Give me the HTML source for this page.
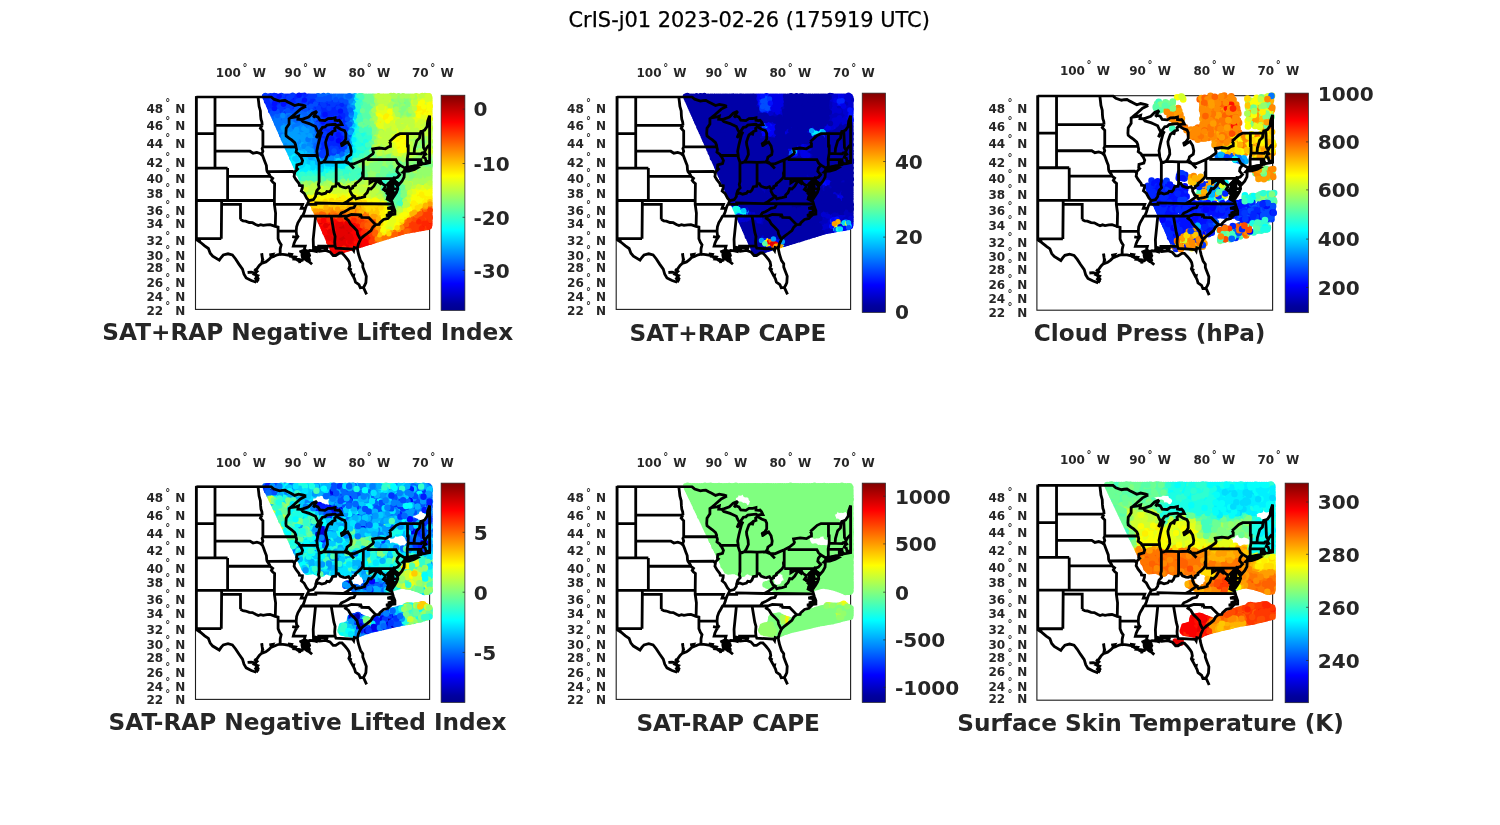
<!DOCTYPE html>
<html lang="en"><head><meta charset="utf-8"><title>CrIS-j01 2023-02-26 (175919 UTC)</title>
<style>html,body{margin:0;padding:0;background:#fff}svg{display:block}text{font-family:"DejaVu Sans","Liberation Sans",sans-serif}.b{font-weight:bold;fill:#262626}.t{font-size:23.2px}.c{font-size:20.1px}.a{font-size:12px}</style></head>
<body>
<svg width="1500" height="825" viewBox="0 0 1500 825">
<defs>
<linearGradient id="jet" x1="0" y1="1" x2="0" y2="0"><stop offset="0%" stop-color="#00008f"/><stop offset="3.1%" stop-color="#00009f"/><stop offset="6.2%" stop-color="#0000bf"/><stop offset="9.4%" stop-color="#0000df"/><stop offset="12.5%" stop-color="#0000ff"/><stop offset="15.6%" stop-color="#0020ff"/><stop offset="18.8%" stop-color="#0040ff"/><stop offset="21.9%" stop-color="#0060ff"/><stop offset="25%" stop-color="#0080ff"/><stop offset="28.1%" stop-color="#009fff"/><stop offset="31.2%" stop-color="#00bfff"/><stop offset="34.4%" stop-color="#00dfff"/><stop offset="37.5%" stop-color="#00ffff"/><stop offset="40.6%" stop-color="#20ffdf"/><stop offset="43.8%" stop-color="#40ffbf"/><stop offset="46.9%" stop-color="#60ff9f"/><stop offset="50%" stop-color="#80ff80"/><stop offset="53.1%" stop-color="#9fff60"/><stop offset="56.2%" stop-color="#bfff40"/><stop offset="59.4%" stop-color="#dfff20"/><stop offset="62.5%" stop-color="#ffff00"/><stop offset="65.6%" stop-color="#ffdf00"/><stop offset="68.8%" stop-color="#ffbf00"/><stop offset="71.9%" stop-color="#ff9f00"/><stop offset="75%" stop-color="#ff8000"/><stop offset="78.1%" stop-color="#ff6000"/><stop offset="81.2%" stop-color="#ff4000"/><stop offset="84.4%" stop-color="#ff2000"/><stop offset="87.5%" stop-color="#ff0000"/><stop offset="90.6%" stop-color="#df0000"/><stop offset="93.8%" stop-color="#bf0000"/><stop offset="96.9%" stop-color="#9f0000"/><stop offset="100%" stop-color="#800000"/></linearGradient>
<g id="map"><path d="M18.6 0L18.6 71.3M0 36.9L18.6 36.9M18.6 28.5L65.8 28.5M18.6 54.4L53.6 54.4L56.7 56.4L60.5 55.6L63.7 56.6L66.2 58.8M0 71.3L31.2 71.3M31.2 71.3L31.2 103.7M31.2 79.6L73.7 79.6M0 103.7L78 103.7M25.2 103.7L25.2 107.6L24.9 141.9M24.9 141.9L2.5 141.9L3 143.5L0 143.5M25.2 107.6L44.1 107.6L44.1 122.6M44.1 122.6L46.6 124L49.2 124.3L52.9 125.7L56.1 125.9L59.2 127.6L61.8 128.8L64.3 127.9L66.8 128.6L70.6 128L73.7 127.8L78.9 129.6M78 103.7L78 107.6L79.2 116.2L78.9 129.6L81.7 130.3L81.7 141.9L83.2 145.6L84.8 147.9L83.8 152.2L83.8 155.8L82.9 158.7M81.7 134.3L99.8 134.4M73.7 79.6L76.3 81.6L75 83.7L76.3 85.3L78.2 86.8L78 103.7M78 107.6L106.2 107.6L104.8 111.5L109 111.5M66.2 58.8L67.1 61.2L68.7 65.5L70 68.8L70.3 73L70.8 74.8L73.1 77.9L73.7 79.6M70.8 74.8L96.2 74.6L98.2 76.5M66.5 50.1L99.5 50.1M65.8 28.5L64 31.5L66.5 34.2L66.5 50.1L65.7 51.8L66.5 54.4L65.5 57L66.2 58.8M61.6 0L62.2 4.8L62.7 9.5L64 14.2L64.2 18.8L64.6 22.5L65.5 25.2L65.8 28.5M93.9 21.1L92.7 21.9L92.7 27.2L89.8 31.5L89.5 36.9L89.8 39.1L92.6 41.3L95.2 43.1L98.3 45.9L99.3 48.3L99.5 50.1L100.2 52.7L99.7 55.3L102.7 57.5L103.1 58.6L104.6 60.4L106.2 63.8L105.3 66.7L100.5 68L100.2 71.3L101.2 72.2L98.3 75.1L98.2 76.5L97.7 79.6L99.6 82.9L102.7 86.9L103 88.6L106 89L105.9 91L104.9 94.2L107.8 96.6L110.3 101.3L112.6 103.9L111.2 106.8L110 108.8L109 111.5L107.8 115.4L106.5 118.5L105.3 119.3L103.7 122.3L101.5 126.1L100.2 129.9L99.8 134.4L100.2 138.2L101.5 139.7L99 143.4L97.7 146.3L96.9 149.3L108.8 149.3L108.1 151.8L109.7 155.1M103.1 58.7L121 58.7M122.7 65.5L122.7 84.9L122 87.7L122.9 91L120.4 93.8L119.4 97.4M166.9 74.3L166.1 76.3L166.4 79.6L164.8 82.1L162 84.7L159.1 86.9L159.1 88.3L156.3 89.8L156.3 91.1L153.8 92.4L152.2 90L149.4 91L147.2 90.7L143.7 89.4L142.1 86.9L139.8 86.9L139.3 89.5L136.1 89.9L134.6 93.4L133 95L130.5 94.6L129.2 96.4L125.4 97.4L122.3 96.2L119.4 97.4L119.1 99.8L116.9 102.9L112.6 103.9M139.8 86.9L139.8 65.5M127.3 65L139.8 65.5L148.4 65.2M110.3 107.6L119.4 107.6L119.4 106.2L147 106.8L159.6 106.8L196.2 107.2M147 106.8L150.6 104.9L153.2 102.9L155.7 101.3L157.8 99.4L155.7 98.2L153.8 94.6L153.8 92.4M157.8 99.4L159.5 102.1L162 101.3L164.8 100.9L168.3 99.8L168.3 98.2L170.8 95.8L172.4 91.8L174.6 92.2L177.4 89.4L180.6 84.1L183.8 86.6L184.5 85.1L183.7 82.9L181.5 82.1L179.6 83.5L176.8 84.1L173.5 86.1L173.5 81.9M166.9 81.9L196.7 81.9M166.9 81.9L166.9 63.1M184.5 85.1L185.9 86.9L188.5 88.6L188.8 90.2L187.2 92.6L189.1 93.4L193.5 96.2M159.6 106.8L157.6 110.8L153.8 111.5L151.3 113.1L148.1 114.9L145 116.2L142.9 119.3M105.3 119.3L150.6 119.3M150.6 119.3L155 117.7L163.6 118.1L163.6 118.9L164.5 118.5L165.3 120.6L172.3 120.8L179.3 127.9M150.6 119.3L149.1 121.6L151.9 123.5L154.1 127.3L157.6 130.7L160.7 134.1L161.3 137.4L163.2 141.1L164.7 141.7M134.8 119.4L137.5 135.4L138.7 139.7L138.3 145.2L138.7 149.3L139.5 151.4L156.3 152.4L157.3 153.9L157.9 150.7L161 151.5M138.7 149.3L122.3 149.3L122.3 150.4L123.5 151.8L122.9 154.4M118.5 119.3L119.1 120L116.8 142.6L117.2 155.1M171.7 60.6L171.7 62.9L199.5 62.9L201.2 66.3L203.6 68.3L200.9 71.6L200.4 74.6L203.3 77.9L201.1 80.4L198.9 81.2L198.2 82.9L198.5 84.1M203.6 68.3L208.6 71.3M198.9 81.1L197.6 81L196.7 81.9L196.7 92.1L201.4 92.1M195.7 96.2L200.1 95.5M210.1 71.3L209.7 70.5L211 69.7L210.8 62.5L211.8 56.5L211.8 49.2L211.1 49.2L211.1 44L211.1 36.9M192.9 44.9L195.4 42.7L199.8 38.7L203.6 36.9L223.7 36.9L224.4 34.7L226.4 34.2L228.2 33.3L230.7 29.7L231.3 24.3L233.2 18.8L233.2 66.3M210.8 62.5L221.9 62.8L224.5 62.8L224.5 63.8L224.8 64.8L226.1 67.1M221.9 62.8L221.9 68.6M217.7 56.7L218.1 51.8L219.3 47.5L220.3 44L223.1 41.3L223.7 36.9M211.8 56.5L225 57L225.6 56.1L228.2 55.5M228.8 53.8L227.1 50.9L226.7 41.3L226.4 34.2M3 143.5L3 143.5M101.5 163.4L105.9 163.1L107.5 161.6L110.9 164.1L112.8 163.1L110.9 160.2L109.7 157.3L111.6 156.2L109.7 155.1L113.4 153.6L117.2 154L119.8 154.7L119.8 151.5L120.4 153.6L122.9 154.4L129.2 153.6L133.6 155.1L136.8 158.7L139.3 158.7L143.1 156.2L145.6 156.2L148.7 159.5L151.3 162.7L152.8 165.2L153.5 168.8L152.5 171.7L154.1 174.5L156.3 178.7L158.2 182.3L159.1 185.4L162.6 187.9L163.9 191L167 190.6L168.3 188.5L169.5 185.8L169.9 179.4L168 174.5L166.4 170.2L166.4 167L164.2 163.8L162.3 158L161.3 153.6L161 151.5L162 147.1L163.9 143L164.7 141.7L167.3 139.3L170.8 136.7L174.6 133.7L176.5 130.3L179.3 127.9L182.8 127.6L183.4 126.1L187.2 122.7L191.6 121.6L193.5 119.6L195.4 117.7L198.5 117.3L198.5 113.9L197 110L196.2 107.2L195.4 104.5L193.5 103.7L192.9 101.3L193.5 99L193.5 96.2L192.9 93.4L192.2 89.4L192.9 86.1L195.1 83.7L194.8 85.3L193.8 88.6L193.5 92.6L196 94.6L195.7 96.2L195.7 102.1L197.9 99L200.1 95.5L201.4 92.1L201.1 89.4L199.2 86.9L198.5 84.1L201.1 86.1L202.3 88.1L205.5 84.5L207.7 80.4L208 75.9L206.4 75.5L208 73.8L208.6 71.3M208 74.6L212.4 74.4L218.1 72.6L221.2 70.9L218.7 70.1L216.8 71.7L212.4 72L209.6 73L208 74.6M210.1 71.3L213.7 70.1L218.1 69.1L221.5 68.6L224.1 68L224.4 65.5L225.6 67.4L226.1 67.1L229.1 66.7L233.2 65.9L233.2 64.6L229.7 64.6L228.8 61.2L226.9 60.4L227.8 58.3L229.4 57.4L228.2 55.5L228.8 53.8L230 51.4L231.9 49.2L233.2 47.9M148.4 65.2L153.2 67.1L157.6 67.1L161.3 65.5L166.9 63.1L171.7 60.6L176.5 57L177.1 55.7L176.5 53.5L176.2 52.2L182.8 51.2L189.1 52L192.2 50.1L194.1 49.6L194.1 46.6L192.9 44.9M148.4 65.2L150 62.9L150.6 60.4L154.4 57.8L154.9 54.4L153.8 49.2L151.3 45.3L148.7 46.6L145.6 48.8L147.5 45.3L149.4 42.2L149.4 36.5L148.1 33.8L144.3 32.4L140.2 29.9L138.3 31.5L138.7 33.8L136.1 34.7L134.9 38.7L135.5 36.9L134.6 36L131.7 38.2L130.8 40.5L129.2 45.3L129.5 48.3L130.8 53.5L131.1 57.8L129.2 62.1L127.3 65L124.8 66L122.7 65.5L121 60.4L121 58.7L120.4 54.4L121.6 48.3L122.9 43.1L124.2 38.2L125.7 35.1L122.3 38.2L119.8 40.9L121.3 37.4L122.3 36L126.1 30.6L128.6 30.2L130.5 28.4L134.2 27.9L138.7 27.5L140.6 28.8L143.7 27.9L145.6 27.9L144.3 25.2L142.8 23.4L141.2 23.8L138.7 23.4L138.7 20.9L135.5 21.7L131.7 21.8L128.6 23.8L123.5 23.4L121.6 20.2L118.5 19.3L116.9 20.6L120.4 14.6L116 16.5L112.2 20.2L107.1 22L104.6 22.7L101.5 22.5L102.1 19.3L99.6 20.2L93.9 21.1L97.7 17.9L104 12.3L109.7 9.5M122.3 36L120.7 33.3L119.1 29.7L114.7 27.7L112.8 26.8L106.5 24.8L104.6 22.7M0 0L74.7 0L77.5 2.4L83.2 4.3L85.7 3.8L88.6 3.6L91.4 5.2L94.5 6.7L98.3 8.8L102.1 7.6L107.1 8.6L109.7 9.5M150.6 64.6L157.6 71.7M195.1 84.5L196.3 87.3L193.5 88.1L195.7 90.6L193.2 91.8L196.3 93.4L195.1 95.8L197.6 96.6L195.4 99.4L196.6 101.3M192.5 93.4L190.7 90.6L192.2 92.6L192.2 89.4L191 87.7L192.5 86.1M167 190.6L170.2 197.6M153.2 173.8L154.7 171.3L153.8 173.1M156.3 178.7L157.3 178.4L156.9 180.8M193.5 103.7L189.7 101.7L193.2 102.5L193.5 101.3L190.3 99.4L193.2 100.2L193.5 99L189.7 95.8L193.2 97.8M196.3 110L191 111.5L195.4 111.9L196.6 114.6L191.6 116.2L195.4 116.9L189.7 118.5L193.5 119.3M0 0L0 143.5M108.1 161.2L112.3 164.6L115.7 167.5M103 155.2L108.1 153.1L111.5 154.4L113.2 158.6L111.5 162L114 162.9M118.2 150.2L122.5 151.4L126.7 150.6L131.8 152.3M95.8 139.8L98.7 140.3L102.1 140.2M-0.4 142.6L4 145.5L8.3 149.1L12 151.7L13.8 156.4L16.3 159.3L22.9 163.3L24.7 160.7L26.9 158.2L31.6 157L36 158.2L39.2 162.2L42.5 167.3L46.1 172.4L47.6 177.5L49.8 181.1L54.9 183.7L60 185.5M60 185.5L61.8 181.8L59.6 178.9L59.2 176L60.3 172.4L62.9 168.7L65.1 166.6L69.4 165.1L72.3 162.9L74.5 160.7L78.1 159.3M51.2 175.7L54.9 175.4L58.5 176.2M65.4 156.7L66.1 162.9L65.4 166.2M57.8 172.4L60.7 174.6L57.8 177.5L61.4 178.9L59.2 181.8L62.1 184.7M78.1 159.3L80.9 158L84.3 157.4L88.6 157.8L92.8 158.6L97.9 161.6L103 164.4L106.8 163.1M65.2 156.5L65.8 160.3L66.7 163.9M72.9 158.2L76.3 157.6L75 159.7L78 158.6M91.5 157.1L95.3 157.6L94.5 159.5L99.2 160.2L97.9 162.2L103 162.7L103.4 166.4" fill="none" stroke="#000" stroke-width="2.8" stroke-linejoin="miter" stroke-miterlimit="3"/><path d="M193.5 96.2L189.1 93.4L187.2 92.6L189.1 94.6L192.9 96.6ZM145.3 49.2L148.4 46.6L147.8 44.9L144.6 46.6ZM193.5 103.7L192.5 101.3L193.2 99L192.9 96.2L189.1 93.4L192.5 93.4L191.9 89.4L192.5 86.1L195.1 83.3L195.4 85.3L194.4 88.6L194.1 92.6L196.3 94.6L196.3 96.2L196 102.1ZM198.2 82.9L198.5 84.1L201.1 86.1L202 88.1L201.1 89.4L199.2 86.9ZM105.3 154.7L109 154.4L110.9 156.2L110.3 159.5L112.8 162.7L110.9 163.8L108.4 160.9L105.9 161.3L105.3 158.7ZM209.6 72.6L212.4 71.7L216.8 71.3L218.7 70.1L218.1 69.1L213.7 70.1L210.1 71.3Z" fill="#000" stroke="#000" stroke-width="2.2" stroke-linejoin="round"/></g>
<clipPath id="fc"><rect x="-1.4" y="-1.4" width="236" height="215.4"/></clipPath>
</defs>
<rect width="1500" height="825" fill="#fff"/>
<text x="749.2" y="27.3" text-anchor="middle" font-size="20.9" fill="#000" stroke="#000" stroke-width="0.25">CrIS-j01 2023-02-26 (175919 UTC)</text>
<g transform="translate(196.4 96.8) scale(1.0000 1.0000)">
<rect x="-0.9" y="-0.2" width="234.1" height="212.79999999999998" fill="none" stroke="#1c1c1c" stroke-width="1.1"/><g fill="none" stroke-linecap="round" stroke-width="5.4"><path stroke="#faff05" d="M220.5 105.3h0M212.0 113.3h0M219.5 13.2h0M224.9 6.7h0M114.6 102.3h0M219.6 99.9h0M223.2 92.0h0M198.8 51.5h0M229.0 13.0h0M233.5 11.2h0M207.4 42.5h0M202.6 40.0h0M167.8 101.7h0M184.1 24.5h0M184.3 119.1h0M133.2 100.2h0M230.4 16.7h0M151.8 99.4h0M123.6 99.3h0M229.9 100.9h0M224.8 106.5h0M212.0 111.1h0M190.3 23.3h0M151.4 94.9h0M140.4 101.0h0M191.2 123.5h0M222.9 96.4h0M191.1 126.2h0M230.7 6.5h0M187.5 13.7h0M164.5 100.2h0M209.2 50.3h0M212.8 114.7h0M231.6 13.3h0M205.4 40.8h0M231.4 11.1h0M185.7 121.3h0M141.7 100.1h0M228.3 102.3h0M221.8 107.7h0M233.5 5.0h0M228.5 4.0h0M221.5 100.2h0M188.3 121.9h0M214.4 105.9h0M228.9 94.4h0"/><path stroke="#57ffa8" d="M174.0 25.1h0M167.3 8.5h0M190.3 91.2h0M204.1 99.2h0M174.0 18.8h0M173.1 2.6h0M169.9 22.5h0M195.0 102.1h0M165.5 -1.2h0M171.7 7.5h0M134.6 82.8h0M173.5 29.0h0M165.5 74.7h0M169.3 13.0h0M154.7 66.0h0M192.7 76.3h0M171.6 54.5h0M187.3 94.5h0M111.1 83.4h0M202.8 86.1h0M187.1 82.9h0M157.8 65.4h0M131.8 82.9h0"/><path stroke="#000fff" d="M126.2 41.5h0M133.7 36.0h0M132.3 26.7h0M142.9 33.7h0M136.4 20.5h0M84.5 4.7h0M132.4 7.4h0M136.6 39.0h0M124.4 15.8h0M131.8 34.4h0M143.5 32.0h0M70.2 4.4h0M128.5 15.7h0M141.5 16.9h0M124.5 39.0h0M68.2 -0.7h0M133.8 33.3h0M137.3 25.9h0"/><path stroke="#42ffbd" d="M171.4 34.3h0M187.7 81.3h0M190.7 94.1h0M196.4 86.5h0M159.0 72.7h0M154.8 79.8h0M116.6 83.0h0M164.2 18.7h0M166.8 77.6h0M200.4 91.8h0M195.7 99.6h0M193.2 99.2h0M164.7 72.7h0M129.8 80.9h0M199.6 97.8h0M169.5 19.0h0M202.6 106.0h0M191.6 97.8h0M166.4 -0.3h0M170.9 29.7h0M199.2 88.6h0M161.4 19.9h0M169.1 57.6h0M158.8 81.1h0M165.9 57.5h0M200.9 99.3h0M199.0 101.1h0"/><path stroke="#d1ff2e" d="M232.7 0.3h0M144.9 92.5h0M113.2 96.9h0M203.9 24.4h0M225.9 -1.4h0M141.8 90.9h0M127.2 91.1h0M223.4 4.8h0M152.8 97.3h0M193.6 45.4h0M171.0 88.7h0M178.0 89.9h0M112.8 90.3h0M161.0 97.7h0M145.4 95.7h0M185.7 43.4h0M174.9 90.0h0M232.4 25.1h0M119.3 96.8h0M149.7 93.3h0M184.1 16.5h0M146.7 88.6h0M202.7 120.2h0M211.7 34.7h0M206.7 115.3h0M179.5 13.4h0M140.5 93.6h0M181.6 47.4h0M209.4 111.0h0M216.9 29.6h0M197.8 15.3h0M223.4 91.2h0M132.3 97.0h0M186.9 -0.7h0M215.1 92.6h0M188.0 40.2h0M205.3 28.9h0M224.1 99.3h0M200.0 36.9h0M197.6 45.8h0M212.6 38.8h0M219.1 18.3h0M204.0 28.0h0M189.9 50.8h0M210.0 38.5h0M227.3 88.3h0M192.5 43.5h0M212.7 102.0h0M198.3 23.4h0M148.2 90.9h0M221.7 23.1h0M222.3 -0.7h0M220.8 7.3h0M233.5 32.1h0M198.5 49.7h0M224.5 22.3h0M200.4 30.2h0M163.3 96.7h0M193.2 125.7h0M126.5 93.5h0M194.8 114.8h0M194.7 11.3h0M187.7 10.0h0M220.3 -0.7h0M224.2 27.2h0M198.8 126.3h0M165.1 96.5h0M173.9 88.3h0M133.9 95.4h0M204.9 114.8h0M209.4 56.6h0M195.4 121.2h0M219.7 26.6h0M192.3 131.3h0M201.7 32.6h0M212.0 97.2h0M216.8 23.7h0"/><path stroke="#ff4c00" d="M133.3 117.7h0M161.0 120.2h0M178.8 143.8h0M216.6 131.8h0M121.1 117.8h0M169.2 130.7h0M128.9 120.0h0M153.2 119.5h0M216.9 133.1h0M178.0 126.2h0M208.7 134.6h0M167.5 130.7h0M221.0 132.4h0M175.1 127.2h0"/><path stroke="#ff0f00" d="M125.5 122.6h0M140.6 123.4h0M127.9 127.3h0M168.5 137.7h0M159.6 127.3h0M140.5 143.6h0M159.8 137.9h0M155.2 124.7h0M168.9 146.8h0M165.1 143.7h0M159.5 134.6h0M164.9 138.6h0M173.0 145.0h0M142.1 124.1h0M167.7 146.2h0M136.7 138.5h0"/><path stroke="#00dbff" d="M137.8 65.6h0M157.2 36.2h0M110.7 65.1h0M94.4 58.3h0M153.5 57.0h0M157.8 33.5h0M146.6 63.3h0M115.8 67.5h0M126.3 67.7h0M113.3 68.1h0M158.4 13.0h0M124.8 69.6h0M102.4 67.9h0M109.0 61.9h0M127.6 68.8h0M132.5 70.5h0M101.5 65.6h0M106.6 64.0h0M103.3 61.1h0"/><path stroke="#d10000" d="M147.8 133.8h0M142.5 141.8h0M143.2 135.4h0M148.5 139.5h0"/><path stroke="#ff8a00" d="M209.4 126.2h0M148.0 115.3h0M215.9 118.9h0M126.1 114.3h0M156.3 116.7h0"/><path stroke="#008aff" d="M108.1 26.6h0M109.0 39.2h0M114.5 36.1h0M96.0 21.4h0M107.5 40.4h0M153.0 24.6h0M104.7 36.0h0M154.4 22.8h0M115.8 56.6h0M109.0 27.3h0M154.8 20.0h0M91.7 26.8h0M111.9 28.8h0M112.2 50.5h0M103.9 43.2h0M117.4 46.0h0M152.9 -1.1h0M106.6 53.0h0M104.5 54.1h0M111.5 31.5h0M104.1 49.7h0M116.2 52.8h0M110.0 36.8h0M88.2 31.7h0M153.5 45.4h0M86.5 26.5h0M83.4 33.5h0M125.0 62.0h0M108.6 29.8h0M107.8 47.6h0M98.6 36.5h0M84.4 33.4h0M109.1 49.5h0"/><path stroke="#ff2400" d="M174.3 145.3h0M171.5 142.1h0M222.3 129.1h0M173.9 136.9h0M233.5 121.6h0M219.9 124.4h0M165.8 133.5h0M137.5 155.4h0M216.0 126.0h0M233.5 125.8h0M218.9 132.8h0M164.7 131.1h0M162.9 129.0h0"/><path stroke="#0038ff" d="M107.8 -0.7h0M86.9 -0.7h0M95.3 3.1h0M129.6 56.7h0M87.8 11.8h0M74.2 -1.0h0M125.6 54.9h0M143.7 5.0h0M139.1 20.7h0M148.0 47.7h0M103.0 2.5h0M121.7 42.6h0M74.9 14.5h0M104.3 9.9h0M95.3 -0.7h0M124.3 33.7h0M131.4 4.6h0M139.2 33.6h0M82.8 12.2h0M124.8 25.5h0M147.2 51.8h0M124.7 9.8h0M145.4 52.0h0M90.5 10.9h0M125.0 51.3h0M99.4 -0.7h0M122.3 46.9h0M134.0 40.3h0M132.4 52.2h0M141.4 6.9h0M148.7 18.5h0M129.9 45.8h0M137.6 47.3h0M114.2 7.5h0M148.4 34.6h0M108.0 9.6h0M128.8 45.1h0M126.1 13.9h0M139.1 55.9h0M135.5 53.6h0M148.2 43.5h0M74.1 2.9h0"/><path stroke="#05fffa" d="M157.3 45.3h0M156.4 59.1h0M165.1 48.4h0M107.3 72.5h0M158.4 49.1h0M120.9 74.8h0M101.0 70.8h0M168.3 47.5h0M154.9 61.4h0M148.0 70.4h0M161.4 38.8h0M109.1 73.9h0"/><path stroke="#00b2ff" d="M157.8 -0.7h0M93.0 51.6h0M123.7 64.3h0M155.3 39.0h0M90.1 48.8h0M119.2 61.8h0M91.8 52.6h0M107.7 51.4h0M154.4 47.3h0M141.6 61.9h0M103.8 34.2h0M107.5 58.7h0M154.9 41.4h0M131.5 63.0h0M158.5 -1.2h0M107.6 45.6h0M113.1 56.6h0"/><path stroke="#fff000" d="M173.0 106.0h0M221.9 95.8h0M188.7 18.3h0M134.1 101.9h0M146.4 98.6h0M114.7 104.0h0M231.7 95.4h0M203.0 43.2h0M205.3 47.9h0M186.3 20.0h0M227.7 103.5h0M226.2 15.3h0M190.9 20.6h0M142.4 101.8h0M128.1 109.0h0M119.5 106.3h0M188.7 23.5h0M224.2 17.7h0M175.2 103.8h0M145.5 103.6h0M189.8 20.4h0M158.7 106.7h0M216.1 108.6h0M184.8 117.1h0M148.6 104.7h0M184.6 134.9h0"/><path stroke="#1affe5" d="M118.1 77.0h0M119.8 75.1h0M161.7 50.3h0M167.5 51.9h0M144.6 75.1h0M148.9 68.0h0M159.6 73.8h0M119.1 79.9h0M159.5 31.8h0M168.0 43.6h0M159.2 59.1h0M139.2 75.5h0M102.3 77.2h0M166.3 37.8h0M159.5 36.9h0M166.8 54.3h0M128.8 78.5h0M152.1 66.4h0M102.5 72.6h0M169.8 50.2h0M122.6 76.1h0M140.9 72.4h0M149.1 77.6h0M164.3 50.5h0"/><path stroke="#6bff94" d="M201.3 83.7h0M168.2 -0.7h0M206.2 77.1h0M165.5 69.4h0M190.0 96.3h0M192.9 72.9h0M159.5 68.8h0M106.2 85.0h0M184.5 67.7h0M196.5 108.6h0M174.4 -0.7h0M166.4 3.1h0M206.9 82.1h0M203.5 72.3h0M209.4 5.1h0M194.6 61.4h0M188.5 93.4h0M164.0 69.3h0M204.9 74.0h0M162.1 68.3h0M186.2 79.4h0M166.1 -0.7h0M197.7 74.6h0M163.9 63.5h0M195.1 103.7h0M106.0 84.5h0M139.7 83.9h0M164.9 11.7h0M173.3 20.0h0M209.2 80.7h0M170.8 15.4h0M189.1 88.4h0M189.9 69.4h0M166.3 4.6h0M208.2 72.7h0M175.2 5.2h0"/><path stroke="#bdff42" d="M140.4 94.3h0M193.6 49.7h0M233.9 44.6h0M216.8 31.3h0M197.3 -1.3h0M190.2 35.5h0M122.1 90.0h0M208.1 34.6h0M196.0 41.7h0M233.5 57.1h0M186.0 45.3h0M162.4 93.5h0M175.6 84.1h0M204.2 111.3h0M213.3 92.6h0M203.3 22.0h0M176.2 92.0h0M179.3 54.6h0M233.7 56.6h0M205.2 27.6h0M122.4 95.2h0M191.2 56.1h0M179.5 88.5h0M186.0 28.1h0M210.4 97.3h0M192.4 5.5h0M151.8 90.3h0M189.4 52.5h0M139.0 89.8h0M225.6 87.6h0M196.8 56.3h0M178.3 47.0h0M159.9 89.9h0M118.2 93.2h0M167.2 90.0h0M202.4 114.6h0M129.2 88.9h0M137.2 91.9h0M189.8 8.7h0M201.0 59.2h0M229.0 25.7h0M232.4 58.6h0M217.3 27.7h0M196.1 11.5h0M219.8 40.0h0M183.7 7.2h0M183.4 2.7h0M179.9 17.8h0M188.5 50.2h0M188.4 5.5h0M188.7 31.5h0M200.3 19.7h0M214.6 50.3h0M190.8 8.0h0M215.5 21.5h0M231.5 36.6h0M204.1 59.5h0M217.7 33.9h0M219.5 90.2h0M217.9 25.8h0M213.1 89.5h0M205.8 113.5h0M224.9 34.6h0M181.7 43.4h0M107.9 88.8h0M193.2 -0.7h0M208.6 26.8h0M188.3 34.5h0M180.7 90.0h0M233.5 38.3h0M217.3 37.0h0M167.7 97.0h0M225.6 2.8h0M178.9 92.2h0M207.9 111.4h0M191.0 41.4h0M219.8 -1.2h0M194.8 9.4h0M216.0 45.0h0M183.3 50.5h0M219.1 85.7h0M232.0 85.7h0M194.0 6.7h0"/><path stroke="#80ff80" d="M215.9 65.6h0M166.2 25.9h0M217.6 65.6h0M206.9 83.0h0M173.0 70.5h0M198.9 64.1h0M201.6 73.2h0M161.4 65.7h0M206.6 103.5h0M186.6 69.6h0M129.6 84.5h0M177.5 8.8h0M183.4 72.4h0M206.5 106.4h0M211.0 5.0h0M171.1 74.7h0M191.4 70.9h0M163.9 65.2h0M208.0 99.2h0M216.4 73.2h0M175.6 11.1h0M206.7 15.3h0M207.5 69.8h0M211.8 67.8h0M175.9 51.8h0M227.3 51.7h0M176.8 68.5h0M167.3 68.8h0M126.9 84.4h0M203.2 67.6h0M189.7 63.7h0M173.0 -0.2h0M205.6 108.0h0M212.0 9.5h0M206.1 85.4h0M199.7 70.1h0M189.8 66.0h0M209.7 6.9h0M150.4 84.1h0M200.7 68.1h0M214.0 77.5h0M176.5 -0.7h0M173.6 65.6h0M208.1 102.0h0M191.3 61.7h0M201.1 76.0h0M187.6 98.8h0M165.8 65.2h0M177.0 30.1h0M198.0 72.0h0M176.9 70.1h0M199.2 110.7h0M228.0 66.0h0M173.0 16.6h0M190.8 58.7h0M202.6 70.1h0M210.2 11.8h0M213.4 78.4h0M175.5 75.0h0M208.2 13.6h0M181.6 57.3h0M203.0 2.9h0M207.3 66.3h0"/><path stroke="#2effd1" d="M102.8 77.3h0M104.2 78.3h0M110.1 76.7h0M173.2 42.7h0M162.0 77.1h0M198.0 85.2h0M194.5 97.3h0M167.2 45.3h0M195.4 94.7h0M103.7 79.2h0M157.7 73.9h0M160.0 78.4h0M190.3 81.5h0M162.6 72.9h0M124.6 76.7h0M162.5 53.7h0M169.9 35.9h0M195.2 88.6h0M126.2 80.0h0M145.3 78.6h0M161.0 27.1h0M199.0 99.1h0M199.8 84.2h0M152.8 70.9h0M124.3 79.3h0M153.6 73.1h0M171.4 52.7h0M162.2 32.5h0"/><path stroke="#ffc700" d="M134.0 109.0h0M122.6 112.1h0M182.5 135.7h0M177.0 112.9h0M179.0 115.7h0M174.3 114.3h0M155.7 108.4h0M167.8 115.6h0M181.9 117.6h0M184.5 112.4h0M164.3 109.0h0M136.9 109.8h0M197.3 133.9h0M167.9 103.3h0"/><path stroke="#e50000" d="M148.2 126.0h0M146.2 139.9h0M157.5 146.6h0M153.6 136.4h0M149.7 142.2h0M147.1 126.5h0M141.4 152.1h0M157.5 127.9h0M159.8 149.4h0M149.1 149.7h0M140.5 130.1h0M143.3 145.2h0M147.2 137.4h0M156.9 144.1h0M143.7 130.4h0M142.6 133.8h0M140.5 138.4h0M137.5 129.1h0M135.8 151.6h0M140.4 147.6h0"/><path stroke="#94ff6b" d="M178.0 22.5h0M204.0 10.0h0M214.6 9.3h0M226.9 85.6h0M189.9 103.4h0M223.0 60.3h0M198.8 0.8h0M222.6 42.7h0M201.9 62.0h0M194.4 110.1h0M179.6 65.7h0M214.2 0.9h0M180.5 75.5h0M215.1 12.2h0M128.2 86.4h0M228.8 49.7h0M223.8 41.6h0M225.0 80.1h0M232.2 63.3h0M221.1 77.8h0M121.2 87.6h0M195.1 112.3h0M226.7 82.2h0M118.4 85.1h0M181.5 84.0h0M173.1 74.6h0M200.4 5.2h0M130.8 85.1h0M232.6 81.2h0M199.1 68.0h0M221.1 62.8h0M231.5 66.1h0M210.4 19.9h0M213.1 71.1h0M178.3 29.4h0M177.8 57.4h0M226.3 49.4h0M224.9 67.7h0M202.9 12.2h0M227.4 72.9h0M229.1 59.0h0M214.5 4.8h0M171.0 70.3h0M230.3 82.0h0M220.4 60.6h0M233.5 80.0h0M181.5 38.1h0M205.4 73.3h0M228.5 79.8h0M220.7 42.6h0M183.3 74.2h0M179.0 11.3h0M228.2 42.5h0M206.7 18.3h0M181.5 61.1h0M227.5 60.8h0M201.8 7.2h0M202.4 -1.0h0M135.0 85.7h0M209.6 16.6h0M207.9 74.9h0M225.1 59.4h0M212.0 0.9h0M179.6 26.6h0M204.2 17.9h0M233.5 65.4h0M221.1 70.8h0M176.6 24.7h0M197.5 5.1h0M224.9 76.2h0M203.6 -0.7h0M175.6 76.7h0"/><path stroke="#0061ff" d="M151.9 50.3h0M87.8 20.1h0M131.0 58.2h0M115.2 23.6h0M92.4 16.4h0M116.6 20.0h0M80.9 27.8h0M132.8 -0.7h0M85.1 20.4h0M102.2 14.1h0M133.2 59.4h0M120.7 54.7h0M89.8 18.9h0M122.3 55.2h0M153.2 32.5h0M150.7 41.4h0M84.5 16.1h0M83.2 16.5h0M94.9 16.8h0M83.0 18.4h0M80.0 25.9h0M107.0 13.4h0M120.3 35.5h0M113.2 15.9h0M149.8 3.4h0M93.3 18.5h0M125.1 0.8h0M119.1 30.0h0M144.2 1.1h0M153.3 9.5h0M150.5 11.1h0M147.3 -0.7h0M148.1 0.4h0M117.4 22.2h0M126.5 -0.7h0M122.1 58.2h0M149.9 6.2h0M120.6 44.9h0"/><path stroke="#004dff" d="M133.7 2.2h0M101.2 10.0h0M118.2 19.2h0M149.7 25.4h0M120.3 -0.7h0M150.8 45.6h0M143.1 56.5h0M151.0 51.4h0M92.3 12.4h0M97.5 13.1h0M122.6 10.1h0M113.4 12.4h0M137.1 3.4h0M117.3 13.9h0M123.6 42.4h0M97.1 0.3h0M119.5 23.6h0M148.7 9.0h0M101.2 18.8h0M139.0 -0.7h0M76.4 15.5h0M147.6 2.7h0M117.0 11.0h0M150.7 10.0h0M151.0 29.5h0M123.1 4.4h0M94.3 13.8h0"/><path stroke="#ff6100" d="M217.8 119.4h0M120.6 117.3h0M146.3 118.3h0M202.7 136.4h0M152.3 117.5h0M122.7 117.7h0M161.6 122.6h0M164.7 122.8h0M172.1 126.1h0M176.0 129.2h0"/><path stroke="#ff7500" d="M200.9 135.6h0M180.5 127.8h0M194.7 138.8h0M144.2 116.6h0M188.8 140.7h0M176.9 125.0h0M172.7 129.4h0M172.9 120.3h0M190.8 140.1h0M211.9 122.7h0M153.9 117.0h0"/><path stroke="#0024ff" d="M134.2 46.9h0M146.0 44.8h0M137.2 52.9h0M130.6 54.3h0M135.1 6.7h0M81.8 1.0h0M142.7 27.0h0M138.8 29.7h0M72.6 0.2h0M120.5 13.0h0M136.1 31.5h0M137.2 43.7h0M127.7 14.1h0M125.0 45.4h0M128.3 49.2h0M144.1 12.5h0M80.0 2.4h0M129.7 28.8h0M85.4 7.8h0M71.4 -0.4h0M140.4 19.1h0M124.6 21.3h0M83.5 0.2h0M135.4 29.2h0M75.3 12.5h0M145.9 23.7h0M143.6 10.0h0M139.9 10.9h0M129.5 11.9h0M126.3 26.5h0M68.3 -0.4h0M103.6 -0.7h0M132.1 17.0h0M116.8 0.9h0M138.0 9.6h0M115.8 7.0h0M88.7 0.1h0M97.3 -0.7h0M137.7 15.8h0M94.6 7.9h0M145.1 26.0h0M109.2 0.1h0M145.3 15.2h0M134.9 13.5h0M72.7 4.9h0M132.1 24.6h0M138.2 37.2h0M80.3 7.4h0M134.7 37.9h0M116.3 3.1h0M139.6 25.2h0M130.8 13.5h0M146.7 50.2h0M84.2 13.3h0M143.2 23.8h0M130.3 32.2h0M147.4 20.7h0M93.2 -0.7h0M114.7 0.5h0M136.4 5.1h0M128.5 6.6h0M127.8 40.1h0M134.1 19.3h0M143.4 36.3h0M144.4 49.9h0M141.1 26.8h0M135.6 22.1h0M139.5 39.0h0M141.0 14.6h0M123.8 12.1h0M143.8 18.0h0M134.9 26.7h0M136.2 45.2h0"/><path stroke="#a8ff57" d="M225.2 83.6h0M217.3 52.4h0M214.9 6.5h0M201.5 -0.7h0M132.7 86.6h0M118.7 87.9h0M207.8 -0.7h0M203.9 61.3h0M184.5 95.8h0M149.6 88.3h0M182.8 -0.7h0M213.7 36.6h0M191.6 107.0h0M215.9 57.0h0M186.1 34.9h0M180.6 7.4h0M211.1 59.4h0M196.8 7.3h0M214.6 18.3h0M180.8 58.5h0M215.6 60.5h0M174.5 81.2h0M178.1 15.9h0M187.4 58.7h0M202.5 19.8h0M110.6 93.4h0M161.9 86.0h0M233.5 75.8h0M229.9 56.2h0M183.1 86.6h0M194.4 2.1h0M231.6 40.9h0M151.3 85.3h0M233.5 59.1h0M123.8 88.5h0M179.0 42.6h0M233.5 50.8h0M155.2 87.9h0M177.8 86.4h0M232.5 73.9h0M181.1 3.4h0M233.9 50.7h0M188.6 102.4h0M191.1 -0.7h0M199.2 16.1h0M194.4 43.3h0M222.0 80.7h0M195.4 4.8h0M220.9 84.0h0M172.7 79.6h0M182.0 32.0h0M127.0 87.9h0M215.3 16.8h0M177.9 82.3h0M194.7 0.1h0M178.8 83.5h0M107.0 86.9h0M183.3 43.3h0M170.6 92.8h0M180.2 32.5h0M213.2 11.5h0M183.1 95.8h0"/><path stroke="#00c7ff" d="M104.8 67.3h0M139.2 68.3h0M109.3 58.6h0M144.6 65.4h0M152.0 58.2h0M94.8 56.4h0M154.2 54.8h0M157.1 18.0h0M134.6 69.8h0M156.8 22.3h0M143.2 64.0h0M113.0 70.1h0M157.5 11.7h0M114.8 63.2h0M156.5 32.2h0M139.2 65.1h0M110.6 61.3h0M111.6 62.8h0M137.9 62.9h0M157.4 14.8h0M122.0 69.7h0M98.0 56.5h0M128.9 65.1h0"/><path stroke="#00f0ff" d="M132.3 72.6h0M149.9 65.0h0M157.5 25.7h0M102.8 70.4h0M159.6 12.1h0M159.8 -0.7h0M156.8 40.2h0M128.9 72.0h0M160.1 2.2h0M156.0 57.5h0"/><path stroke="#fa0000" d="M133.9 130.4h0M136.3 139.8h0M134.9 149.7h0M130.7 140.2h0M138.5 148.9h0M128.6 135.8h0M157.4 133.8h0M144.4 151.6h0M154.7 151.3h0M158.7 138.3h0M165.0 142.6h0M133.2 145.9h0M130.0 137.1h0M166.7 145.2h0M158.4 142.9h0M158.7 143.9h0M134.0 139.7h0M131.6 129.3h0M131.9 141.6h0M137.2 155.6h0M137.9 139.2h0M124.8 126.9h0M161.6 144.3h0M152.2 148.9h0M134.8 124.7h0M145.0 154.2h0M135.2 131.0h0M154.5 138.3h0"/><path stroke="#ff3800" d="M214.5 128.1h0M233.5 115.4h0M228.6 116.1h0M215.8 124.6h0M233.4 119.5h0M227.2 131.4h0M161.9 125.8h0M162.3 124.4h0M214.5 122.4h0M177.1 139.8h0M229.2 131.0h0M167.7 133.9h0"/><path stroke="#009eff" d="M97.4 35.0h0M121.1 61.4h0M111.1 48.2h0M96.1 51.3h0M115.7 48.4h0M89.9 33.8h0M106.3 38.9h0M102.9 36.1h0M101.2 54.2h0M103.7 27.9h0M110.4 54.6h0M117.2 53.9h0M156.5 8.6h0M94.7 38.2h0M103.0 37.7h0M125.4 63.7h0M114.0 33.7h0M96.0 34.1h0M154.5 43.5h0M108.3 34.5h0M96.7 32.5h0M150.6 56.6h0M111.8 53.8h0M93.2 29.1h0M117.8 59.7h0M92.8 42.9h0M109.3 45.0h0M106.4 42.4h0M101.2 29.6h0M97.8 51.5h0M106.2 30.3h0M100.8 47.1h0M110.2 55.9h0M111.9 38.5h0M100.6 52.1h0M89.8 46.2h0M91.0 32.6h0M104.1 52.2h0"/><path stroke="#bd0000" d="M146.9 130.9h0"/><path stroke="#0075ff" d="M130.7 -0.7h0M78.3 22.1h0M127.3 61.0h0M116.8 25.1h0M116.0 29.7h0M84.6 25.9h0M116.3 38.1h0M148.1 56.3h0M83.6 31.9h0M147.0 0.9h0M113.5 24.3h0M107.6 18.7h0M119.4 55.9h0M131.6 -1.3h0M111.7 25.5h0M96.9 18.8h0M128.6 -0.7h0M112.9 18.1h0M117.0 40.4h0M117.5 36.8h0M153.3 29.8h0M143.3 58.4h0M95.4 42.8h0M82.5 31.6h0M120.0 58.6h0M94.1 22.8h0M151.5 4.1h0M124.4 -0.7h0M102.4 24.8h0"/><path stroke="#e5ff1a" d="M150.7 97.9h0M138.9 97.1h0M233.5 9.1h0M192.9 121.4h0M194.2 124.9h0M205.3 52.8h0M191.1 110.7h0M214.0 99.8h0M187.2 15.4h0M184.5 23.8h0M120.5 99.5h0M180.6 23.4h0M206.5 24.8h0M203.0 121.9h0M184.6 101.9h0M180.5 15.9h0M186.3 29.7h0M141.8 97.5h0M180.6 20.7h0M124.8 97.9h0M194.9 16.4h0M160.1 93.3h0M186.9 27.5h0M153.1 94.9h0M112.1 98.3h0M226.0 92.8h0M166.8 98.6h0M187.0 26.0h0M219.7 88.3h0M143.1 98.9h0M228.9 90.6h0M124.9 91.3h0M195.8 17.8h0M222.1 0.4h0M233.5 90.4h0M233.5 2.9h0M189.3 11.9h0M202.6 38.8h0M207.4 38.1h0M198.0 122.3h0M232.6 17.9h0M185.3 13.8h0M128.5 94.9h0M220.4 93.1h0M232.6 6.7h0M216.3 104.4h0M226.2 19.2h0M203.5 116.6h0M226.0 22.2h0M228.6 -0.7h0M227.5 2.5h0M234.0 22.3h0M197.8 38.7h0M232.8 -0.7h0M189.1 25.8h0"/><path stroke="#ffdb00" d="M172.1 109.0h0M144.9 101.8h0M120.5 103.7h0M169.6 104.5h0M226.4 13.7h0M175.8 106.0h0M183.0 139.3h0M179.3 113.5h0M123.6 105.9h0M215.4 115.5h0M150.1 106.3h0M225.2 11.8h0M176.9 114.9h0M233.5 102.9h0M178.3 109.8h0M231.5 106.2h0M117.2 106.0h0M159.4 104.4h0M132.0 110.5h0M214.4 108.2h0M122.1 108.7h0M165.0 103.7h0M206.7 121.7h0"/><path stroke="#ffb300" d="M213.3 119.5h0M220.0 114.6h0M168.7 116.8h0M199.3 133.0h0M166.4 110.6h0M161.2 109.2h0M170.2 115.6h0M189.4 138.1h0M159.2 109.3h0M181.0 138.5h0M233.4 106.4h0M117.8 112.3h0M232.2 108.5h0"/><path stroke="#ff9e00" d="M133.9 114.4h0M180.8 126.0h0M131.1 114.3h0M180.7 122.6h0M135.1 113.8h0M180.9 139.9h0M167.6 113.8h0M127.4 113.2h0M162.8 111.5h0M119.7 115.4h0M164.3 113.5h0M183.5 141.4h0M230.5 110.1h0M124.3 111.4h0"/><path stroke="#d1ff2e" d="M220.6 20.0h0M201.5 118.3h0M208.0 56.7h0M221.3 27.3h0M154.5 92.2h0M219.8 2.7h0M233.4 88.3h0M130.6 95.4h0M227.8 6.7h0M194.6 29.2h0M223.1 35.0h0M188.6 106.0h0M188.5 47.5h0M196.4 44.9h0M233.5 30.0h0M112.9 95.7h0M175.4 94.2h0M184.4 10.1h0M129.1 97.1h0M200.4 123.5h0M166.5 95.8h0M136.8 96.5h0M217.8 16.1h0M144.4 89.7h0M210.3 95.5h0M218.7 8.7h0M182.9 54.3h0M213.5 53.6h0M212.4 42.4h0M211.5 53.5h0M183.5 9.9h0M233.5 88.3h0M158.4 91.9h0M179.2 96.7h0M197.0 119.9h0M196.3 47.8h0M227.5 0.9h0M125.4 95.1h0M214.5 41.7h0M195.3 50.5h0M188.4 130.9h0M219.3 31.5h0M184.3 51.5h0M233.5 0.8h0M233.5 23.7h0M219.9 25.3h0M211.9 49.6h0M184.7 47.2h0M232.8 27.1h0M173.4 92.6h0M186.8 7.1h0M226.5 -0.7h0M197.4 28.0h0M213.3 45.6h0M217.8 20.9h0M187.2 104.3h0M117.0 95.1h0M233.5 25.8h0M196.1 118.0h0M230.3 -1.0h0M195.4 35.7h0M157.3 96.3h0M161.6 99.0h0M191.1 0.6h0M218.2 37.2h0M134.1 91.9h0M199.2 33.8h0M190.7 108.0h0M191.7 3.3h0"/><path stroke="#00c7ff" d="M126.9 69.4h0M95.1 53.7h0M118.4 63.9h0M106.6 65.1h0M97.5 54.0h0M122.7 67.9h0M158.2 1.9h0M101.0 56.6h0M117.3 67.6h0M103.1 55.8h0M126.3 66.4h0M109.5 68.5h0M90.9 50.6h0M120.0 67.1h0M108.2 56.2h0M102.7 63.6h0M99.0 53.8h0M110.4 62.9h0M131.5 65.7h0M113.7 66.1h0"/><path stroke="#05fffa" d="M148.0 71.7h0M130.6 72.1h0M159.2 23.2h0M159.3 55.0h0M160.3 42.8h0M157.7 56.4h0M138.3 72.4h0M158.2 47.0h0M158.7 26.5h0M114.3 73.3h0M113.9 74.3h0M115.5 74.6h0M164.3 45.7h0M146.7 72.6h0"/><path stroke="#e5ff1a" d="M175.5 100.9h0M231.7 23.4h0M116.3 97.2h0M198.9 119.5h0M191.6 129.0h0M203.7 36.7h0M188.8 120.4h0M185.6 32.0h0M197.6 36.8h0M179.7 99.8h0M210.8 43.2h0M202.8 125.7h0M177.9 101.7h0M224.2 0.2h0M220.2 15.4h0M214.9 97.4h0M172.0 99.9h0M111.3 96.4h0M183.2 103.8h0M227.5 93.5h0M190.7 130.2h0M196.5 43.1h0M226.0 20.5h0M201.6 50.8h0M212.0 105.5h0M233.5 15.4h0M188.5 128.3h0M229.3 10.3h0M215.6 102.3h0M233.5 21.6h0M232.8 19.8h0M200.2 128.0h0M197.5 51.9h0M191.4 133.4h0M144.6 97.5h0M217.5 92.9h0M189.4 15.6h0M229.6 -0.5h0M201.7 124.9h0M154.9 98.0h0M197.7 40.6h0M206.1 36.8h0M191.0 122.1h0M184.4 17.8h0M215.9 99.1h0M223.4 105.8h0M228.6 23.0h0M202.7 33.9h0"/><path stroke="#6bff94" d="M171.9 31.7h0M201.5 79.9h0M176.9 1.9h0M174.3 13.5h0M203.7 108.8h0M192.3 67.6h0M173.9 7.5h0M161.9 63.1h0M163.6 81.2h0M121.4 84.4h0M163.2 61.9h0M172.3 5.5h0M170.6 20.0h0M176.6 -0.4h0M207.2 6.5h0M194.7 73.8h0M170.3 68.4h0M175.6 20.6h0M206.9 2.7h0M190.9 76.4h0M185.4 76.5h0M209.8 79.7h0M169.9 5.0h0M144.0 82.2h0M184.7 85.6h0M203.0 76.3h0M173.3 11.9h0M108.5 83.3h0M165.0 20.3h0M158.2 70.2h0M169.5 9.3h0M193.4 104.5h0M166.8 72.0h0M170.3 60.3h0"/><path stroke="#57ffa8" d="M203.7 94.6h0M191.1 101.3h0M191.9 73.8h0M172.1 19.0h0M167.8 32.4h0M165.9 60.3h0M193.9 90.2h0M165.9 16.1h0M174.3 9.4h0M151.5 82.0h0M166.2 29.0h0M197.5 77.5h0M161.2 61.8h0M165.9 7.2h0M173.0 9.6h0M163.0 16.8h0M168.3 15.9h0M105.4 83.1h0M123.3 82.2h0M165.3 31.0h0M200.5 108.4h0M167.2 22.8h0M174.0 32.7h0M165.2 8.6h0M165.1 13.1h0M190.9 85.1h0M172.9 26.6h0M171.3 13.4h0M170.9 11.4h0M168.8 21.0h0M201.7 90.1h0M195.4 80.9h0M201.6 87.7h0M164.4 4.7h0M174.4 35.6h0M203.1 82.0h0M162.5 25.5h0M204.1 83.9h0M205.0 88.9h0M168.2 7.7h0M204.7 96.3h0M185.2 82.0h0M189.6 98.9h0"/><path stroke="#80ff80" d="M204.8 11.7h0M177.3 27.2h0M225.4 48.0h0M208.9 0.5h0M169.1 61.5h0M208.9 63.9h0M205.4 13.1h0M213.1 2.1h0M218.4 77.2h0M153.5 85.2h0M185.1 90.2h0M228.3 70.1h0M169.9 72.2h0M176.7 37.9h0M175.5 59.0h0M212.9 74.1h0M212.0 7.7h0M175.7 40.3h0M206.7 0.2h0M184.0 88.8h0M214.7 80.6h0M196.6 65.6h0M208.6 94.3h0M221.0 47.7h0M205.1 5.7h0M178.0 46.3h0M210.1 83.1h0M209.4 9.3h0M204.6 7.1h0M229.4 54.2h0M186.6 65.4h0M190.0 61.6h0M193.3 63.0h0M186.0 88.2h0M175.4 15.6h0M197.4 2.3h0M181.3 65.0h0M204.0 5.1h0M183.2 70.8h0M204.1 64.9h0M185.9 63.6h0M171.4 67.1h0M214.3 70.8h0M183.1 63.8h0M124.8 85.2h0M181.8 81.3h0M179.6 74.9h0M177.6 36.9h0M195.0 71.9h0M209.8 3.1h0M180.6 77.1h0M183.2 79.0h0M178.2 39.1h0M205.6 67.7h0M210.1 65.9h0M208.7 76.2h0M175.8 43.5h0M144.7 84.5h0M170.1 79.4h0M211.5 76.4h0"/><path stroke="#ffb300" d="M137.8 109.2h0M157.0 110.0h0M118.9 113.5h0M149.6 111.5h0M161.6 112.2h0M185.5 139.9h0M172.0 118.3h0M225.9 111.2h0M159.9 110.2h0"/><path stroke="#ff2400" d="M233.0 129.8h0M125.0 120.3h0M140.8 122.0h0M227.6 118.9h0M233.5 119.6h0M138.0 122.3h0M221.0 130.2h0M122.3 121.1h0M127.6 121.6h0M228.2 129.2h0M233.5 127.9h0M231.4 123.8h0M162.0 130.2h0M229.0 116.6h0M153.7 122.5h0M232.9 128.3h0M231.9 126.7h0"/><path stroke="#fa0000" d="M136.4 147.4h0M143.0 154.8h0M152.7 129.5h0M139.0 129.6h0M135.0 145.0h0M156.3 149.7h0M137.7 131.6h0M147.0 153.6h0M146.8 124.9h0M136.2 142.0h0M139.0 156.1h0M125.2 126.9h0M129.4 133.9h0M152.9 151.8h0M168.3 141.7h0M155.5 134.0h0M165.0 146.1h0M134.8 133.8h0M144.3 149.2h0M136.2 127.4h0M159.9 141.6h0M136.0 122.8h0M158.5 140.4h0M136.3 149.6h0M170.3 144.3h0M138.6 143.9h0M148.2 128.3h0M156.3 126.8h0M126.5 130.7h0M125.6 128.8h0M136.6 153.5h0M123.5 121.4h0M171.6 138.4h0M143.7 139.3h0M148.9 153.0h0M135.3 137.1h0M157.1 130.7h0M132.5 132.9h0M141.9 153.7h0M153.6 149.2h0"/><path stroke="#ff9e00" d="M147.1 113.2h0M150.3 114.7h0M153.2 113.2h0M223.9 113.4h0M134.1 112.8h0M159.1 112.4h0M140.5 115.1h0M144.4 112.9h0M133.8 110.9h0M184.8 141.9h0M233.5 109.1h0M141.5 110.8h0"/><path stroke="#ff4c00" d="M171.8 131.5h0M132.1 119.5h0M158.7 120.0h0M200.7 137.0h0M229.1 122.7h0M205.7 135.2h0M208.9 131.8h0M219.6 132.7h0M174.3 132.9h0M231.2 128.9h0M164.1 126.0h0M131.4 118.0h0M176.3 133.0h0M210.8 133.1h0M221.1 122.1h0M164.9 128.9h0M150.0 120.6h0M231.1 116.0h0M145.6 120.1h0M173.9 134.7h0M138.0 120.3h0M207.0 133.6h0"/><path stroke="#000fff" d="M76.5 -0.7h0M124.7 31.7h0M98.1 2.3h0M134.4 21.2h0M74.5 6.8h0M109.0 7.1h0M109.8 -0.7h0M133.7 9.2h0M81.0 10.0h0M139.9 46.9h0M108.0 -1.5h0M145.4 20.0h0M129.0 42.5h0M136.4 11.0h0M76.4 0.0h0M90.3 6.8h0M99.4 4.0h0M144.8 47.4h0M132.5 43.3h0"/><path stroke="#ff8a00" d="M169.8 121.4h0M168.2 118.9h0M187.3 140.3h0M193.8 137.5h0M148.3 113.6h0M138.3 112.5h0M151.3 112.8h0M160.9 115.0h0M204.2 130.4h0M125.7 113.0h0"/><path stroke="#ffc700" d="M150.9 108.3h0M144.6 110.0h0M232.1 104.8h0M118.3 111.0h0M134.9 107.9h0M185.8 137.8h0M147.7 110.1h0M207.6 123.4h0M118.5 103.7h0M137.8 105.4h0M170.1 113.1h0M184.1 124.5h0M135.1 107.1h0M204.0 128.4h0M118.0 111.6h0M170.5 110.4h0M205.6 127.1h0M227.7 108.9h0M127.5 110.5h0"/><path stroke="#d10000" d="M146.9 143.8h0M147.9 143.1h0M149.1 131.0h0M145.3 141.3h0"/><path stroke="#fff000" d="M204.5 37.9h0M189.2 110.8h0M131.7 106.6h0M229.1 104.5h0M189.7 117.8h0M208.1 121.2h0M182.2 24.3h0M133.1 104.1h0M222.7 111.0h0M222.1 16.4h0M150.8 101.8h0M217.9 110.6h0M227.5 15.8h0M219.7 103.6h0M186.0 111.6h0M219.2 108.0h0M183.8 107.0h0M173.0 110.4h0M205.2 43.9h0M218.5 113.2h0M190.6 136.0h0M151.7 103.3h0M122.2 101.2h0M233.5 100.8h0M131.8 101.8h0M223.8 10.0h0M122.3 104.8h0M201.7 127.9h0M221.8 10.0h0M189.6 113.7h0M187.2 114.6h0M129.4 101.5h0M227.7 106.8h0M183.1 112.3h0M202.4 52.1h0M220.1 97.1h0M181.8 105.3h0M124.1 101.9h0M205.5 123.3h0M186.9 135.9h0"/><path stroke="#00f0ff" d="M112.3 72.5h0M109.3 69.5h0M158.6 16.2h0M140.0 69.8h0M103.8 72.6h0M122.1 72.3h0M157.2 50.8h0M149.6 63.8h0M158.4 38.0h0M141.7 70.2h0M120.0 71.9h0M158.1 52.8h0M112.0 70.4h0"/><path stroke="#ff7500" d="M178.0 121.4h0M199.0 135.0h0M186.8 141.3h0M211.0 125.9h0M210.7 124.5h0M141.9 116.6h0M198.9 137.2h0M138.7 116.9h0M171.8 119.4h0M227.0 113.0h0M180.6 131.2h0M175.6 121.1h0M166.9 121.2h0M204.0 133.1h0"/><path stroke="#ff0f00" d="M161.6 135.5h0M145.0 124.1h0M160.5 132.5h0M154.9 151.1h0M134.4 129.2h0M166.8 139.6h0M160.2 146.1h0M223.8 121.7h0M133.3 126.6h0M146.3 121.4h0M165.1 140.9h0M171.9 140.0h0M131.4 122.3h0M164.9 148.1h0M224.9 128.3h0M160.9 128.8h0M132.4 144.0h0M130.5 131.4h0M126.6 127.8h0"/><path stroke="#bd0000" d="M150.7 137.4h0"/><path stroke="#004dff" d="M150.8 18.6h0M123.5 6.9h0M116.1 -0.7h0M76.6 18.3h0M86.9 13.9h0M142.9 1.9h0M146.3 4.7h0M114.6 2.2h0M150.7 13.9h0M146.9 24.5h0M119.6 24.5h0M87.9 15.5h0M149.5 34.6h0M128.0 0.4h0M122.4 0.1h0M119.3 2.5h0M139.1 4.7h0M146.8 15.5h0M135.0 1.2h0M151.8 32.4h0M149.5 40.4h0M149.5 27.4h0M122.4 20.8h0M78.1 18.8h0M149.9 39.5h0"/><path stroke="#00dbff" d="M99.9 67.1h0M95.3 60.9h0M159.3 4.4h0M119.6 64.1h0M103.8 65.5h0M98.6 67.8h0M158.7 10.0h0M147.3 64.8h0M136.1 72.2h0M158.8 20.0h0M119.5 70.4h0M104.5 63.2h0"/><path stroke="#42ffbd" d="M164.0 -0.7h0M127.5 81.7h0M167.5 58.4h0M141.4 76.5h0M187.7 86.3h0M173.9 52.6h0M196.7 100.9h0M134.9 80.6h0M192.0 83.6h0M114.6 81.9h0M151.9 78.5h0M198.4 80.6h0M203.8 101.5h0M113.1 83.0h0M192.7 95.6h0M191.9 88.8h0M192.3 81.4h0M198.4 95.3h0M197.1 91.9h0M149.5 81.9h0M164.3 23.2h0M198.6 105.7h0M169.8 28.0h0M162.3 30.2h0M203.7 104.8h0M146.7 79.5h0M165.6 79.3h0M109.2 80.8h0M153.5 68.2h0M200.5 85.8h0M201.0 103.3h0M156.6 63.3h0M193.5 84.1h0M164.0 6.5h0M194.7 93.0h0"/><path stroke="#94ff6b" d="M172.5 77.1h0M229.0 76.0h0M197.0 70.3h0M227.0 77.7h0M214.7 3.0h0M205.3 20.1h0M200.1 61.3h0M179.5 63.5h0M218.6 81.1h0M215.1 74.6h0M222.1 72.2h0M224.4 49.1h0M109.5 85.9h0M200.4 1.1h0M221.3 68.4h0M228.4 47.4h0M174.9 71.6h0M177.6 77.0h0M164.9 84.1h0M193.4 107.8h0M183.5 59.4h0M198.7 66.3h0M233.5 69.6h0M232.5 70.5h0M227.8 55.8h0M195.9 67.9h0M182.1 76.7h0M223.9 64.1h0M174.0 60.9h0M218.9 50.5h0M211.9 -0.7h0M183.3 84.0h0M215.6 83.2h0M225.0 75.3h0M175.8 66.5h0M217.7 79.1h0M230.2 70.2h0M225.9 52.1h0M216.7 81.3h0M170.1 64.2h0M185.0 58.3h0M113.2 87.3h0M207.2 93.1h0M138.0 85.8h0M219.8 74.9h0M200.4 7.5h0M188.3 63.7h0M187.1 101.4h0M225.8 71.0h0M199.5 1.7h0M153.3 83.7h0M209.1 87.7h0M182.1 70.2h0M229.3 72.1h0M218.1 70.2h0M229.9 39.4h0M177.2 63.5h0M111.3 87.6h0M197.7 113.6h0M172.2 63.6h0M222.2 51.7h0M229.7 63.6h0M221.2 45.7h0M175.4 61.5h0M123.5 86.2h0M176.7 18.2h0M211.9 81.0h0M230.4 80.0h0M221.3 59.7h0M222.2 65.3h0M180.4 36.0h0M220.7 79.5h0M232.3 67.1h0M191.1 68.0h0M167.5 82.8h0"/><path stroke="#bdff42" d="M187.0 -0.4h0M187.3 35.6h0M185.0 41.5h0M233.5 55.0h0M233.8 31.1h0M161.3 90.4h0M194.9 27.4h0M223.1 28.9h0M209.6 25.2h0M110.4 94.5h0M110.7 89.8h0M223.6 35.7h0M212.8 46.9h0M218.2 -0.7h0M208.2 108.5h0M179.3 86.4h0M226.2 30.3h0M115.6 91.1h0M160.3 88.9h0M121.7 92.9h0M233.5 44.6h0M175.4 85.9h0M227.4 27.5h0M191.6 52.3h0M228.5 -1.4h0M215.6 88.7h0M233.5 34.1h0M181.7 30.3h0M218.1 54.5h0M198.9 59.7h0M185.5 0.4h0M206.0 32.2h0M214.2 32.4h0M210.6 102.3h0M209.3 28.9h0M182.2 35.6h0M211.8 27.5h0M232.8 51.9h0M206.4 59.4h0M194.9 33.6h0M196.4 58.1h0M185.8 52.1h0M173.0 91.2h0M119.9 89.7h0M192.0 38.2h0M228.4 39.6h0M113.6 93.1h0M116.3 91.9h0M197.8 116.0h0M190.1 5.6h0M211.6 99.4h0M156.0 90.3h0M230.1 85.2h0M216.9 89.6h0M200.2 24.4h0M222.4 87.4h0M220.6 56.2h0M134.9 88.2h0M179.3 40.7h0M133.6 90.1h0M201.7 28.8h0M195.5 31.3h0M217.3 87.9h0M179.3 25.0h0M216.8 40.4h0M192.8 32.7h0M216.3 54.6h0M212.7 25.8h0M185.0 99.3h0M221.4 36.2h0M198.7 18.5h0M190.0 6.7h0M197.8 34.9h0M215.7 13.3h0M194.6 -1.4h0M217.6 2.0h0"/><path stroke="#ff3800" d="M217.8 129.4h0M217.6 123.9h0M232.4 122.1h0M231.0 119.3h0M126.3 120.2h0M175.7 140.2h0M224.7 119.4h0M233.5 117.5h0M212.8 133.9h0M213.0 129.3h0M225.8 124.9h0M176.8 144.4h0M214.8 133.5h0M214.7 130.7h0M224.0 131.2h0M160.8 124.1h0M223.0 132.1h0M142.8 119.2h0M221.1 126.9h0M225.0 125.8h0M213.8 125.9h0M221.1 128.5h0M231.3 130.7h0"/><path stroke="#e50000" d="M123.9 124.9h0M134.7 147.4h0M143.1 138.1h0M144.7 133.2h0M153.3 147.0h0M149.4 133.7h0M139.9 150.7h0M147.7 146.9h0M141.6 146.5h0M138.0 135.6h0M132.1 138.4h0M129.9 138.3h0M135.6 135.6h0M131.3 126.4h0M141.6 148.5h0M139.3 132.5h0M128.2 134.5h0M150.0 147.6h0M153.2 138.2h0M148.6 144.8h0M150.8 130.9h0M141.3 136.2h0M139.7 142.2h0"/><path stroke="#a8ff57" d="M216.9 50.5h0M217.8 42.6h0M186.4 3.3h0M181.0 52.9h0M183.2 92.4h0M148.7 86.6h0M178.5 52.0h0M171.1 84.6h0M181.7 40.4h0M142.2 88.8h0M201.3 15.3h0M178.3 7.6h0M184.5 34.5h0M233.3 44.0h0M179.8 10.1h0M195.8 54.6h0M115.4 86.7h0M217.3 -0.1h0M232.6 78.5h0M199.2 114.9h0M221.2 85.7h0M214.0 -0.7h0M193.7 112.9h0M177.5 13.4h0M184.9 50.5h0M180.1 -0.1h0M212.3 19.9h0M216.7 85.7h0M230.6 61.8h0M197.3 -0.7h0M218.4 83.8h0M233.5 77.9h0M216.4 17.8h0M224.7 81.0h0M110.5 95.7h0M131.3 88.9h0M209.2 90.4h0M200.6 113.3h0M225.3 56.1h0M217.8 38.0h0M188.3 56.0h0M222.2 83.2h0M141.8 86.6h0M216.9 46.9h0M206.7 62.7h0M218.4 58.3h0M193.5 56.0h0M182.0 89.6h0M199.4 -0.7h0M203.0 62.9h0M225.6 43.4h0M188.4 55.0h0M233.5 48.7h0M222.5 40.7h0M171.4 82.3h0M216.3 9.5h0M108.7 90.7h0M180.5 97.6h0M233.5 46.6h0M221.2 31.4h0"/><path stroke="#ffdb00" d="M157.0 103.7h0M178.7 106.4h0M140.6 104.0h0M220.9 110.8h0M126.8 106.6h0M152.5 106.7h0M181.9 108.1h0M184.5 129.3h0M167.4 108.6h0M148.3 107.6h0M128.6 106.3h0M126.2 102.6h0M177.0 110.3h0M224.2 109.3h0M115.9 107.6h0M213.3 117.2h0M155.0 102.4h0M185.2 130.9h0M160.2 106.5h0"/><path stroke="#0061ff" d="M145.3 -0.7h0M86.0 22.8h0M109.5 17.6h0M152.1 15.6h0M120.2 41.3h0M153.6 21.4h0M121.7 -1.2h0M153.6 1.9h0M89.1 13.6h0M112.0 16.5h0M151.5 27.0h0M130.0 1.1h0M96.4 25.2h0M105.2 18.3h0M120.5 0.0h0M131.9 60.9h0M109.2 14.8h0M77.5 20.2h0M82.9 22.2h0M121.7 57.1h0M138.0 58.3h0M151.4 35.9h0M149.5 54.4h0M153.3 8.0h0"/><path stroke="#009eff" d="M156.1 4.8h0M88.4 36.2h0M97.3 49.3h0M103.8 46.3h0M110.4 40.1h0M89.3 46.9h0M148.7 58.2h0M96.0 29.0h0M144.8 60.4h0M94.8 36.4h0M115.6 40.3h0M106.6 34.9h0M101.3 50.7h0M153.6 43.0h0M157.1 0.1h0M104.8 41.7h0M88.5 45.0h0M91.6 40.9h0M85.9 39.3h0M94.5 49.4h0M92.7 47.7h0M107.1 35.7h0M132.9 62.9h0M109.4 42.2h0M113.2 46.3h0"/><path stroke="#0038ff" d="M148.6 13.4h0M150.4 21.0h0M143.3 55.1h0M148.3 7.2h0M143.1 52.8h0M79.5 14.1h0M145.4 54.0h0M131.6 48.3h0M127.4 42.8h0M123.9 47.8h0M102.6 0.7h0M128.0 4.6h0M97.7 12.0h0M95.1 10.9h0M89.0 -0.7h0M89.5 16.3h0M144.6 34.8h0M96.3 -1.5h0M126.4 30.3h0M149.9 16.8h0M118.8 11.4h0M138.6 22.5h0M121.9 36.3h0M100.6 1.9h0M122.1 23.2h0M138.2 49.4h0M140.3 7.9h0M123.6 30.5h0M111.9 -0.7h0M134.0 43.7h0M146.8 40.4h0M139.3 18.1h0M147.1 13.5h0M130.0 47.1h0M72.2 3.5h0M127.7 58.1h0M122.2 37.9h0M147.2 12.5h0M147.1 9.9h0M116.9 10.1h0M84.7 12.5h0M86.0 0.5h0M112.7 8.9h0"/><path stroke="#1affe5" d="M114.6 77.0h0M102.0 75.4h0M167.5 41.3h0M163.1 43.3h0M160.3 52.2h0M124.7 75.0h0M128.4 76.9h0M161.6 0.3h0M160.0 45.0h0M161.1 45.8h0M159.6 57.3h0M160.2 30.4h0M153.8 63.9h0M161.2 16.2h0M168.0 39.0h0M137.6 74.5h0M120.1 76.7h0M159.3 40.3h0M126.7 75.1h0M160.8 34.7h0M163.8 55.1h0"/><path stroke="#0024ff" d="M79.1 10.8h0M141.9 50.0h0M142.5 29.0h0M70.3 -0.7h0M135.4 49.9h0M77.9 0.9h0M129.8 51.5h0M131.5 49.7h0M128.6 34.5h0M142.4 48.2h0M104.2 5.4h0M69.0 1.2h0M107.5 4.0h0M132.6 37.8h0M128.8 22.4h0M146.3 18.3h0M126.8 51.6h0M85.8 2.9h0M133.5 44.7h0M130.8 35.9h0M78.6 -0.7h0M137.7 13.9h0M122.3 7.7h0M136.7 34.2h0M94.5 5.8h0M129.5 20.4h0M134.0 15.7h0M74.4 -0.7h0M132.4 32.3h0M132.3 20.3h0M140.1 43.0h0M82.3 3.4h0M75.3 14.2h0M77.7 -1.3h0M71.6 6.9h0M80.7 5.0h0M131.2 28.2h0M138.1 41.3h0M128.6 24.7h0M148.8 23.0h0M74.1 12.6h0M134.3 25.4h0M132.7 56.8h0M144.6 38.7h0M107.8 -0.0h0M72.3 -0.7h0M138.3 46.2h0M105.7 -1.4h0M141.3 36.7h0M100.1 7.5h0M129.7 38.0h0M126.0 16.9h0M97.9 7.7h0M129.9 8.8h0M124.8 37.0h0M97.0 9.6h0M134.1 49.0h0M127.5 32.3h0M148.0 45.4h0M82.5 6.3h0M72.4 8.8h0"/><path stroke="#0075ff" d="M106.2 20.5h0M82.5 29.4h0M115.7 26.8h0M109.2 31.0h0M154.5 0.7h0M89.8 20.1h0M136.4 59.6h0M106.4 25.5h0M112.9 14.6h0M129.7 61.1h0M153.5 10.7h0M149.4 -0.7h0M83.4 25.7h0M137.2 60.3h0M108.0 22.9h0M88.2 22.1h0M82.7 20.6h0M87.5 25.8h0M115.3 46.2h0M92.2 23.8h0M118.4 34.9h0M118.8 38.5h0M145.5 58.8h0M101.3 32.1h0M99.0 27.1h0M116.7 44.0h0M109.4 25.9h0M117.7 31.5h0M104.1 16.8h0"/><path stroke="#00b2ff" d="M105.1 61.3h0M111.8 58.5h0M139.4 61.8h0M90.0 42.5h0M118.3 64.8h0M115.9 61.0h0"/><path stroke="#008aff" d="M92.5 25.5h0M101.4 37.8h0M93.7 26.9h0M111.7 35.5h0M97.6 41.1h0M94.1 32.1h0M151.4 53.6h0M140.3 58.6h0M156.1 7.4h0M84.2 35.4h0M101.4 25.7h0M155.4 2.5h0M93.7 35.0h0M102.4 47.6h0M97.4 25.5h0M113.5 21.0h0M87.0 36.1h0M98.7 47.6h0M153.0 48.3h0M95.0 47.8h0M115.4 31.7h0M90.4 46.8h0"/><path stroke="#ff6100" d="M234.0 113.2h0M177.8 128.6h0M232.3 112.3h0M171.0 132.8h0M168.2 124.6h0M233.5 111.2h0M206.7 135.2h0M171.3 123.6h0M178.9 142.6h0M208.2 129.6h0M230.3 112.1h0M180.8 143.1h0M216.9 121.8h0M154.6 119.8h0M174.1 130.4h0"/><path stroke="#2effd1" d="M161.4 4.9h0M143.2 72.9h0M169.0 41.7h0M202.4 92.6h0M162.4 12.2h0M163.3 78.6h0M170.0 53.9h0M197.8 90.1h0M162.7 17.7h0M116.5 79.4h0M142.1 75.5h0M163.1 3.2h0M162.2 58.2h0M170.2 39.0h0M196.3 96.5h0M136.9 78.9h0M170.6 42.5h0M142.2 79.1h0M197.3 88.2h0M130.6 76.1h0M163.4 34.7h0M146.9 77.1h0M164.9 43.9h0M163.6 51.6h0M165.3 36.4h0M173.1 44.9h0"/><path stroke="#faff05" d="M138.1 99.5h0M225.2 101.1h0M198.7 43.1h0M206.5 118.3h0M118.2 101.5h0M210.2 52.3h0M204.6 119.5h0M155.8 99.2h0M207.7 46.9h0M233.5 7.1h0M193.8 23.0h0M158.2 102.1h0M209.1 53.8h0M218.1 98.0h0M226.9 95.8h0M231.3 4.2h0M200.3 127.1h0M182.5 19.0h0M223.5 101.5h0M233.5 96.6h0M188.1 126.0h0M188.5 107.9h0M196.9 128.1h0M195.9 130.8h0M214.7 103.4h0M173.9 102.3h0M232.5 9.5h0M219.4 95.8h0M233.5 98.7h0M186.7 120.0h0M224.0 95.7h0M218.4 100.9h0M210.5 117.4h0M230.2 19.8h0M223.7 13.5h0M193.5 17.8h0M171.5 101.5h0M200.5 41.8h0M189.0 115.1h0M208.1 36.2h0M198.8 130.1h0M230.2 93.1h0M227.7 96.5h0M187.2 124.1h0M200.5 121.9h0M229.6 17.9h0M220.1 102.5h0M194.9 23.8h0M207.4 119.9h0M222.4 14.4h0M201.4 45.2h0M184.0 20.0h0"/><path stroke="#1affe5" d="M166.2 36.7h0M161.0 14.3h0M129.0 74.1h0M159.8 25.7h0M158.0 60.5h0M163.3 56.1h0M161.3 37.2h0M161.2 47.0h0M167.7 50.1h0M161.9 40.7h0M151.9 74.8h0M107.9 78.6h0M151.2 76.2h0M169.4 44.9h0M101.1 73.5h0M162.6 47.6h0M110.9 75.3h0M134.9 75.3h0"/><path stroke="#0024ff" d="M127.3 33.9h0M120.6 10.0h0M111.7 4.5h0M125.7 4.5h0M105.0 2.0h0M141.8 41.5h0M141.2 22.8h0M135.8 9.6h0M96.5 5.1h0M142.2 25.6h0M122.2 25.4h0M116.8 4.2h0M135.2 35.6h0M84.8 -0.7h0M125.9 49.8h0M111.1 7.1h0M72.6 8.9h0M135.4 11.1h0M78.2 3.1h0M136.9 29.1h0M69.9 3.1h0M141.3 10.1h0M127.5 38.8h0M126.2 19.8h0M124.5 17.9h0M145.2 7.6h0M141.8 32.2h0M145.8 27.5h0M90.9 2.4h0M105.7 -0.7h0M126.4 47.9h0M139.2 26.6h0M70.7 5.0h0M75.8 9.0h0M73.2 10.7h0M101.5 -0.7h0M133.3 13.5h0M114.6 4.1h0M127.4 10.8h0M80.7 -0.7h0M144.3 42.4h0M91.1 -0.7h0M130.9 18.4h0M93.3 8.0h0M145.5 29.1h0M88.3 10.0h0M141.6 46.3h0M106.8 7.4h0M148.1 39.3h0M79.1 -1.2h0M138.9 32.6h0M90.9 4.4h0M147.0 37.3h0M78.9 10.3h0M100.3 0.8h0M144.0 45.2h0M112.5 -0.4h0M133.3 23.0h0M130.3 23.1h0M88.4 3.4h0M130.4 41.7h0M92.8 3.2h0M135.1 18.0h0M139.5 15.9h0"/><path stroke="#e5ff1a" d="M147.5 96.7h0M217.3 95.3h0M197.2 123.9h0M233.0 93.1h0M189.5 13.3h0M230.4 24.8h0M211.0 31.7h0M221.4 5.1h0M202.5 56.8h0M222.7 20.4h0M182.1 27.8h0M184.0 29.3h0M199.8 48.4h0M218.9 23.1h0M193.4 117.5h0M163.7 101.7h0M210.5 47.5h0M209.0 113.6h0M182.7 22.5h0M127.4 98.6h0M227.9 20.7h0M226.3 90.9h0M233.5 13.3h0M196.2 25.5h0M209.5 114.7h0M183.3 13.4h0M233.2 29.4h0M191.4 16.3h0M201.5 54.1h0M189.0 133.8h0M182.1 11.5h0M211.0 45.9h0M233.5 92.5h0M195.7 125.9h0M194.9 129.2h0M114.7 103.4h0M148.2 99.4h0M193.6 119.0h0M233.5 19.6h0"/><path stroke="#57ffa8" d="M200.2 82.3h0M174.7 46.1h0M197.0 106.4h0M171.4 22.2h0M202.4 101.2h0M154.4 76.8h0M133.5 81.3h0M172.6 56.0h0M188.2 91.1h0M138.8 81.6h0M202.5 96.6h0M156.0 68.3h0M118.4 83.3h0M158.7 63.4h0M188.6 80.0h0M175.6 49.5h0M167.8 11.2h0M198.6 103.7h0M145.6 81.2h0M197.5 83.5h0M167.4 18.6h0M160.4 70.3h0M199.0 74.4h0M137.9 83.3h0M173.6 47.9h0M173.7 38.2h0M125.9 81.9h0M205.3 92.7h0M186.7 91.8h0M167.7 27.8h0"/><path stroke="#05fffa" d="M117.3 72.8h0M100.3 71.6h0M132.2 74.7h0M151.0 68.0h0M103.5 74.2h0"/><path stroke="#ff0f00" d="M164.7 134.9h0M134.1 147.8h0M123.1 123.0h0M129.9 125.0h0M137.0 151.6h0M150.9 152.4h0M162.6 146.9h0M123.4 123.6h0M132.3 124.2h0M232.7 125.0h0M137.7 124.0h0M172.8 145.6h0M162.0 148.3h0M156.9 150.5h0M173.6 142.9h0M150.5 123.3h0M168.9 139.4h0M132.3 145.3h0"/><path stroke="#fa0000" d="M154.2 126.7h0M130.8 136.3h0M154.5 146.4h0M138.9 126.0h0M127.2 123.6h0M131.6 142.1h0M136.9 132.6h0M144.3 153.9h0M166.9 147.5h0M153.1 124.3h0M137.7 153.1h0M141.6 126.5h0M154.4 128.4h0M162.9 133.4h0M162.5 139.8h0M145.4 153.4h0M162.4 136.9h0M127.1 131.1h0M160.9 149.3h0M162.4 143.0h0M136.5 153.9h0M170.8 146.2h0M158.9 149.9h0M158.9 130.4h0M129.0 136.4h0M152.3 145.2h0M157.5 135.7h0M127.3 132.6h0M157.2 139.8h0"/><path stroke="#00dbff" d="M147.0 67.4h0M153.1 61.0h0M116.6 71.0h0M116.4 66.4h0M95.2 60.2h0M106.4 68.0h0M104.9 58.8h0M105.9 70.5h0M124.7 72.9h0M141.9 64.0h0M97.8 65.9h0M132.8 67.5h0M99.5 58.9h0M158.6 17.5h0M101.5 61.0h0M107.7 65.1h0M96.1 62.1h0"/><path stroke="#94ff6b" d="M218.5 63.0h0M202.6 111.1h0M225.7 61.3h0M233.5 67.5h0M218.4 68.7h0M206.3 9.2h0M221.4 55.1h0M201.4 14.6h0M187.3 60.4h0M222.1 48.6h0M180.0 81.9h0M185.9 98.0h0M224.6 45.5h0M200.6 10.3h0M178.6 -0.7h0M211.2 63.0h0M233.9 65.3h0M232.0 46.0h0M145.7 85.1h0M233.5 73.7h0M209.1 93.1h0M143.5 85.1h0M207.7 79.3h0M180.4 34.9h0M205.5 3.5h0M200.7 64.0h0M169.2 81.8h0M210.6 61.2h0M203.6 1.0h0M230.8 74.1h0M176.7 54.7h0M228.7 45.9h0M209.3 17.7h0M197.6 60.8h0M213.0 63.2h0M166.9 63.5h0M229.1 40.8h0M212.7 83.6h0M112.8 85.8h0M188.4 68.1h0M221.0 52.1h0M224.6 72.4h0M210.4 18.3h0M170.1 76.4h0M218.4 45.8h0M179.4 1.9h0M227.5 63.5h0M213.9 72.0h0M211.4 13.8h0M223.3 70.6h0M232.3 77.3h0M233.5 61.2h0M232.7 72.1h0M175.9 79.9h0M212.6 60.8h0M227.9 74.7h0M225.0 65.0h0M181.2 87.3h0M196.2 63.2h0M230.2 42.6h0M178.9 33.3h0M168.9 64.9h0M202.8 14.5h0M175.7 23.6h0M222.3 74.2h0M216.2 63.4h0M217.7 60.9h0M213.7 68.7h0M232.2 50.8h0M223.5 79.3h0M178.8 61.8h0M233.5 71.6h0M179.2 79.5h0"/><path stroke="#00b2ff" d="M155.7 29.5h0M157.6 6.7h0M106.3 55.1h0M147.5 61.7h0M154.0 49.1h0M141.5 65.9h0M91.0 50.7h0M136.2 63.8h0M99.3 41.7h0M121.2 66.0h0M105.5 47.9h0"/><path stroke="#00f0ff" d="M153.8 58.7h0M157.9 29.2h0M151.0 64.2h0M96.9 64.0h0M141.7 68.6h0M160.0 0.6h0M137.4 70.3h0M99.4 69.7h0M130.0 69.4h0M109.3 72.4h0M145.3 69.6h0M97.0 59.8h0M157.2 53.7h0M149.2 69.4h0M106.4 74.1h0M143.9 68.0h0M156.0 53.0h0M98.9 66.5h0M157.5 43.0h0"/><path stroke="#80ff80" d="M176.4 7.2h0M209.5 70.8h0M157.6 82.9h0M234.0 68.3h0M159.8 83.7h0M206.7 98.8h0M175.0 55.2h0M163.5 82.9h0M209.5 67.7h0M177.5 59.3h0M227.1 45.7h0M199.1 10.0h0M175.3 68.6h0M222.3 50.8h0M207.3 11.6h0M207.9 98.0h0M179.1 67.8h0M211.4 86.1h0M206.7 87.8h0M146.9 84.3h0M204.5 16.2h0M192.3 66.0h0M183.8 65.1h0M220.2 65.5h0M171.3 72.7h0M177.2 71.7h0M178.0 31.9h0M192.2 58.2h0M233.5 63.3h0M106.5 86.6h0M215.0 79.3h0M211.7 64.8h0M193.8 65.6h0M176.9 34.9h0M205.2 70.2h0M182.2 68.7h0M178.4 70.8h0M216.8 67.6h0M185.0 72.3h0M175.2 26.7h0M226.6 67.2h0M216.8 77.1h0M190.9 72.4h0M177.2 41.5h0M206.5 94.1h0M164.6 68.4h0M180.5 73.2h0M212.6 17.0h0"/><path stroke="#d1ff2e" d="M232.9 2.1h0M192.5 11.5h0M225.9 24.8h0M191.2 28.8h0M193.6 132.4h0M229.9 89.1h0M176.8 99.8h0M190.4 46.0h0M201.0 22.1h0M120.9 97.0h0M193.7 38.9h0M227.1 32.4h0M153.1 88.8h0M156.2 95.4h0M205.6 57.5h0M183.9 10.8h0M213.7 86.8h0M152.1 92.3h0M185.6 10.9h0M231.5 90.5h0M168.8 95.8h0M230.3 3.0h0M189.8 30.0h0M216.9 5.1h0M197.3 20.1h0M168.2 87.4h0M233.5 52.9h0M223.1 3.5h0M180.6 101.4h0M183.7 39.3h0M127.3 96.7h0M109.6 92.6h0M199.4 56.7h0M148.9 94.1h0M166.4 87.3h0M220.8 29.1h0M169.3 90.8h0M159.2 95.6h0M163.9 87.8h0M234.0 54.5h0M223.8 25.4h0M222.4 89.6h0M190.7 32.4h0M197.6 29.0h0M212.5 56.7h0M173.7 97.8h0M189.9 27.4h0M193.1 26.8h0M136.4 95.3h0M217.8 7.8h0M211.9 103.2h0M139.3 94.5h0M144.0 94.2h0M131.3 93.1h0M209.5 33.9h0M171.1 96.3h0M211.8 40.9h0M195.1 13.3h0M228.9 29.4h0M230.1 36.7h0M185.0 54.3h0M170.1 98.9h0M230.7 -0.7h0M124.9 93.3h0M198.1 54.4h0M181.9 -0.1h0M204.9 34.5h0M197.6 31.7h0M129.3 92.9h0M133.6 96.6h0M148.2 93.2h0M142.8 92.1h0M194.9 25.0h0M165.1 95.7h0M120.4 94.9h0M212.6 29.9h0M208.8 32.7h0M213.4 95.4h0M174.4 99.8h0M198.7 116.9h0M161.5 95.2h0M223.3 31.2h0M194.0 47.2h0M185.0 103.2h0M232.7 -1.1h0"/><path stroke="#ff3800" d="M219.6 131.6h0M121.4 119.2h0M165.7 125.0h0M176.5 142.2h0M169.7 134.6h0M219.0 126.6h0M175.8 138.5h0M227.5 124.8h0M211.5 131.7h0M217.8 133.0h0M222.8 119.4h0M225.9 122.2h0M231.7 117.4h0M233.8 121.2h0M227.6 117.7h0M174.8 145.0h0M133.7 120.4h0M155.8 121.2h0M233.5 113.3h0M149.5 122.8h0M233.5 123.7h0M172.9 135.8h0M122.0 120.1h0"/><path stroke="#fff000" d="M232.7 98.5h0M187.0 117.8h0M142.8 104.0h0M192.3 134.7h0M187.8 112.8h0M152.9 102.6h0M232.9 15.8h0M233.2 101.5h0M223.1 11.2h0M215.6 112.4h0M228.7 98.6h0M227.3 11.6h0M226.0 98.9h0M220.4 12.2h0M120.9 106.1h0M210.2 120.1h0M217.3 106.2h0M129.9 103.4h0M153.6 103.5h0M125.1 104.0h0M190.2 19.1h0M146.9 100.8h0M113.8 102.1h0M225.2 97.5h0M161.4 101.1h0M208.0 45.6h0M202.6 45.3h0M215.2 111.4h0M138.3 104.5h0M203.7 50.5h0M183.8 133.0h0M206.8 52.7h0M183.6 115.6h0"/><path stroke="#ff8a00" d="M205.3 130.6h0M182.8 142.5h0M180.8 142.0h0M153.2 115.0h0M181.8 126.9h0M161.7 116.6h0M159.1 117.7h0M136.3 115.2h0M145.5 115.9h0M119.8 114.6h0M141.9 115.2h0M129.6 116.0h0M154.4 115.7h0"/><path stroke="#ff4c00" d="M152.0 121.4h0M177.7 135.6h0M169.5 126.5h0M204.7 135.8h0M177.7 130.7h0M219.6 119.7h0M166.8 127.3h0M178.4 132.3h0M212.7 133.6h0M168.5 127.8h0M158.8 121.4h0M224.6 115.4h0M218.6 122.7h0M178.0 124.0h0M163.9 120.5h0"/><path stroke="#2effd1" d="M104.5 81.1h0M195.0 89.7h0M156.1 74.7h0M104.8 77.6h0M202.8 91.3h0M105.6 79.8h0M150.4 75.0h0M135.5 77.7h0M188.3 84.5h0M114.0 78.3h0M162.2 38.3h0M121.8 79.2h0M161.9 -0.7h0M140.5 78.9h0M151.2 71.7h0M106.3 77.5h0M161.0 7.9h0M164.4 76.2h0M163.8 41.0h0M168.9 33.8h0M134.1 76.4h0M172.0 49.4h0M110.5 79.7h0M113.0 76.9h0M161.9 10.2h0M173.0 40.6h0M147.3 75.0h0M166.1 52.0h0"/><path stroke="#00c7ff" d="M93.5 56.4h0M92.7 54.5h0M100.0 63.0h0M101.8 58.2h0M105.1 56.6h0M156.4 28.1h0M149.3 61.2h0M131.1 67.1h0M98.4 61.8h0M136.3 67.5h0M135.1 66.0h0"/><path stroke="#6bff94" d="M183.6 62.1h0M176.4 47.5h0M170.7 2.9h0M229.9 67.3h0M187.0 72.0h0M170.0 0.5h0M196.3 110.8h0M172.3 -0.7h0M163.9 27.2h0M194.6 106.8h0M168.6 1.9h0M168.2 30.3h0M187.2 77.8h0M194.5 70.3h0M169.0 24.3h0M168.1 74.6h0M186.1 75.3h0M175.7 56.9h0M181.9 78.9h0M156.2 83.8h0M171.9 59.0h0M167.5 69.6h0M206.2 90.7h0M209.6 74.5h0M170.3 -0.7h0M123.7 83.9h0M204.8 79.5h0M196.5 76.5h0M141.6 83.4h0M189.9 73.9h0M166.1 14.0h0M174.7 0.8h0M169.6 59.4h0M171.2 25.9h0M197.4 108.6h0M169.0 78.3h0M166.3 81.4h0M203.0 66.5h0M201.5 74.4h0M176.6 4.5h0M219.5 72.9h0M211.4 71.6h0"/><path stroke="#008aff" d="M99.8 44.9h0M155.7 -0.7h0M135.4 61.6h0M115.1 50.7h0M105.1 32.7h0M156.2 10.8h0M103.1 20.8h0M89.8 27.3h0M113.0 40.2h0M86.8 41.2h0M112.8 28.8h0M154.9 33.6h0M117.0 50.5h0M128.8 62.8h0M113.6 52.4h0M90.3 38.0h0M114.1 43.7h0M154.8 18.6h0M86.8 41.7h0M98.8 18.5h0M87.6 43.1h0M89.6 29.9h0M86.0 29.2h0M107.5 49.5h0M101.9 44.6h0M103.9 29.6h0M152.1 52.4h0M87.3 28.8h0M112.9 48.4h0M97.0 28.1h0M154.9 25.3h0M154.0 4.3h0M86.5 18.7h0M116.1 34.6h0M85.1 37.3h0"/><path stroke="#0075ff" d="M112.1 26.9h0M91.7 18.4h0M98.6 20.3h0M80.3 20.3h0M90.0 24.6h0M118.1 51.7h0M81.1 22.2h0M117.1 28.1h0M114.4 18.3h0M85.3 38.3h0M97.0 22.2h0M141.8 1.2h0M81.7 29.7h0M102.8 23.1h0M151.6 1.3h0M80.4 26.9h0M141.1 -0.7h0M97.9 29.9h0M118.4 43.8h0M79.2 24.0h0M155.0 16.2h0M83.9 27.8h0M111.6 42.7h0M101.6 26.5h0M152.0 34.7h0M109.8 23.3h0"/><path stroke="#0061ff" d="M153.6 -0.7h0M107.9 16.2h0M80.8 18.8h0M127.1 -1.3h0M120.7 51.7h0M101.5 20.4h0M134.8 -0.7h0M145.5 57.2h0M99.5 23.2h0M151.5 -0.7h0M102.9 11.6h0M106.3 15.3h0M104.9 13.4h0M104.7 22.7h0M110.7 20.1h0M112.3 22.1h0M118.7 21.4h0M138.4 1.1h0M122.3 -0.7h0M109.0 21.3h0M152.8 38.1h0M114.1 14.3h0M79.3 16.3h0M153.4 27.4h0M143.2 -0.7h0M154.0 13.2h0M93.1 20.2h0M136.9 -0.7h0M100.8 16.8h0M119.5 48.4h0"/><path stroke="#ff7500" d="M172.2 121.3h0M158.3 115.1h0M167.7 117.5h0M192.7 139.5h0M219.8 118.3h0M120.7 115.9h0M191.2 139.6h0M136.5 117.1h0M165.6 118.8h0M148.2 117.8h0"/><path stroke="#0038ff" d="M126.2 58.9h0M99.9 8.9h0M92.1 1.2h0M68.9 -1.4h0M127.5 27.3h0M111.3 2.2h0M118.2 -0.7h0M104.7 1.1h0M101.7 4.2h0M127.6 8.5h0M148.5 36.6h0M124.9 57.6h0M120.6 30.3h0M137.1 56.1h0M85.0 -1.4h0M120.0 5.7h0M94.4 -0.3h0M91.1 9.3h0M141.9 11.1h0M149.5 32.4h0M74.3 14.1h0M83.3 9.8h0M86.1 9.4h0M122.2 18.4h0M126.0 6.3h0M133.8 5.1h0M135.1 55.8h0M102.6 6.8h0M122.0 10.8h0M135.4 51.4h0M121.1 32.7h0M93.8 9.9h0M124.7 22.9h0M106.3 11.3h0M126.1 55.8h0M109.0 5.3h0M119.6 16.8h0M131.9 29.4h0M141.3 5.1h0M128.5 37.0h0M111.7 10.9h0M114.0 -0.7h0M76.4 5.0h0M122.8 40.1h0M139.8 52.0h0M122.6 14.0h0M141.4 54.4h0M148.2 50.3h0M148.3 30.0h0M132.6 11.5h0M146.7 31.6h0M136.5 8.0h0M128.3 54.3h0M132.4 55.2h0M123.1 26.5h0M123.6 44.5h0"/><path stroke="#004dff" d="M122.0 2.6h0M151.0 22.3h0M145.1 3.5h0M122.4 49.2h0M150.9 43.4h0M137.7 54.2h0M97.8 16.0h0M117.2 16.1h0M149.5 5.1h0M114.5 9.4h0M109.1 10.0h0M132.8 2.1h0M119.0 7.3h0M139.5 3.0h0M98.9 14.7h0M124.5 2.6h0M85.5 4.0h0M75.8 16.4h0M150.1 47.1h0M122.4 31.7h0M132.9 0.1h0M120.4 27.7h0M128.6 1.9h0M91.2 13.7h0M80.7 14.7h0M122.0 16.4h0M120.9 33.6h0M120.3 19.2h0M100.3 11.1h0M109.2 12.5h0M127.6 3.0h0M121.1 50.8h0"/><path stroke="#d10000" d="M150.8 136.0h0M144.9 129.3h0"/><path stroke="#e50000" d="M129.4 128.6h0M144.8 146.7h0M154.0 139.4h0M131.5 140.5h0M152.2 141.5h0M144.1 137.9h0M153.6 132.8h0M153.6 145.1h0M150.3 128.8h0M141.5 127.9h0M150.9 126.2h0M154.9 141.7h0M162.9 148.7h0M133.3 134.9h0M148.8 135.9h0M141.0 155.4h0M133.9 141.3h0M144.2 127.2h0M149.9 151.1h0M140.6 140.1h0M150.7 139.7h0M154.1 130.9h0M147.1 148.9h0M145.6 134.9h0"/><path stroke="#ffc700" d="M179.9 117.3h0M233.5 105.0h0M154.9 105.4h0M184.4 109.1h0M183.1 138.0h0M181.6 120.2h0M143.1 106.0h0M167.7 111.0h0M145.9 108.6h0M177.2 108.4h0M117.2 109.7h0M140.3 108.2h0M165.4 105.7h0M180.6 115.4h0M170.5 105.3h0M181.1 110.7h0M139.2 111.2h0M175.2 117.1h0M143.9 108.7h0M174.0 113.4h0M120.6 110.1h0M177.3 117.2h0"/><path stroke="#a8ff57" d="M222.7 38.5h0M214.3 14.2h0M217.3 58.1h0M180.3 4.2h0M224.8 85.3h0M213.3 87.4h0M226.8 40.7h0M166.8 85.1h0M206.5 -1.1h0M187.3 56.0h0M233.5 82.1h0M207.9 21.2h0M170.4 66.5h0M218.4 73.9h0M205.7 -0.7h0M227.8 84.2h0M181.3 92.5h0M226.7 59.7h0M211.7 90.6h0M224.0 53.6h0M193.8 9.0h0M157.0 85.7h0M199.0 13.1h0M178.7 21.4h0M120.7 86.8h0M163.5 85.5h0M199.9 12.2h0M208.2 104.5h0M187.0 47.5h0M222.0 55.8h0M231.3 48.5h0M174.1 62.9h0M209.8 -0.7h0M201.4 17.6h0M218.5 0.8h0M228.6 34.2h0M180.2 45.0h0M209.5 85.6h0M226.3 55.1h0M108.8 87.6h0M215.0 52.0h0M231.1 82.8h0M172.0 86.2h0M233.5 84.1h0M195.3 -0.7h0M178.0 49.9h0M225.6 38.5h0M233.2 47.4h0M215.5 43.8h0M207.9 60.4h0M230.8 51.8h0M183.8 97.9h0"/><path stroke="#42ffbd" d="M170.6 56.2h0M155.9 72.1h0M144.0 76.3h0M201.3 94.9h0M111.9 81.3h0M154.5 70.8h0M194.6 79.3h0M158.7 76.3h0M172.7 36.0h0M121.0 81.1h0M165.1 33.7h0M165.3 59.0h0M107.3 81.7h0M158.1 79.1h0M156.5 77.5h0M199.5 78.6h0M156.2 81.4h0M192.3 85.6h0M203.9 106.6h0M141.6 81.3h0M196.6 78.8h0M165.3 0.4h0M172.9 33.6h0M169.8 32.4h0M154.9 81.5h0M131.6 78.6h0M135.3 79.2h0M138.0 77.7h0M117.0 81.5h0M161.9 80.6h0M162.5 74.0h0M192.6 79.5h0M149.8 79.3h0M163.3 -1.1h0M191.6 91.8h0M162.3 23.2h0M171.1 48.1h0M163.3 20.0h0"/><path stroke="#ff9e00" d="M155.3 110.5h0M181.9 130.5h0M141.2 112.3h0M202.2 132.6h0M195.0 136.1h0M178.7 120.0h0M233.5 107.1h0M181.0 133.4h0M222.7 114.3h0M228.9 110.1h0M162.5 114.6h0M124.5 114.4h0M156.0 113.6h0M130.6 113.8h0M176.6 119.7h0M119.3 113.2h0"/><path stroke="#000fff" d="M78.0 11.8h0M142.7 21.5h0M144.2 41.1h0M79.0 4.4h0M77.9 7.0h0M144.1 14.3h0M135.3 41.8h0M128.7 17.6h0M87.1 7.4h0M102.7 -1.5h0M126.6 25.2h0M82.8 -0.7h0M88.7 5.1h0M108.1 3.3h0M141.8 37.9h0"/><path stroke="#faff05" d="M202.1 47.3h0M171.4 103.7h0M206.2 49.6h0M186.5 128.3h0M233.2 12.0h0M135.3 99.3h0M178.1 103.2h0M193.3 14.4h0M223.3 6.8h0M205.5 44.6h0M233.5 94.6h0M191.2 24.3h0M125.6 100.2h0M230.5 96.7h0M115.5 101.9h0M191.4 119.2h0M131.4 98.9h0M158.7 99.3h0M186.4 106.7h0M206.9 53.6h0M180.6 103.8h0M137.1 102.3h0M213.0 112.5h0M191.1 115.0h0M233.9 9.5h0M226.0 5.2h0M209.5 40.1h0M233.5 17.5h0M233.0 97.0h0M223.5 103.4h0M166.6 101.2h0M200.4 39.5h0M189.4 123.6h0M113.0 100.2h0M203.6 53.8h0M194.4 21.3h0M227.3 9.9h0M118.3 99.5h0M153.6 98.8h0M222.4 103.8h0M187.0 132.7h0M114.7 100.3h0M208.7 117.5h0M222.3 18.8h0"/><path stroke="#bdff42" d="M210.5 23.2h0M233.5 86.2h0M189.0 -0.7h0M211.0 108.0h0M188.1 46.1h0M172.6 94.6h0M206.7 29.4h0M215.2 39.4h0M183.5 56.7h0M194.5 51.8h0M209.2 107.0h0M192.1 33.9h0M180.7 -0.7h0M205.6 23.7h0M201.5 26.5h0M154.3 90.0h0M224.4 -0.7h0M117.6 90.6h0M139.1 88.4h0M210.3 35.5h0M214.0 23.1h0M218.9 5.7h0M203.8 113.2h0M184.6 36.0h0M209.0 23.0h0M218.5 56.0h0M183.3 44.6h0M183.4 4.2h0M233.5 36.2h0M231.3 34.0h0M226.7 36.5h0M185.9 37.9h0M204.1 32.2h0M233.5 33.4h0M116.5 89.1h0M219.9 33.3h0M136.0 90.9h0M233.5 27.9h0M232.0 32.4h0M144.2 88.2h0M114.9 95.6h0M233.5 40.4h0M215.8 24.5h0M228.7 32.7h0M230.0 30.2h0M158.7 88.9h0M216.1 -0.7h0M230.0 27.3h0M214.2 46.8h0M188.7 43.3h0M221.0 39.1h0M175.3 87.6h0M179.8 94.3h0M189.1 38.1h0M185.9 4.4h0M183.5 99.6h0M190.0 2.2h0M137.9 88.8h0M233.5 42.5h0M215.7 33.6h0M184.8 -0.7h0M193.0 35.5h0M215.6 28.8h0M192.7 40.3h0M168.1 92.6h0M129.8 91.3h0M202.3 24.9h0M214.1 58.7h0M180.5 50.4h0M165.2 93.2h0M231.7 54.0h0M147.0 90.9h0M218.0 11.7h0M170.5 85.8h0M209.4 58.4h0M160.0 86.3h0M177.9 94.3h0M192.4 1.0h0M213.4 51.6h0M192.9 54.3h0M164.6 91.2h0M190.3 54.9h0M176.7 98.0h0M173.7 84.5h0M214.4 28.2h0M191.9 48.0h0M181.9 -1.1h0"/><path stroke="#ff6100" d="M223.7 117.0h0M147.8 119.4h0M196.7 138.2h0M198.7 137.6h0M164.6 118.3h0M127.3 118.0h0M221.0 118.3h0M212.6 123.5h0M125.1 117.1h0M179.1 135.5h0M210.7 134.2h0M173.6 123.5h0M139.3 118.9h0M178.5 137.2h0M210.1 127.8h0M170.7 128.1h0"/><path stroke="#ffdb00" d="M169.8 108.7h0M161.5 104.0h0M179.1 108.1h0M153.5 107.8h0M171.8 112.4h0M118.2 109.0h0M124.5 109.2h0M200.8 130.9h0M121.0 109.1h0M184.4 110.9h0M175.6 108.9h0M184.4 126.8h0M162.3 106.4h0M140.1 105.4h0M192.5 136.9h0M115.5 105.9h0M135.3 103.6h0M168.2 105.7h0M144.1 106.1h0M221.1 112.1h0M130.8 108.0h0M147.9 106.1h0M116.3 107.8h0M128.8 104.8h0"/><path stroke="#0000fa" d="M142.1 43.9h0"/><path stroke="#009eff" d="M154.0 35.6h0M123.5 64.8h0M102.0 40.0h0M89.8 40.0h0M94.3 40.8h0M87.3 39.3h0M114.3 60.6h0M111.7 51.8h0M93.1 38.0h0M96.2 37.1h0M92.5 44.9h0M86.8 31.0h0M113.5 38.8h0M98.1 44.0h0M115.8 58.4h0M91.9 37.2h0M98.6 38.1h0M100.2 32.6h0M93.8 46.1h0M99.8 42.7h0M110.4 34.0h0M107.3 31.8h0M100.2 34.4h0M99.6 49.8h0M88.1 43.5h0M88.4 33.3h0M115.0 53.8h0M96.8 45.5h0"/><path stroke="#ff2400" d="M166.7 135.9h0M229.9 126.7h0M225.1 131.7h0M132.7 122.8h0M222.4 125.0h0M143.6 122.5h0M147.5 151.5h0M227.6 126.6h0M157.7 123.4h0M232.5 130.2h0"/><path stroke="#ffb300" d="M229.2 108.5h0M182.1 122.2h0M165.1 114.9h0M182.0 123.8h0M218.0 115.5h0M152.8 110.6h0M129.7 110.4h0M215.7 117.0h0"/></g>
<g clip-path="url(#fc)"><use href="#map"/></g>
</g>
<text class="b a" x="146.4" y="112.7">48<tspan dx="2.2" dy="-6.4" font-size="10">°</tspan><tspan dx="0.7" dy="6.4"> N</tspan></text><text class="b a" x="146.4" y="130.4">46<tspan dx="2.2" dy="-6.4" font-size="10">°</tspan><tspan dx="0.7" dy="6.4"> N</tspan></text><text class="b a" x="146.4" y="147.6">44<tspan dx="2.2" dy="-6.4" font-size="10">°</tspan><tspan dx="0.7" dy="6.4"> N</tspan></text><text class="b a" x="146.4" y="166.7">42<tspan dx="2.2" dy="-6.4" font-size="10">°</tspan><tspan dx="0.7" dy="6.4"> N</tspan></text><text class="b a" x="146.4" y="182.7">40<tspan dx="2.2" dy="-6.4" font-size="10">°</tspan><tspan dx="0.7" dy="6.4"> N</tspan></text><text class="b a" x="146.4" y="197.7">38<tspan dx="2.2" dy="-6.4" font-size="10">°</tspan><tspan dx="0.7" dy="6.4"> N</tspan></text><text class="b a" x="146.4" y="214.5">36<tspan dx="2.2" dy="-6.4" font-size="10">°</tspan><tspan dx="0.7" dy="6.4"> N</tspan></text><text class="b a" x="146.4" y="228.4">34<tspan dx="2.2" dy="-6.4" font-size="10">°</tspan><tspan dx="0.7" dy="6.4"> N</tspan></text><text class="b a" x="146.4" y="245.4">32<tspan dx="2.2" dy="-6.4" font-size="10">°</tspan><tspan dx="0.7" dy="6.4"> N</tspan></text><text class="b a" x="146.4" y="259.6">30<tspan dx="2.2" dy="-6.4" font-size="10">°</tspan><tspan dx="0.7" dy="6.4"> N</tspan></text><text class="b a" x="146.4" y="272.4">28<tspan dx="2.2" dy="-6.4" font-size="10">°</tspan><tspan dx="0.7" dy="6.4"> N</tspan></text><text class="b a" x="146.4" y="287.3">26<tspan dx="2.2" dy="-6.4" font-size="10">°</tspan><tspan dx="0.7" dy="6.4"> N</tspan></text><text class="b a" x="146.4" y="301.4">24<tspan dx="2.2" dy="-6.4" font-size="10">°</tspan><tspan dx="0.7" dy="6.4"> N</tspan></text><text class="b a" x="146.4" y="314.9">22<tspan dx="2.2" dy="-6.4" font-size="10">°</tspan><tspan dx="0.7" dy="6.4"> N</tspan></text><text class="b a" x="215.8" y="77">100<tspan dx="1.6" dy="-6.4" font-size="10">°</tspan><tspan dx="1" dy="6.4"> W</tspan></text><text class="b a" x="284.6" y="77">90<tspan dx="1.6" dy="-6.4" font-size="10">°</tspan><tspan dx="1" dy="6.4"> W</tspan></text><text class="b a" x="348.5" y="77">80<tspan dx="1.6" dy="-6.4" font-size="10">°</tspan><tspan dx="1" dy="6.4"> W</tspan></text><text class="b a" x="412" y="77">70<tspan dx="1.6" dy="-6.4" font-size="10">°</tspan><tspan dx="1" dy="6.4"> W</tspan></text>
<text class="b t" x="307.8" y="340.4" text-anchor="middle">SAT+RAP Negative Lifted Index</text>
<rect x="441.1" y="95.2" width="23.8" height="215.3" fill="url(#jet)" stroke="#262626" stroke-width="0.7"/><path d="M462.6 109.1H464.9" stroke="#262626" stroke-width="0.7"/><text class="b c" x="473.4" y="116.4">0</text><path d="M462.6 163.5H464.9" stroke="#262626" stroke-width="0.7"/><text class="b c" x="473.4" y="170.8">-10</text><path d="M462.6 217.3H464.9" stroke="#262626" stroke-width="0.7"/><text class="b c" x="473.4" y="224.6">-20</text><path d="M462.6 270.3H464.9" stroke="#262626" stroke-width="0.7"/><text class="b c" x="473.4" y="277.6">-30</text>
<g transform="translate(617.1 96.8) scale(1.0013 1.0000)">
<rect x="-0.9" y="-0.2" width="234.1" height="212.79999999999998" fill="none" stroke="#1c1c1c" stroke-width="1.1"/><g fill="none" stroke-linecap="round" stroke-width="5.4"><path stroke="#e5ff1a" d="M164.9 148.1h0"/><path stroke="#fff000" d="M160.9 149.3h0"/><path stroke="#0024ff" d="M223.8 126.8h0M207.8 84.2h0M219.4 99.5h0M149.1 14.2h0M223.7 3.0h0M206.6 87.8h0"/><path stroke="#80ff80" d="M225.7 128.9h0M218.8 130.3h0"/><path stroke="#ff0f00" d="M150.7 145.8h0"/><path stroke="#ff7500" d="M218.1 126.9h0"/><path stroke="#0000d1" d="M207.5 119.2h0M210.0 29.4h0M157.8 29.1h0M234.0 3.1h0M185.8 47.8h0M227.4 19.8h0M214.8 133.5h0M231.3 121.5h0M138.4 0.4h0M232.5 6.4h0M204.1 83.5h0M206.0 121.7h0M217.3 18.2h0M215.0 133.6h0M191.7 34.2h0M209.1 31.4h0M140.4 7.9h0M122.3 121.1h0M144.6 16.0h0M230.7 -0.7h0M208.5 130.6h0M139.0 -0.7h0M135.6 122.2h0M137.7 120.0h0M157.4 39.4h0M233.2 124.1h0M226.3 26.0h0M217.8 19.8h0M218.3 9.3h0M163.6 13.1h0M183.5 47.5h0M214.0 -0.7h0M218.5 119.7h0M214.3 11.5h0M182.0 52.6h0M151.0 25.3h0M166.1 -0.7h0M128.9 121.3h0M163.8 11.1h0M216.1 -0.7h0M123.3 123.6h0M165.2 6.5h0M217.0 4.2h0M225.1 23.4h0M210.8 126.6h0M157.3 31.3h0M226.9 5.6h0M226.3 11.5h0M191.7 55.9h0M215.1 16.2h0"/><path stroke="#0000bd" d="M124.9 42.3h0M214.2 18.3h0M224.7 116.8h0M232.9 117.0h0M228.1 6.8h0M203.8 39.4h0M151.2 41.3h0M214.5 6.6h0M206.6 125.7h0M153.7 17.8h0M224.4 122.1h0M129.0 124.6h0M194.8 39.5h0M219.8 38.1h0M192.6 60.8h0M159.8 21.0h0M181.9 61.0h0M228.7 8.8h0M124.0 110.2h0M215.0 120.5h0M213.4 116.6h0M213.0 130.9h0M206.8 29.3h0M229.5 4.5h0M138.7 108.9h0M225.7 119.2h0M167.1 36.9h0M209.4 133.4h0M115.5 105.9h0M221.9 17.9h0M225.8 20.8h0M152.9 24.7h0M142.3 16.7h0M209.3 127.1h0M211.1 18.5h0M157.4 140.5h0M205.3 81.9h0M220.9 20.2h0M218.3 116.9h0M213.2 4.1h0M229.9 117.0h0M158.5 34.6h0M188.2 60.9h0M132.3 114.7h0M208.2 90.4h0M233.5 119.6h0M212.4 11.5h0"/><path stroke="#ff3800" d="M161.1 147.1h0"/><path stroke="#1affe5" d="M121.0 116.0h0M123.7 115.9h0M119.7 115.4h0"/><path stroke="#0000e6" d="M145.3 34.3h0M161.9 -0.7h0M155.7 -0.7h0M218.9 1.2h0M128.6 119.7h0M158.6 14.2h0M233.5 125.8h0M158.6 0.5h0M154.5 10.1h0M182.7 58.8h0M130.0 121.9h0M157.2 0.6h0M183.7 57.5h0M186.2 57.1h0M189.0 51.7h0M204.1 85.9h0M171.2 57.3h0M230.2 22.0h0M133.8 122.3h0M181.0 56.3h0M142.5 3.2h0M157.5 9.8h0M133.8 119.9h0M139.7 119.4h0M141.1 -0.7h0M220.9 27.0h0M144.1 119.6h0M140.5 3.2h0M140.8 1.1h0M147.4 15.8h0M132.4 119.7h0M208.2 34.5h0M141.6 9.2h0M184.6 49.9h0M166.9 147.5h0M160.2 2.8h0M157.0 11.6h0M143.7 121.2h0M159.8 -0.7h0M197.7 32.1h0M141.8 5.5h0M231.1 20.7h0M168.9 34.2h0"/><path stroke="#d1ff2e" d="M147.1 143.0h0M228.4 129.3h0"/><path stroke="#0061ff" d="M192.9 36.1h0M130.3 116.9h0M232.6 128.9h0"/><path stroke="#00dbff" d="M199.3 34.5h0"/><path stroke="#0000a8" d="M128.7 78.7h0M88.5 28.2h0M73.2 10.7h0M215.6 53.9h0M129.2 34.0h0M111.7 97.0h0M199.9 88.5h0M226.2 112.9h0M201.6 65.6h0M218.8 71.8h0M151.0 18.9h0M205.0 105.3h0M201.6 61.1h0M168.9 128.4h0M230.4 115.9h0M232.1 31.3h0M133.9 76.1h0M179.3 119.2h0M218.6 32.5h0M100.0 55.1h0M192.9 112.8h0M130.6 53.9h0M195.6 126.5h0M141.5 18.3h0M100.3 12.1h0M159.0 32.2h0M86.0 25.8h0M228.9 75.4h0M189.8 79.3h0M139.2 105.6h0M202.6 127.2h0M146.8 136.1h0M187.1 105.6h0M85.9 39.3h0M88.1 1.8h0M165.6 143.1h0M120.9 84.5h0M126.2 65.6h0M102.1 63.1h0M218.8 82.1h0M213.0 39.3h0M153.8 89.7h0M152.7 128.7h0M120.7 37.0h0M202.2 93.1h0M231.1 105.3h0M175.4 63.4h0M111.8 67.9h0M233.1 74.8h0M136.3 70.6h0M208.3 13.0h0M218.1 50.1h0M117.0 99.5h0M103.8 25.9h0M119.0 15.3h0M153.5 49.1h0M183.5 31.6h0M137.9 104.0h0M197.9 71.7h0M233.5 80.0h0M84.2 35.4h0M141.4 63.2h0M194.9 49.9h0M157.4 117.8h0M142.8 106.4h0M164.1 54.5h0M76.9 11.2h0M147.1 93.1h0M211.8 65.5h0M210.8 63.3h0M185.9 22.6h0M119.5 7.6h0M209.7 52.9h0M190.9 130.7h0M160.5 65.0h0M153.3 63.7h0M101.6 29.9h0M128.1 23.4h0M173.8 39.3h0M121.3 56.9h0M130.3 9.9h0M103.6 20.9h0M123.6 79.6h0M143.2 31.1h0M125.8 7.3h0M206.9 105.8h0M193.6 129.4h0M138.4 37.1h0M136.6 20.2h0M162.7 126.0h0M185.5 89.9h0M156.2 67.9h0M184.5 138.3h0M165.6 92.4h0M199.6 74.3h0M168.8 115.7h0M219.9 63.2h0M152.7 115.7h0M204.9 56.4h0M183.5 15.5h0M220.1 110.5h0M147.4 151.1h0M204.3 61.5h0M201.7 127.2h0M142.2 66.2h0M137.4 66.6h0M98.7 13.5h0M149.2 94.2h0M171.1 79.7h0M153.5 20.8h0M127.4 2.8h0M95.3 -0.7h0M118.6 69.7h0M115.7 10.3h0M178.3 126.8h0M111.4 93.4h0M194.9 29.9h0M93.3 12.4h0M101.7 8.6h0M130.0 74.0h0M184.4 8.0h0M166.0 88.1h0M177.9 29.4h0M181.0 87.8h0M182.2 9.9h0M233.5 115.4h0M147.5 128.5h0M81.6 16.0h0M151.7 50.3h0M133.8 35.0h0M101.3 49.7h0M121.3 19.7h0M223.7 107.7h0M181.6 6.7h0M210.4 54.8h0M88.5 45.0h0M215.5 65.2h0M193.8 27.3h0M164.1 72.3h0M218.5 52.7h0M233.7 36.6h0M201.0 112.9h0M213.4 69.9h0M171.7 137.6h0M120.9 51.8h0M231.3 68.0h0M193.3 134.6h0M135.3 55.0h0M176.5 101.8h0M142.2 151.9h0M175.2 41.3h0M232.3 99.0h0M184.6 9.4h0M134.7 91.8h0M128.2 134.5h0M198.9 110.6h0M135.1 67.9h0M126.7 21.4h0M169.1 117.9h0M169.0 144.1h0M172.3 -0.7h0M195.6 80.9h0M72.3 -0.7h0M69.7 3.0h0M169.7 -0.1h0M125.3 31.7h0M87.1 25.9h0M134.3 2.0h0M150.6 121.6h0M159.1 63.8h0M176.1 1.8h0M88.4 37.9h0M179.8 72.1h0M230.5 83.7h0M98.2 34.9h0M221.0 66.5h0M182.8 -0.7h0M163.9 98.7h0M201.4 10.2h0M123.6 63.4h0M174.7 107.8h0M96.8 28.2h0M103.9 76.2h0M153.6 77.2h0M136.9 -0.7h0M139.0 156.1h0M226.0 92.1h0M200.3 136.0h0M147.1 106.4h0M132.8 40.3h0M96.7 53.8h0M167.7 45.7h0M131.5 103.9h0M148.8 68.5h0M231.8 76.4h0M233.4 83.8h0M197.3 94.7h0M100.7 65.8h0M188.2 77.3h0M99.8 57.3h0M122.1 15.7h0M233.5 32.1h0M233.5 111.2h0M203.7 59.8h0M196.0 40.3h0M115.4 27.5h0M179.2 110.6h0M107.2 59.3h0M172.8 83.6h0M191.6 2.1h0M184.3 86.0h0M180.8 78.3h0M99.5 0.6h0M222.2 88.4h0M145.0 128.5h0M136.4 57.0h0M114.1 40.6h0M106.0 3.0h0M178.0 95.7h0M180.6 10.1h0M184.0 124.1h0M197.3 43.2h0M202.9 9.3h0M193.0 121.6h0M201.2 50.7h0M185.3 44.7h0M158.5 104.3h0M185.8 27.5h0M139.2 77.7h0M193.7 8.7h0M215.3 92.1h0M165.9 65.8h0M169.5 98.9h0M150.8 124.5h0M125.5 23.5h0M132.6 74.0h0M210.8 70.5h0M93.1 51.8h0M104.7 81.8h0M137.5 147.5h0M159.1 95.4h0M111.8 30.3h0M144.4 57.1h0M201.5 -0.7h0M162.7 110.2h0M132.7 89.1h0M139.7 43.3h0M107.7 77.7h0M161.7 27.2h0M171.5 109.2h0M122.7 89.9h0M137.7 51.4h0M210.4 110.8h0M150.1 65.2h0M201.7 123.6h0M93.5 37.2h0M190.8 77.6h0M167.0 91.0h0M172.7 110.5h0M230.3 54.0h0M169.7 140.3h0M191.3 124.5h0M135.3 43.2h0M78.6 -0.7h0M134.1 89.5h0M82.9 12.0h0M159.9 138.0h0M118.1 105.6h0M233.9 107.8h0M81.8 1.7h0M101.3 72.5h0M90.1 48.8h0M170.8 64.9h0M168.9 81.0h0M122.1 76.4h0M129.7 0.2h0M184.6 110.4h0M198.9 76.6h0M195.2 43.1h0M132.8 38.6h0M216.3 109.2h0M172.4 23.2h0M105.7 -0.7h0M147.5 70.2h0M178.2 105.6h0M166.3 30.4h0M204.9 21.5h0M208.0 55.2h0M142.9 113.7h0M187.0 4.0h0M114.3 87.4h0M170.1 26.5h0M74.1 12.6h0M171.5 121.3h0M146.0 113.7h0M161.4 113.2h0M89.3 46.9h0M111.9 75.0h0M175.1 68.0h0M194.2 21.5h0M228.6 72.3h0M103.1 34.1h0M233.7 48.0h0M145.1 91.8h0M139.8 132.4h0M100.9 51.9h0M207.3 69.5h0M125.5 95.2h0M141.0 80.9h0M132.2 133.8h0M192.9 22.3h0M173.5 119.7h0M100.2 58.3h0M127.4 128.4h0M124.5 21.4h0M107.2 64.1h0M115.8 25.0h0M184.3 66.3h0M86.7 8.5h0M224.6 91.2h0M229.8 111.4h0M106.4 64.9h0M121.9 2.1h0M188.4 16.1h0M136.2 140.2h0M176.6 135.1h0M216.8 45.1h0M183.1 92.9h0M172.0 13.7h0M168.8 131.9h0M183.7 83.4h0M176.9 77.3h0M137.1 79.4h0M98.8 22.0h0M151.1 98.9h0M185.9 113.6h0M119.4 30.4h0M201.7 70.1h0M103.8 43.6h0M156.9 50.4h0M185.8 139.5h0M76.5 -0.7h0M142.9 107.8h0M97.0 10.0h0M229.4 32.3h0M194.6 47.7h0M129.3 97.8h0M164.7 58.1h0M120.7 90.7h0M91.6 50.0h0M188.2 19.1h0M207.8 -0.7h0M133.1 112.8h0M153.6 54.1h0M227.5 99.3h0M120.2 40.5h0M125.1 53.7h0M156.4 126.9h0M169.6 121.7h0M189.0 102.2h0M203.8 101.8h0M123.7 51.7h0M175.4 15.3h0M110.4 88.6h0M135.4 24.6h0M201.5 132.4h0M184.3 119.3h0M137.9 40.9h0M94.9 47.5h0M149.2 118.0h0M173.3 106.6h0M153.2 133.4h0M185.7 41.3h0M161.1 81.9h0M233.5 75.8h0M233.5 50.8h0M102.9 73.8h0M233.5 40.4h0M166.6 40.8h0M139.8 15.5h0M154.6 101.4h0M117.0 98.0h0M230.3 113.4h0M154.6 55.9h0M205.3 96.9h0M185.3 62.7h0M136.9 128.4h0M201.3 80.8h0M131.9 96.4h0M109.6 92.6h0M70.9 4.1h0M165.8 69.5h0M127.6 105.6h0M233.5 67.5h0M221.6 90.0h0M90.9 12.1h0M224.9 103.1h0M209.1 48.4h0M192.3 70.1h0M171.8 92.0h0M230.0 34.6h0M121.5 42.7h0M114.7 44.9h0M232.5 73.0h0M189.6 139.3h0M79.3 -1.0h0M202.4 6.4h0M110.1 13.9h0M131.6 66.2h0M114.0 100.8h0M117.2 2.0h0M102.0 75.4h0M111.3 48.4h0M211.8 3.1h0M166.0 37.9h0M233.2 29.3h0M117.7 14.4h0M174.2 9.6h0M209.2 56.3h0M184.4 81.0h0M146.6 64.9h0M148.1 24.2h0M192.8 45.2h0M179.3 2.7h0M168.1 16.4h0M233.5 84.1h0M166.3 116.9h0M130.5 82.0h0M214.5 84.5h0M129.0 87.9h0M154.4 133.5h0M147.5 132.4h0M134.2 55.9h0M163.4 82.8h0M229.2 64.2h0M95.1 18.9h0M201.4 11.5h0M119.2 47.1h0M172.5 104.7h0M159.2 27.5h0M224.7 95.1h0M110.9 52.1h0M176.0 114.4h0M146.5 99.9h0M192.5 25.6h0M209.4 27.5h0M69.9 3.1h0M193.4 74.2h0M160.1 101.6h0M123.2 98.9h0M152.9 137.6h0M98.9 60.4h0M154.2 103.9h0M188.8 6.4h0M167.6 49.1h0M183.4 64.0h0M136.6 3.0h0M177.7 68.5h0M161.1 114.7h0M140.5 54.7h0M187.4 32.5h0M147.9 97.4h0M176.7 60.7h0M199.7 10.8h0M167.9 0.6h0M173.7 137.2h0M163.3 133.4h0M173.1 86.3h0M141.4 67.8h0M117.8 46.0h0M196.1 23.5h0M121.6 88.4h0M206.5 45.0h0M212.7 93.4h0M145.5 67.7h0M149.9 92.3h0M106.1 51.3h0M131.0 27.6h0M134.9 149.7h0M163.2 52.8h0M157.7 65.8h0M158.6 79.5h0M92.2 22.0h0M134.1 106.5h0M233.5 57.1h0M96.4 33.9h0M223.0 65.2h0M199.1 52.9h0M179.0 24.6h0M148.8 100.2h0M83.7 5.2h0M171.1 105.9h0M175.7 34.1h0M97.3 16.6h0M182.1 137.9h0M187.5 8.6h0M180.9 119.9h0M99.4 -0.7h0M214.0 103.2h0M147.1 121.8h0M159.9 120.1h0M203.5 134.8h0M103.6 -0.7h0M117.1 11.3h0M170.4 146.0h0M184.9 1.0h0M119.0 61.6h0M165.9 73.9h0M105.7 79.8h0M230.0 66.1h0M134.7 114.7h0M155.8 53.5h0M209.0 44.8h0M174.8 121.1h0M180.8 33.4h0M115.9 71.0h0M90.0 2.6h0M226.6 89.7h0M163.9 49.1h0M177.0 79.9h0M132.0 128.0h0M78.4 1.2h0M169.7 94.7h0M128.1 76.5h0M227.6 61.8h0M146.1 85.7h0M96.0 5.2h0M141.9 153.6h0M134.0 83.0h0M120.2 4.4h0M117.2 18.6h0M216.9 38.4h0M159.7 77.3h0M158.6 114.9h0M201.6 79.3h0M217.8 106.5h0M127.7 36.2h0M152.4 92.5h0M216.0 76.4h0M141.0 155.4h0M233.1 33.8h0M77.5 20.2h0M107.3 19.2h0M214.6 57.3h0M215.7 32.4h0M122.2 101.1h0M136.7 64.2h0M222.4 58.3h0M113.0 6.2h0M104.4 72.9h0M183.8 79.2h0M176.8 144.4h0M197.3 81.1h0M122.9 104.4h0M134.8 7.4h0M140.5 93.4h0M178.2 61.3h0M187.2 101.2h0M92.3 7.7h0M129.8 11.2h0M129.7 47.0h0M196.8 105.3h0M191.2 5.6h0M211.2 5.6h0M175.9 91.9h0M180.6 29.6h0M164.4 46.3h0M165.0 79.3h0M188.4 75.5h0M100.3 10.0h0M118.5 33.3h0M170.2 70.0h0M178.2 65.6h0M102.8 76.1h0M205.4 42.4h0M168.8 145.9h0M142.6 34.2h0M123.6 106.9h0M150.1 61.8h0M153.0 60.6h0M221.0 46.9h0M130.7 112.6h0M140.3 129.4h0M164.8 18.2h0M91.3 4.3h0M181.9 2.2h0M76.6 18.3h0M149.8 70.8h0M196.4 78.7h0M150.4 74.3h0M148.1 44.0h0M161.5 135.3h0M219.1 76.2h0M122.2 82.3h0M183.9 105.7h0M132.1 110.8h0M105.4 55.9h0M233.5 86.2h0M177.2 130.5h0M78.3 4.1h0M131.5 108.7h0M155.8 90.6h0M140.0 70.6h0M146.7 52.1h0M198.9 90.7h0M186.1 110.0h0M176.7 27.4h0M166.6 9.7h0M167.7 140.0h0M145.6 45.2h0M127.3 44.0h0M189.5 110.9h0M205.5 72.8h0M174.0 25.9h0M170.2 59.8h0M182.0 98.8h0M129.0 42.3h0M223.6 71.0h0M119.3 67.4h0M181.7 27.7h0M168.9 11.2h0M177.8 23.7h0M134.0 95.4h0M178.7 124.6h0M149.5 73.3h0M186.1 12.3h0M172.9 123.4h0M183.0 61.3h0M170.2 4.5h0M197.5 89.0h0M175.4 112.3h0M222.1 79.2h0M181.4 129.5h0M211.8 94.0h0M126.1 9.3h0M115.4 32.0h0M169.6 63.0h0M121.1 94.6h0M206.7 3.4h0M143.2 86.2h0M132.3 59.1h0M233.5 88.3h0M131.4 105.4h0M224.9 105.5h0M108.7 79.9h0M120.9 0.2h0M153.8 44.9h0M222.3 92.6h0M180.6 109.0h0M137.3 74.1h0M175.2 134.0h0M198.9 18.6h0M80.0 25.9h0M179.3 48.0h0M168.8 6.7h0M226.3 42.3h0M209.2 65.4h0M128.8 40.6h0M214.4 111.1h0M224.4 32.2h0M127.3 86.7h0M231.8 113.0h0M95.4 20.5h0M162.9 142.6h0M109.0 31.8h0M98.3 2.1h0M143.9 90.1h0M101.9 0.2h0M84.5 16.6h0M190.5 0.7h0M101.2 16.2h0M200.0 122.0h0M162.5 50.4h0M180.8 131.2h0M74.2 5.0h0M139.0 39.3h0M170.7 25.7h0M204.0 54.1h0M233.5 98.7h0M158.2 51.4h0M206.5 99.1h0M213.4 45.0h0M187.7 117.0h0M94.9 51.4h0M151.4 103.8h0M178.4 92.8h0M195.2 8.5h0M140.2 108.2h0M105.1 -0.2h0M109.2 90.2h0M198.4 58.7h0M144.3 74.5h0M73.8 9.4h0M233.5 102.9h0M175.6 45.2h0M102.8 31.5h0M213.3 48.0h0M99.2 4.7h0M94.9 14.1h0M163.9 131.8h0M171.6 129.2h0M206.8 60.4h0M174.4 29.5h0M225.8 84.4h0M147.0 115.0h0M186.9 80.0h0M111.4 61.6h0M156.4 76.7h0M211.5 109.2h0M77.6 7.8h0M163.7 140.4h0M214.3 49.9h0M125.5 36.0h0M132.4 103.8h0M215.6 50.2h0M137.7 141.9h0M149.3 130.4h0M233.5 105.0h0M207.1 42.5h0M179.6 116.8h0M218.1 54.9h0M146.8 20.7h0M198.1 108.2h0M197.9 62.9h0M135.0 101.1h0M195.7 103.3h0M202.7 104.4h0M182.4 14.3h0M101.4 39.1h0M123.1 86.3h0M125.9 104.0h0M173.1 88.6h0M131.3 102.3h0M108.9 83.5h0M127.4 55.2h0M196.2 115.1h0M139.0 112.1h0M125.3 63.9h0M222.3 37.1h0M124.7 68.4h0M80.6 4.8h0M98.1 56.2h0M105.2 17.7h0M164.0 126.7h0M78.3 13.9h0M186.0 99.0h0M143.0 153.7h0M228.4 82.9h0M120.5 104.8h0M106.4 75.0h0M105.2 38.1h0M109.6 62.9h0M194.8 46.2h0M151.0 53.6h0M141.6 90.3h0M99.0 51.6h0M127.7 4.7h0M180.9 43.5h0M197.7 70.9h0M80.7 -0.7h0M169.1 60.9h0M149.6 43.7h0M153.7 112.8h0M105.3 9.0h0M166.3 10.7h0M126.7 11.7h0M141.7 27.3h0M124.4 -0.7h0M151.9 47.1h0M70.1 -1.3h0M203.3 99.8h0M202.2 115.6h0M142.4 61.5h0M219.5 107.8h0M232.6 104.0h0M205.9 13.2h0M171.6 117.9h0M129.2 110.4h0M209.8 -0.7h0M221.3 108.7h0M129.8 59.4h0M160.4 124.7h0M163.4 87.9h0M173.0 142.2h0M214.5 34.6h0M96.2 25.2h0M208.5 41.4h0M133.7 129.2h0M135.1 145.2h0M143.0 154.8h0M162.8 119.0h0M184.8 141.9h0M176.6 41.8h0M178.8 143.8h0M186.0 76.5h0M163.6 57.4h0M95.3 11.5h0M126.5 30.4h0M225.3 111.6h0M155.8 92.6h0M232.0 95.2h0M170.3 83.9h0M197.4 2.0h0M165.8 114.5h0M179.7 127.3h0M200.9 0.4h0M191.2 108.1h0M125.9 76.1h0M185.7 15.9h0M104.2 4.9h0M191.4 96.6h0M111.8 77.7h0M232.9 82.3h0M157.3 88.1h0M222.5 63.9h0M209.5 108.7h0M118.4 102.3h0M221.9 73.3h0M108.0 4.1h0M221.2 56.4h0M113.6 16.2h0M114.1 86.4h0M134.9 74.8h0M209.0 59.1h0M214.3 107.7h0M157.1 94.3h0M142.9 94.8h0M112.7 45.3h0M111.8 40.2h0M82.4 6.6h0M223.3 81.1h0M135.0 70.2h0M81.7 17.5h0M156.2 103.4h0M199.1 115.7h0M189.0 -0.7h0M133.2 145.9h0M158.4 140.7h0M176.6 82.1h0M129.0 102.5h0M186.9 43.8h0M141.2 130.1h0M149.3 54.8h0M209.3 106.3h0M210.5 79.3h0M182.1 108.6h0M94.7 15.7h0M119.5 27.4h0M124.7 11.2h0M214.5 77.1h0M217.4 114.9h0M164.4 67.9h0M120.5 14.4h0M147.6 88.1h0M222.1 39.2h0M191.8 120.2h0M149.5 45.0h0M69.0 1.2h0M88.1 19.0h0M157.5 43.2h0M210.7 98.1h0M83.3 32.0h0M167.8 44.0h0M126.5 130.7h0M147.9 57.4h0M127.1 13.9h0M133.6 63.9h0M139.9 87.5h0M99.5 18.9h0M70.7 5.0h0M107.9 36.4h0M83.7 27.9h0M82.8 -0.7h0M88.5 29.9h0M194.9 55.3h0M142.4 132.7h0M168.5 39.5h0M166.1 128.7h0M214.6 86.4h0M97.3 -0.7h0M160.0 136.4h0M191.1 -0.7h0M225.5 35.0h0M106.1 83.6h0M145.5 150.8h0M135.8 151.6h0M165.2 16.9h0M91.0 50.7h0M167.0 81.7h0M95.0 5.2h0M196.4 58.6h0M207.0 74.7h0M197.8 57.2h0M163.8 112.8h0M92.1 39.1h0M136.5 152.7h0M129.3 106.9h0M128.8 62.8h0M182.5 134.7h0M112.6 53.6h0M195.8 77.3h0M105.4 21.1h0M186.0 2.5h0M232.1 108.6h0M101.0 24.8h0M163.8 109.1h0M108.6 17.0h0M213.4 102.6h0M202.9 13.7h0M195.6 86.3h0M170.0 45.1h0M119.1 65.7h0M215.5 86.6h0M130.6 41.2h0M85.8 38.3h0M170.9 141.5h0M227.9 101.0h0M128.4 89.9h0M223.4 110.9h0M154.6 128.1h0M137.5 155.4h0M126.4 74.9h0M189.5 124.3h0M167.1 77.5h0M206.9 12.5h0M201.5 118.3h0M120.6 29.2h0M74.9 14.5h0M154.1 131.4h0M223.5 37.2h0M216.0 97.9h0M156.9 22.5h0M217.0 60.6h0M166.6 13.1h0M225.4 52.9h0M149.7 89.1h0M118.4 3.2h0M163.3 25.7h0M86.7 31.9h0M173.4 48.4h0M119.6 25.2h0M89.8 5.2h0M136.6 85.3h0M113.2 98.9h0M164.5 35.6h0M144.4 47.1h0M129.9 136.9h0M161.9 77.7h0M164.7 23.2h0M205.8 40.8h0M160.8 61.0h0M87.3 -0.5h0M135.5 4.4h0M135.1 149.0h0M185.3 18.5h0M127.5 51.4h0M181.0 84.2h0M128.2 58.8h0M203.6 -0.7h0M132.8 142.9h0M233.5 94.6h0M84.8 -0.7h0M85.1 37.3h0M169.0 124.7h0M198.6 85.2h0M96.3 22.5h0M191.3 133.7h0M141.4 36.6h0M135.3 13.0h0"/><path stroke="#004dff" d="M151.3 5.2h0M176.0 52.1h0M147.0 6.7h0M149.4 3.1h0M148.7 4.0h0M179.6 55.1h0M221.5 99.3h0"/><path stroke="#6bff94" d="M165.3 146.7h0"/><path stroke="#ff6100" d="M158.4 144.7h0"/><path stroke="#05fffa" d="M149.1 148.7h0"/><path stroke="#000094" d="M181.3 110.9h0M191.3 81.0h0M115.0 58.4h0"/><path stroke="#000fff" d="M233.6 15.3h0M222.6 6.8h0M225.0 2.7h0M219.7 97.4h0M222.5 0.2h0M147.3 -0.7h0M233.5 15.4h0M224.4 0.9h0M233.5 19.6h0M196.4 32.6h0M222.2 8.8h0M220.5 2.4h0M204.1 32.3h0M232.4 17.8h0"/><path stroke="#0075ff" d="M129.1 114.6h0"/><path stroke="#a8ff57" d="M149.6 142.5h0"/><path stroke="#0038ff" d="M224.4 131.6h0M229.2 131.0h0M196.2 37.8h0M149.7 0.5h0M200.2 37.8h0"/><path stroke="#2effd1" d="M221.6 127.1h0"/><path stroke="#e50000" d="M152.2 146.2h0"/><path stroke="#00f0ff" d="M204.0 36.2h0M202.0 34.5h0"/><path stroke="#faff05" d="M146.8 144.6h0M158.9 149.9h0"/><path stroke="#00c7ff" d="M117.2 109.7h0M121.1 111.2h0"/><path stroke="#0000fa" d="M152.4 38.4h0M154.5 38.0h0M224.0 99.0h0M233.6 12.3h0M201.4 38.4h0M233.5 127.9h0M153.9 1.2h0M155.5 33.7h0M233.0 129.8h0M144.1 14.5h0M150.4 38.5h0M142.7 7.2h0M227.2 131.4h0M232.4 20.7h0M153.3 11.2h0M209.9 88.4h0M155.5 30.5h0M224.9 7.3h0M223.6 9.6h0"/><path stroke="#00c7ff" d="M148.4 31.7h0M196.0 36.6h0"/><path stroke="#0061ff" d="M173.8 52.7h0"/><path stroke="#0000e6" d="M183.5 51.7h0M187.6 49.1h0M157.1 13.3h0M139.3 122.0h0M190.6 49.5h0M206.7 32.0h0M155.7 5.4h0M147.9 140.1h0M230.2 18.6h0M213.8 127.0h0M156.0 40.0h0M157.0 16.7h0M163.1 1.9h0M187.2 51.7h0M188.1 54.7h0M210.4 83.4h0M227.2 24.8h0M153.1 141.3h0M155.0 15.3h0M157.8 -0.7h0M233.5 11.2h0M156.5 36.9h0M231.6 23.6h0M164.0 -0.7h0M230.3 15.7h0M161.1 0.1h0M136.2 117.5h0M220.3 -0.7h0M160.6 11.9h0M142.4 10.9h0M159.9 10.0h0M141.7 120.3h0M190.7 54.2h0M161.7 13.6h0M170.4 35.7h0M150.3 15.8h0M148.3 39.1h0M160.8 6.7h0M183.4 49.5h0M216.9 133.1h0M217.0 30.0h0M190.0 55.9h0M154.6 13.0h0"/><path stroke="#ff0f00" d="M157.2 144.7h0"/><path stroke="#0000d1" d="M137.6 124.1h0M212.8 119.8h0M141.2 121.8h0M233.5 9.1h0M213.8 122.8h0M233.5 5.0h0M123.6 122.0h0M230.0 25.8h0M229.2 14.4h0M226.5 -0.7h0M220.2 25.9h0M212.6 125.0h0M227.0 118.0h0M153.7 40.6h0M149.4 151.7h0M133.2 117.6h0M139.9 124.6h0M233.5 0.8h0M213.1 128.1h0M212.0 117.4h0M151.2 140.7h0M128.8 112.8h0M207.7 128.6h0M215.1 3.4h0M189.1 48.0h0M216.5 10.0h0M158.8 141.4h0M223.6 25.7h0M146.2 149.3h0M227.2 0.1h0M222.9 96.4h0M190.9 48.4h0M225.7 15.9h0M227.2 1.7h0M227.5 18.3h0M232.8 -0.7h0M232.9 5.3h0M208.1 82.1h0M210.6 130.4h0M210.5 122.5h0M226.7 122.7h0M213.1 32.4h0M228.2 119.3h0M140.5 118.1h0M220.1 118.8h0M222.1 22.4h0M209.7 123.5h0M231.5 123.8h0"/><path stroke="#000094" d="M117.5 26.9h0M154.8 83.5h0M204.2 93.4h0"/><path stroke="#05fffa" d="M123.3 116.9h0M122.7 112.9h0M197.0 35.0h0M220.9 128.0h0"/><path stroke="#ff9e00" d="M162.9 148.7h0M163.5 146.3h0"/><path stroke="#00b2ff" d="M175.3 53.7h0M150.3 30.0h0"/><path stroke="#fff000" d="M149.0 143.6h0"/><path stroke="#bdff42" d="M145.6 146.2h0"/><path stroke="#1affe5" d="M120.0 113.4h0M156.9 150.5h0M118.9 113.5h0M145.1 142.7h0"/><path stroke="#009eff" d="M151.9 151.2h0M154.9 151.1h0"/><path stroke="#008aff" d="M172.6 53.7h0M222.3 123.8h0"/><path stroke="#0038ff" d="M127.7 118.2h0M175.3 57.1h0"/><path stroke="#ffdb00" d="M153.4 149.5h0M151.5 149.7h0"/><path stroke="#00dbff" d="M204.5 34.7h0"/><path stroke="#0000fa" d="M153.4 27.1h0M151.8 34.5h0M145.5 28.0h0M233.5 23.7h0M149.2 -1.2h0M161.0 144.0h0M221.9 122.8h0M171.4 52.3h0M233.5 13.3h0M156.4 28.2h0M143.2 -0.7h0M143.0 4.2h0M153.8 35.8h0M219.4 101.5h0M152.9 151.8h0M222.3 -0.7h0M125.9 111.6h0"/><path stroke="#000fff" d="M220.2 6.6h0M233.5 21.6h0M222.1 130.5h0M149.4 -0.7h0M159.8 142.5h0M143.9 10.0h0M208.7 86.5h0M151.5 -0.7h0M233.5 17.5h0M146.7 140.6h0"/><path stroke="#0000bd" d="M123.9 124.9h0M223.3 12.2h0M204.4 124.9h0M212.6 -1.3h0M163.1 100.9h0M176.6 11.4h0M143.3 149.6h0M224.7 17.8h0M206.7 135.2h0M169.1 32.0h0M224.4 13.0h0M220.9 11.4h0M126.8 124.7h0M210.4 80.9h0M187.2 61.4h0M212.9 34.5h0M209.2 36.5h0M212.0 83.6h0M174.9 50.3h0M209.4 117.9h0M228.6 122.3h0M119.5 107.9h0M204.6 116.1h0M191.6 79.9h0M231.7 9.9h0M212.7 7.1h0M145.4 94.5h0M214.4 -1.1h0M210.7 134.2h0M138.8 10.1h0M233.5 123.7h0M166.5 2.0h0M136.5 115.9h0M224.8 27.8h0M212.4 20.0h0M192.8 54.7h0M143.6 125.6h0M204.9 118.9h0M146.9 117.0h0M229.8 7.9h0M142.3 115.9h0M226.1 123.5h0M217.8 24.8h0M165.1 9.8h0M216.1 14.7h0M203.9 128.3h0M230.7 119.4h0M207.0 133.2h0M136.4 109.2h0M230.0 0.1h0M140.8 14.1h0M220.8 30.6h0M158.9 18.0h0"/><path stroke="#00f0ff" d="M126.5 114.7h0M120.6 117.3h0M217.0 123.7h0M201.2 35.9h0M126.1 117.0h0M216.7 131.5h0M147.7 29.6h0M231.6 129.2h0"/><path stroke="#0024ff" d="M121.4 119.2h0M206.5 37.9h0M152.2 29.8h0M116.3 107.8h0M151.8 31.9h0M146.1 0.1h0M215.1 124.0h0M151.4 0.3h0M144.2 2.1h0M151.6 13.8h0M145.9 14.0h0"/><path stroke="#ff7500" d="M156.6 149.1h0"/><path stroke="#e5ff1a" d="M218.1 129.4h0"/><path stroke="#0000a8" d="M140.5 127.2h0M205.9 49.9h0M188.2 72.6h0M198.6 112.2h0M171.4 144.1h0M124.8 126.9h0M228.6 88.4h0M198.8 121.4h0M203.2 27.7h0M189.7 121.6h0M176.0 97.0h0M145.5 76.8h0M198.2 54.1h0M132.0 11.7h0M176.9 72.0h0M188.1 68.4h0M193.5 2.3h0M194.7 70.5h0M233.8 70.8h0M108.1 38.7h0M189.6 44.0h0M198.9 106.1h0M219.3 113.0h0M233.5 36.2h0M98.3 12.3h0M171.1 74.4h0M165.0 136.0h0M130.3 90.4h0M180.8 39.2h0M205.3 27.1h0M158.6 59.2h0M169.5 49.6h0M125.7 44.6h0M123.5 25.1h0M134.7 138.1h0M227.6 36.1h0M109.4 68.6h0M226.7 95.2h0M111.8 5.2h0M156.0 69.8h0M87.2 21.3h0M178.1 129.5h0M162.7 93.2h0M116.8 35.6h0M212.0 67.1h0M121.6 33.7h0M109.6 86.8h0M109.3 19.1h0M205.8 54.4h0M146.7 110.7h0M203.0 77.0h0M120.9 38.3h0M204.4 65.0h0M133.1 9.3h0M183.0 112.8h0M137.8 53.7h0M108.5 74.6h0M153.3 56.4h0M139.4 136.9h0M91.8 52.6h0M191.4 20.4h0M93.5 56.4h0M201.2 30.4h0M105.0 11.0h0M102.5 4.4h0M133.3 35.7h0M192.4 95.3h0M190.0 70.7h0M204.2 18.8h0M186.0 115.1h0M131.7 53.1h0M164.4 103.6h0M182.4 122.4h0M193.6 56.2h0M145.7 126.4h0M180.9 18.7h0M107.8 -0.7h0M136.2 9.7h0M116.9 20.4h0M147.4 138.4h0M186.4 119.9h0M180.7 140.4h0M200.3 59.8h0M222.5 81.3h0M129.9 98.8h0M162.2 103.9h0M233.5 69.6h0M187.6 121.5h0M188.2 83.9h0M139.5 12.5h0M221.2 51.8h0M143.2 36.6h0M157.3 74.9h0M206.3 108.8h0M114.3 23.8h0M141.9 56.9h0M106.5 62.0h0M140.3 64.8h0M195.2 66.4h0M121.0 66.0h0M134.3 97.9h0M221.1 115.3h0M234.0 65.5h0M169.4 9.3h0M167.5 79.3h0M183.0 81.4h0M185.5 104.5h0M187.0 74.6h0M227.6 110.9h0M182.6 17.7h0M210.4 9.2h0M188.5 86.1h0M214.4 67.9h0M219.6 35.5h0M199.4 -0.7h0M164.9 32.1h0M185.1 71.6h0M106.8 86.0h0M144.4 71.8h0M136.4 29.2h0M233.5 63.3h0M198.3 13.6h0M173.4 128.9h0M68.2 -0.7h0M178.3 4.3h0M177.2 121.8h0M227.5 64.1h0M88.7 1.0h0M131.8 30.5h0M91.1 45.6h0M233.5 73.7h0M142.8 77.8h0M226.5 54.7h0M206.5 113.5h0M203.3 1.2h0M214.3 62.0h0M170.2 7.1h0M177.0 108.4h0M136.3 87.4h0M176.9 104.6h0M114.4 11.4h0M80.5 22.0h0M176.9 21.4h0M112.2 23.5h0M136.5 72.8h0M201.5 64.0h0M135.4 147.4h0M123.6 72.7h0M179.1 45.5h0M213.3 87.7h0M161.9 59.7h0M161.4 63.8h0M179.8 90.8h0M165.4 123.9h0M128.0 9.7h0M167.1 18.0h0M144.3 41.5h0M167.0 26.9h0M167.7 53.9h0M141.3 94.2h0M199.8 92.3h0M179.3 -1.1h0M117.6 104.8h0M81.2 14.1h0M188.8 33.6h0M207.7 25.6h0M209.3 63.2h0M125.4 126.5h0M162.8 34.4h0M180.9 40.9h0M133.2 14.6h0M113.4 75.3h0M203.9 108.5h0M196.0 67.6h0M160.1 80.9h0M143.9 81.1h0M231.6 59.7h0M138.6 86.2h0M173.7 -1.1h0M185.4 4.6h0M233.5 34.1h0M174.8 95.6h0M153.4 51.3h0M89.0 40.5h0M106.9 27.9h0M210.8 11.9h0M153.3 96.9h0M89.5 37.2h0M177.6 59.4h0M112.4 18.8h0M212.3 79.1h0M136.0 23.6h0M135.1 36.8h0M120.7 25.7h0M172.9 6.6h0M142.2 128.7h0M99.8 6.9h0M201.7 75.5h0M146.6 107.9h0M163.6 85.6h0M199.8 21.1h0M109.4 27.8h0M130.2 94.2h0M163.6 27.7h0M148.0 123.8h0M141.8 111.5h0M168.0 84.1h0M117.9 95.7h0M134.8 -0.7h0M184.8 129.0h0M184.7 37.9h0M108.0 65.1h0M114.6 92.5h0M91.9 10.3h0M146.7 101.1h0M226.2 67.2h0M211.6 49.9h0M96.3 42.9h0M132.4 92.4h0M90.8 47.5h0M178.4 74.4h0M74.2 0.6h0M75.3 0.9h0M149.9 97.5h0M118.0 73.2h0M88.8 31.1h0M136.2 126.4h0M200.9 98.6h0M220.6 79.4h0M233.5 77.9h0M222.4 33.3h0M233.5 42.5h0M166.5 4.9h0M147.1 89.7h0M182.3 86.2h0M118.2 57.3h0M141.5 112.4h0M169.2 74.0h0M227.3 72.8h0M194.1 24.5h0M142.9 83.2h0M233.5 30.0h0M104.9 13.0h0M86.8 41.2h0M159.3 86.5h0M103.7 79.2h0M228.9 108.6h0M200.2 4.4h0M173.0 114.4h0M197.7 65.5h0M182.2 22.7h0M139.9 97.7h0M118.4 77.4h0M197.5 30.3h0M124.1 96.7h0M196.4 83.7h0M119.0 20.8h0M123.4 107.8h0M117.1 50.0h0M174.0 144.3h0M119.9 100.1h0M188.2 10.8h0M132.2 84.3h0M145.0 154.2h0M202.8 24.6h0M83.4 -1.2h0M208.0 97.2h0M158.8 131.3h0M228.0 79.5h0M117.1 87.4h0M198.7 50.7h0M206.8 58.9h0M229.3 37.0h0M156.2 82.3h0M167.9 103.3h0M112.9 49.9h0M193.5 83.5h0M112.3 10.0h0M121.6 93.4h0M118.0 58.6h0M137.9 34.0h0M93.0 55.8h0M158.8 21.5h0M130.7 -0.7h0M116.8 63.6h0M193.0 77.3h0M111.3 7.3h0M201.1 89.7h0M202.9 71.6h0M122.2 6.3h0M154.2 85.4h0M112.1 98.3h0M149.6 76.7h0M101.1 73.5h0M155.2 119.1h0M131.4 77.0h0M103.5 70.2h0M229.3 76.8h0M103.8 31.0h0M147.9 82.2h0M196.2 26.9h0M220.2 33.6h0M164.8 41.1h0M126.8 39.4h0M173.0 133.4h0M178.8 17.0h0M170.7 47.1h0M124.8 37.8h0M183.7 11.2h0M156.1 52.1h0M128.4 131.8h0M151.1 72.0h0M226.0 102.0h0M102.8 55.1h0M141.9 31.7h0M157.5 97.9h0M197.9 135.1h0M190.0 104.8h0M157.2 71.1h0M195.2 99.9h0M217.3 89.7h0M80.5 11.3h0M115.2 13.8h0M213.1 43.6h0M216.7 68.5h0M193.4 100.9h0M193.1 107.6h0M126.1 96.7h0M161.3 130.6h0M224.3 77.6h0M91.7 18.8h0M157.2 56.5h0M179.4 62.9h0M214.4 54.9h0M199.9 16.5h0M89.9 7.4h0M226.0 79.3h0M98.2 46.7h0M100.3 71.6h0M173.1 20.1h0M79.2 18.6h0M116.9 74.6h0M151.6 108.2h0M183.5 118.0h0M205.7 94.8h0M166.2 21.3h0M103.8 40.4h0M167.3 85.4h0M216.4 95.0h0M175.7 6.4h0M124.5 41.0h0M152.2 112.4h0M193.7 68.3h0M205.7 23.7h0M211.9 -0.7h0M227.4 77.4h0M92.9 30.4h0M225.2 74.0h0M134.1 31.5h0M158.6 93.1h0M107.9 88.8h0M217.1 83.8h0M203.5 67.4h0M186.6 30.4h0M213.8 81.6h0M172.2 59.4h0M92.7 54.5h0M183.3 33.9h0M95.4 29.2h0M177.4 45.0h0M176.5 -0.7h0M198.1 0.7h0M203.7 112.5h0M117.2 54.2h0M107.0 86.9h0M112.7 64.3h0M175.0 31.8h0M197.8 7.4h0M228.8 38.5h0M200.2 45.7h0M154.1 94.1h0M95.2 61.2h0M173.8 61.0h0M136.4 101.1h0M202.6 121.8h0M120.2 85.2h0M204.7 29.7h0M141.6 87.9h0M156.4 45.2h0M140.6 34.7h0M218.3 34.9h0M213.9 91.3h0M113.2 31.5h0M231.5 26.9h0M163.8 115.3h0M144.5 100.8h0M209.2 7.1h0M133.0 136.1h0M196.6 48.1h0M157.4 136.1h0M164.4 122.7h0M188.7 0.5h0M190.4 90.9h0M211.5 36.1h0M151.9 85.7h0M172.7 95.5h0M122.4 41.3h0M114.4 17.6h0M136.7 137.3h0M225.7 30.4h0M202.8 97.4h0M168.9 146.8h0M118.1 81.0h0M162.7 70.7h0M150.6 56.7h0M129.8 66.4h0M191.4 102.4h0M204.1 40.8h0M230.0 104.4h0M230.1 58.9h0M197.4 129.6h0M126.4 70.8h0M121.7 47.9h0M203.7 63.0h0M149.2 63.3h0M77.9 15.5h0M132.9 107.9h0M194.1 78.5h0M142.5 102.4h0M184.8 136.3h0M172.9 27.5h0M87.2 -1.3h0M152.1 101.1h0M163.5 97.4h0M178.2 115.7h0M219.9 90.5h0M207.1 101.7h0M159.5 35.5h0M191.2 112.7h0M181.0 114.8h0M109.0 58.4h0M175.6 126.2h0M160.0 49.0h0M106.4 7.1h0M117.2 0.9h0M147.7 120.2h0M159.9 126.2h0M76.7 13.4h0M111.7 34.3h0M183.1 67.2h0M187.3 44.6h0M88.8 22.1h0M157.4 100.0h0M146.3 103.7h0M123.1 45.1h0M116.5 39.2h0M202.1 118.9h0M136.3 104.7h0M139.9 47.7h0M229.2 40.1h0M99.8 63.4h0M111.4 24.8h0M103.7 64.1h0M156.6 113.3h0M132.0 79.5h0M188.5 104.3h0M190.2 28.2h0M187.1 21.0h0M233.1 37.9h0M119.4 97.2h0M174.6 82.1h0M189.8 94.6h0M127.3 132.6h0M185.8 67.4h0M176.6 8.8h0M134.0 55.1h0M126.3 86.7h0M194.0 51.4h0M162.3 85.3h0M220.4 93.4h0M164.7 117.8h0M119.5 55.3h0M149.2 121.4h0M177.9 70.7h0M113.1 14.7h0M137.0 6.6h0M101.5 73.9h0M189.9 138.6h0M203.8 117.8h0M233.5 55.0h0M211.8 22.4h0M224.2 63.4h0M222.6 84.0h0M190.1 72.6h0M81.7 9.0h0M131.1 46.1h0M168.4 56.5h0M170.6 16.4h0M211.2 14.1h0M108.8 11.1h0M112.0 27.9h0M137.0 11.4h0M174.0 96.5h0M200.2 96.4h0M110.6 72.5h0M175.9 120.5h0M161.1 132.9h0M211.2 27.7h0M139.8 146.2h0M151.0 82.8h0M141.3 85.1h0M81.5 0.9h0M175.0 91.1h0M95.0 23.7h0M89.0 -0.7h0M146.5 49.3h0M115.8 7.5h0M139.4 51.4h0M199.6 123.8h0M90.4 19.8h0M225.6 71.1h0M222.7 75.4h0M222.4 67.3h0M116.1 16.5h0M216.4 35.8h0M129.7 60.9h0M231.6 61.6h0M127.6 94.2h0M114.0 -0.7h0M117.0 29.7h0M140.2 45.7h0M172.7 90.8h0M117.5 85.7h0M144.5 96.4h0M154.6 78.5h0M147.1 83.3h0M154.0 81.7h0M165.1 55.8h0M127.3 108.4h0M180.6 4.5h0M193.6 132.7h0M169.7 76.9h0M169.7 127.0h0M176.0 66.1h0M204.0 11.3h0M131.2 7.4h0M145.5 52.3h0M130.1 72.2h0M123.9 74.1h0M173.0 140.0h0M168.0 110.4h0M150.6 116.8h0M204.0 5.3h0M210.4 71.9h0M74.4 11.7h0M233.0 105.6h0M145.9 130.2h0M193.6 117.6h0M156.2 130.7h0M172.8 145.6h0M153.2 100.1h0M198.0 46.3h0M185.8 117.5h0M160.5 96.5h0M163.8 61.2h0M223.3 30.1h0M202.7 110.5h0M163.3 47.7h0M207.9 92.4h0M158.9 107.7h0M146.9 74.1h0M214.2 39.5h0M165.2 101.9h0M141.7 93.3h0M127.7 27.5h0M168.9 108.9h0M172.3 49.3h0M89.4 29.2h0M131.0 49.5h0M155.1 97.0h0M95.2 56.3h0M182.0 77.0h0M155.5 138.4h0M132.1 16.1h0M194.7 60.5h0M223.8 86.6h0M199.0 99.7h0M137.7 125.9h0M125.4 49.1h0M170.8 3.5h0M228.4 43.6h0M108.2 34.5h0M228.4 51.8h0M97.8 65.9h0M93.9 41.5h0M142.2 96.8h0M131.3 136.9h0M205.1 70.6h0M137.2 110.6h0M206.5 67.2h0M197.2 52.4h0M123.9 71.0h0M195.0 16.3h0M124.4 92.6h0M212.5 24.7h0M209.9 24.7h0M146.2 63.5h0M212.6 74.0h0M106.6 22.8h0M89.9 25.8h0M161.9 107.7h0M100.4 34.9h0M110.4 94.5h0M80.1 20.9h0M214.5 71.7h0M104.8 35.9h0M87.2 35.0h0M206.8 7.4h0M192.1 128.7h0M136.7 47.3h0M180.7 121.5h0M230.1 38.0h0M188.4 128.1h0M131.8 34.8h0M97.5 -0.4h0M179.3 7.2h0M198.6 57.4h0M150.0 119.7h0M206.6 62.8h0M152.1 22.6h0M148.8 112.6h0M177.6 140.5h0M124.8 59.6h0M100.8 20.5h0M109.2 22.0h0M111.8 57.2h0M196.9 118.9h0M155.1 123.9h0M93.5 34.4h0M233.5 59.1h0M111.1 2.8h0M133.5 130.4h0M109.4 49.2h0M102.8 77.3h0M191.3 125.7h0M96.9 13.5h0M197.7 9.0h0M131.7 20.9h0M169.0 19.0h0M223.5 55.0h0M172.4 31.3h0M100.0 71.0h0M165.8 25.2h0M84.3 13.6h0M110.7 1.0h0M190.4 32.2h0M201.7 73.0h0M126.8 47.5h0M211.4 103.8h0M106.8 47.0h0M95.1 0.8h0M172.1 4.8h0M93.4 21.3h0M148.1 58.3h0M214.9 80.0h0M128.4 67.6h0M163.7 29.3h0M219.7 69.3h0M103.2 56.5h0M183.1 3.3h0M123.3 29.1h0M172.7 2.0h0M98.6 30.1h0M121.9 59.4h0M205.0 3.3h0M170.0 13.3h0M131.7 2.6h0M110.6 16.5h0M190.9 75.2h0M95.4 7.7h0M122.1 31.2h0M83.2 17.5h0M187.3 40.1h0M133.9 67.0h0M196.7 73.9h0M149.1 90.9h0M187.3 108.2h0M150.6 77.7h0M112.9 34.3h0M168.4 120.5h0M118.2 -0.7h0M101.2 67.0h0M202.1 102.3h0M174.7 -0.0h0M194.6 105.4h0M198.0 127.4h0M170.9 101.8h0M200.9 86.4h0M203.0 81.6h0M104.3 54.2h0M166.3 110.4h0M84.3 2.6h0M170.5 85.8h0M158.8 113.1h0M106.0 25.8h0M143.0 103.4h0M141.5 74.2h0M176.6 90.3h0M181.4 97.4h0M229.5 81.7h0M112.4 95.2h0M199.1 78.8h0M233.8 76.4h0M130.0 23.5h0M100.9 44.0h0M99.0 7.3h0M111.6 64.8h0M199.9 27.7h0M136.7 106.3h0M117.8 67.5h0M92.4 25.8h0M148.2 135.2h0M116.7 43.7h0M196.2 135.5h0M230.4 96.4h0M194.7 138.8h0M152.3 75.4h0M158.6 117.5h0M206.6 77.0h0M101.7 36.4h0M91.3 27.1h0M201.0 104.3h0M160.8 46.9h0M109.4 69.9h0M185.2 130.6h0M130.1 139.7h0M146.3 41.7h0M184.0 101.1h0M129.3 2.0h0M132.8 5.0h0M125.2 72.6h0M147.0 18.1h0M230.9 69.8h0M219.9 82.8h0M175.2 124.9h0M137.8 5.7h0M94.2 9.6h0M227.9 34.2h0M194.0 92.7h0M161.4 140.1h0M128.0 126.0h0M222.5 31.1h0M138.8 57.6h0M194.8 115.3h0M96.2 2.9h0M185.7 108.0h0M201.1 108.9h0M144.1 132.8h0M206.7 20.5h0M71.5 3.2h0M217.1 62.5h0M135.2 99.2h0M182.8 4.9h0M91.7 13.3h0M104.7 26.7h0M101.5 -0.7h0M169.1 70.9h0M103.0 3.2h0M109.3 7.9h0M112.1 59.4h0M180.7 -0.7h0M157.5 101.7h0M108.4 20.5h0M230.5 74.6h0M85.1 12.1h0M232.5 90.7h0M134.3 87.9h0M138.5 100.2h0M157.4 60.7h0M218.4 69.4h0M93.1 42.5h0M198.7 137.6h0M195.4 1.0h0M196.2 4.9h0M215.6 42.6h0M106.5 41.2h0M115.8 77.2h0M97.5 38.2h0M177.0 99.1h0M183.5 20.7h0M174.8 145.0h0M198.2 5.1h0M113.5 78.5h0M207.7 94.7h0M118.9 38.9h0M223.0 42.8h0M191.1 12.1h0M225.0 40.5h0M150.6 133.9h0M126.9 88.9h0M230.7 47.5h0M233.8 112.1h0M215.8 73.3h0M84.7 22.9h0M200.3 54.8h0M202.4 3.2h0M176.6 85.5h0M128.8 128.2h0M233.2 79.3h0M105.4 28.8h0M114.4 61.5h0M188.4 2.8h0M209.5 114.7h0M180.2 49.6h0M207.5 57.5h0M145.7 136.9h0M155.3 106.5h0M187.3 63.6h0M165.3 34.2h0M204.3 52.6h0M233.8 54.2h0M160.4 57.4h0M152.9 111.0h0M150.6 21.0h0M128.1 72.4h0M167.6 31.8h0M199.7 133.8h0M162.5 73.8h0M86.9 -0.7h0M133.4 99.6h0M233.5 82.1h0M197.4 15.7h0M217.6 44.0h0M161.0 95.4h0M151.8 95.3h0M186.4 39.0h0M222.2 47.4h0M138.4 148.7h0M99.2 44.7h0M170.1 12.2h0M196.0 107.7h0M208.8 22.8h0M221.9 55.3h0M206.8 79.9h0M233.5 52.9h0M180.6 124.1h0M160.0 100.3h0M191.7 7.4h0M233.5 27.9h0M143.3 45.4h0M167.6 142.0h0M125.8 56.5h0M189.9 105.5h0M233.5 48.7h0M190.9 63.8h0M215.0 114.7h0M170.6 61.8h0M148.9 153.0h0M116.6 105.6h0M128.2 103.3h0M154.6 111.3h0M159.8 41.4h0M197.1 138.0h0M154.0 72.3h0M180.2 135.6h0M230.0 92.5h0M215.8 40.6h0M113.8 46.9h0M181.8 21.0h0M166.0 105.5h0M211.7 115.7h0M83.4 33.5h0M172.6 126.5h0M102.6 37.9h0M226.2 96.4h0M120.6 76.9h0M86.3 18.4h0M87.4 10.7h0M99.5 50.5h0M140.2 98.6h0M79.2 24.0h0M117.0 52.1h0M200.8 77.4h0M74.4 1.9h0M123.3 22.2h0M200.4 7.0h0M89.8 45.0h0M119.2 83.9h0M190.5 136.3h0M153.4 58.9h0M180.5 113.2h0M88.1 8.7h0M161.1 83.9h0M166.5 133.4h0M233.3 109.9h0M209.6 16.9h0M86.7 22.2h0M94.3 55.3h0M188.3 24.5h0M119.4 51.8h0M179.8 31.6h0M100.3 60.3h0M139.2 152.6h0M181.8 25.7h0M120.1 63.2h0M99.8 35.6h0M152.2 90.2h0M133.7 50.7h0M138.4 18.3h0M138.9 84.4h0M110.8 39.5h0M190.8 23.7h0M75.6 7.0h0M217.2 74.8h0M79.1 6.8h0M124.9 14.0h0M170.1 97.6h0M116.1 -0.7h0M115.2 95.2h0M102.9 47.9h0M84.2 8.6h0M218.0 87.5h0M198.0 22.8h0M166.3 95.8h0M120.8 44.9h0M225.5 47.1h0M115.2 35.7h0M122.9 18.2h0M149.8 102.4h0M182.8 142.5h0M152.5 42.6h0M183.1 103.4h0M157.8 124.9h0M190.2 41.4h0M192.2 65.5h0M142.9 136.3h0M101.4 41.7h0M209.5 72.1h0M231.9 45.6h0M116.6 34.4h0M124.3 101.9h0M106.8 55.0h0M193.2 64.2h0M100.9 2.0h0M123.0 8.9h0M138.0 136.1h0M117.0 91.0h0M114.3 80.7h0M227.3 64.9h0M166.6 23.6h0M222.3 50.0h0M105.4 83.1h0M138.3 139.5h0M225.3 115.7h0M197.7 133.1h0M172.1 68.8h0M206.8 47.8h0M87.0 4.6h0M181.9 133.1h0M169.5 104.1h0M233.6 57.2h0M178.0 34.7h0"/><path stroke="#004dff" d="M149.6 7.4h0M147.9 1.7h0M150.7 9.0h0M148.9 9.2h0M150.0 11.5h0M149.0 27.7h0M218.9 132.8h0M147.8 10.9h0"/><path stroke="#000094" d="M162.1 67.4h0M177.0 110.7h0M224.9 45.4h0M102.5 64.9h0M222.8 61.7h0"/><path stroke="#0000bd" d="M217.3 118.1h0M233.5 2.9h0M214.9 20.9h0M211.6 90.5h0M144.3 39.1h0M233.5 117.5h0M226.2 86.1h0M208.2 115.8h0M176.1 29.6h0M213.1 133.4h0M214.6 -0.3h0M144.7 124.9h0M226.6 13.9h0M180.6 58.0h0M134.4 47.2h0M218.1 18.4h0M222.9 15.5h0M207.9 124.3h0M192.5 59.3h0M222.4 117.3h0M218.0 16.4h0M143.5 27.6h0M205.6 133.2h0M135.0 31.9h0M162.7 18.4h0M213.9 23.6h0M220.1 16.6h0M228.6 115.5h0M216.0 25.1h0M213.9 9.7h0M181.3 47.2h0M144.1 115.9h0M233.3 120.3h0M172.6 35.7h0M212.8 133.9h0M208.7 134.6h0M217.6 100.9h0M219.5 95.6h0M208.8 121.6h0M156.7 18.5h0M229.7 26.7h0M166.9 145.3h0M206.2 91.2h0"/><path stroke="#0000fa" d="M219.0 5.3h0M210.6 85.6h0M117.2 108.1h0M148.4 37.3h0M150.6 27.0h0M216.4 122.6h0M146.2 36.8h0M225.1 131.7h0M175.3 58.1h0M142.9 0.2h0M152.2 37.3h0M153.3 31.1h0"/><path stroke="#0000d1" d="M233.5 25.8h0M156.0 24.9h0M228.2 15.5h0M162.3 16.6h0M219.0 27.5h0M211.6 29.4h0M214.5 30.5h0M181.8 53.8h0M141.8 124.1h0M227.6 12.3h0M231.0 3.0h0M218.4 96.7h0M150.9 152.4h0M144.0 140.5h0M217.1 11.7h0M222.1 20.9h0M218.3 13.2h0M143.2 117.6h0M230.7 11.2h0M217.5 7.4h0M219.1 23.2h0M228.6 -0.7h0M222.8 120.4h0M210.4 119.3h0M123.1 123.0h0M206.1 117.8h0M126.2 122.8h0M137.8 117.0h0M214.7 14.7h0M206.0 130.6h0M227.1 26.6h0M233.5 7.1h0M199.9 32.1h0M216.6 0.6h0M127.4 120.4h0M153.5 16.7h0M231.4 0.7h0M226.8 23.1h0M233.5 121.6h0M232.7 25.7h0M217.0 23.5h0M134.0 124.3h0M191.1 36.9h0M171.6 34.7h0M221.7 14.2h0M193.8 32.2h0M209.8 129.3h0M231.1 -1.5h0M191.7 51.5h0M210.4 33.3h0M204.7 88.8h0M144.1 29.0h0M131.2 124.4h0M218.2 -0.7h0M216.2 27.1h0"/><path stroke="#0000e6" d="M163.5 0.7h0M218.6 3.4h0M226.2 9.5h0M161.2 4.5h0M224.4 -0.7h0M156.0 6.2h0M124.0 120.2h0M223.7 101.4h0M160.4 15.4h0M210.8 31.1h0M222.7 129.4h0M158.7 7.3h0M153.6 -0.7h0M185.5 55.3h0M159.0 4.5h0M154.6 4.3h0M163.5 7.8h0M157.0 3.3h0M164.0 4.4h0M187.5 58.8h0M156.1 12.2h0M190.5 58.5h0M155.1 3.2h0M186.0 58.1h0M161.2 9.7h0"/><path stroke="#00f0ff" d="M198.5 36.4h0"/><path stroke="#05fffa" d="M119.3 111.3h0"/><path stroke="#0038ff" d="M228.4 125.0h0M145.8 32.0h0M144.7 12.1h0M152.2 2.1h0"/><path stroke="#fa0000" d="M158.2 147.3h0M152.2 145.1h0"/><path stroke="#1affe5" d="M221.0 132.4h0M118.0 111.6h0"/><path stroke="#ff7500" d="M153.9 143.7h0"/><path stroke="#000fff" d="M214.3 129.5h0M150.0 33.7h0M232.5 13.1h0M148.0 33.7h0M219.5 122.4h0M178.7 51.7h0M153.0 6.5h0M205.2 85.7h0M233.8 23.2h0M145.3 -0.7h0M177.9 57.3h0"/><path stroke="#00dbff" d="M223.0 132.1h0M226.8 125.9h0"/><path stroke="#ffb300" d="M220.6 125.0h0"/><path stroke="#e50000" d="M155.2 147.1h0"/><path stroke="#0024ff" d="M224.7 4.0h0M144.1 6.7h0M221.9 4.4h0"/><path stroke="#ff9e00" d="M158.7 149.3h0M161.8 148.9h0M217.0 127.0h0"/><path stroke="#bdff42" d="M230.0 126.7h0"/><path stroke="#00c7ff" d="M126.3 113.7h0"/><path stroke="#004dff" d="M231.3 130.7h0M145.5 4.5h0M145.4 9.7h0M173.9 57.0h0"/><path stroke="#0000a8" d="M184.2 115.8h0M190.8 140.1h0M214.4 63.8h0M141.7 77.0h0M107.7 14.2h0M126.3 102.2h0M148.7 18.9h0M177.2 31.9h0M102.0 22.9h0M185.6 95.6h0M143.5 54.2h0M76.5 4.4h0M222.4 40.5h0M187.6 13.5h0M152.9 79.2h0M176.6 18.6h0M166.3 125.7h0M114.8 104.6h0M96.1 62.1h0M201.3 42.4h0M165.0 119.7h0M198.0 117.2h0M189.7 98.0h0M202.2 55.8h0M200.1 128.9h0M120.4 22.5h0M82.5 20.5h0M118.5 92.8h0M123.8 16.1h0M176.6 116.6h0M161.0 79.2h0M145.1 61.6h0M128.6 56.6h0M183.0 91.2h0M194.5 6.9h0M192.7 139.5h0M85.7 21.2h0M175.6 76.4h0M128.7 18.1h0M93.3 15.4h0M116.7 48.5h0M112.9 38.6h0M153.9 135.5h0M222.4 45.6h0M130.9 18.1h0M121.0 98.1h0M233.5 61.2h0M193.0 131.2h0M166.5 72.8h0M202.5 87.5h0M234.0 82.3h0M195.1 88.4h0M166.3 67.1h0M141.5 78.3h0M183.5 131.6h0M138.5 145.1h0M159.6 53.5h0M175.5 23.8h0M233.5 113.3h0M137.2 61.5h0M210.5 102.2h0M174.4 131.8h0M213.8 59.6h0M80.9 27.1h0M167.5 92.4h0M150.7 53.0h0M176.7 112.9h0M231.6 29.8h0M182.0 102.1h0M146.3 58.1h0M175.7 128.0h0M210.9 40.0h0M168.7 106.5h0M102.6 52.5h0M200.3 14.5h0M133.1 126.1h0M122.5 28.0h0M187.5 27.7h0M180.4 16.8h0M124.7 26.6h0M142.4 25.8h0M79.9 25.3h0M202.6 90.5h0M228.7 29.7h0M154.9 60.5h0M187.9 113.0h0M186.6 129.2h0M143.2 131.4h0M204.8 7.4h0M171.6 88.4h0M184.7 42.5h0M212.4 110.9h0M180.2 94.3h0M159.4 121.6h0M149.7 128.1h0M142.8 137.2h0M198.3 104.0h0M90.4 43.0h0M158.2 136.9h0M121.3 70.7h0M151.9 62.5h0M168.8 71.7h0M132.8 26.6h0M136.4 135.6h0M136.1 26.7h0M144.9 78.5h0M111.8 85.3h0M141.7 47.6h0M110.5 54.2h0M184.4 75.5h0M164.0 94.1h0M198.7 62.1h0M223.7 58.5h0M187.7 36.6h0M106.2 85.0h0M161.3 37.2h0M159.8 67.6h0M209.7 21.3h0M99.4 69.7h0M150.4 80.1h0M71.6 6.9h0M128.5 45.3h0M217.1 92.6h0M165.3 47.8h0M175.6 135.3h0M215.5 69.8h0M120.4 73.1h0M98.8 68.1h0M144.3 69.8h0M184.6 87.8h0M199.8 30.4h0M165.1 84.1h0M175.4 43.4h0M218.1 79.5h0M183.5 36.0h0M134.1 147.8h0M195.3 -0.7h0M145.2 106.7h0M226.0 56.4h0M175.6 137.8h0M184.8 -1.1h0M197.8 21.2h0M162.4 40.7h0M209.5 10.2h0M126.9 16.6h0M228.8 70.0h0M176.8 106.2h0M132.6 60.8h0M181.4 69.3h0M152.5 70.7h0M159.8 90.9h0M125.9 90.3h0M233.5 96.6h0M138.0 16.4h0M134.7 11.7h0M72.4 8.8h0M197.6 124.0h0M197.6 92.9h0M120.9 18.5h0M133.9 72.0h0M104.1 11.2h0M190.5 85.9h0M133.2 -0.0h0M141.5 22.4h0M197.2 61.2h0M141.3 135.0h0M196.2 13.0h0M191.3 42.6h0M115.1 50.0h0M128.6 84.4h0M108.5 2.2h0M196.9 110.1h0M192.9 71.5h0M91.1 -0.7h0M233.5 42.8h0M181.9 95.3h0M211.6 77.2h0M209.1 49.1h0M175.0 73.2h0M93.6 3.5h0M162.6 91.2h0M130.1 38.1h0M176.1 73.9h0M233.5 100.8h0M141.8 44.0h0M170.0 110.9h0M140.2 115.1h0M182.4 40.0h0M99.3 31.5h0M146.7 53.9h0M175.4 5.4h0M124.7 34.8h0M81.6 30.0h0M134.6 60.9h0M179.9 22.6h0M194.9 137.7h0M107.9 49.1h0M114.0 64.9h0M109.8 -0.7h0M186.7 96.6h0M93.2 -0.7h0M111.9 10.9h0M169.6 23.7h0M138.9 27.6h0M162.5 106.6h0M191.4 38.6h0M225.9 41.5h0M110.4 83.8h0M133.8 39.2h0M196.2 101.4h0M172.6 64.3h0M114.7 104.0h0M172.4 76.4h0M214.1 40.3h0M168.2 -0.7h0M161.6 99.4h0M98.4 25.6h0M193.5 123.5h0M175.9 87.9h0M151.3 44.7h0M168.9 41.5h0M80.9 27.8h0M136.5 40.0h0M218.3 104.6h0M180.0 99.9h0M188.8 140.7h0M155.1 21.3h0M225.2 38.4h0M210.2 43.5h0M157.5 72.8h0M211.5 112.3h0M172.1 98.6h0M233.5 44.6h0M121.1 12.4h0M178.3 101.2h0M113.0 70.0h0M133.4 144.9h0M131.8 42.4h0M184.4 121.7h0M147.0 153.6h0M138.5 68.0h0M196.2 117.4h0M201.7 107.0h0M141.6 71.0h0M130.2 69.5h0M192.2 90.6h0M193.7 96.4h0M161.3 38.2h0M143.6 100.3h0M111.8 79.0h0M145.1 24.3h0M196.3 95.8h0M206.4 66.3h0M192.7 41.1h0M114.6 44.0h0M192.7 126.7h0M207.9 68.2h0M162.0 44.5h0M205.4 75.2h0M209.5 5.6h0M186.2 34.4h0M232.4 53.7h0M216.0 80.6h0M118.2 11.9h0M135.0 81.6h0M155.7 43.2h0M170.3 123.9h0M181.1 65.7h0M207.8 100.0h0M137.6 93.4h0M201.8 129.0h0M202.7 20.1h0M157.1 109.0h0M97.3 18.6h0M231.5 51.3h0M233.5 109.1h0M170.3 -0.7h0M190.3 9.5h0M201.2 94.4h0M188.6 115.3h0M134.0 80.7h0M196.3 18.6h0M122.6 36.3h0M141.1 143.6h0M170.8 132.8h0M128.6 15.9h0M127.8 81.1h0M180.8 1.0h0M226.0 80.5h0M139.2 78.7h0M149.0 104.2h0M200.2 24.4h0M194.4 12.1h0M92.0 36.5h0M168.5 133.1h0M196.3 91.0h0M120.4 50.5h0M181.2 106.1h0M164.7 63.4h0M172.1 0.3h0M139.1 31.4h0M185.2 31.0h0M189.9 19.8h0M109.1 29.9h0M179.4 14.0h0M221.0 103.8h0M115.8 -0.5h0M87.6 43.1h0M127.3 100.2h0M137.9 90.1h0M199.7 42.3h0M192.9 4.1h0M130.1 7.9h0M176.1 39.4h0M130.8 67.5h0M217.1 112.8h0M123.3 6.7h0M147.6 79.9h0M188.6 94.6h0M111.3 96.4h0M161.3 105.4h0M137.7 151.2h0M133.8 80.1h0M203.7 23.7h0M215.7 74.0h0M97.8 43.9h0M94.8 44.9h0M201.9 84.4h0M212.0 61.9h0M136.5 25.5h0M110.5 20.8h0M229.7 85.1h0M191.8 109.9h0M157.4 47.3h0M193.0 14.0h0M167.6 108.9h0M222.4 52.7h0M135.8 90.3h0M152.1 127.3h0M128.6 -0.7h0M140.3 151.6h0M136.6 96.3h0M160.2 88.1h0M204.2 110.8h0M205.5 16.1h0M183.1 132.7h0M140.9 103.8h0M126.1 81.7h0M159.5 73.1h0M167.8 58.7h0M137.2 39.5h0M156.2 64.1h0M166.6 134.7h0M131.5 24.4h0M162.5 20.2h0M191.2 105.6h0M128.5 20.8h0M112.0 80.9h0M192.2 85.4h0M186.0 93.5h0M125.4 18.8h0M187.4 6.3h0M92.3 47.0h0M160.8 25.8h0M138.7 46.1h0M178.6 -0.7h0M132.4 144.0h0M101.6 47.8h0M173.3 92.8h0M193.9 98.7h0M226.4 61.7h0M158.3 22.5h0M90.5 34.2h0M125.6 -0.4h0M174.5 85.7h0M79.1 9.9h0M198.8 131.2h0M99.8 41.1h0M87.2 40.8h0M106.8 43.5h0M87.2 13.8h0M122.3 -0.7h0M157.0 118.9h0M178.6 97.0h0M127.4 25.6h0M89.9 39.2h0M115.4 78.6h0M188.1 81.6h0M158.1 106.8h0M182.8 -0.5h0M219.7 74.9h0M233.5 71.6h0M178.3 11.9h0M124.3 2.1h0M124.9 61.4h0M196.0 24.5h0M122.5 14.1h0M87.3 15.5h0M138.9 81.3h0M153.4 139.7h0M223.5 115.6h0M111.4 70.1h0M129.0 136.4h0M83.1 24.6h0M76.1 9.0h0M127.0 61.0h0M123.6 56.5h0M214.9 102.5h0M151.3 134.8h0M232.9 63.7h0M109.9 80.6h0M109.0 77.2h0M138.6 62.9h0M143.9 63.3h0M104.8 59.1h0M101.5 58.7h0M115.7 65.5h0M195.2 119.3h0M190.0 17.7h0M216.3 104.7h0M124.4 47.3h0M136.3 132.8h0M153.3 83.2h0M181.4 143.1h0M185.8 126.9h0M206.5 0.2h0M129.8 24.3h0M98.7 28.2h0M96.9 58.1h0M142.2 21.4h0M164.4 76.9h0M223.6 73.2h0M150.0 47.2h0M140.5 139.7h0M220.7 94.2h0M87.1 28.0h0M123.6 68.4h0M175.1 36.5h0M226.9 46.0h0M222.0 113.3h0M154.3 126.9h0M212.3 97.2h0M194.5 110.5h0M159.9 110.0h0M141.9 29.1h0M141.4 149.5h0M107.7 47.2h0M162.3 123.5h0M202.7 130.6h0M114.0 21.2h0M155.6 87.8h0M144.1 87.9h0M166.4 112.9h0M155.9 58.4h0M95.3 38.8h0M172.9 15.7h0M192.6 84.3h0M179.0 42.6h0M172.7 112.7h0M153.2 23.3h0M108.0 60.5h0M197.3 12.3h0M188.4 135.0h0M171.7 131.8h0M147.3 48.0h0M118.2 40.6h0M107.6 87.4h0M170.9 20.3h0M234.0 63.2h0M97.9 65.1h0M139.3 61.1h0M171.3 39.0h0M112.7 -0.0h0M161.4 52.6h0M147.0 80.9h0M135.2 133.0h0M129.9 130.1h0M172.2 134.9h0M125.9 34.6h0M178.1 21.3h0M182.4 72.6h0M162.9 136.9h0M156.6 85.4h0M225.0 112.7h0M174.6 18.5h0M136.6 44.9h0M171.7 114.8h0M202.8 94.1h0M102.3 14.2h0M127.5 -0.2h0M233.5 90.4h0M200.3 67.2h0M155.0 115.0h0M97.7 20.1h0M178.4 79.0h0M145.4 66.2h0M123.4 55.1h0M78.3 22.1h0M189.8 45.0h0M175.4 27.4h0M208.1 17.8h0M170.8 146.2h0M123.6 -0.3h0M138.8 95.2h0M98.6 67.8h0M220.4 88.8h0M224.5 67.7h0M153.0 66.0h0M84.4 30.0h0M119.3 31.8h0M200.6 23.0h0M112.0 35.8h0M154.6 108.4h0M84.5 33.5h0M80.7 2.5h0M96.4 50.6h0M154.7 116.8h0M209.2 77.0h0M108.7 90.7h0M174.3 73.9h0M176.9 141.5h0M134.0 16.7h0M125.8 92.6h0M130.0 64.3h0M221.3 85.8h0M140.9 58.1h0M104.2 7.4h0M226.7 31.0h0M140.6 49.7h0M227.5 93.1h0M149.4 41.3h0M167.6 62.9h0M130.8 135.8h0M202.7 136.4h0M189.8 14.3h0M116.4 56.4h0M129.8 51.8h0M118.2 23.8h0M169.7 89.6h0M120.7 78.5h0M134.3 21.0h0M198.4 40.3h0M136.2 112.7h0M176.5 25.5h0M231.1 56.7h0M158.1 24.3h0M133.7 111.1h0M114.9 68.0h0M216.2 58.1h0M209.1 1.9h0M181.9 46.0h0M229.1 90.4h0M186.8 87.5h0M219.2 45.2h0M107.7 10.0h0M233.6 92.2h0M228.6 50.6h0M148.6 23.8h0M88.2 13.7h0M132.8 -0.7h0M204.6 79.1h0M144.0 18.5h0M84.9 7.5h0M132.6 22.6h0M111.1 43.2h0M116.8 100.9h0M201.4 40.9h0M160.5 93.6h0M166.5 138.2h0M172.1 80.8h0M102.5 18.0h0M168.0 138.2h0M168.8 135.0h0M227.9 97.5h0M70.6 0.1h0M208.2 110.3h0M199.3 119.6h0M192.6 0.8h0M94.4 58.3h0M163.2 79.4h0M195.1 73.3h0M178.2 133.2h0M213.1 26.7h0M130.2 36.8h0M103.6 61.8h0M191.7 92.6h0M171.8 42.7h0M204.3 48.5h0M174.9 104.4h0M139.3 130.4h0M136.5 43.5h0M230.6 89.0h0M208.7 112.6h0M143.4 22.3h0M111.9 -0.7h0M232.2 41.4h0M216.7 100.0h0M201.2 130.3h0M137.3 84.2h0M191.6 15.5h0M122.7 4.7h0M141.7 141.7h0M183.8 70.7h0M105.3 22.9h0M126.5 -0.7h0M94.3 31.8h0M166.8 130.9h0M182.5 140.4h0M173.1 66.3h0M220.7 61.3h0M184.7 14.2h0M136.3 131.0h0M230.0 102.4h0M127.4 31.3h0M120.9 9.2h0M70.3 -0.7h0M106.5 45.2h0M135.5 59.2h0M142.1 146.8h0M174.2 98.6h0M171.5 119.4h0M199.0 2.8h0M176.9 0.8h0M148.8 49.1h0M186.4 25.6h0M233.5 101.2h0M212.0 15.4h0M105.7 33.5h0M188.5 99.8h0M210.3 75.4h0M148.7 85.7h0M124.1 66.6h0M184.1 97.3h0M105.4 67.6h0M233.0 97.4h0M162.3 116.8h0M229.1 99.2h0M191.1 68.4h0M149.3 108.2h0M96.8 41.3h0M117.0 31.8h0M172.6 40.1h0M209.9 38.5h0M179.2 82.1h0M226.8 109.0h0M158.4 129.5h0M218.8 59.1h0M225.4 65.6h0M166.0 97.6h0M140.2 40.1h0M124.7 4.4h0M87.0 7.5h0M139.6 20.5h0M115.9 91.1h0M167.3 122.3h0M135.6 18.6h0M195.6 62.6h0M113.1 96.9h0M205.3 24.6h0M113.1 90.6h0M221.0 77.7h0M179.5 138.4h0M197.7 67.8h0M102.6 44.6h0M150.1 106.3h0M166.3 61.5h0M149.3 110.3h0M108.1 71.7h0M155.7 122.3h0M91.5 31.1h0M217.9 109.9h0M115.2 5.3h0M148.6 125.6h0M172.5 18.0h0M117.2 9.6h0M152.6 123.8h0M114.4 63.5h0M225.7 88.1h0M206.4 103.6h0M96.0 45.3h0M177.2 49.1h0M186.8 138.4h0M219.0 86.8h0M224.0 50.3h0M187.4 22.1h0M192.3 29.5h0M160.0 30.0h0M142.7 58.4h0M213.5 100.2h0M175.2 14.5h0M233.5 92.5h0M168.9 24.6h0M192.1 104.1h0M91.9 41.6h0M125.0 108.8h0M110.2 37.1h0M214.4 52.2h0M217.5 55.8h0M77.5 2.4h0M215.0 105.4h0M122.3 49.9h0M96.0 31.6h0M94.9 50.4h0M229.1 95.4h0M134.8 29.5h0M179.7 86.3h0M144.3 110.9h0M190.1 99.8h0M160.3 43.3h0M233.5 107.1h0M149.5 115.9h0M109.6 45.1h0M196.7 138.2h0M120.6 82.0h0M233.5 46.6h0M174.6 139.6h0M167.9 66.3h0M82.5 31.6h0M149.8 138.4h0M103.8 30.3h0M168.1 28.9h0M143.0 52.5h0M179.5 27.5h0M116.2 83.7h0M160.2 73.8h0M84.5 0.4h0M128.5 49.4h0M204.7 135.8h0M230.1 45.9h0M227.7 56.9h0M174.4 -0.7h0M193.8 49.2h0M201.2 18.6h0M212.9 105.8h0M231.2 37.0h0M183.2 29.8h0M132.5 86.1h0M214.4 47.3h0M162.6 72.3h0M118.1 89.0h0M124.6 82.9h0M189.2 91.9h0M176.5 35.8h0M114.2 25.7h0M168.9 3.3h0M220.7 106.4h0M90.7 0.7h0M94.2 26.7h0M189.8 66.4h0M162.7 31.9h0M229.2 67.8h0M165.5 51.9h0M168.5 88.3h0M193.0 82.0h0M159.3 45.6h0M137.8 72.5h0M131.6 142.1h0M151.5 81.1h0M96.9 64.0h0M144.4 84.4h0M179.1 39.0h0M174.0 101.8h0M186.3 84.6h0M106.4 0.5h0M199.0 27.7h0M140.9 72.6h0M187.1 90.7h0M151.6 59.7h0M163.4 65.7h0M202.6 15.6h0M173.0 72.7h0M153.3 121.2h0M206.9 4.8h0M187.8 125.8h0M120.8 58.3h0M183.4 24.9h0M113.0 100.2h0M139.0 30.5h0M211.7 0.7h0M172.6 9.7h0M126.7 78.7h0M108.0 57.2h0M103.0 15.3h0M106.5 81.0h0M109.2 8.8h0M208.1 104.3h0M137.7 22.5h0M213.0 36.5h0M197.2 96.5h0M139.1 75.1h0M206.9 18.2h0M134.1 65.1h0M125.2 99.0h0M188.8 119.3h0M106.3 15.7h0M186.9 -0.7h0M231.3 42.4h0M171.4 44.9h0M155.4 75.5h0M201.5 47.6h0M194.9 131.0h0M104.5 81.1h0M169.3 112.1h0M219.0 40.4h0M173.3 43.2h0M113.9 83.8h0M179.9 36.8h0M186.8 70.5h0M174.4 11.9h0M151.4 130.5h0M129.9 138.3h0M157.8 133.2h0M155.2 64.8h0M81.7 29.7h0M158.4 110.9h0M227.0 103.2h0M134.7 52.4h0M89.6 15.6h0M176.5 62.9h0M186.8 141.3h0M130.7 140.2h0M212.1 58.1h0M218.3 67.1h0M118.7 74.9h0M119.7 79.9h0M152.2 119.3h0M126.4 84.1h0M185.9 123.9h0M121.2 106.2h0M115.9 91.9h0M168.9 96.6h0M74.4 -0.7h0M178.5 87.3h0M132.5 46.0h0M114.1 99.4h0M180.1 77.3h0M204.1 45.2h0M199.1 84.2h0M161.0 34.3h0M177.7 13.4h0M192.3 138.1h0M163.6 43.6h0M113.2 3.3h0M200.7 137.0h0M122.1 61.9h0M117.7 4.5h0M109.7 41.8h0M217.1 47.5h0M174.4 79.2h0M132.8 57.0h0M155.5 47.9h0M212.7 51.3h0M129.9 133.6h0M115.7 61.0h0M158.7 84.3h0M168.5 20.3h0M133.7 142.9h0M182.1 75.2h0M226.3 50.6h0M105.3 70.5h0M86.4 35.9h0M154.0 67.1h0M215.0 87.3h0M160.4 129.4h0M180.8 67.1h0M132.1 70.2h0M171.7 29.2h0M210.6 62.0h0M168.9 101.4h0M233.5 62.1h0M189.7 29.9h0M180.8 143.1h0M203.0 53.0h0M146.8 61.1h0M110.4 5.3h0M181.8 126.2h0M211.8 46.2h0M130.7 5.3h0M191.4 114.3h0M208.6 1.1h0M120.3 -0.7h0M181.6 92.9h0M222.3 56.8h0M186.4 64.8h0M143.3 68.7h0M136.6 153.5h0M145.6 43.9h0M139.3 102.3h0M179.6 142.6h0M106.4 31.8h0M140.4 155.6h0M174.4 118.0h0M135.0 49.5h0M95.2 60.2h0M164.1 90.2h0M188.6 88.8h0M139.4 110.2h0M200.1 69.7h0M212.6 57.1h0M173.4 33.9h0M184.8 36.7h0M113.0 29.2h0M132.8 140.6h0M178.7 84.1h0M214.4 112.3h0M160.8 70.1h0M147.1 23.4h0M140.2 25.5h0M136.1 -0.4h0M163.9 129.2h0M179.2 103.5h0M132.3 48.4h0M130.4 85.7h0M114.2 54.6h0M147.1 73.3h0M161.2 121.9h0M136.5 94.9h0M121.6 74.5h0M206.6 16.9h0M217.7 64.8h0M220.2 43.7h0M227.7 106.0h0M199.4 101.7h0M233.8 88.0h0M231.2 50.6h0M142.0 37.8h0M128.9 93.3h0M113.8 102.1h0M176.8 70.0h0M185.7 133.1h0M233.5 38.3h0M199.0 48.5h0M137.7 58.9h0M125.6 128.8h0M184.8 -0.7h0M122.2 95.7h0M107.5 67.2h0M203.4 50.4h0M228.0 48.2h0M176.7 47.7h0M150.6 68.8h0M176.2 84.3h0M168.8 67.2h0M139.9 142.6h0M131.2 127.2h0M187.4 139.5h0M124.2 88.5h0M193.9 18.4h0M163.9 38.0h0M75.8 16.4h0M194.7 113.8h0M79.7 16.6h0M189.7 39.2h0M114.5 52.6h0M104.3 49.9h0M187.2 130.2h0M144.9 20.7h0M181.9 11.2h0M104.9 45.0h0M205.7 -0.7h0M213.6 94.1h0M165.3 42.9h0M189.7 132.4h0M132.8 17.6h0M108.8 52.9h0M167.6 47.6h0M233.5 65.4h0M167.9 51.5h0M103.1 78.4h0M169.1 55.3h0M207.7 51.5h0M199.7 65.1h0M97.5 37.0h0M108.3 25.0h0M166.7 99.2h0M197.3 -0.7h0M162.7 53.5h0M206.1 9.4h0M152.4 88.8h0M114.5 73.1h0M193.2 -0.7h0M164.6 80.8h0M230.2 79.4h0M107.7 43.3h0M101.8 26.9h0M131.0 14.6h0M152.6 106.4h0M226.2 58.8h0M191.2 87.4h0M114.4 57.4h0M189.7 118.4h0M135.0 76.1h0M128.8 29.6h0M232.8 86.4h0M173.8 70.7h0M144.0 50.5h0M210.4 100.1h0M196.2 121.9h0M138.8 49.5h0M130.2 32.7h0M162.6 23.2h0M138.5 13.6h0M112.8 71.9h0M222.8 107.0h0M209.5 92.0h0M118.0 43.1h0"/><path stroke="#009eff" d="M156.1 142.1h0M194.3 33.9h0M165.0 145.0h0M144.2 143.7h0"/><path stroke="#57ffa8" d="M147.6 147.0h0"/><path stroke="#00b2ff" d="M177.3 54.8h0M205.9 35.6h0M231.1 125.8h0"/></g>
<g clip-path="url(#fc)"><use href="#map"/></g>
</g>
<text class="b a" x="567.1" y="112.7">48<tspan dx="2.2" dy="-6.4" font-size="10">°</tspan><tspan dx="0.7" dy="6.4"> N</tspan></text><text class="b a" x="567.1" y="130.4">46<tspan dx="2.2" dy="-6.4" font-size="10">°</tspan><tspan dx="0.7" dy="6.4"> N</tspan></text><text class="b a" x="567.1" y="147.6">44<tspan dx="2.2" dy="-6.4" font-size="10">°</tspan><tspan dx="0.7" dy="6.4"> N</tspan></text><text class="b a" x="567.1" y="166.7">42<tspan dx="2.2" dy="-6.4" font-size="10">°</tspan><tspan dx="0.7" dy="6.4"> N</tspan></text><text class="b a" x="567.1" y="182.7">40<tspan dx="2.2" dy="-6.4" font-size="10">°</tspan><tspan dx="0.7" dy="6.4"> N</tspan></text><text class="b a" x="567.1" y="197.7">38<tspan dx="2.2" dy="-6.4" font-size="10">°</tspan><tspan dx="0.7" dy="6.4"> N</tspan></text><text class="b a" x="567.1" y="214.5">36<tspan dx="2.2" dy="-6.4" font-size="10">°</tspan><tspan dx="0.7" dy="6.4"> N</tspan></text><text class="b a" x="567.1" y="228.4">34<tspan dx="2.2" dy="-6.4" font-size="10">°</tspan><tspan dx="0.7" dy="6.4"> N</tspan></text><text class="b a" x="567.1" y="245.4">32<tspan dx="2.2" dy="-6.4" font-size="10">°</tspan><tspan dx="0.7" dy="6.4"> N</tspan></text><text class="b a" x="567.1" y="259.6">30<tspan dx="2.2" dy="-6.4" font-size="10">°</tspan><tspan dx="0.7" dy="6.4"> N</tspan></text><text class="b a" x="567.1" y="272.4">28<tspan dx="2.2" dy="-6.4" font-size="10">°</tspan><tspan dx="0.7" dy="6.4"> N</tspan></text><text class="b a" x="567.1" y="287.3">26<tspan dx="2.2" dy="-6.4" font-size="10">°</tspan><tspan dx="0.7" dy="6.4"> N</tspan></text><text class="b a" x="567.1" y="301.4">24<tspan dx="2.2" dy="-6.4" font-size="10">°</tspan><tspan dx="0.7" dy="6.4"> N</tspan></text><text class="b a" x="567.1" y="314.9">22<tspan dx="2.2" dy="-6.4" font-size="10">°</tspan><tspan dx="0.7" dy="6.4"> N</tspan></text><text class="b a" x="636.5" y="77">100<tspan dx="1.6" dy="-6.4" font-size="10">°</tspan><tspan dx="1" dy="6.4"> W</tspan></text><text class="b a" x="705.4" y="77">90<tspan dx="1.6" dy="-6.4" font-size="10">°</tspan><tspan dx="1" dy="6.4"> W</tspan></text><text class="b a" x="769.4" y="77">80<tspan dx="1.6" dy="-6.4" font-size="10">°</tspan><tspan dx="1" dy="6.4"> W</tspan></text><text class="b a" x="833" y="77">70<tspan dx="1.6" dy="-6.4" font-size="10">°</tspan><tspan dx="1" dy="6.4"> W</tspan></text>
<text class="b t" x="728.0" y="340.8" text-anchor="middle">SAT+RAP CAPE</text>
<rect x="862.2" y="93.1" width="23.3" height="219.4" fill="url(#jet)" stroke="#262626" stroke-width="0.7"/><path d="M883.2 161.5H885.5" stroke="#262626" stroke-width="0.7"/><text class="b c" x="894.9" y="168.8">40</text><path d="M883.2 237.1H885.5" stroke="#262626" stroke-width="0.7"/><text class="b c" x="894.9" y="244.4">20</text><text class="b c" x="894.9" y="319.2">0</text>
<g transform="translate(1037.8 95.9) scale(1.0069 1.0080)">
<rect x="-0.9" y="-0.2" width="234.1" height="212.79999999999998" fill="none" stroke="#1c1c1c" stroke-width="1.1"/><g fill="none" stroke-linecap="round" stroke-width="6.6"><path stroke="#42ffbd" d="M191.7 134.6h0"/><path stroke="#fff000" d="M222.3 40.0h0M226.6 52.3h0M219.4 55.7h0"/><path stroke="#000fff" d="M143.8 127.2h0M192.4 109.6h0M138.8 134.5h0M130.5 93.3h0M182.0 102.3h0M123.2 114.8h0M122.8 118.4h0M160.8 134.7h0M154.3 114.4h0M185.7 90.0h0M137.1 107.9h0M197.6 117.8h0M122.6 102.3h0M165.7 133.4h0M119.6 99.1h0M134.2 96.3h0M131.0 130.1h0M114.6 99.2h0M162.7 130.7h0M171.5 111.4h0M164.0 124.8h0M145.1 110.0h0M165.9 133.2h0M151.7 126.6h0M155.9 106.8h0M128.7 103.6h0M185.3 133.3h0"/><path stroke="#ff9e00" d="M162.1 142.0h0M186.8 5.5h0M171.8 12.0h0M163.7 149.7h0M172.9 5.0h0M138.2 24.8h0M192.8 41.4h0M185.1 33.3h0M232.5 14.1h0"/><path stroke="#004dff" d="M158.8 122.9h0M192.0 59.8h0"/><path stroke="#ff3800" d="M190.4 141.1h0"/><path stroke="#ffdb00" d="M201.0 42.2h0M214.7 55.7h0M228.2 38.0h0"/><path stroke="#0061ff" d="M210.2 115.7h0"/><path stroke="#ff4c00" d="M191.2 27.8h0M186.4 10.3h0"/><path stroke="#0000fa" d="M127.3 113.3h0M130.0 131.5h0M218.8 111.7h0M128.8 125.1h0"/><path stroke="#ff6100" d="M187.1 37.2h0M160.8 3.5h0"/><path stroke="#faff05" d="M221.0 26.3h0M219.5 17.8h0M217.4 1.9h0M226.0 1.6h0M153.0 151.1h0"/><path stroke="#ff7500" d="M154.9 140.3h0M184.6 3.3h0M192.2 0.3h0M176.0 39.7h0"/><path stroke="#00f0ff" d="M182.2 89.1h0"/><path stroke="#009eff" d="M163.3 101.9h0"/><path stroke="#ffb300" d="M150.2 142.3h0M216.3 42.6h0M230.7 6.5h0"/><path stroke="#0038ff" d="M232.1 122.4h0M200.7 114.0h0M207.7 105.7h0M205.8 114.4h0M123.2 107.2h0M185.0 130.4h0M220.9 121.9h0M122.8 85.9h0M139.4 101.8h0"/><path stroke="#a8ff57" d="M208.9 11.5h0"/><path stroke="#80ff80" d="M222.1 1.3h0M215.1 21.1h0M213.9 19.7h0M223.2 80.4h0M182.5 91.8h0"/><path stroke="#2effd1" d="M217.3 132.9h0"/><path stroke="#fa0000" d="M191.3 13.2h0"/><path stroke="#ffc700" d="M223.7 45.7h0M177.5 101.1h0"/><path stroke="#6bff94" d="M176.3 100.2h0M126.9 12.8h0"/><path stroke="#00dbff" d="M179.3 85.8h0M174.6 123.8h0M174.3 88.4h0"/><path stroke="#e5ff1a" d="M210.1 16.0h0M142.1 0.8h0M222.7 18.2h0"/><path stroke="#ff8a00" d="M175.6 11.2h0M167.4 15.3h0M168.7 23.8h0M142.5 140.9h0M152.1 33.5h0M150.7 37.0h0M152.2 133.3h0M170.6 5.8h0M182.9 15.8h0M153.7 142.4h0M191.4 5.5h0M174.6 33.1h0M167.9 9.1h0"/><path stroke="#57ffa8" d="M200.9 139.5h0M228.1 97.2h0"/><path stroke="#0024ff" d="M135.6 106.0h0M158.3 113.9h0M124.5 113.7h0M220.2 116.0h0M196.4 141.0h0M208.6 109.8h0M206.3 108.2h0M134.0 98.0h0M223.8 115.5h0M135.5 147.6h0M155.9 145.9h0M156.3 108.5h0M141.2 76.5h0M119.8 112.6h0M136.4 149.7h0M126.9 128.5h0M128.1 90.4h0M144.0 95.7h0M167.3 125.1h0M193.6 133.5h0M200.3 111.7h0M115.0 102.0h0M120.8 114.7h0M114.9 85.9h0M168.8 134.9h0M201.3 110.6h0M109.8 90.3h0"/><path stroke="#a8ff57" d="M211.7 9.6h0"/><path stroke="#80ff80" d="M180.1 86.1h0M234.8 104.9h0M226.1 100.6h0M181.2 143.8h0M129.2 7.6h0M127.3 9.1h0M163.8 92.7h0"/><path stroke="#fff000" d="M210.7 43.0h0M216.7 41.8h0M224.0 59.1h0M232.6 -0.1h0M217.8 25.4h0M226.1 54.6h0"/><path stroke="#0000fa" d="M165.5 129.0h0M172.5 128.2h0"/><path stroke="#008aff" d="M181.2 60.6h0"/><path stroke="#0024ff" d="M115.5 91.0h0M132.1 123.3h0M116.8 95.0h0M123.6 121.0h0M129.3 133.8h0M125.5 125.3h0M133.1 142.3h0M136.9 150.7h0M113.6 98.8h0M135.6 104.4h0M168.3 95.6h0M117.9 108.3h0M168.6 99.4h0M199.2 107.1h0M142.2 104.5h0M210.6 111.8h0M130.9 110.1h0M134.1 90.6h0M124.1 122.1h0M140.3 79.4h0M225.6 121.1h0M231.2 109.4h0M138.3 142.2h0M111.2 93.5h0M130.7 137.0h0M122.7 118.9h0M222.9 111.2h0M165.1 136.4h0"/><path stroke="#ffc700" d="M231.3 16.9h0M205.4 45.9h0"/><path stroke="#ffdb00" d="M226.7 48.6h0M225.7 40.8h0M205.6 41.3h0M229.2 45.0h0"/><path stroke="#bdff42" d="M230.4 15.0h0"/><path stroke="#00f0ff" d="M166.6 92.8h0M162.9 126.8h0"/><path stroke="#ff3800" d="M186.3 18.5h0"/><path stroke="#2effd1" d="M216.5 125.4h0"/><path stroke="#00c7ff" d="M170.2 125.8h0"/><path stroke="#0061ff" d="M207.6 132.9h0"/><path stroke="#faff05" d="M144.4 3.5h0M221.0 38.3h0M220.5 22.7h0"/><path stroke="#00dbff" d="M171.0 125.8h0"/><path stroke="#ff6100" d="M182.1 12.7h0M180.2 41.8h0M198.6 15.8h0"/><path stroke="#ff8a00" d="M193.9 17.7h0M187.3 10.3h0M163.2 14.1h0M156.9 39.3h0M220.9 81.4h0M206.3 56.3h0M166.6 36.4h0M196.3 34.9h0M228.6 74.5h0M156.5 84.8h0M190.6 26.0h0M219.8 40.4h0M233.6 97.6h0"/><path stroke="#ff2400" d="M184.0 7.2h0M191.1 15.6h0"/><path stroke="#ff9e00" d="M204.5 54.4h0M191.7 40.9h0M143.1 22.5h0M185.6 10.5h0M164.1 137.6h0M197.2 37.6h0"/><path stroke="#42ffbd" d="M224.2 103.9h0"/><path stroke="#004dff" d="M219.2 109.4h0"/><path stroke="#ff7500" d="M204.1 46.8h0M161.8 32.4h0M197.8 33.3h0M165.0 25.7h0M199.9 26.8h0M157.4 134.6h0M185.7 54.1h0M186.0 15.6h0M192.1 38.7h0"/><path stroke="#00b2ff" d="M204.5 61.9h0"/><path stroke="#000fff" d="M142.8 90.8h0M163.6 95.7h0M133.6 133.2h0M120.1 89.0h0M197.1 106.4h0M141.5 124.0h0M122.1 110.1h0M119.1 84.8h0M157.3 124.0h0M118.6 94.2h0M136.4 96.0h0M133.1 105.9h0M208.6 111.8h0M155.9 131.4h0M123.4 109.3h0M126.8 88.4h0M175.5 124.7h0M114.8 88.4h0M127.5 87.8h0M134.8 137.1h0M128.3 104.9h0M117.2 102.8h0M181.6 110.5h0M155.0 128.9h0"/><path stroke="#94ff6b" d="M210.6 19.0h0"/><path stroke="#0038ff" d="M170.2 123.1h0M142.8 79.6h0M208.7 116.5h0"/><path stroke="#6bff94" d="M232.9 96.8h0M223.1 6.6h0"/><path stroke="#e5ff1a" d="M156.5 148.6h0M143.9 2.1h0"/><path stroke="#009eff" d="M198.6 137.7h0"/><path stroke="#ffb300" d="M227.9 54.0h0M170.3 86.8h0M229.3 13.6h0"/><path stroke="#05fffa" d="M186.9 59.0h0M209.6 103.2h0"/><path stroke="#57ffa8" d="M183.3 135.3h0M185.3 133.6h0"/><path stroke="#e5ff1a" d="M214.6 24.3h0M148.4 140.9h0"/><path stroke="#0000fa" d="M131.7 120.2h0M155.8 111.5h0M148.3 131.2h0M146.4 92.8h0M163.3 137.2h0"/><path stroke="#0000e6" d="M180.8 109.9h0"/><path stroke="#ffb300" d="M192.4 4.1h0M226.5 43.2h0M230.1 6.3h0"/><path stroke="#fff000" d="M159.1 140.3h0M213.2 28.0h0M164.6 145.5h0"/><path stroke="#0038ff" d="M215.1 110.8h0M203.0 108.7h0M181.5 109.8h0M229.3 112.0h0M149.3 121.1h0"/><path stroke="#000fff" d="M137.4 140.2h0M127.8 95.0h0M186.8 113.5h0M167.8 131.2h0M149.9 129.2h0M222.3 112.7h0M198.3 119.8h0M131.4 140.3h0M158.6 133.5h0M134.4 144.1h0"/><path stroke="#ff6100" d="M209.5 129.9h0M182.4 47.2h0M131.3 17.6h0"/><path stroke="#00b2ff" d="M160.8 98.2h0M175.4 96.9h0"/><path stroke="#ff7500" d="M176.1 22.0h0M131.0 20.4h0M198.8 24.6h0M181.7 23.0h0M138.0 148.3h0M192.0 10.4h0M171.9 0.9h0M187.2 35.4h0M190.8 22.5h0M202.8 127.9h0M192.9 32.4h0M199.9 36.3h0M188.0 29.3h0M206.9 138.5h0M178.4 32.1h0M195.6 11.3h0M190.8 136.7h0"/><path stroke="#ff2400" d="M189.7 32.4h0"/><path stroke="#2effd1" d="M211.5 100.8h0M215.8 99.9h0M227.6 124.2h0"/><path stroke="#57ffa8" d="M184.1 99.6h0M123.6 8.5h0"/><path stroke="#004dff" d="M198.7 61.9h0M215.9 109.9h0M212.9 107.5h0M209.6 119.7h0"/><path stroke="#05fffa" d="M222.6 124.9h0M213.3 101.5h0"/><path stroke="#94ff6b" d="M213.2 24.1h0"/><path stroke="#faff05" d="M229.5 36.0h0"/><path stroke="#6bff94" d="M216.2 76.8h0M223.7 127.2h0M231.7 1.4h0"/><path stroke="#ffc700" d="M219.9 58.6h0M151.5 80.9h0"/><path stroke="#ffdb00" d="M161.9 145.7h0"/><path stroke="#ff3800" d="M189.5 26.4h0"/><path stroke="#42ffbd" d="M214.5 103.1h0"/><path stroke="#ff8a00" d="M179.1 42.5h0M179.7 17.8h0M196.7 46.5h0M148.6 148.7h0M186.7 24.7h0M163.5 8.1h0M176.6 41.4h0M171.3 34.2h0M181.3 3.2h0M176.7 34.9h0M144.0 138.4h0M146.8 143.9h0M190.2 44.8h0M196.4 31.5h0M168.6 28.9h0M184.4 31.8h0M177.2 45.7h0M195.7 40.4h0M171.4 19.0h0M219.5 51.9h0M190.2 46.7h0"/><path stroke="#80ff80" d="M220.2 101.7h0M206.9 127.6h0M124.5 13.3h0M226.1 8.2h0M217.2 16.3h0M205.8 130.9h0"/><path stroke="#0024ff" d="M138.7 92.5h0M150.8 115.9h0M114.1 99.8h0M141.3 110.6h0M142.5 108.7h0M146.3 116.2h0M117.4 107.3h0M121.2 115.7h0M113.2 92.1h0M130.3 135.9h0M161.8 112.4h0M118.9 107.6h0M113.0 84.1h0M170.9 134.0h0M146.3 78.2h0M184.2 96.4h0M190.9 112.4h0M142.7 114.7h0M131.5 97.1h0M166.8 110.3h0M139.2 105.5h0M135.0 146.5h0M201.7 111.6h0M130.8 99.5h0M139.3 143.6h0"/><path stroke="#bdff42" d="M223.7 25.6h0"/><path stroke="#ff9e00" d="M226.4 46.3h0M211.6 25.6h0M219.1 79.2h0M233.2 78.5h0M177.8 50.7h0M130.7 14.1h0M226.2 76.0h0M163.5 22.8h0M140.7 148.7h0M164.3 140.8h0M158.3 144.7h0M175.7 44.4h0"/><path stroke="#fff000" d="M197.7 43.8h0M210.3 55.2h0M200.1 49.5h0M204.1 50.6h0M201.2 46.2h0"/><path stroke="#42ffbd" d="M228.5 130.5h0M123.5 11.1h0M180.6 133.5h0M225.9 126.1h0"/><path stroke="#ff9e00" d="M191.9 29.1h0M134.8 15.9h0M173.1 36.6h0M165.5 146.5h0M164.6 42.3h0M192.0 16.8h0"/><path stroke="#ff8a00" d="M188.1 21.9h0M190.9 36.5h0M196.0 43.8h0M188.9 29.3h0M173.0 28.0h0M177.8 30.5h0M192.6 13.6h0M176.9 39.8h0M198.5 32.0h0M195.9 43.0h0M145.4 148.0h0M178.3 49.0h0M229.9 10.6h0M157.3 82.4h0M199.2 17.6h0M195.1 45.4h0M178.2 25.6h0M195.5 33.7h0M190.2 21.5h0M174.7 1.6h0"/><path stroke="#000fff" d="M160.5 128.0h0M144.2 93.2h0M129.2 108.0h0M191.0 112.5h0M175.6 117.5h0M155.3 127.2h0M133.7 100.6h0M130.8 90.7h0M189.9 116.9h0M232.7 111.0h0M164.3 122.1h0M133.8 120.4h0M135.4 139.5h0"/><path stroke="#ffc700" d="M234.0 48.9h0"/><path stroke="#0024ff" d="M166.1 106.8h0M227.8 122.4h0M119.1 111.0h0M110.3 91.3h0M152.0 109.7h0M153.7 124.8h0M153.0 121.0h0M193.8 112.7h0M126.8 110.7h0M182.7 118.5h0M134.5 145.4h0M214.3 121.3h0M213.0 105.8h0M230.2 115.8h0M137.4 151.8h0M132.1 135.8h0M161.8 122.9h0M201.4 119.3h0M125.2 101.7h0M170.0 112.4h0M149.4 135.2h0M160.8 130.4h0M148.2 136.5h0M144.2 106.4h0M166.0 115.6h0M179.0 117.3h0"/><path stroke="#ff7500" d="M165.1 12.2h0M178.6 14.1h0M178.5 23.1h0M171.8 25.4h0M177.2 14.2h0M189.5 19.5h0M136.3 19.9h0M182.3 34.9h0M144.1 146.0h0"/><path stroke="#0038ff" d="M171.8 112.8h0M142.1 122.8h0M215.8 123.1h0M163.8 148.1h0M123.1 88.3h0M159.1 126.4h0M127.9 84.3h0M211.9 121.6h0M133.6 142.3h0"/><path stroke="#d1ff2e" d="M231.1 24.7h0"/><path stroke="#94ff6b" d="M179.4 87.9h0M232.9 74.4h0M158.6 88.6h0M118.5 9.7h0"/><path stroke="#e5ff1a" d="M160.2 135.0h0M231.3 27.1h0"/><path stroke="#0075ff" d="M199.4 63.0h0"/><path stroke="#faff05" d="M198.8 40.2h0"/><path stroke="#fa0000" d="M195.2 41.7h0"/><path stroke="#008aff" d="M183.8 59.4h0"/><path stroke="#004dff" d="M230.8 120.3h0M205.6 119.8h0M208.6 123.5h0"/><path stroke="#ffdb00" d="M215.8 47.0h0M198.4 50.6h0M224.3 13.1h0M208.6 4.0h0M224.4 5.9h0M192.4 43.2h0M216.5 6.6h0"/><path stroke="#6bff94" d="M196.6 136.1h0M219.9 102.1h0M212.7 99.4h0"/><path stroke="#00dbff" d="M162.3 92.7h0M175.3 128.4h0"/><path stroke="#ff6100" d="M194.1 10.2h0M191.1 6.9h0M192.0 19.0h0"/><path stroke="#2effd1" d="M223.2 101.7h0M219.4 129.3h0"/><path stroke="#ff2400" d="M188.7 38.2h0"/><path stroke="#0061ff" d="M215.8 111.1h0"/><path stroke="#bdff42" d="M209.2 7.2h0M231.4 23.6h0M225.3 11.7h0"/><path stroke="#ffb300" d="M174.3 89.5h0M221.2 27.4h0M180.7 36.9h0"/><path stroke="#00b2ff" d="M163.4 98.6h0"/><path stroke="#ff0f00" d="M188.4 10.1h0"/><path stroke="#80ff80" d="M193.5 132.6h0M226.7 72.3h0M220.5 14.0h0M208.7 136.0h0"/><path stroke="#00b2ff" d="M164.2 91.3h0"/><path stroke="#57ffa8" d="M195.7 130.8h0"/><path stroke="#009eff" d="M187.7 134.3h0"/><path stroke="#0024ff" d="M131.7 139.1h0M200.9 112.9h0M153.4 119.8h0M116.8 105.4h0M112.7 96.7h0M220.6 107.2h0M145.4 113.0h0M202.3 133.7h0M160.6 132.3h0M217.9 116.3h0M152.8 128.2h0M141.6 133.5h0M187.8 116.1h0M177.2 112.4h0M113.1 97.7h0M142.0 126.4h0M193.3 106.5h0M132.6 141.2h0M123.1 120.0h0M118.9 110.4h0M140.8 120.2h0M128.8 132.7h0M156.8 142.4h0M122.2 117.9h0M233.1 112.5h0M165.0 91.0h0M162.1 123.7h0M148.4 116.6h0M192.8 115.8h0M120.7 95.9h0M185.5 118.8h0M128.4 131.6h0"/><path stroke="#ff0f00" d="M191.2 18.9h0"/><path stroke="#004dff" d="M162.8 130.5h0M223.9 113.0h0M200.5 128.5h0M157.3 127.1h0"/><path stroke="#ffb300" d="M231.6 4.3h0M167.8 100.3h0M152.6 81.5h0M217.5 29.2h0M211.6 7.4h0"/><path stroke="#ff6100" d="M197.4 129.7h0"/><path stroke="#ff9e00" d="M196.6 56.1h0M230.2 21.2h0M184.5 12.6h0M229.3 77.3h0M152.2 36.2h0M162.6 36.5h0M162.5 2.2h0M164.0 5.7h0"/><path stroke="#0075ff" d="M199.0 59.9h0"/><path stroke="#80ff80" d="M228.5 100.3h0M228.8 81.3h0M172.9 90.1h0"/><path stroke="#d1ff2e" d="M228.7 0.5h0"/><path stroke="#e5ff1a" d="M146.9 149.7h0M226.8 15.7h0M211.8 12.7h0M209.3 29.2h0M151.9 136.8h0M217.8 19.2h0"/><path stroke="#0038ff" d="M199.3 120.8h0M202.3 119.5h0"/><path stroke="#42ffbd" d="M184.2 142.8h0M181.9 97.7h0"/><path stroke="#ff8a00" d="M138.9 16.7h0M135.2 149.1h0M218.1 76.2h0M194.1 15.0h0M139.4 12.2h0M201.8 55.0h0M190.5 1.8h0M217.3 45.6h0M154.9 79.6h0M192.1 29.5h0M231.6 78.7h0M167.7 31.9h0M182.2 7.5h0M215.0 73.5h0M194.0 8.1h0M133.6 20.0h0"/><path stroke="#bdff42" d="M221.9 28.9h0M217.9 5.9h0"/><path stroke="#2effd1" d="M234.7 96.4h0M214.4 135.4h0"/><path stroke="#a8ff57" d="M212.1 4.8h0"/><path stroke="#ff7500" d="M179.7 10.6h0M203.6 128.4h0M216.0 48.0h0M171.7 35.1h0M184.0 17.4h0M175.3 10.6h0M195.5 20.0h0M160.8 146.3h0M189.1 33.0h0M153.9 38.6h0M146.3 31.1h0M162.8 42.2h0M172.4 16.3h0M229.4 31.4h0"/><path stroke="#000fff" d="M137.2 97.8h0M130.6 96.3h0M195.9 110.9h0M148.3 149.4h0M144.4 123.7h0M136.0 125.5h0M147.5 134.0h0M200.8 109.9h0M129.3 118.1h0M131.4 113.0h0M125.2 92.7h0M140.8 109.4h0M194.1 118.7h0M166.8 128.9h0M203.3 122.9h0M153.3 105.8h0M206.3 122.9h0M115.9 86.7h0M126.5 127.3h0M135.6 99.5h0"/><path stroke="#fff000" d="M216.3 59.6h0M229.9 56.7h0"/><path stroke="#ff2400" d="M192.4 24.6h0"/><path stroke="#00dbff" d="M181.4 101.7h0"/><path stroke="#94ff6b" d="M222.0 21.1h0M201.6 136.5h0"/><path stroke="#ffc700" d="M179.3 96.8h0M154.1 86.0h0"/><path stroke="#ffdb00" d="M221.7 48.2h0M146.9 141.1h0M220.4 49.2h0M194.5 52.2h0M222.1 4.3h0"/><path stroke="#0061ff" d="M197.1 135.0h0"/><path stroke="#0024ff" d="M135.8 107.6h0M191.8 118.8h0M120.3 113.6h0M173.3 113.0h0M189.3 107.4h0M160.7 111.1h0M140.5 98.3h0M176.5 114.1h0M157.6 129.3h0M132.3 127.6h0M146.1 96.9h0M138.8 111.1h0M168.1 87.9h0M110.8 92.4h0M160.9 116.0h0M126.5 127.4h0M175.2 126.8h0M148.2 106.7h0M141.3 105.7h0M158.0 127.7h0M193.6 129.2h0M198.8 109.8h0M230.8 114.0h0M199.5 111.1h0M179.6 99.5h0M195.2 118.0h0M140.9 93.6h0M119.1 89.7h0"/><path stroke="#ff6100" d="M181.1 133.2h0M170.4 9.1h0M196.7 36.0h0M205.7 136.2h0"/><path stroke="#000fff" d="M198.9 117.1h0M152.9 110.2h0M138.9 136.4h0M164.6 108.4h0M138.9 148.9h0M144.8 119.4h0M141.2 95.3h0M193.4 108.0h0M208.4 122.9h0M169.3 128.5h0M144.5 120.7h0M135.2 91.8h0M162.5 115.2h0M150.0 122.7h0M170.9 124.8h0M162.3 121.7h0M201.9 106.1h0M166.2 107.8h0"/><path stroke="#05fffa" d="M186.4 86.6h0M205.7 98.7h0M227.8 104.1h0"/><path stroke="#6bff94" d="M122.2 12.6h0M218.3 8.8h0M118.5 7.9h0"/><path stroke="#0038ff" d="M226.0 111.3h0M206.1 122.0h0M149.8 113.7h0M136.7 114.5h0M215.7 112.7h0"/><path stroke="#ffdb00" d="M189.2 51.5h0M154.2 148.6h0M232.5 48.3h0M225.0 21.7h0M213.3 48.7h0"/><path stroke="#ffb300" d="M220.9 72.6h0"/><path stroke="#42ffbd" d="M218.1 133.8h0M205.4 101.3h0"/><path stroke="#ff2400" d="M195.7 35.4h0"/><path stroke="#e5ff1a" d="M215.7 29.9h0"/><path stroke="#a8ff57" d="M212.7 15.1h0"/><path stroke="#ff8a00" d="M176.8 2.0h0M167.2 27.8h0M169.8 15.7h0M233.8 72.6h0M171.5 0.0h0M197.1 8.7h0M192.3 23.9h0M137.8 14.8h0M194.0 36.9h0M164.4 19.8h0M230.8 44.3h0M183.6 49.2h0M142.3 150.4h0M132.5 22.7h0M187.6 18.3h0"/><path stroke="#fff000" d="M226.3 27.4h0M231.2 37.4h0"/><path stroke="#004dff" d="M199.7 135.9h0M204.9 112.5h0"/><path stroke="#80ff80" d="M211.1 27.8h0M158.3 98.9h0M222.3 103.2h0"/><path stroke="#ff3800" d="M189.9 131.9h0M185.7 8.0h0M193.9 28.9h0"/><path stroke="#0000fa" d="M162.5 108.8h0"/><path stroke="#ffc700" d="M206.2 52.1h0M214.8 51.4h0M149.6 146.2h0M208.7 9.6h0"/><path stroke="#faff05" d="M202.5 55.5h0M229.2 17.8h0M201.8 45.0h0M138.4 1.3h0M224.4 21.6h0M208.5 24.9h0M228.2 49.0h0"/><path stroke="#00b2ff" d="M196.4 63.5h0M185.1 94.3h0"/><path stroke="#1affe5" d="M218.7 123.0h0"/><path stroke="#57ffa8" d="M180.5 93.1h0M117.4 11.9h0"/><path stroke="#0075ff" d="M232.1 -0.0h0"/><path stroke="#ff7500" d="M169.8 41.6h0M169.9 34.6h0M177.4 19.3h0M180.6 3.4h0M192.4 45.8h0M159.0 31.4h0M155.2 41.0h0M193.8 21.4h0"/><path stroke="#94ff6b" d="M133.9 7.6h0"/><path stroke="#ff0f00" d="M191.9 36.3h0"/><path stroke="#ff4c00" d="M187.3 139.0h0"/><path stroke="#ff9e00" d="M137.1 22.2h0M170.2 38.5h0M140.2 21.1h0M233.2 56.6h0M171.0 17.1h0M224.6 82.6h0M179.3 18.7h0M182.2 8.9h0M161.7 84.6h0M184.3 47.1h0M187.1 13.7h0"/><path stroke="#d1ff2e" d="M209.8 22.4h0"/><path stroke="#ff6100" d="M165.7 2.0h0M187.0 26.9h0M162.7 31.3h0M167.3 5.7h0M189.1 6.0h0M187.2 19.1h0M181.6 42.9h0"/><path stroke="#6bff94" d="M229.4 103.0h0M131.2 10.2h0M224.9 96.9h0"/><path stroke="#ff8a00" d="M178.5 46.7h0M176.7 4.1h0M170.1 12.9h0M187.0 2.3h0M187.8 43.9h0M220.3 77.7h0M217.8 12.4h0M184.0 22.8h0M174.9 6.5h0M183.7 4.8h0M167.3 24.8h0M163.7 28.2h0M187.6 48.8h0M220.7 11.5h0M128.3 13.7h0M217.6 77.3h0M139.1 22.2h0M141.6 18.5h0M148.8 141.7h0M187.5 26.2h0M194.6 24.3h0"/><path stroke="#fff000" d="M209.4 52.0h0M226.8 55.9h0M211.3 47.5h0"/><path stroke="#004dff" d="M200.2 117.5h0M228.5 119.9h0M232.2 118.8h0M228.8 114.1h0"/><path stroke="#000fff" d="M156.8 123.1h0M209.6 114.5h0M168.7 129.9h0M227.1 109.2h0M126.1 122.9h0M137.1 141.6h0M202.4 108.4h0M147.8 100.0h0M159.2 121.8h0M115.3 94.3h0M142.6 97.5h0M168.7 117.1h0M233.2 115.6h0M164.0 126.8h0M158.2 115.7h0M202.5 116.0h0M140.0 122.4h0"/><path stroke="#00dbff" d="M176.8 86.8h0"/><path stroke="#e5ff1a" d="M215.3 10.0h0M185.9 98.8h0"/><path stroke="#ff7500" d="M174.5 20.9h0M188.8 14.4h0M200.2 133.3h0M186.7 20.3h0M153.4 137.7h0M169.4 6.9h0M188.8 17.9h0M195.8 37.1h0M188.8 31.1h0"/><path stroke="#ff9e00" d="M223.3 56.6h0M227.0 59.6h0M175.5 48.6h0M179.2 28.7h0M213.3 50.3h0M183.0 20.9h0M219.2 82.4h0M161.6 139.2h0M135.5 19.0h0M150.3 148.3h0"/><path stroke="#2effd1" d="M221.8 133.8h0"/><path stroke="#57ffa8" d="M234.3 103.4h0M184.5 139.7h0M130.7 12.3h0M221.6 129.8h0"/><path stroke="#80ff80" d="M227.2 17.5h0"/><path stroke="#0024ff" d="M178.9 114.0h0M169.7 137.1h0M138.3 127.1h0M114.6 100.9h0M132.2 140.1h0M196.4 114.9h0M115.5 103.0h0M165.2 126.8h0M136.5 146.3h0M111.7 94.5h0M148.9 124.0h0M188.7 115.1h0M125.0 124.2h0M126.0 126.3h0M124.3 98.7h0M127.9 130.6h0M186.2 96.8h0M112.2 95.6h0M165.1 127.0h0M153.5 113.3h0M155.3 132.3h0M129.7 128.4h0M176.8 108.9h0M153.6 115.3h0M114.2 95.0h0M217.8 113.6h0M160.7 115.0h0M127.4 129.5h0M116.0 104.1h0M124.1 111.5h0"/><path stroke="#42ffbd" d="M192.9 137.2h0M160.8 95.0h0"/><path stroke="#0000fa" d="M152.3 111.8h0"/><path stroke="#0061ff" d="M199.6 64.1h0"/><path stroke="#0038ff" d="M127.9 93.2h0M216.1 119.1h0M220.8 120.1h0"/><path stroke="#faff05" d="M201.0 50.7h0M227.8 41.2h0M214.0 7.0h0"/><path stroke="#ffb300" d="M194.1 49.0h0M172.3 86.4h0M225.2 38.8h0M162.7 88.9h0M188.8 55.3h0"/><path stroke="#ff0f00" d="M187.8 12.1h0"/><path stroke="#ffc700" d="M135.2 147.5h0M223.2 22.8h0M152.2 85.1h0M232.7 35.9h0M204.5 41.1h0"/><path stroke="#ffdb00" d="M190.9 49.2h0M231.6 41.6h0M186.7 48.9h0"/><path stroke="#d1ff2e" d="M145.2 142.9h0"/><path stroke="#faff05" d="M228.4 59.9h0"/><path stroke="#00dbff" d="M168.2 122.1h0"/><path stroke="#ff4c00" d="M186.5 21.7h0"/><path stroke="#80ff80" d="M190.8 142.3h0M187.2 136.9h0M134.2 12.5h0M184.8 90.5h0M170.2 98.0h0"/><path stroke="#05fffa" d="M214.3 99.5h0M195.7 62.8h0M225.7 129.9h0"/><path stroke="#004dff" d="M225.9 117.4h0M198.8 108.5h0M166.5 122.9h0M233.7 109.4h0"/><path stroke="#ff8a00" d="M207.5 135.2h0M166.3 16.4h0M198.1 23.8h0M181.8 27.2h0M153.2 145.4h0M156.4 32.8h0M173.6 40.9h0M142.1 152.1h0M132.2 19.0h0M231.5 73.1h0M197.0 28.8h0M163.6 30.3h0M197.9 38.2h0M168.5 3.3h0M187.9 41.7h0M159.5 34.0h0M128.2 15.9h0M177.9 13.0h0M233.8 80.5h0M171.0 23.9h0M204.7 39.2h0M159.5 137.1h0"/><path stroke="#ffdb00" d="M214.5 53.1h0M220.8 52.8h0"/><path stroke="#0024ff" d="M130.7 121.2h0M124.6 123.2h0M234.3 116.1h0M116.5 105.1h0M172.8 135.7h0M117.6 97.5h0M178.1 90.1h0M133.6 143.3h0M141.9 101.8h0M160.9 137.0h0M145.7 82.0h0M166.0 122.6h0M136.2 118.3h0M190.1 106.3h0M223.7 120.5h0M120.7 104.3h0M134.7 125.1h0M121.7 116.8h0M204.3 113.6h0M171.1 129.1h0M179.8 118.5h0M192.5 110.6h0"/><path stroke="#000fff" d="M143.8 129.0h0M121.5 85.8h0M155.8 135.9h0M200.2 109.2h0M204.9 107.3h0M176.7 118.9h0M150.3 132.0h0M139.9 129.4h0M123.1 92.6h0M172.4 92.9h0M173.2 115.2h0M227.2 106.4h0M135.6 118.9h0M116.2 106.4h0M184.7 110.2h0M132.1 103.0h0M218.5 119.1h0M142.2 133.5h0M120.3 106.1h0"/><path stroke="#42ffbd" d="M226.1 132.8h0M221.2 97.7h0M133.6 32.5h0"/><path stroke="#ff9e00" d="M184.3 35.9h0M179.1 21.2h0M140.5 15.0h0M227.8 77.2h0M173.1 29.4h0M216.8 18.9h0M168.2 89.4h0M216.8 22.9h0M228.0 24.2h0M227.4 80.8h0M163.5 11.1h0M195.6 15.9h0M154.4 134.2h0"/><path stroke="#fff000" d="M199.1 55.1h0M226.8 5.2h0M195.6 42.4h0M196.3 53.1h0M223.0 37.2h0"/><path stroke="#57ffa8" d="M219.6 130.7h0M219.3 98.7h0M184.6 136.8h0"/><path stroke="#1affe5" d="M230.0 97.2h0M209.2 101.4h0M213.4 126.4h0"/><path stroke="#0038ff" d="M216.7 120.3h0M175.0 122.9h0M187.6 61.0h0M165.1 117.8h0"/><path stroke="#ffb300" d="M228.4 27.8h0M211.1 17.4h0M224.0 31.4h0M177.0 97.1h0M186.6 50.8h0M213.3 57.0h0M165.1 95.4h0"/><path stroke="#ff6100" d="M165.6 34.4h0M165.2 6.9h0"/><path stroke="#00b2ff" d="M159.2 128.7h0M171.1 91.8h0"/><path stroke="#ff7500" d="M173.9 17.7h0M151.2 38.7h0M189.0 6.6h0M188.8 37.1h0M160.9 39.5h0M185.7 131.0h0M204.2 49.0h0M211.8 41.9h0"/><path stroke="#94ff6b" d="M224.2 98.9h0"/><path stroke="#00f0ff" d="M171.7 102.0h0"/><path stroke="#6bff94" d="M224.4 77.0h0M228.2 8.6h0M126.8 6.3h0M134.1 5.7h0"/><path stroke="#0000fa" d="M210.7 134.4h0M132.0 137.5h0"/><path stroke="#0000fa" d="M132.2 107.9h0M146.0 89.7h0"/><path stroke="#faff05" d="M233.2 46.0h0M190.2 51.0h0M220.7 6.3h0M214.5 18.9h0"/><path stroke="#ffc700" d="M221.9 57.2h0"/><path stroke="#000fff" d="M170.3 122.6h0M133.5 114.6h0M138.0 103.4h0M165.3 113.1h0M172.8 95.2h0M185.8 111.0h0M145.9 132.6h0M172.3 132.5h0M161.0 122.5h0M181.8 116.4h0M171.1 135.9h0M166.3 122.7h0M147.7 108.3h0M173.1 130.0h0M128.1 97.3h0M150.1 109.2h0M137.1 123.7h0M175.2 107.0h0M174.7 108.4h0M201.9 105.7h0M224.1 106.6h0M169.3 109.7h0M144.2 100.4h0M154.6 137.1h0"/><path stroke="#6bff94" d="M232.2 20.7h0"/><path stroke="#ffb300" d="M229.4 45.7h0M223.5 50.1h0M159.8 100.4h0M220.5 51.5h0"/><path stroke="#0024ff" d="M134.1 144.4h0M130.9 105.8h0M163.7 87.2h0M136.0 148.6h0M171.6 122.8h0M202.9 132.2h0M140.8 133.2h0M116.9 106.2h0M126.8 99.6h0M151.4 106.4h0M118.4 109.4h0M133.9 112.3h0M129.8 134.8h0M138.7 96.7h0M126.7 119.2h0M135.1 128.7h0M135.7 133.7h0M129.8 134.2h0M169.5 127.4h0M125.8 121.2h0M109.3 89.2h0M201.6 116.2h0M213.7 119.4h0"/><path stroke="#42ffbd" d="M120.1 5.9h0M193.9 139.9h0M231.5 101.9h0"/><path stroke="#80ff80" d="M121.9 8.6h0M226.3 20.7h0M232.5 97.6h0"/><path stroke="#ff6100" d="M186.0 19.9h0M183.1 8.4h0M175.8 0.8h0"/><path stroke="#ff9e00" d="M153.3 139.1h0M172.2 6.5h0M223.7 54.4h0M180.9 39.1h0M161.8 83.5h0M143.1 141.8h0M166.5 38.1h0M194.1 32.0h0"/><path stroke="#2effd1" d="M220.2 126.4h0M223.8 96.6h0"/><path stroke="#004dff" d="M223.8 119.0h0M211.2 113.9h0M228.4 106.3h0"/><path stroke="#0038ff" d="M144.7 79.4h0M172.5 127.3h0"/><path stroke="#e5ff1a" d="M139.4 145.8h0"/><path stroke="#00b2ff" d="M172.9 97.7h0M206.2 64.8h0M176.6 92.1h0"/><path stroke="#d1ff2e" d="M142.8 0.7h0"/><path stroke="#a8ff57" d="M208.1 17.5h0M222.2 11.1h0"/><path stroke="#57ffa8" d="M216.8 129.7h0M126.2 9.5h0"/><path stroke="#ff7500" d="M186.2 39.9h0M185.2 -0.3h0M217.1 39.5h0M182.9 24.4h0M198.0 12.3h0M185.1 24.9h0M171.6 30.8h0M183.7 44.0h0"/><path stroke="#ff8a00" d="M207.8 48.9h0M188.0 34.4h0M190.9 37.6h0M180.4 49.2h0M157.3 40.2h0M154.3 36.8h0M150.0 134.7h0M166.3 42.2h0M194.0 32.8h0M154.7 150.3h0M156.0 39.0h0M220.4 74.2h0M192.0 2.2h0M187.5 46.5h0M163.3 12.6h0M192.1 15.6h0M228.1 3.2h0M194.4 4.0h0M179.2 7.3h0M189.8 16.2h0M135.7 25.1h0M158.9 43.5h0M232.9 11.7h0M195.2 16.4h0M182.5 29.6h0"/><path stroke="#fff000" d="M223.3 16.0h0M233.1 54.4h0M222.6 46.8h0"/><path stroke="#ff4c00" d="M193.0 37.4h0M205.2 128.7h0M209.7 133.0h0M186.2 142.3h0M192.5 22.6h0"/><path stroke="#ffdb00" d="M208.2 2.7h0M218.2 54.4h0M207.5 43.0h0M147.9 138.3h0M208.8 45.6h0"/><path stroke="#42ffbd" d="M205.6 104.4h0M181.2 142.1h0M218.2 125.6h0"/><path stroke="#ff7500" d="M161.9 39.8h0M171.8 38.1h0M176.9 25.6h0M196.3 21.3h0M183.2 38.8h0M138.3 143.9h0M185.3 27.2h0M178.8 31.7h0M192.7 29.5h0"/><path stroke="#0000fa" d="M173.7 110.8h0M167.1 112.8h0M156.3 120.6h0M124.0 122.9h0M134.8 131.1h0"/><path stroke="#ffb300" d="M200.8 48.5h0M161.8 80.4h0M156.1 81.5h0"/><path stroke="#1affe5" d="M228.0 132.4h0M224.1 132.4h0M211.4 103.4h0"/><path stroke="#2effd1" d="M225.6 123.3h0"/><path stroke="#ffc700" d="M156.5 137.8h0M207.8 53.8h0"/><path stroke="#bdff42" d="M221.3 3.3h0"/><path stroke="#0075ff" d="M178.7 59.6h0"/><path stroke="#e5ff1a" d="M220.5 30.8h0M182.6 88.4h0"/><path stroke="#6bff94" d="M227.3 29.8h0M214.3 11.7h0"/><path stroke="#ff0f00" d="M192.0 8.9h0M194.9 29.4h0"/><path stroke="#57ffa8" d="M121.2 14.3h0M179.9 95.6h0M117.2 10.8h0"/><path stroke="#faff05" d="M212.2 38.2h0M184.9 53.1h0M208.8 30.4h0M215.3 5.0h0M224.1 44.4h0"/><path stroke="#004dff" d="M221.1 107.7h0"/><path stroke="#0061ff" d="M176.9 125.6h0M192.6 141.8h0"/><path stroke="#94ff6b" d="M224.2 9.7h0M222.9 74.4h0"/><path stroke="#0038ff" d="M141.7 103.4h0M145.4 103.1h0M123.5 99.2h0M143.1 76.7h0M205.4 116.2h0M151.8 134.0h0"/><path stroke="#ff8a00" d="M194.5 25.4h0M164.1 17.1h0M169.2 17.5h0M165.9 22.7h0M165.4 35.3h0M181.8 139.5h0M181.4 32.8h0M147.7 34.0h0M159.9 142.2h0M186.8 6.9h0M141.2 25.9h0M206.3 43.1h0M191.1 12.4h0M215.7 73.4h0M193.5 44.7h0M173.6 25.6h0M182.2 0.3h0M196.4 21.8h0M196.9 32.3h0M155.6 35.5h0M158.4 36.6h0M152.2 39.9h0"/><path stroke="#ffdb00" d="M231.1 52.7h0M215.3 44.1h0M192.3 53.0h0"/><path stroke="#008aff" d="M202.2 65.2h0"/><path stroke="#000fff" d="M149.2 127.4h0M195.4 117.6h0M134.5 92.2h0M125.0 107.5h0M196.5 114.2h0M169.0 106.3h0M131.2 88.0h0M120.0 90.6h0M147.4 128.2h0M136.9 111.6h0M147.2 125.0h0M129.3 117.7h0M129.6 127.0h0M182.8 115.6h0M157.7 107.6h0M140.0 81.8h0M143.9 81.7h0M183.5 106.5h0M119.3 100.4h0M164.0 125.1h0"/><path stroke="#00b2ff" d="M181.8 58.4h0"/><path stroke="#a8ff57" d="M214.9 15.1h0"/><path stroke="#fff000" d="M209.3 40.4h0M210.5 48.3h0M219.2 43.6h0M194.8 48.0h0"/><path stroke="#ff6100" d="M166.5 20.0h0"/><path stroke="#0024ff" d="M138.7 132.2h0M161.1 106.5h0M137.6 129.1h0M172.4 123.0h0M183.0 113.1h0M120.0 99.9h0M160.2 90.3h0M123.3 91.7h0M214.4 117.1h0M146.7 111.7h0M131.2 138.0h0M185.8 108.2h0M119.3 111.5h0M123.5 95.7h0M124.9 102.1h0M136.6 120.4h0M223.2 107.4h0M165.4 130.1h0M139.5 112.9h0"/><path stroke="#ff9e00" d="M182.7 41.0h0M219.5 73.6h0M227.4 26.1h0M189.3 24.1h0M188.1 31.5h0M164.8 100.3h0M231.3 59.6h0M220.5 60.5h0M172.6 9.4h0M174.3 27.4h0M140.5 149.0h0"/><path stroke="#ff2400" d="M193.9 12.6h0"/></g>
<g clip-path="url(#fc)"><use href="#map"/></g>
</g>
<text class="b a" x="988.5" y="112.8">48<tspan dx="2.2" dy="-6.4" font-size="10">°</tspan><tspan dx="0.7" dy="6.4"> N</tspan></text><text class="b a" x="988.5" y="130.7">46<tspan dx="2.2" dy="-6.4" font-size="10">°</tspan><tspan dx="0.7" dy="6.4"> N</tspan></text><text class="b a" x="988.5" y="148">44<tspan dx="2.2" dy="-6.4" font-size="10">°</tspan><tspan dx="0.7" dy="6.4"> N</tspan></text><text class="b a" x="988.5" y="167.3">42<tspan dx="2.2" dy="-6.4" font-size="10">°</tspan><tspan dx="0.7" dy="6.4"> N</tspan></text><text class="b a" x="988.5" y="183.4">40<tspan dx="2.2" dy="-6.4" font-size="10">°</tspan><tspan dx="0.7" dy="6.4"> N</tspan></text><text class="b a" x="988.5" y="198.5">38<tspan dx="2.2" dy="-6.4" font-size="10">°</tspan><tspan dx="0.7" dy="6.4"> N</tspan></text><text class="b a" x="988.5" y="215.4">36<tspan dx="2.2" dy="-6.4" font-size="10">°</tspan><tspan dx="0.7" dy="6.4"> N</tspan></text><text class="b a" x="988.5" y="229.5">34<tspan dx="2.2" dy="-6.4" font-size="10">°</tspan><tspan dx="0.7" dy="6.4"> N</tspan></text><text class="b a" x="988.5" y="246.6">32<tspan dx="2.2" dy="-6.4" font-size="10">°</tspan><tspan dx="0.7" dy="6.4"> N</tspan></text><text class="b a" x="988.5" y="260.9">30<tspan dx="2.2" dy="-6.4" font-size="10">°</tspan><tspan dx="0.7" dy="6.4"> N</tspan></text><text class="b a" x="988.5" y="273.8">28<tspan dx="2.2" dy="-6.4" font-size="10">°</tspan><tspan dx="0.7" dy="6.4"> N</tspan></text><text class="b a" x="988.5" y="288.8">26<tspan dx="2.2" dy="-6.4" font-size="10">°</tspan><tspan dx="0.7" dy="6.4"> N</tspan></text><text class="b a" x="988.5" y="303">24<tspan dx="2.2" dy="-6.4" font-size="10">°</tspan><tspan dx="0.7" dy="6.4"> N</tspan></text><text class="b a" x="988.5" y="316.6">22<tspan dx="2.2" dy="-6.4" font-size="10">°</tspan><tspan dx="0.7" dy="6.4"> N</tspan></text><text class="b a" x="1059.9" y="74.8">100<tspan dx="1.6" dy="-6.4" font-size="10">°</tspan><tspan dx="1" dy="6.4"> W</tspan></text><text class="b a" x="1129.2" y="74.8">90<tspan dx="1.6" dy="-6.4" font-size="10">°</tspan><tspan dx="1" dy="6.4"> W</tspan></text><text class="b a" x="1193.5" y="74.8">80<tspan dx="1.6" dy="-6.4" font-size="10">°</tspan><tspan dx="1" dy="6.4"> W</tspan></text><text class="b a" x="1257.5" y="74.8">70<tspan dx="1.6" dy="-6.4" font-size="10">°</tspan><tspan dx="1" dy="6.4"> W</tspan></text>
<text class="b t" x="1149.6" y="341.3" text-anchor="middle">Cloud Press (hPa)</text>
<rect x="1285.1" y="93.1" width="23.3" height="219.6" fill="url(#jet)" stroke="#262626" stroke-width="0.7"/><text class="b c" x="1317.8" y="100.9">1000</text><path d="M1306.1 141.9H1308.4" stroke="#262626" stroke-width="0.7"/><text class="b c" x="1317.8" y="149.2">800</text><path d="M1306.1 189.9H1308.4" stroke="#262626" stroke-width="0.7"/><text class="b c" x="1317.8" y="197.2">600</text><path d="M1306.1 239.1H1308.4" stroke="#262626" stroke-width="0.7"/><text class="b c" x="1317.8" y="246.4">400</text><path d="M1306.1 287.4H1308.4" stroke="#262626" stroke-width="0.7"/><text class="b c" x="1317.8" y="294.7">200</text>
<g transform="translate(196.4 486.6) scale(1.0000 1.0009)">
<rect x="-0.9" y="-0.2" width="234.1" height="212.79999999999998" fill="none" stroke="#1c1c1c" stroke-width="1.1"/><g fill="none" stroke-linecap="round" stroke-width="6.4"><path stroke="#99ff66" d="M94.2 23.4h0M86.0 35.4h0M164.5 51.3h0M87.8 16.9h0M209.6 99.6h0M220.3 133.1h0M203.9 90.4h0"/><path stroke="#004dff" d="M233.1 31.0h0M233.1 49.6h0M134.1 -0.3h0M189.3 6.1h0M113.8 9.9h0M215.0 13.7h0M173.2 11.9h0M201.8 18.8h0M169.0 142.8h0"/><path stroke="#0080ff" d="M214.5 26.1h0M171.3 6.5h0M152.9 17.4h0M146.0 19.4h0M104.7 10.8h0M132.7 51.0h0M150.2 56.3h0M152.6 24.1h0M199.3 21.3h0M190.2 39.4h0M203.8 32.7h0M202.9 122.1h0M227.3 60.2h0M152.4 9.4h0M232.5 33.9h0M138.6 17.1h0M120.2 54.8h0M144.1 -0.4h0"/><path stroke="#33ffcc" d="M179.9 87.0h0M201.0 92.3h0M211.6 126.8h0M124.4 81.9h0M174.6 57.4h0M114.5 70.4h0M152.3 147.1h0M192.9 65.0h0M195.7 84.6h0M100.7 13.5h0M228.1 101.8h0M176.4 70.0h0M114.9 80.4h0M229.0 122.1h0M108.0 63.7h0M209.4 124.9h0M174.5 53.6h0M96.4 32.3h0M230.7 88.6h0M118.3 63.8h0M165.8 67.2h0"/><path stroke="#00b2ff" d="M131.0 57.3h0M139.7 38.9h0M233.0 0.8h0M185.4 2.1h0M159.3 147.8h0M157.4 -0.3h0M188.1 56.1h0M212.0 67.1h0M119.4 78.6h0M109.5 22.3h0M154.1 72.5h0M158.8 140.6h0M165.9 76.3h0M179.2 2.6h0M130.9 41.6h0M104.8 61.2h0M198.4 29.0h0M198.4 3.6h0M113.7 48.8h0M104.7 41.3h0M114.2 59.0h0M152.4 58.6h0M119.4 1.7h0M158.5 65.1h0M206.0 37.5h0M99.2 51.9h0M141.3 44.6h0M158.6 44.4h0M214.8 62.7h0M150.0 72.5h0"/><path stroke="#00ccff" d="M212.1 24.6h0M230.9 59.6h0M206.2 136.0h0M171.6 79.5h0M176.7 61.3h0M175.3 43.5h0M123.7 4.8h0M166.0 64.2h0M175.0 77.5h0M150.0 4.9h0M155.0 -0.3h0M115.1 5.1h0M90.2 11.4h0M153.9 137.0h0M113.7 76.1h0M166.2 87.7h0M121.2 27.0h0M106.4 21.1h0M194.2 47.6h0M117.4 8.8h0M209.3 34.5h0M193.8 60.4h0M141.5 69.5h0M201.5 -0.3h0M126.0 79.2h0M138.6 77.7h0M200.7 72.3h0M117.9 74.1h0M157.5 70.1h0M186.4 84.1h0M191.5 41.9h0M179.2 54.0h0M151.4 39.8h0"/><path stroke="#0000b2" d="M197.7 131.7h0"/><path stroke="#0066ff" d="M193.6 36.3h0M166.3 75.5h0M221.1 54.5h0M221.2 46.1h0M178.3 99.2h0M233.1 35.7h0M192.4 33.9h0M212.6 16.7h0M120.7 50.2h0M225.3 37.1h0M183.7 130.1h0M222.9 42.7h0M216.5 36.2h0M214.5 12.5h0M211.9 12.3h0M69.0 -0.3h0M144.6 1.3h0M171.7 103.2h0M210.4 28.8h0M186.0 102.5h0"/><path stroke="#00ffff" d="M144.0 59.8h0M161.3 44.2h0M212.4 42.6h0M213.4 65.3h0M113.6 13.7h0M148.1 77.3h0M150.4 32.6h0M197.2 62.5h0M154.3 69.2h0M158.7 82.8h0M95.8 26.6h0M116.7 54.7h0M178.1 74.8h0M102.2 41.9h0M134.6 -0.9h0M145.9 139.1h0M175.4 28.5h0M93.8 44.5h0M157.8 75.5h0"/><path stroke="#ccff33" d="M215.7 100.1h0M223.9 88.9h0M207.4 94.5h0"/><path stroke="#1affe5" d="M208.6 22.0h0M121.5 61.9h0M192.6 79.7h0M191.4 72.6h0M141.6 78.8h0M206.6 127.8h0M197.9 87.2h0M119.1 78.0h0M148.3 71.5h0M120.9 66.5h0M179.2 66.0h0M82.0 27.0h0M112.2 83.0h0M177.8 65.3h0M108.1 66.5h0"/><path stroke="#00e5ff" d="M211.0 49.7h0M233.1 68.2h0M181.6 59.7h0M156.2 62.9h0M147.4 46.3h0M201.4 14.4h0M126.1 60.0h0M101.7 12.6h0M167.8 82.6h0M199.2 74.6h0M137.3 74.9h0M163.2 67.9h0M128.4 64.0h0M229.3 77.7h0M150.8 81.6h0M199.1 70.5h0M96.5 5.7h0M207.5 9.2h0M127.3 57.5h0M106.1 53.6h0M233.0 5.5h0M147.1 35.3h0M167.2 84.7h0M181.7 86.6h0M187.2 40.0h0M134.4 83.9h0M170.8 26.5h0M94.9 -0.3h0"/><path stroke="#0033ff" d="M180.5 97.0h0M136.4 26.0h0M228.1 40.3h0M141.5 20.8h0M122.9 23.5h0M205.1 134.0h0M159.1 36.0h0"/><path stroke="#e5ff1a" d="M212.0 92.3h0M210.3 85.4h0"/><path stroke="#4dffb2" d="M208.0 129.8h0M175.5 134.2h0M110.7 32.6h0M213.6 127.5h0M105.7 50.1h0M94.0 52.2h0M233.1 72.9h0M149.0 140.3h0"/><path stroke="#b3ff4c" d="M216.8 134.3h0M209.4 86.5h0M225.7 91.2h0M202.5 92.0h0M220.4 118.8h0M116.7 31.7h0M187.6 -0.3h0"/><path stroke="#ffff00" d="M217.7 81.9h0M100.9 52.9h0"/><path stroke="#0099ff" d="M195.8 19.5h0M204.3 34.5h0M114.2 0.1h0M129.2 34.5h0M219.8 24.9h0M206.2 -0.3h0M201.3 65.4h0M160.1 103.0h0M192.8 23.4h0M132.1 69.0h0M208.3 36.2h0M102.5 10.0h0M180.6 -0.3h0M151.0 96.9h0M188.5 32.4h0M142.0 1.3h0M159.9 27.2h0M193.7 28.4h0M121.3 56.0h0M142.6 4.8h0M170.7 36.1h0M233.0 17.1h0M188.0 11.3h0M82.6 4.9h0M175.8 34.5h0"/><path stroke="#0000ff" d="M149.0 8.6h0M124.0 46.3h0M197.7 136.3h0M129.7 44.2h0"/><path stroke="#0000e6" d="M202.5 12.5h0"/><path stroke="#66ff99" d="M223.2 72.1h0M166.3 54.5h0M87.8 19.4h0M195.6 73.9h0M221.4 99.2h0M94.9 15.0h0M109.3 9.2h0M81.0 24.9h0M145.5 145.8h0"/><path stroke="#000099" d="M148.9 17.3h0"/><path stroke="#80ff80" d="M160.6 59.3h0M217.9 84.8h0M165.5 57.2h0M210.4 99.6h0M215.0 100.4h0M216.6 129.6h0M78.0 18.6h0M230.5 98.9h0M94.5 48.9h0M194.4 81.6h0"/><path stroke="#0019ff" d="M183.6 140.7h0M192.5 129.8h0M129.9 24.4h0M218.1 57.5h0M204.4 24.3h0M129.8 51.1h0"/><path stroke="#0000e6" d="M128.0 50.2h0M126.7 54.3h0M129.9 46.8h0M121.5 21.0h0"/><path stroke="#00ccff" d="M117.8 -0.3h0M201.2 28.7h0M233.1 56.6h0M115.8 77.9h0M173.6 -0.3h0M169.0 -0.3h0M183.3 103.3h0M85.2 4.0h0M151.3 83.7h0M144.3 81.6h0M228.3 6.9h0M204.8 63.7h0M154.0 130.9h0M213.1 43.4h0M160.0 69.5h0M229.7 16.2h0M165.9 13.9h0M164.4 3.3h0M183.4 16.3h0M161.0 35.0h0M167.5 41.6h0M191.2 67.4h0M106.4 2.6h0M142.6 74.2h0M205.6 6.4h0M199.3 43.5h0M105.1 9.0h0M194.6 102.0h0M162.3 11.1h0M158.8 48.5h0M111.0 73.9h0M120.3 29.1h0M94.2 40.1h0M145.7 26.4h0M187.7 87.2h0M87.9 9.0h0M124.1 79.4h0M162.7 26.0h0"/><path stroke="#0000ff" d="M196.7 135.0h0M182.1 139.2h0M152.4 3.7h0M201.3 129.9h0M194.8 127.9h0"/><path stroke="#0019ff" d="M119.8 18.8h0M182.2 137.8h0M171.5 141.5h0M175.0 141.6h0M218.7 49.8h0M158.7 131.7h0"/><path stroke="#4dffb2" d="M222.1 132.8h0M108.0 52.0h0M128.0 74.4h0M106.6 56.9h0M121.0 71.7h0M167.6 69.4h0M105.0 75.3h0M189.6 -0.8h0M108.0 70.3h0M230.2 80.3h0M107.7 37.5h0"/><path stroke="#0066ff" d="M187.9 18.8h0M199.3 5.8h0M201.0 4.2h0M119.7 24.5h0M231.1 57.6h0M164.6 0.9h0M216.8 33.9h0M88.5 -0.8h0M155.8 101.4h0M186.2 27.1h0M156.9 1.3h0M176.5 17.7h0M174.5 143.1h0M115.3 19.2h0M181.7 131.2h0M173.3 94.4h0"/><path stroke="#ccff33" d="M207.5 90.2h0M208.1 99.2h0M232.7 97.1h0M168.7 54.1h0"/><path stroke="#ffb300" d="M228.6 119.3h0"/><path stroke="#00e5ff" d="M87.6 -0.3h0M119.6 62.9h0M149.9 69.7h0M114.5 23.4h0M95.8 22.0h0M125.0 66.1h0M202.3 -0.6h0M231.2 3.9h0M137.6 54.1h0M167.7 23.5h0M77.1 8.7h0M102.9 20.2h0M101.6 57.0h0M180.7 53.9h0"/><path stroke="#00ffff" d="M177.5 84.0h0M166.0 50.4h0M199.4 59.7h0M137.5 65.1h0M221.7 69.2h0M104.0 73.2h0M130.0 32.6h0M156.9 147.8h0M190.8 30.8h0M179.3 61.8h0M225.9 104.3h0M186.2 77.8h0M147.1 85.9h0M156.6 137.4h0M170.3 136.3h0M155.3 64.9h0M94.1 29.2h0M102.2 55.3h0M187.7 67.3h0M129.8 76.0h0M189.1 77.8h0M138.4 44.7h0"/><path stroke="#b3ff4c" d="M232.3 101.3h0M212.3 82.5h0M74.6 10.0h0M211.2 118.4h0"/><path stroke="#00b2ff" d="M191.9 11.8h0M153.2 96.2h0M185.9 5.8h0M200.7 122.7h0M140.0 29.5h0M186.1 31.0h0M182.9 37.6h0M194.4 16.7h0M132.2 3.5h0M131.8 58.9h0M226.3 66.6h0M116.5 78.8h0M140.9 58.9h0M162.0 -0.3h0M142.6 46.2h0M190.5 56.0h0M188.2 52.1h0M233.0 12.4h0M173.0 2.0h0M191.1 81.6h0M209.8 44.3h0M126.3 85.5h0M211.0 4.9h0"/><path stroke="#ff8000" d="M224.9 117.8h0"/><path stroke="#0080ff" d="M161.7 6.7h0M216.5 46.7h0M155.7 17.2h0M197.7 19.4h0M176.3 100.3h0M190.8 8.3h0M174.6 27.1h0M137.1 19.9h0M212.5 61.1h0M97.6 4.1h0M163.2 13.7h0M232.9 20.0h0M150.1 54.9h0M146.2 49.6h0M224.0 4.1h0M171.8 100.3h0M73.0 8.1h0M149.9 13.5h0M106.3 12.7h0M78.3 -0.3h0M158.2 13.7h0M194.9 12.5h0M129.9 30.1h0M137.6 13.9h0M166.9 3.5h0M189.7 44.3h0"/><path stroke="#99ff66" d="M212.7 100.0h0M92.0 48.0h0M74.0 10.2h0M221.1 81.9h0M218.1 119.1h0M80.4 23.5h0M75.9 12.4h0M209.3 77.0h0"/><path stroke="#1affe5" d="M148.5 73.5h0M161.4 147.8h0M178.5 60.0h0M212.2 1.8h0M90.3 42.6h0M96.3 9.4h0M155.7 143.0h0M204.2 69.8h0M115.3 71.6h0M89.7 17.7h0M112.5 40.3h0M227.2 125.4h0M121.8 86.3h0M91.9 30.0h0M172.3 48.9h0M200.8 84.6h0M189.5 70.5h0M217.6 133.8h0M151.5 139.7h0M103.8 56.6h0M99.1 19.0h0"/><path stroke="#33ffcc" d="M225.9 88.0h0M191.0 87.5h0M123.4 59.8h0M110.6 26.9h0M159.9 72.0h0M222.9 126.3h0M187.3 68.9h0M155.7 80.0h0M224.3 124.1h0M154.5 73.7h0M213.1 125.1h0M194.0 72.3h0M194.2 77.3h0M113.3 37.3h0M193.5 3.9h0M130.4 61.9h0M175.4 134.4h0"/><path stroke="#ffff00" d="M208.3 84.2h0M219.5 79.5h0M216.5 91.6h0"/><path stroke="#66ff99" d="M106.8 41.0h0M95.8 41.7h0M211.8 123.2h0M123.3 83.6h0M82.0 21.8h0M197.7 94.4h0M97.4 49.0h0M177.4 67.4h0M193.4 0.7h0M113.9 54.1h0"/><path stroke="#ffe500" d="M222.7 118.6h0"/><path stroke="#0099ff" d="M148.4 20.9h0M177.6 133.5h0M233.1 54.3h0M140.5 14.7h0M164.8 22.3h0M119.0 36.0h0M217.8 -0.3h0M181.6 38.5h0M216.3 59.4h0M192.4 90.1h0M179.3 6.6h0M121.0 64.9h0M183.1 5.8h0M182.4 97.3h0M92.9 6.2h0M89.9 -0.3h0M207.6 35.0h0M164.7 103.1h0M141.6 12.5h0M216.4 4.0h0M179.9 35.9h0M162.5 136.4h0"/><path stroke="#e5ff1a" d="M205.4 97.0h0M93.2 17.5h0M205.7 81.5h0M215.4 82.0h0"/><path stroke="#004dff" d="M224.8 18.9h0M177.3 96.4h0M136.1 17.3h0M122.8 54.3h0M217.6 26.0h0M231.0 42.3h0M233.1 28.7h0M223.2 12.2h0M185.7 129.0h0M160.0 100.4h0"/><path stroke="#80ff80" d="M227.7 75.0h0M216.8 72.7h0M203.5 99.3h0M219.4 130.0h0M232.7 124.7h0M223.3 87.0h0"/><path stroke="#0033ff" d="M173.0 16.1h0M207.9 11.6h0M141.6 5.9h0M219.2 34.9h0M187.4 100.3h0M80.6 -0.3h0M127.5 27.2h0M167.7 36.4h0M227.7 55.3h0"/><path stroke="#99ff66" d="M216.5 131.9h0M215.7 93.9h0M155.8 53.4h0M86.1 22.4h0M214.4 121.3h0M91.8 48.8h0M207.7 75.2h0"/><path stroke="#ccff33" d="M87.1 26.5h0M154.6 56.6h0"/><path stroke="#80ff80" d="M228.3 97.7h0M164.8 60.0h0M213.9 92.3h0M201.0 82.8h0M204.9 80.5h0M173.2 133.6h0M220.2 71.4h0"/><path stroke="#0000cc" d="M190.8 126.8h0M194.8 138.3h0M158.9 129.4h0"/><path stroke="#b3ff4c" d="M215.2 84.3h0M209.5 97.5h0M228.9 131.1h0"/><path stroke="#0000ff" d="M201.0 24.9h0M221.2 42.5h0M194.8 130.0h0M177.5 134.3h0M136.4 20.7h0"/><path stroke="#ffff00" d="M80.0 22.8h0"/><path stroke="#0019ff" d="M73.0 4.9h0M203.1 128.0h0M181.9 92.9h0M164.5 130.5h0M162.6 132.0h0"/><path stroke="#66ff99" d="M227.7 105.0h0M233.2 93.8h0M166.3 58.7h0M209.3 128.8h0M175.2 74.5h0M80.4 12.7h0M223.8 103.4h0M213.7 75.0h0M84.9 14.7h0M207.4 120.9h0M159.3 55.9h0M91.5 24.8h0"/><path stroke="#00ffff" d="M132.1 75.4h0M207.4 124.6h0M136.1 61.9h0M84.5 8.9h0M150.0 138.2h0M185.1 12.2h0M229.7 85.2h0M98.6 22.4h0M96.2 33.9h0M153.8 52.5h0M115.5 61.1h0M233.1 52.0h0M124.2 62.0h0M169.0 43.4h0M85.8 25.1h0M88.2 4.9h0M135.2 49.8h0M157.2 60.0h0M135.3 44.3h0"/><path stroke="#4dffb2" d="M181.1 84.2h0M201.7 88.8h0M196.4 77.2h0M128.0 71.1h0M146.7 59.5h0M153.2 65.0h0M194.6 -0.3h0M208.7 81.2h0M164.6 50.4h0M163.7 63.6h0M186.0 71.7h0M95.0 12.5h0M129.4 84.3h0M227.0 82.7h0M103.2 43.4h0M106.6 31.4h0M89.0 37.0h0"/><path stroke="#00e5ff" d="M188.6 71.9h0M153.3 67.6h0M89.2 7.3h0M208.5 135.6h0M148.1 -0.3h0M101.6 -0.3h0M206.6 65.0h0M149.6 85.3h0M169.6 30.0h0M199.2 99.1h0M174.7 136.6h0M159.7 141.7h0M176.4 90.4h0M108.2 81.7h0M162.0 2.4h0M142.7 81.9h0M164.6 62.8h0M138.2 86.9h0M145.7 63.5h0M228.0 105.3h0M135.6 41.3h0M149.7 29.4h0M106.7 65.3h0M179.8 45.9h0M224.4 64.3h0M98.6 12.7h0M128.0 61.0h0M145.3 37.3h0M195.2 80.2h0M122.5 -0.3h0M145.4 76.5h0"/><path stroke="#004dff" d="M133.0 7.5h0M170.0 144.4h0M80.1 -0.1h0M228.3 1.6h0M190.2 25.1h0M224.0 13.3h0M214.3 52.0h0M222.5 9.5h0M182.0 50.2h0M153.3 21.2h0M225.6 53.9h0M198.3 8.9h0"/><path stroke="#1affe5" d="M133.8 85.7h0M160.3 79.9h0M107.7 6.1h0M202.6 46.5h0M118.3 31.3h0M160.3 74.6h0M199.4 78.8h0M131.5 9.5h0M152.8 80.2h0M101.0 59.1h0M105.3 4.6h0M115.3 84.5h0M102.8 49.3h0M223.9 70.1h0M129.5 84.2h0M106.7 77.6h0M122.3 28.9h0M230.1 -0.5h0"/><path stroke="#33ffcc" d="M189.9 -0.3h0M94.8 37.0h0M154.0 32.5h0M91.0 45.9h0M219.1 -0.8h0M115.0 37.3h0M120.3 73.7h0M127.1 76.3h0M215.8 119.2h0M166.7 78.7h0M134.3 71.9h0M144.8 141.7h0M186.4 81.8h0M101.0 1.8h0M89.0 41.7h0M209.7 70.4h0M227.2 69.1h0M111.4 24.3h0M144.1 143.9h0M213.1 134.9h0"/><path stroke="#0066ff" d="M145.7 -0.3h0M151.5 16.8h0M206.8 18.6h0M179.1 94.3h0M226.6 21.7h0M227.9 49.3h0M167.5 20.0h0M128.6 -0.4h0M184.6 94.6h0M164.6 75.3h0M171.9 138.9h0M165.7 26.3h0M155.6 19.6h0M199.5 33.7h0M75.4 5.8h0M178.7 103.3h0M214.5 17.1h0M183.3 11.0h0M125.7 36.4h0"/><path stroke="#0080ff" d="M99.0 62.7h0M105.0 74.2h0M90.2 0.8h0M138.5 67.0h0M133.5 1.0h0M155.7 32.4h0M139.0 35.9h0M188.5 101.1h0M110.5 81.9h0M202.1 42.4h0M162.9 37.0h0M232.5 15.8h0M183.4 25.2h0M233.1 26.4h0M139.6 2.6h0M185.3 56.2h0M126.2 38.6h0M190.5 48.6h0M207.6 24.0h0M126.3 23.3h0M191.7 46.3h0M184.3 8.5h0M161.3 28.6h0"/><path stroke="#00b2ff" d="M222.5 -0.3h0M124.8 -0.3h0M229.5 21.4h0M225.5 11.7h0M141.4 3.8h0M172.0 13.5h0M111.3 28.4h0M166.6 -0.2h0M169.9 33.8h0M145.3 7.2h0M126.9 4.7h0M208.0 4.5h0M117.8 69.8h0M134.8 54.6h0M173.3 8.7h0M179.8 81.2h0M121.7 6.8h0M97.8 41.1h0M160.2 137.4h0M225.7 51.8h0M194.1 124.8h0M186.0 61.6h0M233.1 61.3h0"/><path stroke="#00ccff" d="M135.8 33.5h0M201.6 136.8h0M196.9 22.0h0M145.8 51.0h0M173.1 45.9h0M191.3 98.1h0M164.7 43.8h0M133.0 67.8h0M208.5 17.1h0M100.5 3.7h0M187.2 93.9h0M206.9 46.2h0M128.1 32.5h0M142.5 85.3h0M126.2 74.4h0M196.4 26.6h0M189.8 85.4h0M214.7 67.1h0M102.5 21.4h0M121.8 1.2h0M143.3 69.5h0M183.3 34.1h0M171.9 78.0h0M221.4 38.5h0M173.5 86.2h0M187.6 16.9h0M101.4 61.6h0M133.6 30.9h0M184.2 19.4h0M115.6 5.7h0M154.2 46.4h0M202.7 21.7h0"/><path stroke="#0099ff" d="M170.2 11.7h0M159.7 6.9h0M218.1 45.4h0M219.5 13.8h0M164.0 9.0h0M225.2 39.6h0M143.2 9.5h0M164.9 131.8h0M154.6 36.8h0M194.9 86.9h0M184.3 44.3h0M205.6 12.6h0M132.7 43.5h0M153.2 135.4h0M129.5 -0.3h0M149.9 47.8h0M141.1 -0.3h0"/><path stroke="#0000e6" d="M162.5 129.4h0"/><path stroke="#0000b2" d="M137.5 9.3h0"/><path stroke="#0033ff" d="M135.1 3.5h0M149.0 99.0h0M165.8 102.1h0M157.0 11.2h0M168.3 101.9h0M181.2 141.5h0M156.1 10.1h0M162.7 16.8h0"/><path stroke="#99ff66" d="M209.7 73.9h0M156.8 52.1h0M212.8 135.0h0M159.1 51.2h0"/><path stroke="#e5ff1a" d="M223.7 84.0h0"/><path stroke="#00ffff" d="M223.1 66.7h0M149.1 39.5h0M124.9 57.1h0M209.5 66.9h0M168.5 137.2h0M125.7 86.9h0M196.2 69.4h0M170.3 60.2h0M102.1 15.0h0M209.3 119.5h0M145.8 56.2h0M119.3 67.7h0M174.1 67.8h0M176.4 56.1h0M197.7 7.2h0M192.5 100.3h0M105.2 18.5h0M113.0 84.7h0M117.6 84.3h0M185.3 -0.3h0M115.6 1.4h0M189.1 75.2h0M112.3 57.7h0M105.0 30.3h0"/><path stroke="#0099ff" d="M196.7 37.2h0M136.1 31.5h0M173.1 3.6h0M232.7 8.3h0M219.4 17.4h0M223.3 51.4h0M139.3 11.5h0M144.2 67.5h0M219.6 5.0h0M215.8 65.4h0M167.8 145.1h0M157.4 46.5h0M209.9 63.7h0M225.4 7.2h0M179.3 52.8h0M196.6 44.9h0M136.4 -0.3h0M213.2 -0.3h0M153.6 133.1h0M121.5 52.5h0M170.6 85.4h0M170.4 19.0h0M220.1 -0.3h0M137.9 85.1h0M182.1 21.7h0M232.6 38.6h0M222.8 62.9h0M161.2 3.6h0M155.3 139.2h0M163.1 34.4h0M138.8 -0.3h0M135.6 46.4h0M142.5 61.0h0M210.7 24.7h0"/><path stroke="#0033ff" d="M154.6 130.6h0M191.9 136.8h0M203.6 19.5h0M163.6 29.7h0M228.4 4.2h0M215.6 56.9h0"/><path stroke="#0000ff" d="M179.0 142.1h0M164.3 136.3h0"/><path stroke="#00b2ff" d="M211.1 60.3h0M148.8 86.3h0M160.1 139.8h0M102.0 69.0h0M120.0 39.8h0M112.6 79.6h0M176.1 42.5h0M207.7 -0.6h0M169.2 16.9h0M119.0 56.5h0M233.1 58.9h0M127.4 85.2h0M163.4 18.6h0M140.2 19.6h0M215.3 9.3h0M185.7 37.3h0M181.4 4.6h0M108.1 17.1h0M150.2 1.6h0M125.6 30.0h0M186.6 28.5h0M180.1 32.1h0M70.4 2.5h0M203.9 1.4h0M141.1 55.3h0M199.5 37.6h0M132.4 35.9h0M162.4 103.1h0M157.2 29.1h0M139.7 49.4h0M197.6 32.3h0M143.4 49.5h0M107.8 49.8h0M125.6 71.6h0M225.5 60.9h0M194.8 39.7h0M134.9 79.2h0M184.1 64.0h0"/><path stroke="#b3ff4c" d="M160.4 53.5h0M202.7 87.6h0"/><path stroke="#66ff99" d="M218.7 75.4h0M123.9 87.4h0M106.7 26.1h0M93.2 20.1h0M149.2 144.7h0M139.3 57.2h0M105.5 38.4h0M135.0 74.8h0M88.1 30.0h0M213.5 118.8h0M210.9 72.9h0M162.6 51.5h0M187.6 35.9h0M214.1 80.2h0"/><path stroke="#0066ff" d="M185.3 41.7h0M206.7 26.0h0M124.9 1.0h0M152.8 28.5h0M198.1 123.9h0M169.2 0.7h0M214.3 46.0h0M163.4 146.8h0M160.2 18.6h0M179.3 90.3h0M135.7 18.9h0M164.6 6.5h0M229.8 19.2h0M144.4 18.7h0M216.8 61.1h0M219.5 21.5h0"/><path stroke="#ccff33" d="M205.8 98.9h0M221.7 84.5h0M212.7 76.9h0M224.4 132.2h0"/><path stroke="#4dffb2" d="M233.2 125.2h0M233.2 96.1h0M111.0 13.9h0M138.8 72.3h0M231.4 69.2h0M173.1 51.7h0M121.2 32.5h0M116.5 28.5h0M84.1 6.2h0M189.6 79.7h0M83.5 27.4h0"/><path stroke="#ffe500" d="M228.6 119.2h0M213.7 89.7h0"/><path stroke="#00e5ff" d="M147.1 23.6h0M135.3 70.0h0M182.1 64.4h0M200.6 46.8h0M167.5 67.3h0M155.7 41.2h0M149.2 45.2h0M232.0 67.3h0M106.7 72.6h0M113.8 11.4h0M173.3 6.6h0M88.6 13.8h0M98.9 17.3h0M195.7 90.5h0M146.5 54.2h0M106.3 24.5h0M111.1 60.4h0M100.0 64.8h0M180.9 -0.5h0M123.7 0.0h0M193.6 42.7h0"/><path stroke="#ffff00" d="M213.4 95.6h0"/><path stroke="#33ffcc" d="M77.4 11.0h0M176.6 87.9h0M199.1 90.0h0M78.0 17.5h0M99.1 38.5h0M198.2 96.8h0M103.9 -0.3h0M161.4 82.4h0M223.8 78.7h0M99.6 49.2h0M108.2 54.2h0M172.7 69.2h0M200.4 86.9h0M206.2 76.2h0M149.8 41.8h0M209.3 -0.2h0"/><path stroke="#80ff80" d="M93.0 50.1h0M197.7 71.8h0M114.5 39.1h0M158.0 53.5h0M167.5 52.4h0M225.1 94.2h0"/><path stroke="#1affe5" d="M215.1 118.9h0M192.2 -0.3h0M105.0 59.2h0M228.6 79.0h0M112.6 4.7h0M134.4 81.8h0M181.5 79.5h0M151.7 26.4h0M121.1 36.4h0M182.8 62.8h0M113.6 34.8h0M90.3 31.5h0M125.7 33.5h0M147.5 1.3h0"/><path stroke="#0000b2" d="M126.8 50.0h0"/><path stroke="#0000e6" d="M152.9 99.2h0M132.5 21.4h0"/><path stroke="#0019ff" d="M179.4 132.1h0M175.4 140.0h0M212.2 21.4h0M223.0 56.1h0M223.8 47.8h0M202.6 27.7h0"/><path stroke="#0080ff" d="M210.0 38.5h0M157.9 4.6h0M153.7 100.5h0M213.5 39.5h0M161.1 -0.6h0M166.5 131.6h0M183.6 132.2h0M155.9 25.9h0M173.5 92.3h0M188.0 23.3h0M127.3 6.7h0M165.6 145.9h0M231.9 47.6h0M199.2 -0.3h0"/><path stroke="#004dff" d="M138.2 27.0h0M192.5 138.9h0M180.9 95.5h0M128.6 38.7h0M219.7 11.1h0M164.6 144.2h0M179.9 11.0h0M161.6 128.2h0M149.4 98.7h0M169.7 93.8h0M128.2 42.5h0M224.8 -0.3h0M169.1 140.1h0M158.9 12.2h0M169.5 38.8h0M120.2 -0.3h0M213.9 36.8h0"/><path stroke="#0000cc" d="M197.1 137.8h0M170.4 144.0h0M135.0 23.3h0M127.5 47.3h0M201.1 133.9h0M155.8 129.9h0"/><path stroke="#00ccff" d="M195.5 48.8h0M168.2 27.1h0M170.1 2.4h0M172.4 89.9h0M141.4 66.0h0M209.0 41.8h0M92.3 -0.3h0M148.8 37.6h0M171.3 96.9h0M220.3 66.2h0M119.7 85.3h0M137.7 60.1h0M105.1 6.4h0M233.3 65.4h0M87.6 7.2h0M77.0 16.5h0M166.0 32.1h0M109.7 77.0h0M130.3 36.8h0M137.7 34.3h0M164.0 84.9h0M231.6 82.7h0M160.6 14.3h0M218.0 7.1h0"/><path stroke="#b3ff4c" d="M223.1 101.3h0M209.3 120.0h0M233.2 100.8h0M225.5 128.2h0"/><path stroke="#33ffcc" d="M155.9 71.6h0M164.5 71.4h0M109.9 66.9h0M151.6 86.6h0M177.4 80.0h0M103.6 36.2h0M113.2 -0.3h0M161.9 61.9h0M179.0 71.9h0M97.3 39.9h0M143.8 39.7h0M139.6 81.0h0M118.2 60.2h0M215.3 125.4h0M173.5 59.3h0"/><path stroke="#00b2ff" d="M135.4 67.7h0M171.8 86.7h0M193.7 69.0h0M108.3 59.0h0M176.2 31.6h0M149.8 62.9h0M221.0 37.7h0M151.4 69.7h0M164.7 82.3h0M183.8 54.7h0M153.0 -0.9h0M205.1 42.6h0M152.0 34.8h0M174.3 36.6h0M81.1 5.9h0M165.9 39.9h0M100.9 55.3h0M112.2 32.4h0M141.2 85.0h0M180.5 92.2h0M207.9 31.2h0M131.6 84.9h0M117.0 39.3h0M147.7 67.8h0M139.0 46.1h0"/><path stroke="#0080ff" d="M203.5 36.4h0M161.8 101.3h0M189.2 127.5h0M158.0 38.8h0M202.3 133.0h0M184.0 38.5h0M193.4 39.5h0M221.0 3.5h0M167.5 6.3h0M158.2 19.9h0M198.3 23.4h0M177.7 14.9h0M176.3 8.6h0M79.2 3.5h0M185.4 96.2h0M130.6 1.8h0M228.9 12.7h0M166.1 28.9h0M135.2 10.0h0M188.0 139.9h0M209.6 27.6h0M141.1 8.9h0M148.4 42.6h0M194.8 64.2h0M187.7 43.5h0"/><path stroke="#0099ff" d="M216.5 20.9h0M211.9 26.2h0M163.7 38.4h0M140.2 85.9h0M195.3 28.3h0M206.4 66.6h0M180.9 18.8h0M169.1 98.0h0M199.4 137.1h0M188.0 47.7h0M233.2 59.0h0M134.8 59.4h0M188.2 92.8h0M186.2 14.7h0M168.0 87.0h0M231.9 12.3h0M193.5 94.5h0M90.4 9.4h0M183.6 101.6h0M189.7 28.9h0M233.1 45.0h0M172.8 33.6h0M148.5 35.0h0M159.2 148.2h0M161.5 147.3h0M132.7 40.9h0M233.5 3.7h0"/><path stroke="#0019ff" d="M138.2 23.4h0M128.1 22.1h0M122.7 40.2h0M183.9 134.3h0"/><path stroke="#0066ff" d="M156.3 6.8h0M231.0 52.1h0M134.3 29.6h0M161.7 21.4h0M221.2 6.6h0M233.0 10.1h0M171.9 42.6h0M231.8 -0.3h0M118.0 24.2h0M131.1 6.6h0M128.7 59.1h0M187.8 128.0h0M119.8 47.6h0M177.5 25.9h0M211.9 37.8h0M173.5 97.5h0"/><path stroke="#000099" d="M186.1 135.7h0"/><path stroke="#00ccff" d="M118.3 4.7h0M191.1 61.6h0M98.4 6.9h0M187.8 62.8h0M159.7 -0.3h0M154.2 3.3h0M189.2 94.8h0M196.5 92.5h0M104.2 21.5h0M154.8 13.5h0M232.4 2.2h0M167.9 61.1h0M129.9 69.9h0M175.9 48.8h0M108.4 -0.4h0M176.0 36.5h0M211.8 32.4h0M152.9 53.7h0M129.8 82.5h0M185.0 3.9h0M181.5 89.0h0M230.0 71.0h0M182.4 46.2h0M155.4 23.4h0M152.1 44.5h0M147.0 85.2h0M192.0 14.9h0M137.0 57.1h0M227.0 -0.9h0M181.8 33.3h0"/><path stroke="#00ffff" d="M147.7 57.3h0M154.3 83.5h0M223.0 7.3h0M102.2 3.9h0M171.0 62.2h0M160.1 84.9h0M143.6 34.7h0M108.6 73.9h0M180.3 26.2h0M202.4 70.2h0M80.2 9.6h0M116.2 82.4h0M159.1 47.1h0M91.0 -0.3h0M187.3 3.4h0M171.8 72.5h0M111.3 48.7h0M217.8 67.2h0M202.0 61.6h0M194.6 97.9h0M182.5 82.4h0M202.1 67.9h0M178.7 18.3h0M169.1 74.7h0M134.5 40.0h0M160.0 24.6h0M108.1 29.5h0M147.7 146.3h0"/><path stroke="#0000ff" d="M70.0 1.8h0M124.0 21.6h0M131.2 54.3h0"/><path stroke="#0000cc" d="M160.4 129.0h0M189.4 130.5h0"/><path stroke="#004dff" d="M192.5 125.4h0M73.7 -0.3h0M223.3 17.4h0M229.9 54.3h0M185.0 21.5h0M137.2 30.2h0M150.8 6.7h0M158.1 129.5h0M184.2 100.1h0M157.4 -0.6h0M222.0 14.2h0M217.5 16.5h0M213.6 4.8h0"/><path stroke="#4dffb2" d="M100.8 46.1h0M109.7 37.8h0M231.2 130.6h0M172.7 85.3h0M150.2 142.4h0M220.8 79.6h0M111.1 7.6h0M199.0 100.5h0M192.0 0.9h0M95.0 54.3h0M174.4 72.3h0M90.4 45.3h0M213.6 83.9h0M189.6 63.7h0M226.6 131.7h0M154.6 81.8h0M114.0 29.1h0M167.6 134.4h0"/><path stroke="#00e5ff" d="M153.1 88.3h0M108.0 62.8h0M144.8 85.6h0M199.1 39.6h0M105.1 32.6h0M171.7 82.3h0M128.3 81.3h0M124.2 74.3h0M129.4 3.7h0M98.3 46.8h0M162.3 71.5h0M144.3 85.2h0M123.1 63.8h0M172.6 30.0h0M116.8 57.6h0M182.2 71.8h0"/><path stroke="#0000e6" d="M138.4 22.1h0M124.7 41.4h0M165.9 41.9h0M145.6 20.9h0"/><path stroke="#1affe5" d="M110.0 52.4h0M145.4 74.6h0M183.1 75.0h0M142.4 57.7h0M187.6 78.6h0M142.9 45.3h0M96.1 43.4h0M191.0 77.0h0M106.2 -0.3h0M93.1 11.7h0M136.3 77.4h0M193.7 83.8h0M152.8 61.7h0M155.0 49.6h0M113.9 42.1h0M145.5 139.5h0M216.7 74.0h0M230.3 123.9h0"/><path stroke="#66ff99" d="M111.8 84.8h0M92.8 27.6h0M101.5 17.1h0M96.5 47.7h0M80.3 20.0h0M233.5 103.9h0M170.6 69.9h0M217.2 101.2h0M103.8 52.1h0M99.7 29.5h0M223.1 76.1h0"/><path stroke="#80ff80" d="M213.9 77.3h0M200.8 99.5h0M79.0 20.7h0M233.2 91.5h0M85.0 33.3h0M173.0 53.9h0M164.2 55.3h0M171.0 133.0h0M233.1 75.2h0"/><path stroke="#99ff66" d="M230.5 105.0h0M76.0 14.4h0M210.8 135.3h0M219.9 133.3h0"/><path stroke="#ccff33" d="M88.0 39.6h0M212.1 86.0h0M200.7 97.7h0M228.4 100.2h0"/><path stroke="#0033ff" d="M204.6 15.2h0M143.4 -0.3h0M199.5 17.5h0M186.0 53.7h0M190.3 139.4h0M197.1 126.4h0M159.6 21.4h0M195.1 131.8h0"/><path stroke="#e5ff1a" d="M218.4 93.9h0"/><path stroke="#0033ff" d="M212.9 9.9h0M166.8 33.5h0M215.1 54.2h0M192.0 125.9h0M206.6 21.7h0M219.1 19.0h0M132.7 29.3h0M136.7 7.2h0M160.2 135.2h0"/><path stroke="#b3ff4c" d="M203.7 84.3h0M213.7 72.4h0M225.7 98.0h0"/><path stroke="#004dff" d="M146.2 9.9h0M216.7 41.0h0M161.2 9.2h0M176.7 142.6h0M77.1 4.5h0M199.8 11.6h0M77.9 5.8h0M196.6 41.4h0M191.3 132.5h0M119.8 51.4h0M228.9 37.4h0M145.0 17.0h0M199.3 137.3h0M180.2 13.5h0M148.5 19.3h0M94.6 -0.3h0M214.9 21.5h0M216.6 40.2h0M188.9 97.9h0M229.6 51.4h0"/><path stroke="#0000cc" d="M127.1 45.0h0"/><path stroke="#0099ff" d="M217.1 11.4h0M177.0 20.9h0M103.4 38.6h0M169.9 24.4h0M186.8 8.9h0M233.1 42.7h0M215.1 24.3h0M232.4 54.4h0M176.4 103.3h0M109.5 2.2h0M200.5 1.8h0M187.9 42.1h0M229.4 -0.3h0M176.9 103.1h0M192.8 44.2h0M187.5 90.3h0M159.2 77.0h0M102.2 59.9h0M178.0 4.3h0M123.2 34.1h0M158.0 84.4h0M179.2 42.4h0M163.3 80.3h0M112.8 17.7h0"/><path stroke="#0000ff" d="M230.0 38.7h0M213.4 14.2h0M153.4 12.5h0M177.2 142.0h0M199.0 129.6h0"/><path stroke="#1affe5" d="M82.1 25.2h0M120.6 34.3h0M205.5 16.9h0M89.6 22.7h0M136.0 86.5h0M120.2 85.1h0M135.8 64.5h0M83.6 14.7h0M196.3 46.7h0M115.4 51.6h0M156.9 66.1h0M147.4 79.1h0M134.0 62.5h0M148.0 51.0h0M201.3 99.9h0M83.7 16.7h0M93.4 37.7h0M136.8 51.1h0M87.7 11.0h0M176.6 77.8h0"/><path stroke="#00e5ff" d="M213.0 33.9h0M195.5 15.1h0M131.7 49.6h0M137.0 78.8h0M219.9 39.2h0M110.9 -0.3h0M110.5 12.3h0M172.8 64.3h0M175.2 23.4h0M183.6 76.4h0M229.3 86.4h0M191.9 37.4h0M206.9 44.9h0M145.8 45.0h0M225.9 102.9h0M145.8 69.0h0M186.7 48.6h0M176.3 11.2h0"/><path stroke="#ccff33" d="M233.0 121.9h0M209.3 91.2h0M75.0 12.3h0"/><path stroke="#33ffcc" d="M142.7 51.5h0M225.3 122.4h0M185.0 85.5h0M216.7 121.2h0M126.4 65.1h0M233.2 122.9h0M109.6 40.0h0M157.4 81.3h0M196.8 101.0h0M168.8 132.3h0M195.1 61.6h0M175.6 64.9h0M100.8 26.9h0M96.8 55.0h0M199.2 84.2h0M109.4 80.3h0M169.0 79.5h0M233.2 84.5h0M107.0 79.5h0"/><path stroke="#4dffb2" d="M227.5 84.0h0M98.0 36.9h0M202.3 82.9h0M150.4 77.7h0M105.3 35.3h0M171.8 51.7h0M96.6 57.9h0M208.7 132.0h0M183.6 70.1h0M211.1 94.5h0M152.1 137.4h0M162.4 57.1h0"/><path stroke="#0000b2" d="M159.9 130.6h0"/><path stroke="#0066ff" d="M233.3 43.8h0M129.1 54.5h0M157.9 102.4h0M144.9 31.9h0M211.2 14.6h0M154.6 5.9h0M144.7 12.1h0M192.0 5.7h0M129.7 9.6h0M74.4 1.2h0M174.4 4.1h0M180.6 99.7h0M119.5 45.2h0M206.4 61.7h0M157.6 102.3h0M187.5 130.6h0"/><path stroke="#00ccff" d="M190.5 88.7h0M165.2 16.3h0M103.6 2.0h0M176.0 20.0h0M229.6 67.2h0M132.5 56.6h0M153.6 141.5h0M190.0 59.2h0M198.4 123.3h0M200.7 31.8h0M158.0 144.4h0M175.2 83.8h0M118.7 26.4h0M169.4 63.8h0M94.9 2.2h0M233.0 3.1h0M151.7 52.4h0M161.4 47.2h0M119.7 -0.2h0M171.3 -0.3h0M158.7 79.7h0M98.0 60.6h0M195.6 124.1h0M203.9 -0.3h0M182.7 42.5h0"/><path stroke="#0019ff" d="M78.3 1.5h0M181.9 135.4h0M164.8 135.5h0M179.3 136.5h0M164.3 143.0h0M179.6 132.4h0M126.7 52.6h0M140.2 24.4h0M193.3 134.3h0M121.8 41.2h0"/><path stroke="#000080" d="M73.5 0.7h0M190.7 135.1h0"/><path stroke="#00b2ff" d="M186.5 47.7h0M188.5 26.9h0M94.1 8.7h0M222.8 36.4h0M141.2 40.9h0M121.4 82.4h0M98.2 1.3h0M142.0 71.9h0M174.9 21.7h0M196.1 4.9h0M83.5 8.5h0M97.0 58.5h0M143.1 53.5h0M108.5 14.7h0M153.2 1.4h0M215.5 -0.3h0M230.0 24.3h0M142.1 36.3h0M167.1 103.1h0M182.4 1.1h0M135.2 15.1h0M160.1 42.0h0M136.5 81.3h0M179.3 102.3h0M209.1 47.4h0M221.9 63.9h0M132.1 39.8h0M191.6 102.8h0M99.2 9.9h0M140.8 35.1h0M123.9 6.0h0"/><path stroke="#ffcc00" d="M226.8 117.6h0"/><path stroke="#0080ff" d="M148.7 30.8h0M230.4 9.5h0M212.3 58.9h0M199.0 14.4h0M220.1 0.8h0M216.4 49.1h0M228.6 19.3h0M204.2 3.3h0M102.0 69.0h0M174.6 32.0h0M182.3 27.1h0M233.0 7.8h0M158.8 101.6h0M200.5 25.8h0M154.5 29.7h0M180.5 29.4h0M125.2 26.5h0M221.2 50.1h0M110.1 16.6h0M229.9 42.6h0M213.5 48.4h0M194.0 26.6h0M201.6 9.3h0M230.0 14.3h0"/><path stroke="#80ff80" d="M185.6 67.1h0M113.6 44.4h0M171.8 74.9h0M226.8 95.5h0M222.3 124.3h0M86.2 18.6h0M77.4 13.5h0M212.7 120.2h0M233.2 127.6h0M224.2 99.5h0"/><path stroke="#00ffff" d="M118.0 50.1h0M194.9 91.1h0M101.3 37.6h0M181.7 56.1h0M196.9 -0.3h0M198.2 1.5h0M163.4 68.5h0M172.0 16.0h0M145.8 145.7h0M152.8 27.4h0M146.9 29.3h0M99.4 56.8h0M205.2 121.6h0"/><path stroke="#99ff66" d="M219.4 99.3h0M228.4 126.5h0M231.0 95.6h0M215.3 134.4h0M223.8 82.7h0"/><path stroke="#0000e6" d="M150.3 97.0h0M136.7 5.1h0M225.4 56.3h0M226.2 47.5h0"/><path stroke="#66ff99" d="M99.0 34.1h0M170.3 132.6h0M108.0 47.4h0M219.4 121.9h0M169.5 48.9h0M223.9 132.8h0M198.1 66.3h0M232.5 126.6h0M84.3 31.5h0"/><path stroke="#e5ff1a" d="M215.6 87.6h0"/><path stroke="#0099ff" d="M185.7 103.4h0M186.8 34.3h0M214.0 28.3h0M148.8 97.7h0M151.5 99.5h0M178.3 -0.3h0M146.3 39.9h0M118.3 7.2h0M167.2 47.5h0M173.4 61.6h0M132.1 79.9h0M142.8 17.7h0M191.6 26.2h0M136.3 71.1h0M208.5 6.8h0M233.6 14.8h0M143.7 28.5h0M172.0 92.5h0M232.7 88.0h0M177.0 1.1h0M148.7 27.5h0M170.3 13.7h0M229.9 44.6h0M233.2 77.5h0M233.1 24.1h0"/><path stroke="#0000e6" d="M123.6 49.4h0M215.8 44.7h0M123.2 43.6h0"/><path stroke="#0000ff" d="M228.7 56.3h0M122.9 18.4h0M188.2 137.9h0M71.9 -0.5h0"/><path stroke="#00ffff" d="M173.2 20.1h0M170.6 21.4h0M110.8 62.8h0M209.7 19.4h0M206.3 32.3h0M195.6 94.4h0M228.8 62.8h0M154.9 39.5h0M151.5 21.7h0M182.0 74.7h0M118.1 72.9h0M203.6 44.8h0M183.3 14.8h0M222.7 122.5h0M233.2 89.2h0M148.9 80.2h0M106.0 77.4h0M97.0 24.8h0M127.7 36.3h0"/><path stroke="#0066ff" d="M214.0 41.7h0M230.3 48.5h0M177.5 9.2h0M147.0 3.5h0M220.8 57.0h0M193.4 18.9h0M179.0 16.8h0M216.9 -0.3h0M148.7 7.5h0M225.1 44.2h0M188.0 103.4h0M223.0 1.1h0"/><path stroke="#99ff66" d="M171.0 56.9h0M231.3 120.7h0M91.3 19.8h0M218.5 90.4h0"/><path stroke="#66ff99" d="M219.2 124.0h0M174.4 58.4h0M87.9 23.9h0M86.4 29.8h0M217.1 96.2h0M89.8 26.3h0M220.5 102.1h0M160.1 61.3h0M103.3 29.3h0M84.3 20.8h0M231.9 72.3h0"/><path stroke="#ccff33" d="M211.2 90.5h0M220.8 96.3h0M213.0 99.1h0M221.8 94.5h0M230.6 120.3h0M221.5 74.0h0"/><path stroke="#0080ff" d="M117.3 19.1h0M180.7 43.5h0M203.3 17.3h0M224.9 10.1h0M90.6 4.9h0M164.3 -0.3h0M233.1 38.0h0M96.9 -0.3h0M176.0 -0.3h0M136.3 12.1h0M170.2 9.7h0M184.2 48.4h0M166.7 -0.3h0M199.6 127.3h0M184.1 60.0h0M141.6 74.4h0M203.9 136.4h0M217.9 52.5h0M222.7 21.9h0M99.8 64.6h0M189.5 99.5h0M201.6 40.3h0"/><path stroke="#00e5ff" d="M112.2 26.0h0M167.8 71.9h0M176.0 137.1h0M149.4 86.2h0M170.7 46.9h0M189.4 3.4h0M113.8 83.7h0M148.1 82.5h0M233.1 70.6h0M141.9 32.7h0M233.1 65.9h0M211.6 46.2h0M182.3 52.8h0M196.2 24.3h0M99.2 -0.3h0M185.3 51.3h0M110.6 54.8h0M208.5 -0.3h0"/><path stroke="#33ffcc" d="M83.2 11.9h0M192.6 74.2h0M96.9 59.4h0M187.7 64.1h0M105.0 47.4h0M225.8 77.7h0M105.1 69.7h0M82.7 18.9h0M231.0 77.0h0M177.5 48.5h0M139.2 62.3h0M175.9 52.3h0M209.5 134.9h0M93.8 33.9h0M150.3 146.9h0"/><path stroke="#00ccff" d="M137.0 86.8h0M105.3 17.6h0M194.4 66.9h0M103.0 71.1h0M151.0 37.1h0M111.2 72.6h0M175.2 38.7h0M138.5 32.1h0M190.3 103.4h0M207.8 1.4h0M102.4 66.3h0M170.8 67.8h0M231.3 22.4h0M184.8 86.8h0M194.3 101.9h0M181.8 68.6h0M177.7 92.3h0M108.0 81.6h0M209.5 9.5h0M143.7 78.5h0M158.0 24.1h0M92.6 0.9h0M179.1 43.4h0M155.7 33.5h0M233.1 63.6h0M217.3 2.1h0M131.1 64.1h0M161.9 41.9h0M157.1 35.1h0M136.4 36.2h0M147.0 14.6h0M119.6 69.4h0M130.0 67.0h0M150.0 138.0h0M112.4 7.2h0M149.4 23.5h0M162.1 31.9h0"/><path stroke="#0033ff" d="M233.1 33.4h0M229.3 46.1h0M190.9 18.5h0M70.6 3.8h0M231.6 36.8h0M77.6 -0.4h0M224.1 49.7h0"/><path stroke="#ffff00" d="M210.8 79.3h0M215.8 89.0h0"/><path stroke="#0019ff" d="M71.3 -0.3h0M126.0 19.8h0M214.5 2.6h0M233.0 14.8h0"/><path stroke="#b3ff4c" d="M218.4 77.7h0M219.7 118.7h0M202.8 98.0h0M87.0 37.5h0M202.2 95.0h0M86.7 30.9h0M212.3 132.0h0"/><path stroke="#4dffb2" d="M84.9 33.9h0M120.0 4.2h0M99.0 27.7h0M90.4 35.2h0M209.6 62.2h0M89.4 40.0h0M127.8 66.6h0M201.4 78.8h0M217.3 127.3h0M115.9 46.1h0"/><path stroke="#004dff" d="M166.4 139.4h0M194.9 21.8h0M147.4 12.7h0M185.1 16.2h0M172.4 24.9h0M227.3 43.6h0M225.8 17.5h0M157.3 133.8h0M198.1 10.9h0M137.4 -0.9h0M156.6 133.1h0M180.3 21.6h0M181.0 24.5h0M152.9 14.3h0M71.0 3.9h0"/><path stroke="#1affe5" d="M97.9 29.2h0M115.9 66.4h0M150.0 146.7h0M113.7 51.0h0M105.2 26.9h0M102.7 25.1h0M109.7 46.2h0M128.5 79.7h0M116.6 41.8h0M147.3 142.3h0M110.7 44.3h0M195.3 100.3h0M83.0 29.1h0M189.2 82.0h0M185.0 80.3h0M233.2 82.2h0M155.5 145.3h0M222.1 129.7h0M99.4 43.4h0M102.2 31.1h0M207.5 134.2h0M100.8 23.4h0M184.2 0.1h0M175.2 79.3h0"/><path stroke="#00b2ff" d="M144.2 61.0h0M118.0 44.7h0M148.6 65.0h0M156.6 76.3h0M171.5 31.6h0M140.0 52.2h0M227.1 -0.3h0M127.1 -0.3h0M178.8 34.6h0M147.4 62.8h0M150.2 11.6h0M192.8 9.1h0M221.2 19.9h0M115.2 75.2h0M210.8 -0.3h0M182.1 31.2h0M233.4 49.2h0M202.1 34.7h0M164.8 24.8h0M225.2 1.2h0M178.6 25.0h0M131.8 -0.3h0M164.5 12.2h0M139.6 65.1h0M191.5 16.2h0M204.1 124.5h0M161.7 76.2h0M150.4 -0.3h0"/><path stroke="#80ff80" d="M183.4 66.9h0M219.4 101.9h0M209.4 71.5h0M204.7 93.7h0M219.0 70.3h0M110.1 42.7h0M222.1 119.5h0M91.9 40.2h0M224.7 130.2h0"/><path stroke="#e5ff1a" d="M215.1 96.3h0M171.6 134.9h0M221.6 88.6h0M219.9 77.0h0"/><path stroke="#b3ff4c" d="M205.3 86.1h0"/><path stroke="#66ff99" d="M212.7 130.1h0M95.3 52.3h0M155.0 59.9h0M96.7 19.2h0M219.9 126.5h0M231.4 75.2h0M155.8 44.9h0M113.0 47.4h0M224.3 103.6h0M150.9 66.5h0M221.6 102.6h0"/><path stroke="#0000e6" d="M131.4 25.2h0M177.4 140.2h0M186.5 131.7h0"/><path stroke="#00b2ff" d="M190.1 34.0h0M159.0 31.4h0M195.2 32.5h0M187.9 60.2h0M168.5 12.3h0M168.7 90.5h0M181.0 103.3h0M180.7 57.9h0M204.3 9.1h0M165.0 47.7h0M166.6 43.7h0M112.3 71.0h0M84.4 1.9h0M103.4 72.3h0M177.8 47.6h0M215.2 18.7h0M180.5 8.7h0M156.1 -0.8h0M186.2 74.2h0M157.2 21.6h0M182.9 -0.3h0M172.3 43.6h0"/><path stroke="#0000b2" d="M122.0 47.6h0"/><path stroke="#00ccff" d="M233.1 40.3h0M137.0 39.5h0M105.3 13.7h0M111.5 10.0h0M132.8 34.2h0M101.0 66.9h0M133.5 47.6h0M113.2 1.5h0M139.0 40.8h0M144.0 63.7h0M153.7 41.8h0M221.3 62.8h0M137.7 48.9h0M199.2 41.9h0M168.6 31.3h0M145.6 73.0h0M219.3 65.3h0M121.4 77.1h0M87.0 1.8h0M184.0 28.3h0M174.0 82.6h0M200.8 125.2h0M207.4 39.3h0M196.2 59.1h0M194.3 6.2h0M174.2 41.9h0"/><path stroke="#0000ff" d="M185.8 140.4h0M175.6 94.6h0M213.6 32.6h0M162.8 141.4h0"/><path stroke="#ffe500" d="M207.5 79.5h0"/><path stroke="#80ff80" d="M169.6 133.9h0M201.6 73.9h0M103.4 34.4h0M209.5 127.9h0M168.0 56.0h0M91.9 13.9h0M212.5 69.7h0M231.5 92.0h0"/><path stroke="#ccff33" d="M214.0 132.4h0M219.4 86.4h0M219.4 91.4h0M222.6 92.1h0"/><path stroke="#4dffb2" d="M111.1 34.1h0M80.3 14.9h0M96.9 13.5h0M84.0 31.2h0M203.0 76.6h0M215.7 79.4h0M195.4 34.3h0M108.8 43.6h0M129.6 72.7h0M136.8 69.7h0M117.7 34.7h0M205.4 72.2h0M233.2 98.5h0M88.6 35.1h0"/><path stroke="#1affe5" d="M205.0 122.0h0M112.3 70.0h0M82.2 15.8h0M87.7 37.3h0M102.1 64.2h0M151.7 49.0h0M200.6 76.0h0M152.8 74.3h0M192.5 103.0h0M96.0 56.4h0M160.2 2.3h0M177.2 72.2h0M112.4 63.8h0M106.2 44.5h0M200.9 44.7h0M233.2 129.9h0M233.2 86.8h0M115.6 26.9h0M115.5 -0.3h0M160.4 64.3h0M108.5 -0.3h0M123.8 69.2h0M92.9 31.9h0M205.0 73.7h0M177.3 69.2h0"/><path stroke="#00ffff" d="M176.9 81.6h0M110.1 56.2h0M93.7 21.8h0M85.3 -0.3h0M108.0 24.3h0M145.2 46.8h0M93.2 4.6h0M198.2 64.9h0M168.6 3.6h0M197.3 82.6h0M113.9 66.0h0M125.6 69.5h0M91.9 46.4h0M168.8 77.0h0M170.8 101.2h0M127.5 2.0h0M213.1 19.0h0M99.1 32.7h0M110.7 85.0h0M90.0 43.8h0M144.9 42.2h0M112.8 61.1h0M228.3 88.6h0M152.1 144.3h0M228.8 91.9h0"/><path stroke="#0000cc" d="M163.7 139.2h0"/><path stroke="#33ffcc" d="M216.6 69.4h0M224.7 -0.1h0M227.7 130.6h0M93.1 41.5h0M79.2 21.0h0M232.6 104.9h0M147.7 138.9h0M230.1 130.2h0M225.4 72.1h0M203.6 71.5h0M145.7 142.6h0M199.3 67.1h0M100.8 6.7h0M211.9 98.0h0M118.5 82.2h0M114.2 64.2h0M188.0 0.8h0M205.6 2.0h0M142.8 77.2h0M109.5 34.6h0M225.6 73.9h0"/><path stroke="#0099ff" d="M179.1 29.2h0M76.0 -0.3h0M204.1 40.0h0M119.3 42.1h0M232.8 62.2h0M116.3 17.3h0M132.5 76.8h0M109.2 83.6h0M232.0 7.2h0M205.4 132.1h0M226.7 14.7h0M125.5 77.9h0M154.9 134.7h0M169.4 103.2h0M184.6 91.4h0M161.2 145.6h0"/><path stroke="#00e5ff" d="M84.8 -0.9h0M103.8 66.9h0M156.5 36.5h0M112.4 22.0h0M152.8 77.9h0M179.2 39.1h0M149.6 58.6h0M188.2 21.6h0M179.4 76.1h0M119.7 58.8h0M111.6 19.3h0M154.6 147.5h0M184.7 88.7h0M96.3 17.7h0M207.9 68.9h0M125.2 31.3h0M148.9 -0.7h0M177.2 6.3h0M108.8 4.5h0M229.6 65.1h0M233.2 79.9h0M175.6 14.7h0"/><path stroke="#004dff" d="M143.8 25.2h0M197.7 134.1h0M202.2 136.9h0M221.7 59.2h0M206.7 13.6h0M168.8 22.3h0M130.2 27.3h0M142.2 27.1h0M226.3 42.1h0M132.4 26.3h0M139.8 6.7h0M144.2 14.5h0M137.2 2.0h0M218.5 9.5h0M167.4 99.6h0"/><path stroke="#0033ff" d="M188.6 132.5h0M219.6 58.9h0M195.0 8.9h0M218.8 54.4h0M172.2 143.7h0M204.0 30.0h0M194.3 136.3h0M200.0 131.8h0M227.4 65.4h0M170.4 100.4h0"/><path stroke="#0019ff" d="M227.1 10.2h0M221.1 44.8h0M119.9 21.3h0M129.9 20.9h0M228.2 23.3h0M224.6 59.5h0M174.0 103.2h0M233.0 19.4h0"/><path stroke="#99ff66" d="M233.2 103.1h0M207.8 122.4h0M222.9 96.6h0M205.8 91.9h0M228.6 81.2h0M232.8 120.9h0M156.0 56.0h0M230.3 105.2h0"/><path stroke="#0080ff" d="M80.3 2.0h0M197.6 16.2h0M233.1 47.3h0M183.5 141.0h0M173.0 102.3h0M109.5 20.1h0M186.4 136.7h0M83.0 -0.3h0M191.0 21.1h0M214.5 7.7h0M158.8 66.8h0M116.9 21.6h0M189.9 126.9h0M190.7 91.6h0M125.0 51.0h0M203.4 6.5h0M149.9 49.0h0M189.3 13.8h0M199.8 61.1h0M211.4 5.9h0M167.4 10.0h0M161.4 49.7h0M166.3 36.3h0"/><path stroke="#0066ff" d="M203.7 129.4h0M221.2 52.7h0M173.2 38.4h0M157.9 9.1h0M212.2 52.2h0M152.4 19.1h0M208.1 29.4h0M152.7 -0.3h0M158.3 100.2h0M187.2 139.4h0M72.0 6.0h0M161.6 39.5h0M159.0 17.4h0M196.2 124.0h0M233.0 21.7h0"/><path stroke="#ffcc00" d="M218.0 86.7h0M223.8 119.8h0"/></g>
<g clip-path="url(#fc)"><use href="#map"/></g>
</g>
<text class="b a" x="146.4" y="502">48<tspan dx="2.2" dy="-6.4" font-size="10">°</tspan><tspan dx="0.7" dy="6.4"> N</tspan></text><text class="b a" x="146.4" y="520.4">46<tspan dx="2.2" dy="-6.4" font-size="10">°</tspan><tspan dx="0.7" dy="6.4"> N</tspan></text><text class="b a" x="146.4" y="537.6">44<tspan dx="2.2" dy="-6.4" font-size="10">°</tspan><tspan dx="0.7" dy="6.4"> N</tspan></text><text class="b a" x="146.4" y="555.3">42<tspan dx="2.2" dy="-6.4" font-size="10">°</tspan><tspan dx="0.7" dy="6.4"> N</tspan></text><text class="b a" x="146.4" y="572.7">40<tspan dx="2.2" dy="-6.4" font-size="10">°</tspan><tspan dx="0.7" dy="6.4"> N</tspan></text><text class="b a" x="146.4" y="587.3">38<tspan dx="2.2" dy="-6.4" font-size="10">°</tspan><tspan dx="0.7" dy="6.4"> N</tspan></text><text class="b a" x="146.4" y="603.8">36<tspan dx="2.2" dy="-6.4" font-size="10">°</tspan><tspan dx="0.7" dy="6.4"> N</tspan></text><text class="b a" x="146.4" y="618.1">34<tspan dx="2.2" dy="-6.4" font-size="10">°</tspan><tspan dx="0.7" dy="6.4"> N</tspan></text><text class="b a" x="146.4" y="633.9">32<tspan dx="2.2" dy="-6.4" font-size="10">°</tspan><tspan dx="0.7" dy="6.4"> N</tspan></text><text class="b a" x="146.4" y="649.3">30<tspan dx="2.2" dy="-6.4" font-size="10">°</tspan><tspan dx="0.7" dy="6.4"> N</tspan></text><text class="b a" x="146.4" y="662.4">28<tspan dx="2.2" dy="-6.4" font-size="10">°</tspan><tspan dx="0.7" dy="6.4"> N</tspan></text><text class="b a" x="146.4" y="676.5">26<tspan dx="2.2" dy="-6.4" font-size="10">°</tspan><tspan dx="0.7" dy="6.4"> N</tspan></text><text class="b a" x="146.4" y="691.4">24<tspan dx="2.2" dy="-6.4" font-size="10">°</tspan><tspan dx="0.7" dy="6.4"> N</tspan></text><text class="b a" x="146.4" y="703.5">22<tspan dx="2.2" dy="-6.4" font-size="10">°</tspan><tspan dx="0.7" dy="6.4"> N</tspan></text><text class="b a" x="215.8" y="466.8">100<tspan dx="1.6" dy="-6.4" font-size="10">°</tspan><tspan dx="1" dy="6.4"> W</tspan></text><text class="b a" x="284.6" y="466.8">90<tspan dx="1.6" dy="-6.4" font-size="10">°</tspan><tspan dx="1" dy="6.4"> W</tspan></text><text class="b a" x="348.5" y="466.8">80<tspan dx="1.6" dy="-6.4" font-size="10">°</tspan><tspan dx="1" dy="6.4"> W</tspan></text><text class="b a" x="412" y="466.8">70<tspan dx="1.6" dy="-6.4" font-size="10">°</tspan><tspan dx="1" dy="6.4"> W</tspan></text>
<text class="b t" x="307.5" y="730.4" text-anchor="middle">SAT-RAP Negative Lifted Index</text>
<rect x="441.1" y="483.1" width="23.8" height="219.4" fill="url(#jet)" stroke="#262626" stroke-width="0.7"/><path d="M462.6 532.3H464.9" stroke="#262626" stroke-width="0.7"/><text class="b c" x="473.8" y="539.6">5</text><path d="M462.6 592.2H464.9" stroke="#262626" stroke-width="0.7"/><text class="b c" x="473.8" y="599.5">0</text><path d="M462.6 652.4H464.9" stroke="#262626" stroke-width="0.7"/><text class="b c" x="473.8" y="659.7">-5</text>
<g transform="translate(617.1 486.6) scale(1.0013 1.0009)">
<rect x="-0.9" y="-0.2" width="234.1" height="212.79999999999998" fill="none" stroke="#1c1c1c" stroke-width="1.1"/><g fill="none" stroke-linecap="round" stroke-width="6.0"><path stroke="#a8ff57" d="M213.1 119.4h0M209.8 118.4h0M218.8 129.1h0M211.0 118.5h0"/><path stroke="#faff05" d="M226.3 116.9h0M225.6 117.9h0"/><path stroke="#94ff6b" d="M152.6 143.8h0M170.4 136.3h0M145.8 144.4h0M224.6 124.0h0M154.7 140.2h0M154.0 147.5h0M210.6 119.5h0M229.9 120.3h0M171.9 133.1h0M151.3 142.7h0M147.2 138.8h0M144.6 141.8h0M145.5 142.1h0M149.6 146.8h0M152.6 147.4h0M153.3 141.5h0M151.6 137.5h0M168.1 136.9h0M216.9 124.3h0M226.4 120.4h0M146.9 139.3h0M146.9 142.3h0M143.9 144.0h0M151.8 147.2h0M143.7 143.4h0"/><path stroke="#e5ff1a" d="M228.0 118.4h0"/><path stroke="#80ff80" d="M181.7 57.8h0M93.5 50.0h0M215.3 54.8h0M225.8 103.4h0M102.5 34.6h0M122.3 68.7h0M169.2 93.0h0M232.0 19.0h0M102.0 24.7h0M202.3 33.2h0M143.6 32.3h0M233.0 82.0h0M158.7 103.0h0M180.6 61.3h0M194.6 4.1h0M181.7 102.7h0M186.1 24.8h0M201.0 5.9h0M159.0 74.5h0M195.6 98.0h0M170.7 23.9h0M198.9 46.7h0M137.9 71.7h0M218.0 4.2h0M127.3 85.6h0M178.4 98.4h0M135.3 13.4h0M183.3 37.1h0M188.1 67.3h0M222.3 6.3h0M107.5 75.8h0M228.7 97.4h0M124.1 81.1h0M219.1 67.3h0M144.6 10.3h0M233.3 77.2h0M205.6 94.1h0M175.8 142.4h0M149.2 42.4h0M201.3 10.4h0M218.9 53.1h0M137.9 -0.5h0M209.2 79.7h0M99.5 25.0h0M162.4 61.1h0M132.2 71.9h0M135.9 54.0h0M155.3 18.1h0M96.7 58.2h0M178.1 40.5h0M184.9 68.5h0M109.5 47.4h0M190.9 130.0h0M170.2 98.0h0M103.4 39.4h0M153.7 131.4h0M147.0 47.8h0M177.8 27.1h0M171.9 133.0h0M161.6 147.7h0M229.8 80.5h0M158.1 85.7h0M91.1 44.0h0M200.6 84.5h0M122.5 -0.5h0M212.9 70.8h0M212.8 61.2h0M205.1 4.6h0M153.4 15.1h0M157.2 33.1h0M138.4 31.2h0M183.0 93.7h0M145.2 43.1h0M162.8 27.6h0M233.3 63.7h0M166.5 4.4h0M78.6 18.7h0M227.7 37.3h0M230.9 94.0h0M162.9 66.4h0M232.8 53.1h0M148.1 8.7h0M213.4 8.5h0M156.7 84.3h0M216.7 36.1h0M179.2 66.8h0M80.7 0.4h0M209.1 98.0h0M131.3 84.0h0M194.9 102.2h0M156.9 65.9h0M204.3 73.2h0M102.6 30.6h0M217.0 37.5h0M120.9 76.5h0M163.5 102.6h0M220.3 20.8h0M212.5 76.6h0M171.8 137.2h0M202.0 136.9h0M128.4 25.2h0M225.2 23.5h0M175.7 89.5h0M159.1 20.6h0M225.4 96.6h0M213.8 60.3h0M194.2 40.8h0M191.6 5.6h0M193.0 25.8h0M170.9 39.2h0M123.1 25.4h0M232.2 88.5h0M214.2 73.1h0M100.1 15.3h0M70.6 3.6h0M210.2 65.9h0M153.0 135.9h0M156.1 68.5h0M168.9 91.3h0M156.9 60.0h0M92.4 5.6h0M177.4 30.6h0M166.4 10.8h0M229.5 57.5h0M111.5 35.5h0M164.8 146.4h0M143.6 43.4h0M182.0 94.2h0M189.3 78.0h0M93.8 52.1h0M194.4 84.5h0M135.4 73.7h0M128.0 40.0h0M233.2 25.6h0M143.7 28.8h0M135.3 85.6h0M153.7 56.7h0M186.9 103.6h0M100.4 65.1h0M201.3 1.7h0M147.9 98.0h0M168.7 95.5h0M127.3 42.3h0M157.9 11.1h0M153.8 5.3h0M192.9 90.8h0M199.4 18.6h0M203.2 -0.5h0M231.7 103.3h0M197.3 40.0h0M186.4 68.7h0M224.8 8.3h0M94.0 20.3h0M105.3 68.3h0M196.5 -0.5h0M100.9 62.5h0M192.9 17.7h0M113.2 5.2h0M200.3 29.8h0M204.3 84.3h0M142.1 79.3h0M188.6 56.6h0M194.2 -0.5h0M167.1 39.1h0M95.6 13.7h0M182.0 23.3h0M168.1 8.2h0M101.1 46.6h0M90.9 46.1h0M206.0 16.1h0M181.6 14.0h0M212.6 73.4h0M212.8 95.1h0M184.0 102.1h0M189.5 15.1h0M179.1 38.1h0M198.7 66.3h0M129.4 71.3h0M120.3 -0.5h0M171.2 144.2h0M138.2 57.0h0M210.1 124.2h0M172.9 142.4h0M195.5 74.8h0M156.4 5.6h0M193.3 95.8h0M99.9 20.4h0M226.6 6.2h0M84.2 31.9h0M160.7 34.9h0M201.9 3.6h0M76.8 5.8h0M220.7 68.8h0M97.9 0.7h0M226.7 65.3h0M150.8 49.8h0M84.6 7.7h0M193.1 28.5h0M141.8 83.7h0M208.9 34.3h0M229.1 40.4h0M126.8 37.9h0M175.6 143.1h0M219.0 42.0h0M193.6 43.1h0M167.4 65.1h0M154.9 22.2h0M205.6 122.2h0M166.1 32.6h0M180.0 142.0h0M82.8 26.1h0M131.0 40.7h0M177.7 82.2h0M159.8 62.2h0M186.8 39.6h0M158.7 142.1h0M143.2 67.5h0M211.5 64.4h0M204.6 70.7h0M219.7 34.8h0M225.9 99.0h0M225.1 69.4h0M172.3 40.6h0M177.9 103.5h0M73.5 9.6h0M93.7 1.3h0M203.1 11.6h0M131.2 46.3h0M194.3 1.7h0M110.9 10.3h0M176.7 77.4h0M144.2 29.7h0M108.6 2.0h0M187.5 -0.5h0M196.0 23.0h0M144.6 6.4h0M167.6 61.1h0M139.6 77.9h0M113.1 20.0h0M184.3 136.6h0M113.3 62.8h0M139.6 86.4h0M167.3 -0.5h0M88.0 40.0h0M210.3 17.3h0M185.9 33.7h0M134.1 9.5h0M208.5 99.5h0M219.8 9.2h0M200.1 27.9h0M100.3 40.5h0M139.8 61.2h0M128.5 52.8h0M175.0 80.8h0M200.8 122.8h0M229.3 59.3h0M211.5 13.9h0M142.9 71.9h0M211.3 25.6h0M199.7 100.5h0M212.5 50.3h0M170.4 102.2h0M181.6 74.5h0M119.7 20.6h0M146.4 23.3h0M212.7 5.6h0M221.8 86.1h0M221.4 43.4h0M115.9 77.3h0M114.9 40.6h0M92.4 35.5h0M204.4 98.2h0M174.1 -0.5h0M171.3 90.1h0M120.2 40.0h0M135.5 86.5h0M169.9 58.5h0M210.9 135.4h0M165.8 100.8h0M140.9 25.4h0M118.3 8.5h0M150.5 55.0h0M178.2 133.0h0M166.1 144.5h0M176.3 44.6h0M190.4 18.1h0M169.3 47.9h0M218.9 17.6h0M161.8 79.1h0M149.0 48.2h0M182.4 72.3h0M222.5 63.5h0M101.5 23.9h0M106.9 48.2h0M157.1 76.4h0M104.9 8.2h0M178.9 91.7h0M233.4 101.8h0M204.5 13.4h0M179.6 12.9h0M157.8 27.8h0M142.1 54.2h0M109.1 -0.5h0M201.2 13.4h0M123.0 17.8h0M172.2 58.0h0M124.6 71.3h0M170.4 74.8h0M194.9 34.5h0M216.3 65.8h0M115.8 83.1h0M193.0 73.0h0M201.9 86.7h0M185.9 81.9h0M128.1 5.3h0M202.8 76.6h0M205.1 23.1h0M169.3 15.6h0M119.2 69.7h0M190.1 10.8h0M150.7 11.5h0M201.5 35.5h0M162.0 141.2h0M139.2 16.5h0M233.3 66.0h0M188.4 138.9h0M93.5 40.8h0M223.1 59.1h0M98.7 42.7h0M174.7 79.5h0M151.1 69.6h0M163.6 131.6h0M168.3 24.0h0M165.2 99.1h0M212.5 78.8h0M177.0 46.8h0M180.6 43.2h0M89.4 11.2h0M198.5 123.0h0M134.8 71.8h0M214.3 20.3h0M88.5 15.4h0M215.2 45.6h0M118.6 -1.1h0M133.4 85.7h0M103.0 50.1h0M153.9 62.5h0M146.6 68.7h0M205.5 34.9h0M146.4 66.7h0M182.6 95.1h0M133.2 79.2h0M195.9 89.3h0M176.3 30.4h0M184.4 141.0h0M229.5 62.7h0M174.3 3.0h0M80.3 23.8h0M162.5 131.7h0M155.2 63.6h0M117.2 21.1h0M204.9 129.0h0M153.0 44.1h0M123.1 66.8h0M101.3 2.8h0M111.9 1.5h0M233.2 23.4h0M138.0 61.5h0M181.0 98.7h0M209.8 87.7h0M176.4 4.5h0M137.5 4.6h0M210.0 43.0h0M174.4 86.4h0M197.2 -1.0h0M82.8 29.7h0M197.7 59.5h0M118.6 5.2h0M102.5 68.7h0M233.2 8.7h0M171.2 103.4h0M163.5 78.1h0M120.6 80.4h0M194.5 134.1h0M82.2 -0.5h0M100.6 35.6h0M201.4 81.3h0M109.9 13.5h0M127.3 82.2h0M162.3 103.3h0M172.8 11.8h0M162.6 71.2h0M142.8 40.0h0M166.9 145.6h0M110.3 57.9h0M85.1 33.9h0M179.5 81.4h0M125.7 28.3h0M72.7 5.7h0M197.2 71.5h0M108.4 82.4h0M176.5 17.4h0M163.6 134.8h0M162.2 30.5h0M121.7 65.0h0M77.6 10.0h0M138.4 49.8h0M176.4 40.4h0M228.6 73.7h0M200.0 71.2h0M154.5 3.2h0M197.6 101.0h0M193.1 137.3h0M140.4 56.6h0M190.2 93.0h0M128.2 84.5h0M184.2 129.6h0M107.7 38.3h0M114.7 46.7h0M162.9 -0.5h0M224.4 52.1h0M191.1 61.0h0M110.9 41.0h0M218.2 47.3h0M222.5 23.3h0M190.8 100.2h0M230.5 125.8h0M165.5 81.5h0M123.2 38.3h0M211.1 0.7h0M180.5 23.2h0M195.1 6.2h0M164.5 103.3h0M101.9 53.9h0M97.7 60.2h0M226.3 60.1h0M126.8 32.2h0M231.0 39.3h0M88.1 25.4h0M92.3 28.8h0M147.1 82.0h0M112.7 71.4h0M188.8 8.8h0M176.9 90.4h0M173.1 50.0h0M149.7 52.4h0M174.7 57.9h0M178.9 100.8h0M158.8 1.4h0M211.3 88.5h0M161.0 45.8h0M208.0 85.9h0M171.8 -0.5h0M188.8 102.1h0M174.0 37.8h0M135.9 21.2h0M167.5 1.7h0M75.1 0.9h0M113.7 0.5h0M228.1 47.3h0M229.4 46.7h0M125.7 86.0h0M112.1 37.7h0M189.5 31.1h0M232.7 101.5h0M96.3 10.6h0M182.8 91.6h0M157.1 14.1h0M204.0 93.7h0M175.1 138.8h0M131.5 25.9h0M176.2 100.5h0M120.0 30.8h0M188.8 0.4h0M231.9 16.3h0M182.2 141.5h0M210.7 99.9h0M172.8 89.2h0M170.1 65.2h0M224.0 44.4h0M220.4 133.1h0M198.7 -0.5h0M128.4 54.2h0M205.1 61.4h0M189.1 90.5h0M171.8 54.8h0M170.4 71.5h0M88.5 35.3h0M114.9 49.1h0M99.0 52.3h0M218.3 14.3h0M196.2 13.6h0M170.5 21.1h0M109.0 7.6h0M139.6 83.0h0M123.7 47.4h0M82.2 27.9h0M192.0 -0.5h0M97.0 35.2h0M81.1 21.3h0M123.3 56.1h0M82.5 6.0h0M198.5 23.2h0M93.2 47.0h0M223.4 -0.5h0M157.6 139.8h0M93.4 -0.5h0M151.0 42.5h0M121.6 52.7h0M226.4 131.9h0M101.7 15.4h0M190.5 74.8h0M137.2 68.9h0M222.2 82.0h0M185.6 12.9h0M122.8 62.7h0M84.4 -0.5h0M206.3 99.1h0M225.4 87.9h0M105.5 44.4h0M213.4 52.1h0M79.9 -0.5h0M233.3 61.5h0M78.4 0.8h0M112.0 48.9h0M83.6 1.6h0M184.7 71.6h0M227.4 95.8h0M221.2 9.2h0M153.9 132.9h0M165.1 54.6h0M230.9 14.0h0M196.6 62.1h0M192.2 125.5h0M83.5 23.2h0M180.6 15.4h0M229.2 3.4h0M212.2 -0.5h0M117.8 23.4h0M106.4 20.8h0M185.9 0.6h0M207.2 98.0h0M159.2 37.7h0M187.7 100.6h0M120.0 71.8h0M180.2 51.4h0M125.1 74.6h0M104.7 61.5h0M122.9 84.2h0M180.2 131.9h0M209.6 73.9h0M173.3 43.1h0M170.9 62.5h0M208.3 9.0h0M191.9 103.5h0M191.1 86.8h0M191.4 138.6h0M173.7 69.9h0M90.0 8.1h0M163.1 32.3h0M80.9 11.5h0M161.9 82.0h0M216.5 -0.5h0M160.0 103.2h0M164.9 21.5h0M105.4 76.4h0M96.3 29.4h0M219.9 118.7h0M177.8 142.5h0M105.0 15.2h0M124.5 28.2h0M87.9 39.7h0M208.7 20.9h0M121.7 47.5h0M164.9 31.3h0M120.4 25.4h0M187.2 10.9h0M150.9 81.3h0M196.2 47.6h0M112.1 84.4h0M232.9 22.6h0M109.8 52.4h0M232.3 -0.5h0M86.6 -0.5h0M101.8 -0.8h0M119.9 85.6h0M127.2 -0.3h0M180.0 75.7h0M139.0 69.4h0M185.8 61.0h0M179.1 10.1h0M217.8 92.5h0M135.9 25.3h0M147.9 25.9h0M169.1 27.2h0M91.1 -0.5h0M176.4 52.7h0M226.5 83.2h0M141.7 85.5h0M169.1 1.2h0M117.9 84.6h0M135.8 33.1h0M90.1 18.2h0M142.6 4.2h0M185.0 134.4h0M221.6 3.7h0M147.4 29.7h0M156.5 99.7h0M108.4 25.0h0M231.5 2.1h0M136.0 -0.5h0M151.6 3.2h0M180.9 35.7h0M216.4 62.2h0M228.7 15.8h0M164.5 1.5h0M94.0 24.8h0M152.4 78.3h0M233.2 7.7h0M152.0 96.4h0M156.5 47.1h0M179.8 139.2h0M110.3 73.7h0M126.7 62.7h0M206.9 31.0h0M225.1 19.9h0M190.2 33.3h0M177.7 79.7h0M174.8 72.1h0M72.1 1.7h0M225.3 57.8h0M117.4 75.5h0M211.4 77.1h0M161.2 64.8h0M200.3 64.1h0M218.5 20.9h0M92.0 33.7h0M115.8 -0.5h0M228.1 18.4h0M189.7 -0.5h0M79.3 21.8h0M169.1 10.0h0M121.8 74.0h0M96.6 41.7h0M202.7 129.6h0M225.0 85.9h0M158.5 148.3h0M211.3 44.6h0M162.4 20.5h0M174.6 98.9h0M172.2 13.2h0M133.1 76.4h0M169.0 83.0h0M175.1 18.3h0M215.2 10.8h0M219.8 120.7h0M92.0 1.5h0M178.0 92.7h0M90.9 -0.9h0M150.5 26.5h0M211.3 128.1h0M147.0 20.9h0M88.9 -0.5h0M184.4 132.1h0M116.7 35.9h0M218.8 61.2h0M225.7 104.4h0M106.2 74.2h0M208.6 66.9h0M119.0 60.1h0M157.9 102.6h0M72.8 4.0h0M146.0 4.6h0M166.7 96.5h0M206.6 44.7h0M171.7 52.8h0M204.2 68.4h0M219.4 98.7h0M117.7 45.2h0M100.7 28.5h0M233.4 86.1h0M210.5 95.9h0M106.0 79.0h0M100.8 53.0h0M192.4 127.5h0M135.0 23.8h0M176.2 25.6h0M224.0 79.3h0M124.6 63.8h0M137.6 87.3h0M136.2 83.7h0M117.9 4.2h0M117.1 58.6h0M226.4 3.7h0M217.9 16.2h0M160.4 58.0h0M178.5 -0.5h0M214.5 1.2h0M189.0 77.1h0M134.3 38.0h0M156.3 55.0h0M145.5 64.2h0M169.8 54.3h0M185.9 46.7h0M127.2 19.7h0M94.9 15.4h0M222.0 47.7h0M197.3 64.9h0M84.3 4.5h0M219.8 16.0h0M125.4 69.5h0M229.7 7.6h0M104.5 38.3h0M168.1 99.9h0M125.7 87.2h0M170.8 47.9h0M110.1 71.3h0M202.5 18.3h0M139.4 53.8h0M177.8 24.7h0M228.9 20.8h0M232.3 61.7h0M134.4 69.0h0M100.8 1.3h0M117.3 30.4h0M151.4 37.4h0M142.7 -0.5h0M231.9 84.6h0M184.7 73.8h0M123.9 87.6h0M149.8 -0.6h0M147.1 58.5h0M86.1 11.4h0M196.1 76.7h0M174.7 136.7h0M227.1 100.4h0M104.3 23.1h0M158.3 132.6h0M167.5 84.5h0M158.2 57.7h0M144.9 -0.5h0M192.3 97.8h0M138.8 59.3h0M151.2 62.0h0M131.5 -0.5h0M82.1 22.6h0M85.8 34.6h0M115.7 84.6h0M164.8 137.2h0M126.1 48.0h0M148.3 6.5h0M233.6 69.6h0M233.4 104.1h0M224.2 132.4h0M151.5 13.9h0M221.3 59.9h0M215.0 6.4h0M154.4 51.3h0M189.0 52.0h0M233.2 18.9h0M233.3 79.4h0M191.5 135.0h0M159.3 129.0h0M218.2 59.1h0M112.9 22.8h0M107.5 8.6h0M160.8 39.7h0M154.5 32.5h0M133.2 20.5h0M231.3 6.4h0M183.0 42.7h0M86.1 35.9h0M213.7 27.5h0M86.8 27.9h0M145.1 78.1h0M147.5 74.4h0M175.2 1.9h0M193.6 100.9h0M204.0 32.9h0M172.5 64.4h0M177.0 70.8h0M165.5 66.9h0M137.2 5.3h0M190.9 14.1h0M196.2 101.0h0M147.1 15.4h0M164.7 48.8h0M104.5 10.8h0M208.6 81.5h0M135.1 81.8h0M204.3 86.4h0M106.3 65.3h0M184.4 54.0h0M155.9 31.2h0M202.7 7.8h0M167.6 42.3h0M232.9 104.8h0M185.9 50.0h0M145.8 13.6h0M196.4 123.8h0M134.2 11.8h0M186.2 128.6h0M196.4 67.0h0M204.4 35.0h0M77.0 9.4h0M105.3 0.6h0M145.0 84.2h0M115.3 17.9h0M233.3 83.9h0M201.6 42.7h0M149.4 63.7h0M161.5 73.1h0M151.5 22.3h0M125.7 83.9h0M163.2 8.5h0M117.6 17.9h0M143.8 53.1h0M232.3 85.8h0M233.5 12.9h0M233.3 57.0h0M132.3 62.6h0M111.6 69.0h0M229.5 76.1h0M212.9 100.2h0M172.1 20.5h0M131.7 74.1h0M134.6 60.9h0M163.6 74.1h0M220.8 79.3h0M209.4 24.7h0M115.2 9.3h0M138.3 81.4h0M148.2 14.1h0M175.2 49.2h0M168.4 19.0h0M97.5 49.7h0M170.5 100.5h0M199.6 3.4h0M171.4 135.1h0M176.9 -0.4h0M166.8 78.5h0M100.1 50.5h0M175.2 82.7h0M128.6 7.9h0M105.5 55.4h0M231.6 73.1h0M121.2 23.0h0M205.5 11.0h0M139.3 73.5h0M160.4 66.7h0M147.0 70.8h0M200.1 135.3h0M181.4 5.5h0M233.2 14.4h0M230.6 23.5h0M206.8 135.2h0M204.6 66.3h0M127.0 19.1h0M187.2 41.9h0M143.8 20.6h0M116.7 40.8h0M148.1 97.5h0M102.5 0.3h0M143.5 38.4h0M186.2 15.7h0M204.1 78.3h0M134.0 47.8h0M168.2 71.0h0M216.9 121.0h0M134.2 52.8h0M149.3 56.6h0M136.3 59.1h0M216.4 91.8h0M194.9 127.1h0M209.9 -0.5h0M185.8 74.5h0M131.5 54.1h0M158.7 58.9h0M195.0 133.0h0M222.6 97.3h0M165.7 28.8h0M103.3 70.7h0M168.5 52.6h0M162.2 58.8h0M128.4 4.2h0M181.9 44.4h0M149.7 99.0h0M183.4 75.8h0M204.9 7.5h0M152.2 75.6h0M99.0 27.7h0M201.3 94.0h0M117.6 25.0h0M117.9 81.5h0M211.3 39.3h0M95.6 -0.6h0M197.3 78.4h0M190.5 64.7h0M149.3 27.8h0M163.5 129.7h0M163.7 75.9h0M84.8 18.9h0M230.6 66.8h0M178.8 136.6h0M233.2 3.2h0M197.3 30.3h0M184.9 44.4h0M161.1 18.6h0M216.5 81.6h0M136.8 47.2h0M124.8 79.0h0M194.7 -0.5h0M185.4 100.8h0M225.2 74.6h0M121.6 40.3h0M134.0 29.9h0M117.1 66.2h0M129.3 56.0h0M153.8 46.6h0M180.6 1.6h0M206.8 12.8h0M126.1 45.8h0M177.1 42.7h0M113.5 -0.5h0M224.7 4.2h0M134.5 49.6h0M198.1 20.9h0M128.4 31.0h0M160.0 85.2h0M198.6 44.9h0M135.5 1.4h0M139.7 8.4h0M107.3 27.7h0M208.6 69.4h0M198.9 130.1h0M188.1 71.4h0M102.3 56.2h0M132.5 59.7h0M164.0 64.8h0M112.6 57.8h0M208.4 39.5h0M153.8 81.1h0M113.3 84.4h0M113.8 79.6h0M192.8 69.1h0M134.6 57.2h0M169.7 49.6h0M165.1 -0.5h0M110.1 42.9h0M165.6 38.4h0M169.6 -0.5h0M113.1 29.8h0M125.2 25.0h0M183.2 6.1h0M144.6 35.2h0M212.8 93.9h0M190.1 50.0h0M75.3 10.9h0M233.3 54.8h0M142.7 76.3h0M155.2 136.3h0M147.5 84.6h0M139.9 64.1h0M91.8 16.5h0M136.9 10.8h0M119.3 83.0h0M194.9 137.3h0M152.1 46.8h0M171.2 86.0h0M160.3 46.7h0M223.2 1.0h0M109.4 67.5h0M200.3 21.4h0M227.9 85.7h0M122.7 20.5h0M178.7 35.0h0M215.4 72.5h0M230.6 127.1h0M112.4 82.2h0M123.1 0.7h0M181.9 3.5h0M204.5 125.7h0M182.4 103.5h0M233.2 1.0h0M120.1 49.4h0M147.5 79.1h0M191.4 103.6h0M119.9 65.1h0M216.2 51.7h0M199.7 8.7h0M161.1 25.8h0M169.0 139.8h0M88.3 8.6h0M226.0 92.8h0M199.8 77.4h0M198.4 16.7h0M214.8 132.8h0M149.9 97.1h0M140.6 47.1h0M192.6 16.2h0M205.8 132.5h0M134.0 0.7h0M159.9 138.7h0M187.7 18.8h0M200.7 122.5h0M217.6 118.9h0M230.8 95.2h0M171.6 32.2h0M148.0 71.5h0M227.8 7.0h0M228.9 78.0h0M216.6 -0.5h0M148.9 31.8h0M165.6 12.9h0M204.8 42.6h0M102.3 20.5h0M233.3 72.7h0M191.3 42.3h0M208.3 93.1h0M199.9 43.1h0M173.4 35.0h0M128.5 79.0h0M146.7 50.5h0M129.7 67.2h0M232.2 58.9h0M109.5 22.6h0M142.4 1.1h0M128.2 63.8h0M233.3 45.8h0M126.5 75.6h0M121.6 32.5h0M95.0 35.8h0M178.1 60.1h0M141.0 67.1h0M233.3 74.9h0M180.6 24.8h0M225.3 41.7h0M222.9 69.7h0M210.1 134.5h0M161.6 128.6h0M114.9 53.1h0M220.8 55.4h0M153.5 89.5h0M213.0 124.2h0M170.4 30.4h0M227.6 62.5h0M219.8 133.5h0M114.6 44.1h0M173.5 75.6h0M194.1 8.2h0M191.0 139.4h0M182.4 17.8h0M205.1 121.4h0M220.8 62.7h0M142.5 18.1h0M201.2 72.5h0M173.4 2.1h0M134.2 55.3h0M181.7 58.9h0M233.3 43.6h0M111.9 5.5h0M137.9 76.7h0M128.7 59.0h0M170.6 66.7h0M145.3 40.7h0M156.3 129.2h0M126.4 56.5h0M185.2 76.6h0M204.2 123.0h0M218.4 36.7h0M206.9 84.5h0M141.1 23.1h0M139.8 75.9h0M160.6 129.4h0M160.7 148.4h0M154.0 71.8h0M157.8 147.2h0M163.1 100.3h0M145.6 56.3h0M173.6 13.6h0M133.4 24.6h0M183.0 7.5h0M142.7 31.3h0M190.6 77.3h0M232.9 124.7h0M201.3 79.6h0M121.9 37.8h0M114.6 26.4h0M226.1 78.9h0M164.3 83.8h0M110.1 33.4h0M121.9 49.1h0M164.7 17.8h0M170.6 45.7h0M224.5 -1.0h0M89.9 44.0h0M151.6 -0.5h0M211.1 61.1h0M131.3 84.9h0M224.2 66.5h0M167.8 66.7h0M215.4 7.9h0M136.9 51.4h0M150.0 74.4h0M160.9 0.6h0M175.4 34.5h0M183.2 26.0h0M108.8 61.4h0M160.7 100.9h0M193.2 83.1h0M152.3 59.9h0M113.3 28.2h0M184.6 82.7h0M173.4 143.6h0M204.2 38.5h0M95.6 7.9h0M95.9 22.7h0M146.7 38.3h0M171.7 38.2h0M141.2 51.5h0M109.2 44.3h0M96.4 44.0h0M146.6 18.3h0M131.1 6.3h0M198.9 93.5h0M94.8 54.1h0M211.4 81.8h0M191.7 66.2h0M191.7 47.6h0M84.1 12.9h0M124.5 20.1h0M140.7 14.0h0M129.3 32.4h0M165.5 60.9h0M162.6 130.3h0M173.7 47.5h0M216.4 96.5h0M197.1 129.5h0M203.0 96.7h0M139.8 36.9h0M207.7 -0.5h0M207.2 126.5h0M186.0 136.3h0M160.3 144.3h0M172.7 94.2h0M164.3 15.4h0M100.1 -0.5h0M158.0 44.3h0M91.9 19.7h0M212.7 81.9h0M111.8 58.9h0M106.3 50.2h0M163.4 13.8h0M233.2 16.7h0M170.4 68.4h0M131.3 66.0h0M185.2 67.1h0M148.5 34.4h0M186.0 28.2h0M182.9 62.6h0M213.8 57.2h0M155.9 101.7h0M233.4 97.3h0M211.7 122.9h0M233.2 32.2h0M148.1 75.5h0M233.3 48.0h0M176.5 23.5h0M103.2 44.7h0M120.0 55.3h0M174.9 63.7h0M228.5 1.6h0M77.7 -0.5h0M176.5 103.0h0M227.9 82.8h0M143.9 85.7h0M187.5 87.9h0M144.6 1.3h0M107.2 23.3h0M227.1 22.3h0M215.4 23.8h0M142.9 44.4h0M206.0 63.8h0M151.1 30.5h0M191.6 1.5h0M148.0 63.8h0M215.3 25.0h0M113.0 64.0h0M134.5 82.7h0M192.6 78.3h0M94.8 3.2h0M125.9 53.8h0M154.0 0.6h0M135.2 76.7h0M71.6 5.6h0M98.6 62.2h0M130.8 79.4h0M162.0 6.1h0"/><path stroke="#bdff42" d="M225.5 119.5h0"/><path stroke="#faff05" d="M169.7 132.4h0"/><path stroke="#e5ff1a" d="M166.8 131.3h0M170.1 132.8h0M224.3 117.9h0"/><path stroke="#fff000" d="M169.2 134.2h0M167.5 131.7h0"/><path stroke="#a8ff57" d="M218.9 125.5h0M165.3 135.4h0M213.2 118.6h0M165.4 130.9h0M217.3 126.4h0"/><path stroke="#bdff42" d="M222.2 118.5h0M219.8 127.7h0M222.8 126.9h0M210.9 118.2h0M222.2 118.5h0"/><path stroke="#80ff80" d="M143.5 57.5h0M163.3 59.4h0M198.4 1.9h0M160.9 102.4h0M117.4 32.3h0M206.9 41.9h0M196.1 20.0h0M140.5 71.0h0M208.6 11.3h0M78.8 7.7h0M137.8 17.8h0M194.3 124.5h0M170.4 -0.2h0M142.5 62.1h0M103.6 53.1h0M160.6 -0.3h0M172.9 74.7h0M213.2 135.0h0M190.5 38.2h0M202.1 91.8h0M225.2 40.3h0M220.4 123.2h0M89.0 42.0h0M108.3 73.8h0M184.3 139.9h0M193.4 102.7h0M130.5 35.8h0M98.8 47.8h0M100.8 44.6h0M167.2 49.2h0M124.5 3.9h0M205.3 90.8h0M203.6 132.5h0M119.7 45.0h0M70.4 -1.0h0M178.2 142.0h0M90.6 11.7h0M216.4 77.0h0M186.2 79.0h0M190.1 55.1h0M183.6 63.9h0M172.7 97.6h0M138.9 25.6h0M186.4 131.6h0M153.7 25.4h0M220.8 5.8h0M233.4 63.3h0M183.0 -0.5h0M187.1 102.3h0M215.9 129.1h0M186.8 64.2h0M97.9 -0.5h0M186.4 92.6h0M201.8 133.7h0M189.2 103.6h0M113.4 52.0h0M182.0 55.5h0M200.9 89.1h0M181.4 40.2h0M223.6 55.4h0M215.2 12.6h0M145.0 53.8h0M200.9 73.8h0M233.2 30.1h0M89.8 32.0h0M127.0 69.6h0M196.9 91.0h0M125.8 5.2h0M153.8 30.3h0M130.3 30.1h0M115.1 80.3h0M152.7 52.5h0M138.2 -0.5h0M99.5 62.4h0M168.3 143.9h0M184.6 1.2h0M184.5 40.1h0M212.1 10.1h0M181.3 50.2h0M204.7 17.5h0M172.4 77.9h0M231.0 51.5h0M68.7 -0.5h0M177.7 83.1h0M197.5 35.4h0M187.2 98.8h0M129.7 41.6h0M225.2 1.4h0M212.8 13.3h0M208.3 0.5h0M209.1 50.1h0M205.6 21.3h0M104.4 47.5h0M136.0 15.7h0M219.5 56.1h0M116.0 16.0h0M204.4 45.1h0M230.7 55.3h0M166.7 35.0h0M192.7 20.1h0M213.9 42.2h0M122.2 45.8h0M223.5 81.4h0M86.8 25.9h0M198.5 62.5h0M202.5 22.7h0M183.5 100.5h0M146.1 52.0h0M111.9 32.6h0M99.8 54.5h0M113.3 16.6h0M233.3 41.3h0M203.8 87.8h0M193.1 32.4h0M233.2 21.1h0M164.7 35.3h0M126.2 23.6h0M233.4 95.1h0M109.5 84.4h0M228.3 13.8h0M201.8 36.7h0M195.4 138.4h0M174.0 8.3h0M150.6 86.5h0M95.0 29.7h0M233.3 68.2h0M197.2 124.7h0M144.3 50.0h0M179.6 71.1h0M229.5 103.2h0M178.9 48.9h0M185.6 90.0h0M90.0 27.4h0M82.7 3.7h0M233.4 121.6h0M204.4 81.5h0M74.5 11.7h0M155.0 28.5h0M177.7 68.4h0M169.0 144.9h0M127.0 35.6h0M226.4 15.3h0M135.5 64.3h0M197.5 74.2h0M108.1 29.4h0M233.3 36.8h0M112.6 19.0h0M193.2 59.4h0M219.6 22.1h0M104.4 74.4h0M152.6 72.3h0M154.1 134.3h0M233.4 123.9h0M228.7 69.0h0M203.5 16.1h0M116.8 65.1h0M213.9 22.3h0M219.7 80.5h0M158.4 -0.5h0M221.5 102.8h0M233.4 90.6h0M177.4 62.5h0M168.1 142.8h0M169.9 79.0h0M227.6 8.0h0M165.6 48.1h0M108.9 3.2h0M163.9 10.0h0M190.2 99.0h0M228.1 55.4h0M202.6 63.8h0M174.8 19.7h0M200.7 44.2h0M118.5 27.2h0M187.9 4.2h0M222.8 87.6h0M179.8 46.8h0M99.1 10.7h0M81.3 25.8h0M215.1 100.7h0M166.3 103.1h0M180.6 19.7h0M116.3 54.0h0M105.5 30.1h0M178.7 20.3h0M188.9 27.4h0M103.5 72.4h0M92.7 38.3h0M136.8 78.8h0M120.8 3.8h0M98.8 -0.3h0M200.4 126.4h0M229.9 105.4h0M163.8 146.2h0M209.9 91.8h0M146.1 86.0h0M192.7 22.8h0M189.7 24.8h0M93.4 -1.0h0M154.1 95.6h0M202.5 28.9h0M86.8 2.0h0M119.7 79.6h0M84.0 21.1h0M177.3 57.4h0M207.0 77.3h0M212.7 86.2h0M105.0 17.8h0M77.0 15.5h0M141.1 5.2h0M176.8 13.6h0M172.2 83.4h0M194.5 59.9h0M141.4 34.9h0M114.8 35.4h0M158.3 63.8h0M233.4 126.2h0M213.8 40.9h0M233.3 81.7h0M217.3 68.7h0M200.9 14.9h0M121.6 78.5h0M105.1 27.3h0M223.4 20.2h0M145.6 32.5h0M233.3 34.6h0M135.6 4.5h0M225.5 76.4h0M187.8 134.9h0M197.4 49.0h0M155.5 66.1h0M113.3 66.0h0M139.7 41.6h0M149.5 44.0h0M130.1 1.5h0M106.5 61.3h0M198.4 25.0h0M106.1 56.9h0M154.2 99.7h0M178.6 14.8h0M206.6 68.4h0M213.8 2.9h0M211.4 98.5h0M180.6 132.1h0M101.2 12.6h0M198.3 84.2h0M174.1 66.5h0M87.7 19.1h0M94.8 33.5h0M189.9 21.4h0M93.4 22.9h0M160.8 136.1h0M108.6 16.0h0M122.2 54.3h0M224.7 90.5h0M151.2 86.0h0M233.1 70.8h0M164.8 40.3h0M195.6 30.8h0M230.9 91.4h0M107.9 34.7h0M87.1 38.0h0M173.6 96.5h0M129.0 76.4h0M233.3 70.5h0M233.0 130.4h0M202.9 125.3h0M178.2 55.3h0M134.3 45.4h0M233.2 9.9h0M138.5 22.5h0M130.3 28.5h0M233.2 32.3h0M124.3 22.7h0M179.7 86.4h0M227.8 127.9h0M194.7 68.9h0M87.9 13.4h0M149.9 1.4h0M163.0 140.2h0M183.4 66.4h0M233.4 99.6h0M209.4 63.5h0M218.9 -0.5h0M86.5 3.4h0M141.3 65.1h0M179.6 33.3h0M85.1 20.2h0M223.2 49.3h0M178.6 2.1h0M201.9 61.2h0M195.1 15.9h0M151.6 27.4h0M216.1 4.1h0M184.9 4.2h0M133.7 -0.5h0M95.0 47.1h0M217.6 134.0h0M135.9 34.7h0M184.1 78.0h0M231.7 78.0h0M218.3 99.9h0M226.8 67.2h0M189.7 44.3h0M223.1 102.4h0M192.8 132.4h0M165.6 76.2h0M216.8 98.8h0M95.6 -0.5h0M183.0 140.0h0M200.2 86.9h0M176.2 135.3h0M222.1 91.2h0M233.3 46.5h0M143.9 80.7h0M180.8 -0.5h0M93.7 44.1h0M228.1 105.5h0M156.6 10.7h0M111.2 85.1h0M161.8 69.7h0M172.0 4.6h0M168.1 85.8h0M205.4 -0.5h0M233.2 5.5h0M152.7 35.3h0M121.6 31.0h0M184.7 52.9h0M151.8 99.8h0M96.2 38.4h0M210.6 28.8h0M183.1 46.8h0M131.6 68.2h0M227.3 81.1h0M204.1 6.7h0M120.4 85.2h0M222.0 133.0h0M78.4 19.8h0M137.7 27.1h0M103.7 -0.6h0M232.6 90.3h0M106.0 67.7h0M118.9 72.0h0M166.4 5.5h0M167.9 2.7h0M208.7 127.7h0M221.1 -0.5h0M138.2 86.1h0M142.7 13.3h0M98.6 37.3h0M149.5 6.4h0M219.6 75.7h0M177.4 74.0h0M150.0 20.2h0M97.6 5.6h0M185.0 128.9h0M115.8 12.5h0M172.0 75.9h0M193.1 35.2h0M104.6 -0.5h0M147.2 10.4h0M191.8 88.0h0M123.8 86.5h0M204.2 47.0h0M114.4 22.4h0M196.2 135.5h0M174.1 32.7h0M203.9 94.9h0M152.4 40.8h0M166.7 43.2h0M152.4 69.2h0M138.1 67.2h0M97.5 25.5h0M185.9 86.8h0M206.6 2.1h0M129.8 64.7h0M187.4 85.6h0M207.3 120.7h0M145.4 45.1h0M176.3 54.4h0M94.3 53.8h0M183.0 21.0h0M101.1 8.8h0M136.2 31.3h0M106.5 18.8h0M111.6 46.6h0M161.4 48.8h0M135.8 42.1h0M175.7 103.4h0M181.6 53.0h0M151.4 66.9h0M145.5 26.4h0M219.5 1.0h0M155.1 132.0h0M207.8 32.9h0M154.5 41.9h0M176.2 10.6h0M149.7 84.4h0M130.9 59.2h0M229.0 92.7h0M125.9 59.5h0M93.4 3.4h0M204.2 136.5h0M165.5 85.4h0M135.4 66.6h0M121.8 61.4h0M180.2 103.5h0M174.9 61.7h0M183.4 88.0h0M233.2 12.2h0M186.4 54.3h0M210.0 3.8h0M159.6 35.3h0M98.7 13.2h0M221.1 52.0h0M122.5 59.2h0M86.8 32.1h0M225.0 101.4h0M114.6 53.9h0M190.2 69.7h0M211.2 7.6h0M155.3 37.1h0M171.9 25.2h0M225.9 121.7h0M164.2 45.1h0M207.2 38.0h0M103.6 4.6h0M139.1 20.0h0M156.6 49.8h0M230.8 71.9h0M124.4 34.4h0M77.4 17.7h0M149.6 66.4h0M187.0 30.6h0M92.3 39.6h0M167.5 98.8h0M105.9 32.4h0M170.8 24.6h0M137.7 33.4h0M113.9 60.0h0M113.4 8.4h0M230.0 42.7h0M118.8 35.4h0M110.7 64.4h0M80.8 12.8h0M71.0 -0.5h0M138.3 6.4h0M169.5 7.0h0M204.1 99.4h0M220.8 95.5h0M155.5 36.0h0M222.8 83.1h0M129.5 81.8h0M85.7 31.2h0M107.9 80.8h0M181.4 138.0h0M190.2 81.1h0M124.5 29.6h0M118.1 37.0h0M233.3 52.5h0M189.7 6.9h0M184.2 48.8h0M106.5 13.1h0M132.5 27.8h0M153.4 133.6h0M154.4 85.9h0M98.4 32.0h0M89.1 1.9h0M111.3 -0.5h0M207.2 61.3h0M93.6 13.5h0M116.2 32.4h0M194.3 13.0h0M228.9 45.1h0M108.9 40.1h0M95.3 10.4h0M152.5 54.2h0M109.2 18.5h0M139.8 28.8h0M110.7 28.1h0M90.9 42.4h0M130.8 50.4h0M181.9 64.2h0M146.7 61.1h0M183.9 30.2h0M204.4 29.8h0M178.0 88.3h0M216.7 132.9h0M210.5 33.3h0M127.3 50.4h0M132.7 64.6h0M188.6 34.9h0M219.3 85.6h0M131.7 37.7h0M221.2 45.2h0M138.8 40.5h0M176.0 32.0h0M131.9 4.4h0M117.5 46.5h0M112.0 45.4h0M156.6 9.0h0M110.7 16.2h0M183.0 11.1h0M210.0 36.7h0M201.9 99.9h0M163.0 -0.3h0M94.8 52.8h0M85.1 5.3h0M83.8 16.3h0M100.4 17.6h0M167.7 80.4h0M197.2 69.5h0M227.8 -0.5h0M206.1 78.9h0M197.0 8.5h0M202.9 121.9h0M232.2 123.1h0M181.7 81.6h0M197.5 18.4h0M172.6 59.3h0M91.9 48.1h0M100.6 6.3h0M184.7 103.5h0M200.9 69.2h0M212.6 131.2h0M192.0 64.4h0M93.0 9.4h0M170.6 95.9h0M169.2 87.9h0M133.7 5.5h0M151.0 97.8h0M178.0 102.2h0M230.9 43.9h0M156.2 77.9h0M207.4 47.4h0M105.0 58.0h0M153.6 8.9h0M208.6 5.8h0M101.2 32.8h0M162.1 47.0h0M90.9 25.0h0M159.4 83.5h0M214.4 98.2h0M152.5 87.6h0M110.0 38.2h0M188.3 80.9h0M219.3 96.3h0M152.5 11.0h0M208.3 23.2h0M161.1 12.6h0M93.2 18.3h0M157.0 81.4h0M98.0 23.2h0M182.1 30.6h0M144.2 22.7h0M142.7 21.5h0M196.3 42.9h0M163.1 144.6h0M201.0 -0.5h0M221.3 12.9h0M121.9 86.6h0M142.6 49.0h0M187.0 35.7h0M197.6 137.9h0M163.4 18.8h0M124.8 -0.5h0M149.6 17.9h0M106.7 42.2h0M176.9 86.0h0M155.0 0.5h0M187.7 38.3h0M124.4 39.7h0M188.2 127.6h0M169.0 103.3h0M153.7 49.0h0M118.0 -0.5h0M158.3 5.1h0M122.9 6.1h0M170.2 141.9h0M108.7 63.6h0M228.6 131.4h0M214.8 64.5h0M217.1 82.9h0M191.6 45.6h0M83.8 28.3h0M173.4 45.4h0M178.0 65.0h0M186.2 23.2h0M150.3 16.0h0M214.2 123.3h0M117.2 6.2h0M129.2 -0.5h0M111.2 79.1h0M153.3 84.2h0M231.8 10.0h0M212.1 16.1h0M214.3 100.1h0M159.8 80.5h0M114.8 11.7h0M193.2 47.3h0M92.8 50.1h0M169.3 56.6h0M218.4 39.1h0M222.5 40.8h0M124.7 0.8h0M118.5 43.0h0M170.6 43.0h0M166.8 53.9h0M117.6 79.0h0M159.5 53.7h0M217.2 101.4h0M222.0 37.3h0M206.8 17.5h0M231.7 65.1h0M195.8 33.6h0M186.4 20.5h0M227.9 128.8h0M181.0 78.2h0M87.8 29.9h0M227.5 57.6h0M204.6 28.0h0M190.2 126.6h0M108.0 69.3h0M174.9 52.6h0M139.8 18.8h0M197.9 131.6h0M106.4 78.4h0M213.9 33.5h0M187.5 32.1h0M171.4 81.5h0M223.9 92.6h0M200.2 40.0h0M105.4 24.7h0M102.5 6.3h0M229.9 100.7h0M94.8 27.2h0M207.2 3.8h0M192.9 129.7h0M233.3 39.1h0M137.7 37.0h0M158.8 25.7h0M211.2 72.5h0M80.3 6.2h0M224.7 61.0h0M148.3 0.9h0M188.8 139.9h0M144.0 73.4h0M138.4 14.0h0M153.6 75.9h0M223.4 14.9h0M220.9 10.6h0M89.7 37.1h0M184.7 15.7h0M190.2 3.7h0M108.2 50.6h0M215.1 30.1h0M167.4 73.1h0M166.7 103.3h0M181.7 69.2h0M105.0 5.6h0M193.2 138.9h0M191.0 96.1h0M124.4 49.0h0M206.7 87.9h0M197.1 97.4h0M156.3 147.9h0M106.8 -0.5h0M132.5 9.0h0M189.6 136.6h0M226.6 43.2h0M147.2 44.4h0M175.0 92.7h0M99.6 30.8h0M233.3 57.5h0M83.2 29.9h0M134.4 39.7h0M173.2 -1.0h0M82.2 7.8h0M228.5 50.3h0M211.2 85.4h0M226.0 10.1h0M174.1 90.5h0M190.1 72.4h0M173.5 103.4h0M182.2 87.1h0M163.1 43.3h0M137.2 39.7h0M191.1 57.0h0M216.9 63.8h0M183.5 34.4h0M207.2 96.5h0M158.6 77.9h0M232.6 2.7h0M199.3 91.9h0M97.7 39.9h0M160.3 134.7h0M193.7 66.7h0M158.5 50.3h0M106.0 34.8h0M226.3 53.8h0M193.1 30.9h0M198.5 127.7h0M214.4 -0.5h0M69.7 1.6h0M98.5 9.3h0M188.5 130.4h0M156.3 17.7h0M119.9 17.5h0M167.9 13.2h0M117.5 50.0h0M209.8 133.1h0M186.2 8.1h0M157.1 129.5h0M215.2 134.7h0M217.7 50.1h0M154.9 129.9h0M171.6 28.5h0M128.4 73.7h0M222.2 57.0h0M176.2 134.0h0M96.5 20.1h0M145.4 27.1h0M159.4 52.5h0M227.5 77.1h0M149.6 60.1h0M221.9 120.8h0M217.5 45.2h0M217.2 11.6h0M162.9 23.6h0M184.4 95.2h0M112.0 -0.8h0M127.0 -0.5h0M180.0 9.0h0M141.5 15.9h0M223.2 73.5h0M134.2 34.3h0M219.2 -0.6h0M114.8 74.0h0M107.3 80.4h0M101.0 66.7h0M162.5 52.0h0M133.3 73.3h0M89.0 21.4h0M159.5 23.9h0M158.1 42.9h0M195.9 25.9h0M108.5 79.4h0M215.5 46.7h0M159.5 3.6h0M233.2 27.9h0M132.6 80.4h0M223.5 10.2h0M169.1 35.0h0M100.6 66.3h0M213.0 90.9h0M166.4 57.0h0M120.3 57.4h0M161.2 10.2h0M168.1 26.5h0M75.5 13.7h0M98.2 18.2h0M132.0 56.5h0M180.5 89.1h0M179.5 96.5h0M106.5 72.5h0M132.9 22.1h0M106.8 3.6h0M157.6 37.7h0M185.9 57.7h0M172.1 7.8h0M206.9 -0.8h0M176.3 -0.5h0M224.8 71.6h0M225.1 49.3h0M90.7 2.7h0M215.6 99.9h0M188.8 62.4h0M204.3 2.1h0M179.0 57.5h0M101.9 10.4h0M215.8 31.9h0M201.5 97.3h0M127.2 44.9h0M182.1 134.1h0M155.3 44.5h0M97.1 60.2h0M150.7 79.7h0M111.9 13.3h0M194.5 71.0h0M89.8 13.4h0M173.8 28.7h0M155.0 130.0h0M104.7 60.1h0M96.4 14.8h0M198.8 136.9h0M141.0 81.9h0M117.2 69.8h0M149.0 86.4h0M233.1 42.7h0M199.8 137.4h0M153.8 100.8h0M143.5 9.2h0M102.3 63.9h0M163.9 57.6h0M231.3 98.7h0M216.3 42.3h0M141.5 68.6h0M166.4 9.3h0M153.3 64.8h0M191.2 22.2h0M78.8 14.1h0M178.5 44.6h0M139.5 45.6h0M131.1 44.3h0M166.2 15.3h0M172.2 30.0h0M232.9 129.3h0M138.4 43.4h0M112.0 75.7h0M95.7 56.2h0M215.6 17.8h0M227.0 52.4h0M220.8 65.2h0M158.5 136.1h0M103.7 41.5h0M72.6 7.6h0M93.9 6.6h0M141.2 73.9h0M205.7 74.5h0M115.6 62.8h0M212.3 36.9h0M231.9 120.5h0M159.5 42.7h0M211.1 36.0h0M208.1 125.5h0M88.4 5.4h0M103.2 32.8h0M197.8 10.8h0M199.7 125.8h0M132.1 33.0h0M167.6 38.4h0M117.3 57.3h0M206.5 136.2h0M197.4 36.9h0M76.4 15.7h0M87.9 23.2h0M204.1 76.8h0M214.3 83.5h0M228.0 88.0h0M131.6 21.5h0M110.2 21.4h0M220.4 84.4h0M158.1 52.7h0M94.8 19.1h0M215.5 16.2h0M190.1 39.3h0M233.3 59.2h0M164.3 26.4h0M189.2 89.2h0M230.2 37.0h0M152.2 57.1h0M190.8 9.2h0M206.4 41.0h0M167.4 20.8h0M172.1 17.5h0M210.8 23.2h0M121.1 67.1h0M221.9 100.7h0M97.7 56.4h0M155.9 26.3h0M213.2 130.4h0M157.5 61.1h0M142.9 48.2h0M148.1 80.9h0M160.1 27.7h0M211.3 30.6h0M196.7 85.1h0M180.0 27.7h0M107.9 11.4h0M190.1 83.1h0M231.0 85.8h0M119.1 51.4h0M114.7 38.5h0M167.9 76.5h0M178.2 6.3h0M217.0 25.2h0M203.7 21.0h0M176.4 95.5h0M124.0 76.6h0M111.1 54.0h0M125.8 70.7h0M165.1 6.0h0M217.3 87.8h0M228.5 122.3h0M203.1 46.4h0M138.7 34.3h0M157.6 2.9h0M205.9 5.3h0M229.0 11.8h0M134.9 17.5h0M232.5 20.9h0M104.0 14.1h0M163.5 38.4h0M229.3 129.9h0M227.7 105.4h0M208.3 129.3h0M116.6 74.3h0M193.6 86.7h0M217.9 1.7h0M73.2 -0.5h0M221.8 67.0h0M215.3 88.2h0M139.8 2.0h0M117.1 1.3h0M144.9 16.1h0M227.9 71.5h0M231.3 24.6h0M195.0 65.2h0M123.9 42.1h0M230.1 -0.5h0M186.6 140.4h0M92.9 41.5h0M81.8 18.5h0M233.3 50.3h0M179.6 18.3h0M211.9 69.9h0M151.4 33.7h0M188.1 13.5h0M197.6 88.9h0M132.7 53.1h0M164.1 68.6h0M78.1 3.6h0M159.3 70.1h0M195.7 92.7h0M115.3 2.8h0M135.6 44.5h0M179.5 135.4h0M165.3 140.4h0M75.8 13.7h0M207.2 71.2h0M160.6 -0.5h0M155.9 20.6h0M114.6 27.8h0M233.4 88.4h0M104.0 66.1h0M152.6 17.3h0M165.4 22.6h0M113.4 43.2h0M218.0 55.0h0M231.5 34.5h0M78.5 20.3h0M228.1 90.4h0M114.7 66.2h0M177.6 37.1h0M219.4 102.1h0M200.0 95.4h0M232.1 105.2h0M161.3 54.3h0M142.2 60.3h0M128.2 2.0h0M149.9 3.1h0M218.2 73.6h0M148.3 62.5h0M216.6 85.2h0M182.4 28.0h0M75.3 3.2h0M197.4 96.6h0M175.8 59.2h0M213.7 17.9h0M184.5 98.6h0M102.3 -0.5h0M187.4 22.5h0M112.0 30.8h0M165.0 51.3h0M223.9 37.5h0M135.7 50.5h0M177.8 7.8h0M74.8 6.7h0M213.6 66.9h0M221.3 71.6h0M87.8 -1.1h0M221.1 75.4h0M91.1 22.5h0M176.6 67.3h0M123.3 34.9h0M157.8 134.2h0M165.4 70.8h0M114.8 42.7h0M167.5 69.9h0M227.7 124.8h0M209.9 129.2h0M109.1 6.0h0M182.2 130.7h0M195.5 101.8h0M168.9 32.5h0M174.5 100.9h0M183.1 33.4h0M202.9 127.4h0M215.2 127.0h0M141.0 4.4h0M220.7 88.2h0M186.7 58.5h0M223.6 103.5h0M147.9 54.1h0M193.9 77.0h0M215.5 34.5h0M109.3 77.1h0M151.2 39.1h0M230.8 130.9h0M155.8 15.9h0M205.3 135.0h0M96.3 55.5h0M160.3 76.9h0M218.5 79.5h0M145.7 77.2h0M200.6 25.3h0M120.2 42.1h0M172.1 5.3h0M132.9 43.4h0M129.1 84.5h0M98.4 3.4h0M147.2 40.3h0M200.5 48.8h0M126.8 2.8h0M223.7 17.4h0M175.9 68.6h0M149.9 22.7h0M203.3 26.3h0M149.6 36.0h0M173.9 134.8h0M225.6 -0.5h0M180.6 2.7h0M187.1 6.0h0M180.4 10.0h0M185.3 -0.5h0M233.4 128.4h0M233.4 92.9h0M139.4 11.2h0M211.2 84.0h0M193.5 36.9h0M203.7 39.4h0M100.1 59.9h0M201.6 66.6h0M198.7 32.2h0M140.5 32.2h0M113.4 84.9h0M219.7 49.5h0M158.1 15.0h0M152.7 20.8h0M167.6 30.6h0M218.9 70.8h0M159.8 8.7h0M195.2 10.3h0M191.5 40.3h0M159.3 72.4h0M208.9 16.0h0M99.6 64.3h0M135.2 28.7h0M156.1 -0.5h0M102.5 70.3h0M214.3 94.3h0M155.4 14.2h0M162.1 3.4h0M117.2 62.0h0M153.9 -0.5h0M149.0 38.2h0M129.7 22.9h0M195.7 2.9h0M173.5 15.0h0M196.2 82.0h0M198.5 36.7h0M184.0 58.5h0M108.8 21.5h0M148.3 86.3h0M158.0 22.4h0M125.6 52.8h0M209.6 123.4h0M156.0 39.9h0M145.2 60.3h0M120.1 28.9h0M149.4 -0.5h0M114.7 69.5h0M174.9 23.4h0M228.5 65.2h0M156.5 74.3h0M119.0 73.9h0M185.4 42.5h0M194.0 80.4h0M214.2 68.9h0M137.0 7.9h0M190.1 132.7h0M233.4 45.7h0M220.5 73.9h0M147.2 -0.5h0M198.7 6.2h0M108.3 59.3h0M212.4 133.8h0M208.7 135.8h0M156.5 72.2h0M175.5 74.5h0M209.5 44.6h0M232.5 50.4h0M191.5 27.7h0M119.9 1.0h0M206.2 26.1h0M194.5 44.9h0M100.7 42.2h0M175.2 16.2h0M193.0 125.2h0M123.1 51.6h0M223.7 12.6h0M189.8 59.2h0M208.4 84.3h0M126.8 67.1h0M175.2 5.3h0M109.6 80.6h0M233.2 76.1h0M199.5 82.1h0M113.4 4.0h0M212.4 20.3h0M224.0 48.0h0M101.5 68.3h0M115.3 71.3h0M232.9 66.3h0M196.0 78.2h0M103.3 58.5h0M91.1 30.2h0M164.2 142.1h0M111.6 25.0h0M198.7 14.2h0M129.8 47.2h0M210.5 46.6h0M208.4 90.4h0M171.0 140.1h0M106.0 40.9h0M176.0 139.0h0M222.5 123.4h0M181.2 83.3h0M214.0 47.7h0M186.2 18.2h0M128.5 62.5h0M200.3 131.7h0M217.3 123.3h0M162.4 14.8h0M207.8 27.5h0M145.5 8.9h0M185.4 37.6h0M215.1 48.9h0M81.2 15.8h0M226.6 45.4h0M167.2 45.8h0M196.7 27.4h0M187.2 47.2h0M124.0 33.6h0M214.0 79.8h0M173.2 102.7h0M162.7 147.3h0M233.0 36.7h0M109.2 54.4h0M158.0 29.8h0M83.4 11.6h0M86.1 15.4h0M115.2 57.5h0M142.7 11.4h0M168.0 89.4h0M221.0 40.2h0M231.4 68.5h0M101.3 36.7h0M219.0 91.9h0M229.7 18.6h0M174.0 133.7h0M222.4 18.2h0M215.4 57.4h0M159.3 39.9h0M130.1 37.2h0M151.2 8.2h0M186.4 45.4h0M208.9 29.4h0M215.4 134.6h0M75.4 -0.5h0M190.0 90.6h0M193.1 11.1h0M107.0 53.0h0M220.4 93.0h0M192.9 60.9h0M218.4 5.3h0M188.3 96.0h0M160.9 83.5h0M191.4 92.9h0M152.8 73.3h0M160.1 32.6h0M145.0 68.8h0M187.1 83.4h0M167.9 60.4h0M140.4 -0.5h0"/><path stroke="#94ff6b" d="M148.1 146.6h0M215.4 118.9h0M221.8 130.7h0M147.3 146.5h0M153.6 137.8h0M148.7 144.8h0M145.2 139.6h0M226.1 126.9h0M229.8 119.8h0M224.0 130.6h0M209.1 119.4h0M155.4 142.2h0M151.9 139.7h0M221.8 124.1h0M145.3 145.8h0M149.4 138.2h0M157.0 144.8h0M155.0 143.4h0M155.4 147.5h0M148.6 138.6h0"/></g>
<g clip-path="url(#fc)"><use href="#map"/></g>
</g>
<text class="b a" x="567.1" y="502">48<tspan dx="2.2" dy="-6.4" font-size="10">°</tspan><tspan dx="0.7" dy="6.4"> N</tspan></text><text class="b a" x="567.1" y="520.4">46<tspan dx="2.2" dy="-6.4" font-size="10">°</tspan><tspan dx="0.7" dy="6.4"> N</tspan></text><text class="b a" x="567.1" y="537.6">44<tspan dx="2.2" dy="-6.4" font-size="10">°</tspan><tspan dx="0.7" dy="6.4"> N</tspan></text><text class="b a" x="567.1" y="555.3">42<tspan dx="2.2" dy="-6.4" font-size="10">°</tspan><tspan dx="0.7" dy="6.4"> N</tspan></text><text class="b a" x="567.1" y="572.7">40<tspan dx="2.2" dy="-6.4" font-size="10">°</tspan><tspan dx="0.7" dy="6.4"> N</tspan></text><text class="b a" x="567.1" y="587.3">38<tspan dx="2.2" dy="-6.4" font-size="10">°</tspan><tspan dx="0.7" dy="6.4"> N</tspan></text><text class="b a" x="567.1" y="603.8">36<tspan dx="2.2" dy="-6.4" font-size="10">°</tspan><tspan dx="0.7" dy="6.4"> N</tspan></text><text class="b a" x="567.1" y="618.1">34<tspan dx="2.2" dy="-6.4" font-size="10">°</tspan><tspan dx="0.7" dy="6.4"> N</tspan></text><text class="b a" x="567.1" y="633.9">32<tspan dx="2.2" dy="-6.4" font-size="10">°</tspan><tspan dx="0.7" dy="6.4"> N</tspan></text><text class="b a" x="567.1" y="649.3">30<tspan dx="2.2" dy="-6.4" font-size="10">°</tspan><tspan dx="0.7" dy="6.4"> N</tspan></text><text class="b a" x="567.1" y="662.4">28<tspan dx="2.2" dy="-6.4" font-size="10">°</tspan><tspan dx="0.7" dy="6.4"> N</tspan></text><text class="b a" x="567.1" y="676.5">26<tspan dx="2.2" dy="-6.4" font-size="10">°</tspan><tspan dx="0.7" dy="6.4"> N</tspan></text><text class="b a" x="567.1" y="691.4">24<tspan dx="2.2" dy="-6.4" font-size="10">°</tspan><tspan dx="0.7" dy="6.4"> N</tspan></text><text class="b a" x="567.1" y="703.5">22<tspan dx="2.2" dy="-6.4" font-size="10">°</tspan><tspan dx="0.7" dy="6.4"> N</tspan></text><text class="b a" x="636.5" y="466.8">100<tspan dx="1.6" dy="-6.4" font-size="10">°</tspan><tspan dx="1" dy="6.4"> W</tspan></text><text class="b a" x="705.4" y="466.8">90<tspan dx="1.6" dy="-6.4" font-size="10">°</tspan><tspan dx="1" dy="6.4"> W</tspan></text><text class="b a" x="769.4" y="466.8">80<tspan dx="1.6" dy="-6.4" font-size="10">°</tspan><tspan dx="1" dy="6.4"> W</tspan></text><text class="b a" x="833" y="466.8">70<tspan dx="1.6" dy="-6.4" font-size="10">°</tspan><tspan dx="1" dy="6.4"> W</tspan></text>
<text class="b t" x="728.2" y="730.8" text-anchor="middle">SAT-RAP CAPE</text>
<rect x="862.2" y="483.1" width="23.3" height="219.4" fill="url(#jet)" stroke="#262626" stroke-width="0.7"/><path d="M883.2 496.2H885.5" stroke="#262626" stroke-width="0.7"/><text class="b c" x="894.9" y="503.5">1000</text><path d="M883.2 543.9H885.5" stroke="#262626" stroke-width="0.7"/><text class="b c" x="894.9" y="551.2">500</text><path d="M883.2 592.2H885.5" stroke="#262626" stroke-width="0.7"/><text class="b c" x="894.9" y="599.5">0</text><path d="M883.2 639.9H885.5" stroke="#262626" stroke-width="0.7"/><text class="b c" x="894.9" y="647.2">-500</text><path d="M883.2 687.3H885.5" stroke="#262626" stroke-width="0.7"/><text class="b c" x="894.9" y="694.6">-1000</text>
<g transform="translate(1037.8 485.4) scale(1.0069 1.0103)">
<rect x="-0.9" y="-0.2" width="234.1" height="212.79999999999998" fill="none" stroke="#1c1c1c" stroke-width="1.1"/><g fill="none" stroke-linecap="round" stroke-width="6.4"><path stroke="#e50000" d="M156.6 138.2h0M154.6 130.6h0M157.2 141.5h0"/><path stroke="#e5ff1a" d="M137.1 51.1h0M103.5 46.8h0M150.7 52.8h0M188.0 54.3h0M168.7 56.6h0M105.2 53.6h0M144.4 43.6h0M157.3 41.5h0M128.9 39.0h0M102.3 58.9h0M181.5 54.4h0M187.9 57.7h0M116.5 42.4h0M154.5 45.2h0M131.3 37.5h0M106.7 36.9h0M180.2 57.1h0M140.6 35.3h0M115.9 56.2h0M151.5 59.0h0M136.9 58.6h0M138.9 37.7h0M156.5 56.0h0M152.9 36.4h0M141.1 48.4h0M117.3 39.6h0M110.7 41.9h0M126.1 54.0h0M144.4 49.8h0M143.1 51.3h0M149.8 37.1h0M158.1 50.2h0M135.4 59.7h0"/><path stroke="#05fffa" d="M212.8 9.6h0M185.8 0.8h0M227.4 23.5h0M222.4 57.7h0M145.8 17.3h0M230.6 54.1h0M189.4 3.4h0M215.4 51.5h0M232.1 47.3h0M216.5 50.1h0M180.6 -0.3h0M135.6 6.0h0M202.5 26.0h0M205.8 27.5h0M172.4 9.1h0M166.1 13.6h0M167.6 18.5h0M169.1 21.2h0M206.2 -0.3h0M221.1 51.1h0M180.6 1.2h0M212.5 25.9h0M163.3 18.3h0M189.7 24.1h0M170.2 22.1h0M188.8 1.9h0M215.5 -0.3h0M141.1 24.5h0M228.8 16.9h0M219.3 49.9h0M203.9 -0.3h0M189.9 -0.3h0M225.5 1.4h0M154.3 11.6h0M169.8 10.0h0M217.0 42.4h0M155.0 -0.3h0M233.1 35.7h0M196.9 -0.3h0M207.9 30.2h0M233.1 61.3h0M137.9 13.6h0M145.7 7.2h0M225.9 52.0h0M229.4 -0.3h0M233.1 31.0h0M224.5 58.5h0M223.4 21.0h0M180.3 25.8h0M195.4 24.8h0M233.1 47.3h0M228.1 38.9h0M232.9 36.4h0M177.5 23.5h0M171.9 27.2h0"/><path stroke="#ffc700" d="M172.4 70.0h0M193.9 62.9h0M199.7 97.2h0M159.3 61.4h0M171.6 67.0h0M155.7 62.5h0M190.4 139.3h0"/><path stroke="#ff9e00" d="M186.6 140.0h0M174.7 140.5h0M205.2 80.0h0M161.2 79.8h0M190.9 99.3h0M176.7 142.6h0M187.5 75.2h0M205.0 83.8h0M165.2 101.4h0M207.9 84.3h0M184.6 137.6h0M222.7 84.9h0M187.1 65.2h0M204.0 73.9h0M170.2 73.8h0M164.9 62.8h0M120.3 63.9h0M149.4 98.7h0M161.5 83.7h0M162.0 102.5h0M205.0 76.6h0M199.3 132.5h0M203.2 96.1h0M193.2 135.1h0"/><path stroke="#bdff42" d="M111.7 34.3h0M166.5 53.4h0M135.5 32.3h0M105.2 31.1h0M101.5 36.8h0M96.2 52.4h0M189.2 52.4h0M113.6 24.6h0M112.6 24.0h0M233.1 68.2h0M94.9 36.6h0M95.6 32.4h0M139.5 31.9h0M117.9 25.1h0M102.0 34.7h0M119.0 32.7h0M158.6 37.6h0"/><path stroke="#00f0ff" d="M209.5 2.2h0M233.0 50.2h0M220.5 56.6h0M211.2 4.4h0M217.8 2.4h0M214.0 19.8h0M208.5 -0.3h0M229.6 47.8h0M180.3 3.6h0M231.2 42.0h0M199.2 3.3h0M216.9 10.2h0M201.1 9.5h0M232.6 10.1h0M228.6 9.0h0M184.0 9.1h0M217.2 11.9h0M206.4 11.0h0M179.8 6.7h0M207.5 10.2h0M178.8 15.2h0M208.2 5.0h0M187.7 5.1h0M184.9 11.2h0"/><path stroke="#57ffa8" d="M147.1 29.2h0M76.0 14.4h0M93.2 17.3h0M120.2 -0.3h0M212.5 41.9h0M202.6 32.5h0M102.4 7.3h0M174.3 47.7h0M87.6 -0.3h0M89.9 -0.3h0M173.9 41.4h0M73.7 9.3h0M95.3 16.9h0M112.9 2.4h0M75.7 1.0h0M96.9 -0.3h0M158.7 32.5h0M121.2 8.2h0M111.5 9.1h0M120.1 5.1h0M83.7 6.6h0M212.6 36.5h0M88.6 8.8h0M114.2 14.6h0M93.2 8.9h0M81.5 7.3h0M92.0 14.7h0M71.3 -0.3h0"/><path stroke="#faff05" d="M222.4 72.3h0M108.0 42.3h0M127.5 42.8h0M120.8 53.7h0M104.1 51.5h0M122.5 51.5h0M115.0 53.8h0M116.9 50.1h0M156.5 52.7h0M145.3 57.2h0M232.5 77.7h0M102.3 54.5h0M156.9 46.6h0M111.1 51.9h0M149.7 39.9h0M148.8 56.5h0M155.7 53.6h0M106.7 49.3h0M110.8 44.7h0M219.4 71.0h0M122.5 48.4h0M198.1 91.1h0M192.3 97.1h0M103.3 49.9h0"/><path stroke="#2effd1" d="M130.1 7.2h0M159.7 22.2h0M197.7 30.3h0M212.6 31.1h0M214.7 61.5h0M141.8 26.7h0M163.3 26.5h0M233.1 38.0h0M142.6 9.0h0M214.8 36.3h0M167.7 23.5h0M128.2 4.8h0M222.0 64.0h0M140.1 6.2h0M155.6 26.2h0M143.4 -0.3h0M200.9 31.0h0M172.4 24.3h0M172.1 28.9h0M147.2 25.8h0M135.6 12.3h0M168.2 30.9h0M90.0 43.8h0M155.7 14.5h0"/><path stroke="#ff4c00" d="M171.4 142.5h0M182.0 92.6h0M223.7 130.5h0M219.8 95.0h0M199.2 124.3h0M196.4 128.1h0M224.4 132.2h0M207.7 130.4h0M213.6 132.3h0M202.7 127.5h0"/><path stroke="#fa0000" d="M145.5 139.5h0M159.4 131.3h0M166.4 145.1h0M152.1 145.4h0M166.9 138.9h0M155.1 145.0h0M155.8 129.9h0M161.9 135.1h0M167.4 131.8h0M152.1 139.0h0M165.6 143.3h0M145.5 145.8h0"/><path stroke="#ffdb00" d="M110.3 61.1h0M170.5 89.9h0M151.2 62.3h0M233.2 79.9h0M229.1 77.2h0M164.1 85.5h0M228.6 72.1h0M104.1 61.1h0M99.3 62.4h0M199.5 99.7h0"/><path stroke="#1affe5" d="M148.7 9.9h0M172.0 16.4h0M133.9 3.8h0M173.7 0.9h0M176.4 2.7h0M162.0 -0.3h0M152.9 7.6h0M145.5 19.0h0M162.3 0.7h0M152.0 4.5h0M147.7 11.2h0M161.9 22.0h0M161.9 13.8h0M156.8 0.7h0M221.9 44.5h0M143.0 4.5h0M214.7 30.9h0M174.5 20.8h0M184.3 29.5h0M166.0 15.9h0M149.1 23.8h0M142.4 5.7h0M135.5 20.9h0M228.5 40.9h0M163.1 29.2h0M210.7 24.6h0M162.8 14.5h0M145.7 -0.3h0M227.7 43.4h0M133.7 20.8h0M147.2 2.6h0M157.4 -0.3h0"/><path stroke="#94ff6b" d="M196.4 100.6h0M187.9 36.8h0M196.4 97.0h0M118.9 25.8h0M87.5 33.4h0M183.0 42.7h0M87.3 27.3h0M185.0 37.4h0M90.8 37.8h0"/><path stroke="#d1ff2e" d="M99.2 39.4h0M174.3 57.6h0M155.1 34.4h0M90.6 27.4h0M150.1 54.7h0M99.1 24.2h0M98.1 34.0h0M109.0 29.5h0M147.6 52.6h0M141.7 36.6h0M142.6 42.1h0M147.1 41.5h0M147.8 37.4h0M98.9 26.0h0M156.4 35.9h0M105.7 34.8h0"/><path stroke="#ff3800" d="M231.5 129.6h0M223.0 122.0h0M226.8 117.6h0M193.8 128.0h0M186.0 97.7h0M219.3 118.9h0M233.2 125.2h0M185.0 101.8h0M224.9 117.8h0"/><path stroke="#ff7500" d="M223.1 91.8h0M104.0 73.2h0M195.3 78.6h0M193.3 130.2h0M125.6 71.9h0M179.6 77.4h0M174.0 96.2h0M137.4 75.3h0M150.3 72.4h0M186.1 86.2h0M223.5 96.5h0M136.1 66.7h0M129.4 78.5h0M194.8 87.1h0M187.0 130.4h0M129.9 66.3h0M176.1 100.5h0M127.4 85.2h0M120.3 83.7h0M147.7 72.1h0M102.0 69.0h0M230.3 104.2h0M128.3 68.9h0M233.2 91.5h0M110.3 71.5h0M188.5 82.1h0M115.3 83.7h0M174.9 79.9h0M172.9 94.4h0M107.7 76.7h0M126.6 83.5h0M218.0 90.3h0M219.4 92.7h0M137.3 85.3h0M233.2 103.1h0M117.9 69.7h0M151.3 76.5h0M157.7 64.9h0M230.4 98.9h0M189.0 84.0h0M107.0 79.5h0M157.4 74.8h0"/><path stroke="#ff6100" d="M152.2 73.9h0M108.3 72.8h0M228.0 93.8h0M131.6 84.9h0M108.9 70.2h0M171.6 143.9h0M221.0 99.7h0M176.4 103.3h0M181.0 103.3h0M188.9 91.1h0M208.5 135.6h0M135.1 79.2h0M228.1 129.1h0M145.2 72.8h0M215.0 100.4h0M183.6 84.2h0M147.9 67.7h0M211.5 91.5h0M229.0 101.8h0"/><path stroke="#42ffbd" d="M112.2 11.3h0M127.5 7.3h0M171.7 40.2h0M122.6 23.7h0M111.6 14.0h0M114.5 20.0h0M91.8 4.8h0M233.1 65.9h0M169.0 45.4h0M168.7 36.2h0M116.6 18.7h0"/><path stroke="#ffb300" d="M194.2 136.5h0M189.5 65.2h0M219.4 85.3h0M152.4 64.0h0M225.5 85.5h0M233.2 84.5h0M222.9 82.9h0M183.5 141.0h0M168.8 62.4h0M220.8 86.1h0M210.2 73.7h0M176.8 66.1h0M195.2 72.1h0M199.1 66.4h0M203.5 99.3h0M190.1 133.9h0M173.8 66.2h0M173.7 91.5h0M213.9 76.2h0M172.5 65.4h0"/><path stroke="#ff8a00" d="M119.7 85.3h0M195.2 76.8h0M171.9 96.6h0M174.3 82.1h0M174.5 75.3h0M196.0 75.1h0M125.1 87.3h0M140.8 69.0h0M180.6 85.5h0M164.7 103.1h0M152.6 80.3h0M185.5 78.0h0M171.4 101.1h0M110.7 85.0h0M167.0 69.8h0M206.5 94.8h0M204.5 95.2h0M209.1 87.2h0M103.1 69.8h0M139.1 81.9h0M132.5 64.0h0M144.8 85.6h0M161.6 64.7h0M225.2 89.4h0M156.5 86.1h0M142.8 68.5h0M122.3 70.1h0M135.8 84.3h0M190.5 89.9h0M179.6 132.4h0M212.8 88.9h0M123.8 82.1h0M230.5 89.6h0M164.3 63.9h0M159.2 82.7h0M128.8 63.6h0M169.8 100.5h0M166.7 80.0h0M208.1 99.2h0"/><path stroke="#fff000" d="M176.0 61.1h0M226.0 77.7h0M129.6 61.1h0M217.9 69.9h0M221.5 70.5h0M230.4 69.8h0M108.0 45.3h0M121.5 61.0h0M173.6 87.3h0M125.1 52.6h0M225.2 72.4h0M120.9 59.9h0M218.6 75.0h0M183.9 59.6h0M196.1 59.8h0M145.3 61.8h0"/><path stroke="#ff2400" d="M219.9 127.0h0M219.6 125.1h0M181.9 98.0h0M219.4 121.5h0M210.2 118.7h0M225.4 125.5h0M231.4 128.0h0M218.0 122.3h0M229.8 128.2h0"/><path stroke="#00dbff" d="M230.1 15.2h0M187.0 18.7h0M218.4 16.3h0M219.6 8.8h0M202.1 11.0h0M186.9 9.3h0M222.3 6.8h0M228.6 2.2h0M204.5 8.5h0M204.8 18.9h0M207.0 18.5h0M216.9 14.6h0M190.5 10.0h0M189.2 18.5h0M182.2 21.3h0"/><path stroke="#6bff94" d="M194.9 34.6h0M70.0 1.8h0M95.8 11.2h0M82.4 9.7h0M92.1 43.9h0M105.1 14.5h0M79.4 4.4h0M129.5 32.5h0M73.7 -0.3h0M163.0 37.7h0M206.7 41.3h0M117.9 -1.0h0M186.5 33.9h0M87.4 31.6h0M83.4 28.5h0M95.3 1.9h0M79.3 0.9h0M202.3 39.8h0M108.5 -0.3h0M97.9 5.8h0M180.3 36.8h0M225.5 66.3h0M179.2 33.6h0M71.0 3.9h0M164.3 50.4h0M91.7 -0.6h0M100.7 9.6h0M103.8 1.5h0M109.4 21.2h0M108.0 15.0h0M101.6 -0.3h0M221.0 66.4h0M210.9 34.1h0M103.9 -0.3h0M87.0 37.5h0M182.9 37.3h0M196.5 46.5h0M203.3 45.9h0M81.3 22.0h0M81.0 24.9h0"/><path stroke="#ff0f00" d="M153.5 132.7h0M228.6 119.2h0M154.3 139.5h0M150.0 138.2h0"/><path stroke="#a8ff57" d="M120.9 33.8h0M151.2 32.3h0M127.0 37.4h0M92.3 21.4h0"/><path stroke="#80ff80" d="M200.5 44.8h0M200.7 36.1h0M192.2 45.2h0M177.2 42.7h0M193.9 45.9h0M109.7 9.9h0M198.0 41.1h0M209.9 44.9h0M91.1 39.2h0M203.8 39.3h0M185.9 46.4h0M206.4 39.8h0M187.7 43.9h0M90.4 16.3h0M196.4 101.4h0M194.6 35.8h0"/><path stroke="#80ff80" d="M181.6 39.2h0M205.2 46.0h0M231.2 67.0h0M183.7 49.0h0M189.2 39.0h0M93.6 20.3h0M181.9 46.8h0M180.1 46.6h0M218.1 66.8h0M196.4 44.1h0M209.6 35.8h0M200.6 35.1h0M117.8 -0.3h0M121.3 27.2h0M81.2 16.3h0M93.4 48.7h0M157.0 31.8h0"/><path stroke="#ffdb00" d="M169.0 83.9h0M174.7 62.5h0M217.0 77.9h0M139.7 62.4h0M181.8 61.4h0M229.9 74.6h0"/><path stroke="#bdff42" d="M96.5 29.0h0M114.7 29.2h0M158.2 34.5h0M113.9 36.4h0M115.8 32.6h0M192.5 103.0h0M94.6 43.7h0M91.9 37.0h0M97.9 55.1h0"/><path stroke="#fff000" d="M133.8 61.0h0M115.4 44.9h0M207.8 64.8h0M141.1 61.5h0M118.3 59.1h0M129.3 43.5h0M179.0 60.3h0M190.4 59.6h0M233.1 75.2h0M223.7 76.7h0M109.6 46.0h0"/><path stroke="#00f0ff" d="M202.2 14.6h0M186.9 13.7h0M211.1 22.5h0M201.5 -0.3h0M200.3 10.9h0M195.2 -0.3h0M219.4 17.5h0M226.6 53.9h0M185.3 26.0h0M199.2 -0.3h0M196.5 21.4h0M197.6 12.4h0M221.0 24.2h0M188.0 24.1h0M233.1 58.9h0M209.7 14.9h0M192.2 4.5h0M231.1 16.3h0M189.1 6.9h0M232.7 6.9h0M211.2 12.4h0M196.1 3.8h0M233.1 42.7h0M212.5 7.5h0M226.6 20.2h0M223.8 13.7h0M233.0 0.8h0M225.3 6.7h0M199.0 18.8h0M212.9 24.0h0M194.2 16.3h0M194.0 7.5h0M199.9 16.7h0M188.9 27.1h0M205.2 14.4h0M226.9 41.9h0M233.1 56.6h0M176.0 -0.3h0M213.0 3.3h0M227.7 50.2h0M185.1 3.7h0M215.1 10.7h0M184.6 18.8h0M198.8 24.2h0"/><path stroke="#ff4c00" d="M198.4 123.3h0M223.5 128.2h0M187.7 101.3h0M219.9 133.3h0M183.7 130.1h0M215.3 134.4h0M155.7 74.1h0M177.2 102.7h0M191.1 127.1h0M185.8 91.8h0M196.2 124.0h0M228.9 131.1h0M188.0 103.4h0"/><path stroke="#faff05" d="M134.1 37.4h0M98.8 46.9h0M226.7 74.2h0M108.9 55.4h0M112.4 52.1h0M123.9 42.2h0M98.6 41.7h0M147.0 61.6h0M224.5 69.3h0M104.3 41.5h0M163.9 60.4h0M99.3 43.8h0M132.4 39.3h0M136.8 38.8h0M128.2 60.2h0M111.2 48.7h0M144.0 54.2h0M120.3 48.5h0M116.5 47.8h0"/><path stroke="#2effd1" d="M136.7 26.7h0M213.4 45.3h0M151.8 9.8h0M215.3 33.5h0M157.9 0.2h0M168.2 42.6h0M210.9 29.8h0M170.4 30.9h0M146.3 13.9h0M201.1 30.3h0M213.6 34.5h0M150.2 25.8h0M219.5 54.5h0M128.2 28.8h0M130.4 27.6h0"/><path stroke="#1affe5" d="M135.5 18.8h0M167.0 -0.6h0M141.7 12.3h0M151.6 15.8h0M140.4 -0.7h0M147.4 9.7h0M227.0 57.3h0M143.8 13.3h0M164.7 1.3h0M149.2 18.9h0M138.6 19.9h0M153.5 15.9h0M161.1 10.1h0M170.1 5.8h0M164.0 -0.9h0M141.3 8.6h0M143.8 18.6h0M212.7 30.0h0M157.4 16.0h0M132.7 6.0h0M169.1 7.3h0M149.8 7.2h0M165.2 11.4h0M134.1 -0.3h0M149.7 13.4h0M218.5 23.8h0M151.9 24.6h0M225.2 37.8h0M132.8 24.3h0M225.9 21.7h0M174.6 27.5h0M197.4 1.1h0M156.0 19.6h0M173.6 -0.3h0M151.4 13.3h0M168.8 14.6h0M156.8 22.7h0M170.3 0.1h0M144.8 1.2h0M219.0 34.5h0M233.1 63.6h0M144.8 27.5h0M233.1 33.4h0"/><path stroke="#ffb300" d="M202.1 134.2h0M125.7 63.4h0M192.5 138.9h0M190.4 72.3h0M190.3 103.4h0M195.7 70.3h0M227.4 85.1h0M211.8 76.7h0M209.5 72.6h0M180.0 72.8h0M199.5 71.9h0M184.3 140.3h0M215.2 81.7h0M191.0 91.4h0M212.2 72.7h0M180.0 62.5h0M185.8 140.4h0M203.3 62.7h0M197.6 134.9h0M186.8 68.5h0M180.6 136.7h0M181.8 64.1h0M209.0 77.2h0M176.5 138.0h0M186.4 71.5h0"/><path stroke="#57ffa8" d="M110.9 -0.3h0M104.1 17.3h0M211.9 67.5h0M222.6 66.7h0M119.5 17.3h0M106.2 -0.3h0M114.8 5.2h0M122.5 -0.3h0M110.4 1.7h0M127.1 -0.3h0M171.0 46.0h0M85.0 33.3h0M162.9 40.1h0M106.4 4.4h0M110.6 4.5h0M198.4 33.3h0M83.0 29.1h0M93.2 4.5h0M99.0 5.0h0M103.3 4.6h0M90.4 0.7h0M118.3 7.4h0M169.2 47.4h0M90.1 10.7h0M84.6 5.0h0M128.3 33.5h0M142.6 30.0h0M176.1 33.7h0M101.9 16.5h0M163.0 32.2h0M163.8 44.4h0M84.8 30.9h0M75.2 6.2h0M85.9 10.0h0M113.9 16.3h0"/><path stroke="#ff2400" d="M205.2 124.8h0M171.0 133.0h0M223.4 117.8h0M169.2 139.9h0M206.8 126.9h0M229.9 120.4h0"/><path stroke="#e5ff1a" d="M118.4 44.3h0M147.1 55.1h0M154.9 48.6h0M149.8 48.8h0M100.3 55.3h0M145.1 37.0h0M132.5 59.8h0M133.8 32.8h0M176.3 57.3h0M165.5 57.3h0M112.9 41.3h0M192.6 98.7h0M150.9 56.3h0M131.3 48.5h0M134.8 44.5h0M147.0 59.5h0M171.1 57.8h0M91.8 24.5h0M150.0 47.3h0M133.3 42.7h0M139.8 55.3h0M160.8 53.7h0M96.5 44.3h0M149.3 59.6h0M135.7 48.6h0M157.0 54.2h0M154.7 59.5h0M132.3 43.8h0M144.2 34.3h0"/><path stroke="#00dbff" d="M200.5 3.9h0M190.7 16.8h0M221.4 53.4h0M193.6 13.5h0M209.6 6.2h0M215.2 6.1h0M185.1 22.0h0M192.1 7.4h0M191.1 27.7h0M197.4 5.7h0M204.7 4.9h0"/><path stroke="#e50000" d="M160.1 140.4h0M163.5 135.5h0M165.9 135.3h0M167.5 138.2h0"/><path stroke="#d1ff2e" d="M145.6 51.9h0M110.6 32.2h0M115.5 27.2h0M157.6 39.3h0M110.9 36.6h0M127.0 38.9h0M95.8 47.0h0M124.1 38.7h0M159.5 46.5h0M139.9 41.1h0M183.5 54.9h0M151.5 42.5h0M98.0 60.6h0M108.0 26.0h0M106.8 38.9h0M147.1 50.0h0"/><path stroke="#6bff94" d="M81.3 1.6h0M115.5 -0.3h0M103.5 13.8h0M116.7 2.5h0M167.8 51.4h0M87.8 4.5h0M85.9 34.3h0M85.0 19.9h0M189.5 45.1h0M88.0 39.6h0M94.0 52.2h0M110.1 10.9h0M114.4 8.9h0M121.2 2.1h0M229.0 66.4h0M124.2 1.3h0M122.4 32.0h0M85.0 21.2h0M73.1 -1.0h0M73.0 8.1h0M122.7 5.0h0M76.0 -0.3h0M92.8 10.8h0M89.2 14.7h0M180.6 45.3h0M117.2 8.6h0M176.4 47.5h0M82.0 27.0h0M94.6 -0.3h0M82.0 13.6h0M194.6 102.0h0M107.4 11.8h0M97.6 0.9h0M92.3 -0.3h0"/><path stroke="#ffc700" d="M171.2 91.6h0M197.6 62.5h0M194.8 138.3h0M148.7 63.5h0M232.1 83.0h0M186.9 134.6h0M192.1 67.0h0M107.6 60.9h0M201.3 99.9h0M228.5 81.7h0M99.0 62.7h0M207.7 69.8h0M117.9 61.3h0M190.3 139.4h0"/><path stroke="#ff7500" d="M113.6 68.6h0M154.3 82.9h0M188.5 88.0h0M147.7 77.3h0M217.2 101.2h0M182.2 80.3h0M147.1 74.1h0M160.0 71.0h0M174.5 94.1h0M113.4 82.4h0M125.8 69.0h0M113.0 84.7h0M200.9 81.1h0M210.8 95.4h0M190.2 95.1h0M225.8 101.3h0M138.3 72.2h0M111.0 66.4h0M155.4 79.9h0M232.8 90.1h0M136.5 71.9h0M172.2 143.7h0M133.1 66.7h0M232.7 92.7h0M176.7 81.7h0M150.9 86.1h0M216.6 100.0h0M126.9 83.0h0M210.4 99.6h0M105.0 75.3h0M148.5 81.1h0M163.7 70.1h0M167.6 77.9h0M109.5 79.0h0M141.8 71.8h0M140.1 86.0h0M177.7 76.7h0M115.9 66.3h0M157.2 69.7h0M153.1 88.3h0M149.2 80.3h0M142.4 67.3h0M104.2 72.1h0M113.5 71.5h0M144.7 82.6h0M136.0 86.5h0M110.6 77.3h0M209.5 92.5h0M232.6 94.5h0M152.1 83.8h0M173.0 102.2h0M137.5 79.6h0M108.7 74.8h0"/><path stroke="#ff9e00" d="M205.1 68.8h0M203.7 93.0h0M174.4 136.8h0M185.4 132.7h0M206.4 87.8h0M211.0 81.7h0M205.2 98.8h0M209.7 85.1h0M201.5 73.8h0M169.1 70.2h0M217.0 84.7h0M205.0 97.0h0M199.2 136.4h0M184.5 133.9h0M195.9 63.8h0M158.7 101.9h0M167.5 63.9h0M200.5 89.2h0M214.0 84.0h0M160.1 103.0h0M203.8 83.0h0"/><path stroke="#94ff6b" d="M86.8 21.9h0M204.8 34.6h0M121.6 36.3h0M125.5 37.7h0M192.3 42.4h0M196.6 38.5h0M89.5 20.8h0M173.1 52.4h0M88.4 29.4h0"/><path stroke="#ff8a00" d="M199.1 129.9h0M228.9 87.9h0M177.6 133.5h0M136.3 86.3h0M138.8 67.8h0M166.2 67.1h0M217.1 87.3h0M131.4 71.0h0M138.2 86.9h0M169.0 81.3h0M181.2 73.6h0M117.2 64.2h0M165.6 81.0h0M151.5 99.5h0M124.9 66.7h0M211.5 87.1h0M116.4 82.8h0M180.0 81.0h0M159.9 68.9h0M146.9 65.0h0M171.7 103.2h0M202.3 80.5h0M128.2 74.5h0M177.3 134.1h0M204.7 135.4h0M151.0 96.9h0M164.4 71.4h0M120.4 80.0h0"/><path stroke="#fa0000" d="M146.2 140.1h0M166.5 131.6h0M159.2 148.2h0M153.4 137.8h0M167.8 145.1h0M167.8 141.6h0M160.4 130.7h0M159.5 137.0h0M161.4 147.8h0M162.5 129.4h0M163.1 140.8h0M146.5 144.5h0M156.9 147.8h0M165.4 136.4h0"/><path stroke="#ff0f00" d="M233.2 122.9h0M161.9 147.5h0M145.2 141.8h0M168.8 132.3h0M160.0 141.8h0M169.0 134.9h0M221.1 118.8h0M152.3 147.1h0"/><path stroke="#42ffbd" d="M91.0 45.9h0M123.8 26.6h0M163.6 33.9h0M213.8 50.3h0M169.4 38.7h0M167.2 40.0h0M92.0 48.0h0"/><path stroke="#05fffa" d="M158.0 9.5h0M148.1 -0.3h0M220.2 22.4h0M189.3 29.7h0M217.7 7.4h0M143.7 25.1h0M216.6 25.3h0M226.6 61.1h0M151.0 20.8h0M154.9 25.1h0M217.7 37.4h0M231.4 12.2h0M222.5 -0.3h0M182.9 -0.3h0M231.3 9.2h0M151.0 2.0h0M221.0 58.6h0M186.5 29.3h0M176.2 6.1h0M221.1 49.1h0M231.0 20.9h0M220.6 1.7h0M199.2 2.7h0M215.2 0.8h0M222.8 42.7h0M158.6 1.7h0M221.9 18.5h0M195.1 1.1h0M185.3 -0.3h0M176.9 31.7h0M183.2 0.9h0M216.9 52.9h0M230.0 61.1h0M233.1 54.3h0M163.0 5.8h0M175.1 -0.0h0M226.0 47.1h0M173.2 5.9h0M182.1 27.1h0M227.8 5.1h0M218.9 0.0h0M175.7 8.7h0M173.5 16.8h0"/><path stroke="#a8ff57" d="M120.0 29.4h0M180.3 51.5h0M93.7 29.0h0M182.3 52.6h0M91.3 35.1h0M105.3 23.3h0"/><path stroke="#ff3800" d="M233.2 127.6h0M211.2 118.4h0M213.6 134.0h0M226.6 131.7h0M210.8 135.3h0M216.1 124.7h0M201.7 125.4h0M205.2 121.6h0M184.2 94.7h0M230.4 125.3h0M220.4 118.8h0M183.5 102.4h0M222.1 132.8h0"/><path stroke="#ff6100" d="M119.8 77.1h0M177.5 92.6h0M105.4 68.8h0M233.2 98.5h0M206.5 134.0h0M120.3 74.6h0M194.8 129.9h0M115.3 84.5h0M145.8 80.4h0M155.2 83.8h0M123.1 79.1h0M152.1 70.3h0M202.9 122.1h0M140.0 78.9h0M206.2 136.0h0M129.4 84.3h0M219.4 101.9h0M110.9 78.7h0M187.9 85.1h0"/><path stroke="#bdff42" d="M160.4 43.9h0M162.0 51.7h0M108.3 34.4h0M178.1 54.5h0M93.3 39.2h0M192.9 95.6h0M100.9 27.7h0M101.3 31.2h0"/><path stroke="#ff0f00" d="M144.1 144.4h0M157.9 139.4h0"/><path stroke="#ff6100" d="M203.7 129.8h0M144.1 74.6h0M114.6 74.6h0M143.6 78.7h0M211.3 97.5h0M224.0 102.6h0M119.1 71.2h0M220.0 101.5h0M183.3 103.3h0M212.1 95.3h0M121.8 67.8h0M138.9 76.5h0M107.8 81.7h0M121.2 82.5h0M225.6 94.0h0M206.8 131.8h0M126.6 66.1h0M224.2 98.7h0M233.2 96.1h0M221.0 97.3h0M229.5 97.8h0M152.9 72.0h0M172.4 99.5h0M192.0 125.9h0M209.4 132.4h0M106.0 77.4h0M140.7 74.0h0M173.2 133.6h0M199.4 126.9h0M135.0 74.9h0M121.7 76.9h0"/><path stroke="#ff3800" d="M207.4 120.9h0M214.3 121.8h0M210.7 131.7h0M225.5 126.7h0M231.2 130.6h0M218.1 119.1h0M179.9 102.9h0M213.1 134.9h0M210.1 129.4h0M210.3 134.5h0M215.0 128.0h0"/><path stroke="#fa0000" d="M150.6 143.1h0M150.0 146.7h0M144.8 141.7h0M153.6 133.1h0M158.1 129.5h0M156.6 146.7h0M147.7 138.9h0M148.9 140.6h0M165.6 145.9h0M161.7 137.5h0M158.0 144.6h0M154.0 130.9h0M144.1 143.9h0"/><path stroke="#ffdb00" d="M191.7 61.7h0M233.2 82.2h0M191.3 102.3h0M115.2 60.3h0M222.8 74.3h0M219.6 82.5h0M167.9 87.0h0M215.7 73.5h0"/><path stroke="#ff4c00" d="M178.2 99.2h0M185.7 129.0h0M181.5 94.8h0M217.6 133.8h0M180.3 92.3h0M218.2 130.0h0M180.0 97.6h0M170.3 137.0h0M200.6 129.2h0M213.6 98.0h0M200.7 122.7h0M229.3 122.8h0M189.2 129.8h0M178.9 95.4h0M211.8 128.0h0"/><path stroke="#ff8a00" d="M176.1 89.4h0M169.2 78.7h0M109.2 83.6h0M228.3 104.6h0M193.7 74.8h0M141.0 65.3h0M164.5 100.6h0M137.9 69.3h0M167.1 103.1h0M104.3 67.4h0M233.2 100.8h0M178.7 103.3h0M137.9 64.7h0M190.4 87.7h0M187.4 79.5h0M99.9 64.2h0M209.5 78.8h0M157.2 102.3h0M223.8 103.4h0M103.0 71.1h0M173.9 141.6h0M174.0 103.2h0M203.1 86.6h0M213.7 87.9h0M201.1 84.5h0M108.3 64.4h0M167.4 97.8h0M172.5 80.4h0M182.7 76.5h0"/><path stroke="#05fffa" d="M222.8 1.0h0M179.6 16.6h0M231.7 52.7h0M207.5 24.9h0M231.8 -0.3h0M176.6 12.6h0M224.5 40.0h0M219.7 36.5h0M131.7 4.7h0M180.5 11.9h0M165.6 27.6h0M229.4 51.8h0M218.5 59.4h0M175.1 15.1h0M215.5 39.0h0M196.0 29.7h0M178.8 30.0h0M220.1 -0.3h0M216.7 59.0h0M233.1 26.4h0M194.6 -0.3h0M167.5 12.5h0M137.5 -0.0h0M170.1 1.4h0M223.9 44.2h0M183.4 12.6h0M187.2 -0.8h0M233.1 24.1h0M181.2 20.2h0M233.1 49.6h0M233.1 45.0h0M139.9 18.7h0M231.3 0.9h0M176.5 22.1h0M228.3 5.9h0M232.5 55.9h0M175.4 18.7h0M146.1 5.2h0M163.3 4.2h0M219.4 41.1h0M221.8 38.6h0M204.9 21.1h0M216.2 5.0h0M233.1 40.3h0M223.8 55.4h0M151.7 10.7h0M178.3 -0.3h0M225.5 64.4h0"/><path stroke="#42ffbd" d="M173.8 32.0h0M171.9 36.8h0M170.6 30.2h0M167.2 34.0h0M90.4 42.7h0M89.0 41.7h0M167.0 30.0h0M119.6 20.1h0M127.4 0.7h0M213.7 56.3h0M197.7 31.5h0M154.4 28.7h0M126.1 35.1h0M181.8 32.5h0M79.3 18.9h0M212.4 46.5h0"/><path stroke="#ff2400" d="M163.4 146.8h0M226.2 122.0h0M213.5 118.8h0M184.1 99.7h0M232.6 122.0h0M223.8 119.7h0"/><path stroke="#ffb300" d="M192.8 65.4h0M168.8 71.5h0M213.5 79.8h0M115.4 62.0h0M175.0 83.9h0M191.4 137.2h0M201.6 68.9h0M192.7 70.2h0M183.9 74.6h0M201.6 136.8h0M168.7 92.4h0M171.7 82.5h0M177.4 65.1h0M171.8 73.5h0M169.6 93.8h0M162.4 103.1h0M124.3 62.9h0M197.1 71.0h0M194.0 66.7h0M199.3 137.3h0"/><path stroke="#faff05" d="M141.0 44.5h0M126.9 47.5h0M157.2 43.9h0M140.3 39.4h0M125.6 46.6h0M194.8 90.0h0M106.8 45.1h0M108.5 59.7h0M166.8 58.7h0M193.4 59.6h0M198.8 93.8h0M112.3 47.8h0M209.9 69.8h0M121.6 57.8h0M120.8 41.6h0M108.3 49.6h0M208.1 61.7h0M159.0 52.9h0M113.2 57.9h0M120.4 45.3h0M138.7 50.1h0M220.4 76.6h0M99.5 51.2h0M129.0 48.5h0M113.9 49.0h0M100.9 59.5h0M182.1 58.9h0M126.6 48.7h0"/><path stroke="#00f0ff" d="M209.4 26.2h0M214.4 27.2h0M233.0 17.1h0M178.3 3.2h0M233.0 19.4h0M233.0 10.1h0M198.6 8.8h0M191.8 25.2h0M222.5 8.4h0M222.1 4.7h0M224.0 47.5h0M230.6 48.7h0M209.3 21.0h0M219.5 4.1h0M204.0 20.9h0M189.4 11.4h0M196.6 18.4h0M225.2 49.2h0M200.8 19.5h0M188.9 16.4h0M185.4 17.4h0M192.3 12.2h0M233.0 14.8h0M182.2 7.7h0M207.8 11.3h0M189.1 21.6h0M202.4 24.0h0M225.7 4.6h0M181.5 24.1h0M231.5 3.2h0M210.5 19.1h0M199.7 7.1h0M220.0 12.6h0M219.8 19.2h0"/><path stroke="#2effd1" d="M127.8 26.4h0M140.7 3.4h0M136.8 2.0h0M152.4 -0.5h0M232.5 64.9h0M214.0 42.5h0M134.5 -0.4h0M145.9 23.8h0M191.5 31.1h0M144.7 11.1h0M161.7 3.7h0M138.4 25.8h0M126.9 20.0h0M160.1 29.4h0M124.4 31.1h0M150.4 -0.3h0M204.5 30.0h0"/><path stroke="#00dbff" d="M194.6 12.1h0M206.4 14.9h0M204.3 23.5h0M199.6 27.2h0"/><path stroke="#ff7500" d="M106.7 75.3h0M233.2 93.8h0M140.2 85.9h0M160.4 78.0h0M210.9 89.5h0M119.0 66.1h0M213.7 99.5h0M225.9 104.3h0M116.4 77.4h0M145.5 85.3h0M122.6 65.0h0M177.8 84.3h0M232.6 104.9h0M155.9 67.1h0M230.3 105.2h0M107.5 67.0h0M120.6 70.2h0M195.2 81.4h0M110.7 84.1h0M212.7 100.0h0M108.0 81.6h0M217.0 91.9h0M114.5 80.1h0M126.4 74.3h0M220.9 93.9h0M158.8 66.9h0M133.8 85.7h0M144.4 85.4h0M127.9 72.4h0M156.6 77.1h0M117.6 84.3h0M151.4 67.5h0M121.8 86.3h0M131.9 84.2h0M182.7 87.2h0M135.1 69.9h0M154.8 69.3h0M131.3 68.8h0M189.3 79.5h0M186.1 90.0h0M197.3 77.2h0M156.5 71.8h0M162.5 77.2h0M226.8 91.7h0M209.4 97.5h0M112.4 68.6h0M185.3 82.0h0M137.0 81.3h0M147.1 85.9h0"/><path stroke="#fff000" d="M192.8 90.6h0M232.8 80.3h0M152.7 61.7h0M225.5 79.1h0M217.5 72.5h0M215.3 71.3h0M225.1 74.8h0M100.4 49.2h0"/><path stroke="#ffc700" d="M185.5 62.0h0M181.4 69.6h0M205.1 61.8h0M187.6 62.9h0M175.2 63.5h0M127.9 62.2h0M173.5 72.5h0M177.9 68.5h0M226.6 81.8h0M162.3 62.0h0"/><path stroke="#a8ff57" d="M105.3 28.8h0M93.0 41.9h0M88.2 23.6h0M96.5 24.6h0M108.9 24.9h0M148.4 32.6h0"/><path stroke="#ff9e00" d="M204.9 63.5h0M222.6 87.6h0M199.3 88.0h0M155.8 101.4h0M188.0 139.9h0M177.8 141.3h0M205.8 98.9h0M233.2 86.8h0M199.0 70.3h0M206.9 73.5h0M176.8 87.5h0M178.7 139.2h0M188.1 66.3h0M162.6 82.7h0M113.9 63.6h0M230.9 83.9h0M206.8 78.7h0M178.4 74.5h0M157.9 102.4h0M163.4 79.6h0M201.0 76.7h0M197.2 66.0h0M175.7 134.9h0M188.9 72.0h0M114.1 62.7h0M174.5 143.1h0M196.7 134.3h0M155.1 64.3h0"/><path stroke="#d1ff2e" d="M135.5 39.8h0M118.0 29.2h0M134.3 57.3h0M226.7 68.9h0M108.1 38.9h0M93.5 25.0h0M153.2 55.4h0M102.4 40.9h0M133.4 47.7h0M148.3 33.4h0M97.9 32.7h0M118.0 34.6h0M143.0 58.7h0M96.5 49.2h0"/><path stroke="#57ffa8" d="M105.8 18.8h0M116.6 16.5h0M95.0 53.6h0M122.7 6.5h0M165.3 31.2h0M185.1 41.8h0M104.9 11.5h0M102.5 18.7h0M87.6 5.8h0M206.6 31.5h0M96.3 13.3h0M119.8 2.0h0M111.8 -0.6h0M83.7 2.0h0M120.1 -0.7h0M71.6 2.0h0M92.3 6.2h0M173.1 37.3h0M116.9 3.5h0M101.8 10.8h0M89.4 7.2h0M165.4 47.4h0M103.8 5.9h0M85.3 -0.3h0M132.0 29.3h0M101.5 1.1h0M107.5 2.0h0M78.0 18.6h0M81.1 11.1h0M112.1 21.3h0M79.0 20.7h0"/><path stroke="#94ff6b" d="M207.0 48.8h0M196.2 95.5h0M97.0 58.5h0M209.4 49.5h0M154.1 30.9h0M189.4 41.8h0M190.2 48.4h0M170.1 52.4h0M178.3 49.4h0M196.8 101.0h0"/><path stroke="#e50000" d="M165.1 133.0h0M161.6 141.4h0M156.0 131.6h0"/><path stroke="#80ff80" d="M193.9 42.4h0M137.5 30.3h0M191.9 36.6h0M113.9 -0.0h0M183.2 44.1h0M209.4 46.7h0M99.2 19.5h0M165.9 51.1h0M207.9 34.6h0M89.0 39.4h0M78.2 16.4h0M205.0 44.6h0M187.1 49.0h0M193.2 49.4h0M189.5 34.4h0M199.9 46.2h0M180.7 41.0h0M84.7 14.0h0M77.7 8.8h0M192.0 34.9h0M206.7 36.6h0M162.8 47.4h0M203.1 37.8h0M199.0 45.3h0M177.8 45.0h0"/><path stroke="#e5ff1a" d="M149.1 44.3h0M152.9 57.1h0M155.9 38.4h0M137.1 53.6h0M103.1 44.4h0M160.4 60.1h0M128.4 57.3h0M116.6 37.2h0M147.9 47.5h0M102.0 47.2h0M160.0 57.2h0M110.7 58.4h0M152.3 38.4h0M153.1 43.6h0M131.5 52.4h0M187.2 58.7h0M130.8 47.6h0M117.9 47.2h0M145.9 33.9h0M164.5 54.5h0M136.7 42.1h0M135.4 37.1h0M130.7 56.3h0M125.6 44.5h0M130.2 41.3h0M141.2 47.4h0M137.4 35.1h0M182.3 57.7h0M144.0 47.0h0"/><path stroke="#1affe5" d="M158.6 18.3h0M133.1 26.9h0M137.8 3.7h0M138.7 8.5h0M141.9 1.4h0M130.3 1.1h0M216.6 43.6h0M141.4 17.5h0M149.0 3.8h0M127.6 22.0h0M231.2 43.9h0M214.5 46.4h0M168.7 27.4h0M163.0 17.7h0M160.2 17.3h0M192.2 -0.3h0M153.9 1.7h0M124.1 29.4h0M157.4 4.4h0M218.8 64.4h0M231.5 64.6h0M213.2 -0.3h0M132.9 10.0h0M136.4 -0.3h0M233.0 5.5h0M138.8 2.1h0M193.8 -0.2h0M219.9 61.7h0M152.7 -0.3h0M147.1 17.1h0M168.9 18.8h0M159.9 -0.1h0M233.0 21.7h0M218.0 57.3h0M155.2 9.5h0M126.5 23.4h0M166.1 5.7h0M153.8 26.0h0"/><path stroke="#6bff94" d="M95.7 6.2h0M95.0 54.3h0M172.0 49.7h0M86.0 35.4h0M97.8 11.6h0M99.2 -0.3h0M80.6 8.7h0M202.2 49.1h0M191.4 47.0h0M176.2 40.1h0M76.0 13.4h0M202.5 40.9h0M194.7 101.5h0M113.2 -0.3h0M83.0 3.4h0M112.3 7.4h0M86.3 29.3h0M209.8 38.8h0M94.1 13.2h0M159.9 33.6h0M140.5 29.9h0M84.0 31.2h0M96.5 56.7h0M118.2 22.0h0M87.6 37.2h0M77.5 5.7h0M161.7 41.3h0M97.8 3.2h0M108.1 3.5h0M170.6 50.3h0M115.6 22.1h0"/><path stroke="#d1ff2e" d="M91.4 29.1h0M98.7 36.4h0M171.6 58.7h0M98.5 57.4h0M134.1 34.3h0M135.5 57.0h0M106.4 32.2h0M104.8 26.2h0M99.8 33.7h0M112.0 39.5h0M152.9 34.2h0M112.7 26.2h0M96.1 38.9h0M91.9 25.9h0M139.2 50.9h0M137.9 45.2h0M95.8 42.3h0M213.0 69.4h0M114.4 35.0h0M176.2 55.3h0M95.2 35.0h0M105.3 36.9h0M132.5 54.6h0M142.6 56.9h0M186.4 52.8h0M169.5 55.0h0M100.8 29.4h0"/><path stroke="#ffb300" d="M179.0 142.1h0M183.3 66.3h0M201.5 64.1h0M180.7 138.9h0M182.2 72.7h0M171.2 71.5h0M206.6 71.4h0M197.1 137.8h0M199.2 62.7h0M203.9 136.4h0M176.4 70.5h0M177.4 71.7h0M183.5 64.3h0M201.4 99.5h0M213.7 73.9h0M182.2 134.8h0M148.8 97.7h0M187.9 136.3h0M189.1 68.7h0M185.1 68.6h0"/><path stroke="#a8ff57" d="M102.3 23.9h0M141.8 32.1h0M184.8 38.4h0M161.1 49.5h0M92.8 32.0h0M159.9 38.4h0M171.8 53.4h0M215.5 67.9h0M177.7 52.2h0"/><path stroke="#ff7500" d="M197.9 82.8h0M172.7 134.7h0M177.7 89.7h0M137.2 77.6h0M174.5 77.9h0M122.7 85.2h0M165.2 77.1h0M133.9 64.9h0M199.5 79.3h0M215.3 90.5h0M184.0 78.7h0M182.6 82.5h0M147.2 70.0h0M219.4 99.1h0M122.7 71.2h0M198.2 74.7h0M111.5 75.5h0M229.0 91.1h0M158.9 80.0h0M132.1 79.5h0M111.1 81.0h0M192.9 79.9h0M150.2 74.3h0M117.9 75.5h0M125.7 86.9h0M214.8 91.4h0M130.2 76.3h0M133.8 76.5h0M145.1 67.3h0M190.5 82.8h0M126.7 77.5h0M182.1 132.2h0M133.1 71.8h0M183.6 89.7h0M104.9 76.1h0M221.6 102.6h0M161.6 72.0h0M187.5 132.0h0M160.5 75.4h0M148.6 84.6h0M152.9 67.7h0M233.2 89.2h0M149.4 86.2h0M188.8 76.9h0M198.8 83.9h0M105.9 65.2h0M151.6 86.6h0M114.0 66.2h0M179.7 87.7h0M142.9 64.7h0M115.1 72.9h0M171.6 77.4h0M191.4 76.7h0M102.2 67.5h0M153.4 76.2h0"/><path stroke="#ff6100" d="M126.8 79.8h0M182.1 89.9h0M142.5 82.6h0M194.7 84.6h0M116.6 80.2h0M213.6 124.0h0M141.2 77.2h0M131.1 82.9h0M231.5 102.3h0M232.9 97.6h0M146.0 76.5h0M113.5 77.5h0M141.5 84.9h0M228.0 100.5h0M181.7 131.2h0M218.4 97.0h0M225.6 97.7h0M230.3 94.6h0M122.7 73.8h0M101.0 66.9h0"/><path stroke="#57ffa8" d="M93.3 51.2h0M173.3 44.7h0M124.8 -0.3h0M180.6 33.4h0M210.9 64.1h0M80.6 -0.3h0M75.6 11.3h0M84.0 12.1h0M121.0 24.5h0M135.8 30.2h0M108.8 -0.5h0M212.4 51.9h0M73.8 4.2h0M80.1 14.6h0M111.0 6.5h0M84.2 27.8h0M106.7 15.7h0M98.1 8.2h0M193.3 32.7h0M122.4 17.2h0M85.1 17.0h0M75.0 12.3h0M173.2 34.6h0M121.9 22.6h0M149.6 29.6h0M107.3 6.8h0M91.9 8.7h0M213.4 55.2h0M70.3 0.8h0"/><path stroke="#42ffbd" d="M158.7 29.6h0M165.1 36.6h0M170.4 34.9h0M78.3 -0.3h0M139.7 14.1h0M166.1 41.1h0M188.3 32.6h0M167.3 44.3h0M126.4 4.7h0M171.8 42.7h0M93.0 50.1h0"/><path stroke="#bdff42" d="M110.6 26.9h0M138.5 47.6h0M119.5 36.5h0M159.4 41.9h0M209.5 67.1h0M112.1 29.4h0M131.7 33.5h0M112.9 31.8h0M95.0 27.2h0M96.0 22.6h0M144.2 32.0h0"/><path stroke="#ff9e00" d="M190.6 74.2h0M205.2 81.1h0M201.7 95.5h0M173.2 139.1h0M202.9 71.7h0M228.0 105.3h0M168.9 63.8h0M225.6 87.0h0M164.3 74.3h0M196.7 87.9h0M167.9 66.8h0M199.3 64.1h0M231.8 86.1h0M205.9 91.3h0M184.6 67.1h0M207.0 89.0h0M179.6 67.7h0M227.0 88.9h0M111.0 64.4h0M202.8 67.7h0M169.4 103.2h0M196.3 132.3h0M167.1 74.3h0M217.2 82.2h0M100.0 64.8h0M169.2 102.6h0"/><path stroke="#ff3800" d="M180.5 99.9h0M211.2 121.4h0M209.3 127.2h0M232.8 120.9h0M222.7 118.6h0M227.8 124.2h0M215.1 119.7h0M215.6 129.9h0M170.0 144.4h0M215.8 119.2h0M195.5 125.0h0M230.6 120.3h0M187.7 97.4h0M209.3 119.5h0M186.3 99.5h0M194.1 124.8h0M186.1 93.8h0M205.7 121.7h0M217.4 126.5h0M222.5 125.1h0M210.0 124.3h0M216.7 131.8h0M222.8 130.3h0"/><path stroke="#e5ff1a" d="M162.4 56.9h0M143.9 39.6h0M140.2 56.5h0M146.1 39.9h0M170.0 60.1h0M120.3 40.1h0M153.0 41.7h0M134.2 51.6h0M152.3 48.9h0M185.3 56.7h0M134.8 54.3h0M102.4 29.4h0M153.8 52.3h0M107.4 51.3h0M190.7 55.9h0M216.7 70.1h0M116.8 52.5h0"/><path stroke="#e50000" d="M161.3 144.6h0"/><path stroke="#80ff80" d="M187.6 46.9h0M209.6 32.4h0M194.2 92.9h0M98.9 15.8h0M89.1 18.6h0M187.2 39.4h0M197.7 36.6h0M110.2 16.2h0M105.2 9.2h0M90.4 19.3h0M180.7 50.1h0M83.0 19.7h0M92.4 1.8h0M199.9 42.1h0M93.4 47.0h0M96.0 56.4h0M104.9 20.9h0M211.6 61.2h0"/><path stroke="#ff8a00" d="M202.3 131.9h0M167.7 100.2h0M103.3 64.3h0M155.7 99.7h0M125.2 77.3h0M156.8 81.8h0M192.0 84.7h0M150.1 69.6h0M179.2 79.4h0M158.9 83.8h0M217.0 94.3h0M161.4 67.9h0M209.8 82.8h0M221.2 90.5h0M132.7 82.9h0M203.3 76.2h0M175.5 134.2h0M118.1 82.0h0M153.7 100.5h0M191.5 132.7h0M153.2 96.2h0M178.9 133.0h0M142.5 85.3h0M100.7 62.9h0M194.2 131.8h0M131.2 73.7h0M123.9 87.4h0M203.9 90.4h0"/><path stroke="#94ff6b" d="M199.4 39.0h0M98.3 21.5h0M209.1 41.4h0M174.5 49.5h0M101.5 22.5h0M191.8 38.6h0M107.8 21.7h0M90.9 31.8h0"/><path stroke="#ffc700" d="M173.5 85.0h0M171.5 61.8h0M182.8 136.8h0M181.2 141.5h0M206.7 66.4h0M216.7 79.7h0"/><path stroke="#1affe5" d="M214.0 22.1h0M227.1 15.0h0M169.0 -0.3h0M158.6 14.5h0M157.5 23.5h0M169.1 2.4h0M173.9 12.1h0M190.6 -0.6h0M136.5 15.7h0M203.8 -0.1h0M218.8 43.8h0M168.7 16.4h0M154.5 22.1h0M166.7 -0.3h0M141.1 -0.3h0M143.1 -0.7h0M228.5 64.9h0M164.6 24.5h0M124.9 21.4h0M129.5 21.6h0M201.8 -1.0h0M162.7 11.7h0M159.8 27.4h0M213.7 38.6h0M159.6 6.6h0M134.3 10.2h0M217.0 45.9h0M218.1 39.6h0M223.2 62.7h0M174.7 3.2h0M138.5 17.3h0M233.1 52.0h0M155.6 6.3h0M223.0 51.2h0M132.8 1.5h0M161.9 24.4h0M148.2 7.7h0M215.1 54.7h0M228.1 60.4h0M168.8 24.4h0M125.3 30.2h0M171.7 5.0h0M171.9 19.4h0M137.6 24.1h0M183.8 -0.5h0M139.8 20.9h0M131.8 -0.3h0M170.3 10.9h0M134.4 24.6h0M170.3 4.6h0M178.8 31.3h0M147.8 21.2h0M128.4 23.5h0M141.6 22.6h0M145.8 21.9h0M173.2 13.5h0M213.3 64.2h0M161.3 19.2h0"/><path stroke="#2effd1" d="M167.4 4.9h0M127.6 31.1h0M213.3 59.3h0M164.3 -0.3h0M140.0 12.1h0M166.7 8.4h0M231.5 -1.0h0M122.8 19.9h0M155.6 12.4h0M184.6 32.2h0M129.5 -0.3h0M163.8 9.9h0M159.2 11.0h0M174.4 30.2h0M154.7 5.2h0M159.7 -0.3h0"/><path stroke="#fff000" d="M119.4 41.7h0M233.2 77.5h0M105.5 60.1h0M218.6 80.0h0M233.1 72.9h0M221.6 80.2h0M176.3 60.2h0M123.9 55.3h0M128.7 54.8h0M106.5 47.7h0M122.6 58.8h0"/><path stroke="#ff4c00" d="M187.8 128.0h0M189.9 126.9h0M185.7 103.4h0M222.7 132.2h0M220.6 132.8h0M207.7 124.6h0M233.2 129.9h0M177.8 97.6h0M212.9 130.2h0M151.2 82.6h0M212.2 119.6h0M193.2 125.2h0"/><path stroke="#ff2400" d="M228.0 118.7h0M208.3 122.7h0M225.9 118.2h0M147.7 146.3h0"/><path stroke="#fa0000" d="M160.4 129.0h0M162.8 130.4h0M149.8 144.3h0M155.3 134.8h0M162.0 131.5h0M147.8 142.3h0M153.8 142.5h0M164.5 130.5h0M153.5 147.0h0M152.1 137.4h0M154.6 147.5h0M153.2 135.4h0"/><path stroke="#ff0f00" d="M160.5 147.8h0M158.5 133.9h0M164.4 143.9h0"/><path stroke="#6bff94" d="M82.1 24.0h0M176.3 36.8h0M167.2 50.2h0M85.3 25.2h0M153.0 30.1h0M96.5 19.6h0M74.0 10.2h0M178.6 38.4h0M77.0 16.5h0M115.2 6.2h0M195.2 96.7h0M87.0 17.2h0M175.1 43.4h0M73.3 6.2h0M109.1 20.0h0M207.9 43.5h0M72.0 6.0h0M184.5 33.7h0M83.0 -0.3h0M111.2 19.0h0M123.1 34.6h0M80.0 22.8h0M69.0 -0.3h0M86.8 2.2h0M100.9 14.1h0M103.2 9.4h0M86.3 12.0h0M122.4 -0.5h0M88.1 -1.0h0M124.9 7.1h0M78.5 12.7h0M76.0 4.2h0"/><path stroke="#00f0ff" d="M224.7 18.9h0M180.7 14.5h0M180.7 29.6h0M178.3 19.9h0M189.6 13.3h0M205.5 1.1h0M195.6 13.6h0M198.6 13.9h0M216.3 19.9h0M230.0 11.0h0M213.5 13.7h0M183.1 14.0h0M200.6 21.3h0M226.8 16.4h0M221.1 6.1h0M197.8 27.7h0M221.0 47.9h0M223.9 10.8h0M225.4 9.5h0M212.1 17.1h0M213.6 15.9h0M233.0 7.8h0M192.4 1.8h0M192.7 9.6h0M225.8 12.6h0M203.4 7.1h0M229.4 37.1h0M233.4 44.6h0M193.3 18.7h0M224.2 17.1h0M233.0 3.1h0M180.4 9.1h0"/><path stroke="#05fffa" d="M215.2 63.5h0M230.6 58.8h0M230.5 39.2h0M217.8 -0.3h0M184.2 23.7h0M187.6 -0.3h0M227.1 -0.3h0M192.7 29.9h0M202.0 1.4h0M191.0 21.5h0M210.8 -0.3h0M152.4 19.6h0M217.1 22.5h0M233.1 28.7h0M171.3 -0.3h0M229.2 22.8h0M176.2 24.6h0M233.4 13.5h0M229.5 18.6h0M177.8 9.2h0M216.3 -0.7h0M221.2 13.4h0M229.3 57.1h0M224.8 -0.3h0M217.5 61.0h0M224.2 36.4h0M198.3 0.1h0M232.9 20.0h0M232.2 61.4h0M176.7 17.0h0M138.8 -0.3h0M165.6 22.4h0M211.4 1.8h0M195.0 26.1h0M180.7 21.2h0M176.7 26.9h0M182.8 17.7h0"/><path stroke="#ffdb00" d="M173.3 88.8h0M166.7 85.5h0M170.1 86.1h0M136.6 61.7h0M227.3 80.0h0M231.5 79.9h0M232.4 72.2h0M199.6 92.1h0M198.0 89.8h0"/><path stroke="#00dbff" d="M203.8 17.1h0M206.7 17.2h0M218.9 13.8h0M206.4 7.2h0M194.1 21.0h0M209.7 9.7h0M197.2 16.6h0M233.0 12.4h0M195.3 8.6h0M185.8 6.7h0M208.7 16.2h0"/><path stroke="#faff05" d="M105.1 57.6h0M118.5 56.1h0M109.9 56.2h0M124.2 57.4h0M137.3 47.2h0M140.2 59.0h0M152.7 46.1h0M199.0 100.5h0M121.8 46.5h0M146.0 43.8h0M101.1 56.3h0M158.0 58.6h0M128.1 51.7h0M145.6 42.6h0M107.3 56.9h0M101.0 52.8h0M119.4 51.4h0M112.1 53.8h0M125.6 60.0h0M124.0 44.7h0M102.5 40.3h0M233.1 70.6h0M118.4 54.6h0M114.5 39.8h0"/></g>
<g fill="none" stroke-linecap="round" stroke-width="5.2"><path stroke="#d10000" d="M137.9 155.5h0M142.6 156.1h0"/><path stroke="#e50000" d="M138.6 156.6h0M142.5 154.1h0M142.2 155.8h0M140.5 154.0h0M136.4 153.8h0M138.5 153.9h0M137.3 154.4h0M137.2 155.7h0M139.6 156.1h0M140.6 156.3h0M141.9 154.0h0"/></g>
<g clip-path="url(#fc)"><use href="#map"/></g>
</g>
<text class="b a" x="988.5" y="501.7">48<tspan dx="2.2" dy="-6.4" font-size="10">°</tspan><tspan dx="0.7" dy="6.4"> N</tspan></text><text class="b a" x="988.5" y="520.1">46<tspan dx="2.2" dy="-6.4" font-size="10">°</tspan><tspan dx="0.7" dy="6.4"> N</tspan></text><text class="b a" x="988.5" y="537.3">44<tspan dx="2.2" dy="-6.4" font-size="10">°</tspan><tspan dx="0.7" dy="6.4"> N</tspan></text><text class="b a" x="988.5" y="555">42<tspan dx="2.2" dy="-6.4" font-size="10">°</tspan><tspan dx="0.7" dy="6.4"> N</tspan></text><text class="b a" x="988.5" y="572.4">40<tspan dx="2.2" dy="-6.4" font-size="10">°</tspan><tspan dx="0.7" dy="6.4"> N</tspan></text><text class="b a" x="988.5" y="587">38<tspan dx="2.2" dy="-6.4" font-size="10">°</tspan><tspan dx="0.7" dy="6.4"> N</tspan></text><text class="b a" x="988.5" y="603.5">36<tspan dx="2.2" dy="-6.4" font-size="10">°</tspan><tspan dx="0.7" dy="6.4"> N</tspan></text><text class="b a" x="988.5" y="617.8">34<tspan dx="2.2" dy="-6.4" font-size="10">°</tspan><tspan dx="0.7" dy="6.4"> N</tspan></text><text class="b a" x="988.5" y="633.6">32<tspan dx="2.2" dy="-6.4" font-size="10">°</tspan><tspan dx="0.7" dy="6.4"> N</tspan></text><text class="b a" x="988.5" y="649">30<tspan dx="2.2" dy="-6.4" font-size="10">°</tspan><tspan dx="0.7" dy="6.4"> N</tspan></text><text class="b a" x="988.5" y="662.1">28<tspan dx="2.2" dy="-6.4" font-size="10">°</tspan><tspan dx="0.7" dy="6.4"> N</tspan></text><text class="b a" x="988.5" y="676.2">26<tspan dx="2.2" dy="-6.4" font-size="10">°</tspan><tspan dx="0.7" dy="6.4"> N</tspan></text><text class="b a" x="988.5" y="691.1">24<tspan dx="2.2" dy="-6.4" font-size="10">°</tspan><tspan dx="0.7" dy="6.4"> N</tspan></text><text class="b a" x="988.5" y="703.2">22<tspan dx="2.2" dy="-6.4" font-size="10">°</tspan><tspan dx="0.7" dy="6.4"> N</tspan></text><text class="b a" x="1059.9" y="464.3">100<tspan dx="1.6" dy="-6.4" font-size="10">°</tspan><tspan dx="1" dy="6.4"> W</tspan></text><text class="b a" x="1129.2" y="464.3">90<tspan dx="1.6" dy="-6.4" font-size="10">°</tspan><tspan dx="1" dy="6.4"> W</tspan></text><text class="b a" x="1193.5" y="464.3">80<tspan dx="1.6" dy="-6.4" font-size="10">°</tspan><tspan dx="1" dy="6.4"> W</tspan></text><text class="b a" x="1257.5" y="464.3">70<tspan dx="1.6" dy="-6.4" font-size="10">°</tspan><tspan dx="1" dy="6.4"> W</tspan></text>
<text class="b t" x="1150.5" y="731.3" text-anchor="middle">Surface Skin Temperature (K)</text>
<rect x="1285.1" y="483.1" width="23.3" height="219.6" fill="url(#jet)" stroke="#262626" stroke-width="0.7"/><path d="M1306.1 502H1308.4" stroke="#262626" stroke-width="0.7"/><text class="b c" x="1317.8" y="509.3">300</text><path d="M1306.1 554.3H1308.4" stroke="#262626" stroke-width="0.7"/><text class="b c" x="1317.8" y="561.6">280</text><path d="M1306.1 607.3H1308.4" stroke="#262626" stroke-width="0.7"/><text class="b c" x="1317.8" y="614.6">260</text><path d="M1306.1 660.5H1308.4" stroke="#262626" stroke-width="0.7"/><text class="b c" x="1317.8" y="667.8">240</text>
</svg>
</body></html>
